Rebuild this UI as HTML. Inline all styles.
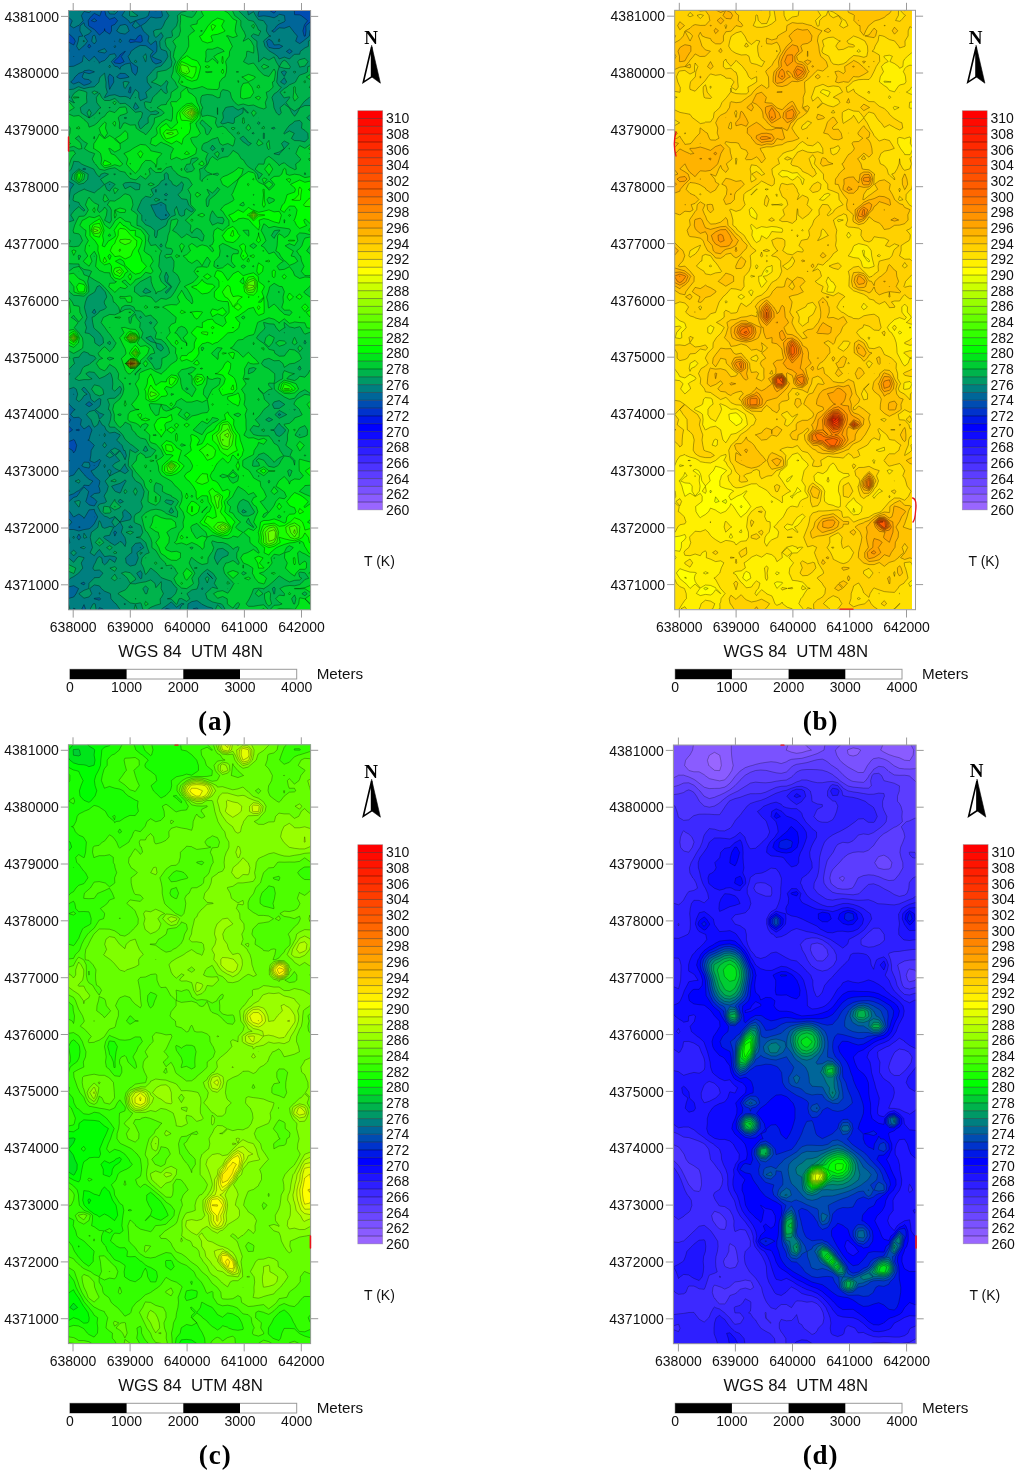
<!DOCTYPE html>
<html lang="en"><head><meta charset="utf-8"><title>Temperature maps</title>
<style>html,body{margin:0;padding:0;background:#fff}svg{display:block}text{font-family:"Liberation Sans",Arial,sans-serif;font-size:14px;fill:#111}.sf{font-family:"Liberation Serif","Times New Roman",serif;font-weight:bold;fill:#000}</style></head><body>
<svg width="1024" height="1472" viewBox="0 0 1024 1472">
<rect width="1024" height="1472" fill="#fff"/>
<!-- panel a -->
<clipPath id="clipa"><rect x="68.6" y="10.5" width="242.0" height="599.3"/></clipPath>
<g clip-path="url(#clipa)" stroke="#000" stroke-width=".45" stroke-opacity="0.8" stroke-linejoin="round" fill-rule="evenodd">
<rect x="68.6" y="10.5" width="242.0" height="599.3" fill="#0019e6" stroke="none"/>
<path fill="#0033cc" d="M325.4 625.2l-5.1 0 -5.2-.2 -5.1 .1 -5.1 0 -5.2 0 -5.1 0 -5.1 0 -5.2-.1 -5.1 0 -5.1 0 -5.2 0 -5.1-.1 -5.2 .1 -5.1 .1 -5.1-.1 -5.2 0 -5.1-.1 -5.1 0 -5.2 0 -5.1 0 -5.1-.1 -5.2-.1 -5.1 0 -5.2 .1 -5.1 0 -5.1 0 -5.2 0 -5.1-.1 -5.1 0 -5.2-.1 -5.1 .1 -5.1 .1 -5.2 0 -5.1 .1 -5.2 0 -5.1-.1 -5.1 0 -5.2-.1 -5.1-.2 -5.1 .2 -5.2-.1 -5.1 .1 -5.1-.1 -5.2-.1 -5.1 .1 -5.2 .1 -5.1 0 -5.1 0 -5.2 0 -5.1 .1 -5.1 0 -5.2 0 -.4-.4 0-5.1 0-5.2 0-5.1 0-5.1 0-5.1 .1-5.1 -.1-5.1 0-5.2 .1-5.1 -.2-5.1 0-5.1 0-5.1 .1-5.1 0-5.1 .2-5.2 .1-5.1 -.1-5.1 -.1-5.1 .2-5.1 -.1-5.1 0-5.2 -.1-5.1 .1-5.1 -.1-5.1 .1-5.1 -.2-5.1 .1-5.1 .1-5.2 0-5.1 0-5.1 0-5.1 0-5.1 .1-5.1 0-5.2 0-5.1 0-5.1 .1-5.1 -.1-5.1 0-5.1 -.1-5.2 .1-5.1 -.1-5.1 -.1-5.1 .1-5.1 0-5.1 -.1-5.1 -.1-5.2 0-5.1 -.1-5.1 0-5.1 0-5.1 0-5.1 .1-5.2 -.1-5.1 0-5.1 -.1-5.1 0-5.1 0-5.1 -.1-5.1 0-5.2 .1-5.1 -.1-5.1 0-5.1 .1-5.1 0-5.1 -.1-5.2 0-5.1 .2-5.1 0-5.1 -.1-5.1 0-5.1 .1-5.2 -.2-5.1 .2-5.1 -.1-5.1 .1-5.1 0-5.1 0-5.1 0-5.2 0-5.1 0-5.1 0-5.1 .1-5.1 .1-5.1 0-5.2 0-5.1 -.1-5.1 0-5.1 0-5.1 0-5.1 0-5.1 0-5.2 -.1-5.1 -.2-5.1 0-5.1 0-5.1 .1-5.1 0-5.2 0-5.1 .1-5.1 .1-5.1 0-5.1 -.1-5.1 0-5.2 .1-5.1 .2-5.1 0-5.1 0-5.1 0-5.1 0-5.1 0-5.2 -.1-5.1 0-5.1 0-5.1 .1-5.1 0-5.1 0-5.2 -.1-5.1 0-5.1 0-5.1 0-5.1 0-5.1 .3-.4 5.2 0 5.1 0 5.1 .1 5.2 0 5.1 0 5.1 .1 5.2 .1 5.1-.1 5.2 .1 5.1-.3 5.1 0 5.2 0 5.1 0 5.1 .1 5.2 0 5.1 0 5.1 .1 5.2-.1 5.1 0 5.2 0 5.1 0 5.1-.2 5.2 .1 5.1 .1 5.1-.1 5.2-.2 5.1 0 5.1-.1 5.2 0 5.1 0 5.2 .1 5.1 0 5.1-.1 5.2 .1 5.1 .1 5.1 .1 5.2 0 5.1 0 5.1 .2 5.2 0 5.1 0 5.2-.1 5.1 .1 5.1-.1 5.2 0 5.1 0 5.1 0 5.2 0 5.1 .1 5.1 0 5.2 0 5.1 0 .2 .2 -.2 4.1 -2.4 1 2.4 2.2 .1 2.9 -.1 5.1 .2 5.1 0 5.1 .1 5.2 0 5.1 .2 5.1 0 5.1 -.1 5.1 .1 5.1 0 5.2 .1 5.1 0 5.1 0 5.1 -.1 5.1 .1 5.1 0 5.1 -.1 5.2 0 5.1 0 5.1 0 5.1 0 5.1 .1 5.1 0 5.2 0 5.1 -.1 5.1 0 5.1 .1 5.1 -.1 5.1 .1 5.2 0 5.1 0 5.1 0 5.1 0 5.1 .1 5.1 0 5.1 .1 5.2 0 5.1 .1 5.1 0 5.1 -.1 5.1 0 5.1 0 5.2 -.2 5.1 0 5.1 0 5.1 0 5.1 0 5.1 -.1 5.1 .1 5.2 0 5.1 0 5.1 -.1 5.1 0 5.1 0 5.1 .1 5.2 .1 5.1 -.1 5.1 0 5.1 0 5.1 .1 5.1 -.1 5.2 0 5.1 0 5.1 0 5.1 .1 5.1 -.1 5.1 0 5.1 -.1 5.2 0 5.1 0 5.1 .1 5.1 -.1 5.1 .1 5.1 0 5.2 -.1 5.1 0 5.1 0 5.1 0 5.1 -.1 5.1 .1 5.1 0 5.2 .1 5.1 0 5.1 0 5.1 0 5.1 -.1 5.1 .2 5.2 -.1 5.1 .1 5.1 -.1 5.1 0 5.1 .1 5.1 0 5.2 0 5.1 0 5.1 .1 5.1 0 5.1 0 5.1 .1 5.1 -.1 5.2 .1 5.1 0 5.1 -.1 5.1 .1 5.1 -.1 5.1 -.1 5.2 0 5.1 -.1 5.1 -.1 5.1 0 5.1 .1 5.1 .1 5.1 -.1 5.2 0 5.1 0 5.1 0 5.1 .2 5.1 0 5.1 0 5.2 0 5.1z"/>
<path fill="#004cb2" d="M325.4 625.1l-5.1 0 -5.2-.1 -5.1 0 -5.1 0 -5.2 .1 -5.1-.1 -5.1 0 -5.2-.1 -5.1 0 -5.1 0 -5.2 0 -5.1-.1 -5.2 .2 -5.1 0 -5.1-.1 -5.2 0 -5.1 0 -5.1-.1 -5.2 0 -5.1 0 -5.1-.1 -5.2-.1 -5.1 0 -5.2 .1 -5.1 0 -5.1 0 -5.2 0 -5.1-.1 -5.1 0 -5.2-.1 -5.1 .1 -5.1 .1 -5.2 0 -5.1 .1 -5.2 0 -5.1 0 -5.1-.1 -5.2-.1 -5.1-.2 -5.1 .2 -5.2-.1 -5.1 .1 -5.1-.1 -4.7-.1 -.5-.5 -.4 .5 -4.7 .1 -5.2 .2 -5.1-.1 -5.1 .1 -5.2-.1 -5.1 .1 -5.1 0 -5.2 0 -.3-.3 0-5.1 0-5.2 0-5.1 0-5.1 0-5.1 .1-5.1 -.1-5.1 0-5.2 .1-5.1 -.2-5.1 0-5.1 0-5.1 .1-5.1 0-5.1 .2-5.2 .1-5.1 -.1-5.1 -.1-5.1 .2-5.1 -.1-5.1 0-5.2 -.1-5.1 .1-5.1 -.1-5.1 0-5.1 -.1-5.1 .1-5.1 .1-5.2 0-5.1 0-5.1 0-5.1 0-5.1 .1-5.1 0-5.2 0-5.1 0-1.6 5.2-1.4 1.1-2.1 -1.1-2.5 -3.1-2.6 -2.1-2.1 0-3 0-5.1 -.1-5.2 .1-5.1 -.1-5.1 -.1-5.1 .1-5.1 0-5.1 -.1-5.1 -.1-5.2 0-5.1 -.1-5.1 0-5.1 0-5.1 0-5.1 .1-5.2 -.1-5.1 0-5.1 -.1-5.1 0-5.1 0-5.1 -.1-5.1 0-5.2 .1-5.1 -.1-5.1 0-5.1 .1-5.1 0-5.1 -.1-5.2 0-5.1 .2-5.1 0-5.1 -.1-5.1 0-5.1 .1-5.2 -.2-5.1 .2-5.1 -.1-5.1 .1-5.1 0-5.1 0-5.1 0-5.2 0-5.1 0-5.1 0-5.1 .1-5.1 .1-5.1 0-5.2 0-5.1 -.1-5.1 0-5.1 0-5.1 0-5.1 -.1-5.1 .1-5.2 -.1-5.1 -.2-5.1 0-5.1 0-5.1 0-5.1 .1-5.2 0-5.1 .1-5.1 .1-5.1 0-5.1 -.1-5.1 0-5.2 .1-5.1 .2-5.1 0-5.1 0-5.1 0-5.1 0-5.1 -.1-5.2 0-5.1 0-5.1 0-5.1 .1-5.1 0-5.1 -.1-5.2 0-5.1 0-5.1 0-5.1 0-5.1 0-5.1 .2-.3 5.2 0 5.1 0 5.1 .1 5.2 0 5.1 0 5.1 .1 2.6 .1 2.6 2.5 3.6-2.5 1.5-.1 5.2 .1 5.1-.3 5.1 0 5.2 0 5.1 0 5.1 .1 5.2 0 5.1 0 5.1 .1 5.2-.1 5.1 0 5.2 0 5.1 0 5.1-.2 5.2 .1 5.1 .1 5.1-.1 5.2-.2 5.1 0 5.1-.1 5.2 0 5.1 0 5.2 .1 5.1 0 5.1-.1 5.2 .1 5.1 .1 5.1 .1 5.2 0 5.1 0 5.1 .2 5.2 0 5.1 0 5.2-.1 5.1 .1 5.1-.1 5.2 0 5.1 0 5.1 0 5.2 0 5.1 .1 5.1 0 5.2 0 5.1 0 .1 .1 -.1 1.7 -5.1 1 -5.2 .9 -2.8 1.5 .6 5.1 -.6 5.1 2.8 1.2 4.6 3.9 .6 1 1.1-1 4-2.1 .1 2.1 0 5.1 .1 5.2 0 5.1 .2 5.1 0 5.1 -.1 5.1 .1 5.1 0 5.2 .1 5.1 0 5.1 0 5.1 -.1 5.1 .1 5.1 0 5.1 -.1 5.2 0 5.1 0 5.1 0 5.1 0 5.1 .1 5.1 0 5.2 0 5.1 -.1 5.1 0 5.1 .1 5.1 0 5.1 0 5.2 0 5.1 0 5.1 0 5.1 0 5.1 .1 5.1 0 5.1 .1 5.2 .1 5.1 0 5.1 .1 5.1 -.2 5.1 0 5.1 0 5.2 -.2 5.1 0 5.1 0 5.1 0 5.1 0 5.1 0 5.1 0 5.2 0 5.1 0 5.1 -.1 5.1 0 5.1 .1 5.1 0 5.2 .1 5.1 -.1 5.1 0 5.1 0 5.1 .1 5.1 -.1 5.2 0 5.1 0 5.1 0 5.1 .1 5.1 -.1 5.1 0 5.1 -.1 5.2 0 5.1 0 5.1 .1 5.1 -.1 5.1 .1 5.1 0 5.2 -.1 5.1 0 5.1 0 5.1 0 5.1 0 5.1 0 5.1 .1 5.2 0 5.1 0 5.1 0 5.1 0 5.1 -.1 5.1 .2 5.2 0 5.1 .1 5.1 -.1 5.1 0 5.1 0 5.1 0 5.2 0 5.1 .1 5.1 0 5.1 0 5.1 0 5.1 .1 5.1 -.1 5.2 .1 5.1 0 5.1 0 5.1 0 5.1 -.1 5.1 -.1 5.2 0 5.1 -.1 5.1 -.1 5.1 0 5.1 .1 5.1 .1 5.1 -.1 5.2 0 5.1 0 5.1 0 5.1 .2 5.1 0 5.1 .1 5.2 -.1 5.1zM304.9 10.5l-.2 0 .2 0z"/>
<path fill="#006699" d="M325.4 625l-5.1 0 -5.2-.1 -5.1 0 -5.1 0 -5.2 .1 -5.1-.1 -5.1 0 -5.2-.1 -5.1 0 -5.1 0 -5.2 0 -5.1-.1 -5.2 .2 -5.1 0 -5.1-.1 -5.2 0 -5.1 0 -5.1-.1 -5.2 0 -5.1 0 -5.1 0 -5.2-.2 -5.1 0 -5.2 .1 -5.1 0 -5.1 0 -5.2 0 -5.1-.1 -5.1 0 -5.2-.1 -5.1 .1 -5.1 .1 -5.2 0 -5.1 .1 -5.2 0 -5.1 0 -5.1-.1 -5.2-.1 -4.3-.1 -.8-1.1 -1 1.1 -4.1 .1 -5.2-.1 -5.1 .1 -5.1-.1 -.3 0 -4.9-4.6 -4.1 4.6 -1 0 -5.2 .2 -5.1 0 -5.1 0 -5.2-.1 -5.1 .1 -5.1 0 -5.2 0 -.2-.2 0-5.1 0-5.2 0-5.1 0-5.1 0-5.1 0-5.1 0-5.1 0-5.2 .1-5.1 -.2-5.1 0-5.1 0-5.1 .1-5.1 0-5.1 .2-5.2 0-2.4 1.6-2.7 -1.4-5.1 -.2-.2 -.1-4.9 .1-3.6 1-1.5 -1-2.1 0-3 0-5.2 -.1-5.1 .1-5.1 -.1-5.1 0-5.1 -.1-5.1 .1-5.1 .1-5.2 0-3.9 1.1-1.2 -1.1-1.6 0-3.5 0-4.5 .2-.6 .3-5.1 2.4-5.1 2.3-3.4 2.2-1.8 2.9-2.3 3.8 2.3 1.3 2.5 1.8-2.5 1.2-5.1 -2.1-5.1 -.9-.7 -1.3 .7 -3.8 1.4 -.8-1.4 -1.3-5.1 2.1-2.5 4-2.6 -4-4.1 -4.4-1 4.4-1.1 2-4.1 -2-1.9 -5.1-2.2 -2.6-1 -2.6-2 0-3.1 -.1-5.1 .1-5.1 0-5.1 -.1-5.1 -.1-5.2 0-5.1 -.1-5.1 0-5.1 -.1-5.1 .1-5.1 0-5.2 0-5.1 0-5.1 -.1-5.1 0-5.1 -.1-5.1 0-5.1 0-5.2 0-5.1 0-5.1 0-5.1 0-5.1 .1-5.1 -.1-5.2 0-5.1 .2-5.1 0-5.1 -.1-5.1 0-5.1 .1-5.2 -.2-5.1 .2-5.1 -.1-5.1 .1-5.1 0-5.1 0-5.1 0-5.2 0-5.1 0-5.1 -.1-5.1 .2-5.1 .1-5.1 0-5.2 0-5.1 -.1-5.1 0-5.1 0-5.1 0-5.1 -.1-5.1 .1-5.2 -.1-5.1 -.2-5.1 0-5.1 0-5.1 0-5.1 .1-5.2 0-5.1 .1-5.1 0-5.1 0-5.1 0-5.1 0-5.2 .1-5.1 .2-5.1 0-5.1 0-5.1 0-5.1 0-5.1 -.1-5.2 0-5.1 0-5.1 0-5.1 .1-5.1 0-5.1 -.1-5.2 0-5.1 0-5.1 0-5.1 0-5.1 0-5.1 .1-.2 5.2 0 5.1 0 5.1 .1 5.2 0 5.1 0 1.8 .1 -1.8 5 0 .1 .1 0 5-1.5 1.6 1.5 3.6 2.6 5.1 0 2.3 2.5 -1.7 5.1 -.6 .5 -.4-.5 -4.7-2.2 -2.4 2.2 -2.8 3.4 -.9 1.7 .5 5.1 .4 .4 5.2 3.2 1.5 1.6 3.6 4.1 4.9-4.1 .3-2.4 .4 2.4 4.7 3.1 1.8-3.1 0-5.2 3.3-1.4 2.8-3.7 -2.8-3.2 -5.1 1.8 -3.8-3.7 -1.1-5.1 -.2-5.1 1.8-5.1 3.3-.2 5.1 0 5.2 0 5.1 0 5.1 0 5.2 .1 5.1 0 4.7 .1 .4 .1 .3-.1 4.9-.1 5.1 0 5.2 0 5.1 0 5.1-.2 5.2 .1 5.1 .1 5.1-.1 5.2-.2 5.1-.1 5.1 0 5.2-.1 5.1 .1 5.2 .1 5.1 0 5.1-.1 5.2 .1 5.1 .1 5.1 0 5.2 0 5.1 .1 5.1 .2 1.6 0 3.6 1.4 5.1 .7 2.6-2.1 2.6-.1 4.7 .1 -.1 5.1 -4.6 .5 -4.5 4.6 4.5 2.7 2.3-2.7 2.8-5.1 .1-5.1 5-.1 5.2-.1 5.1 .1 5.1 0 5.2 0 3.1 .1 -3.1 3.7 -5.2-.4 -3.3 1.8 -1.8 4.6 -.3 .5 .3 4.2 5.1 .2 1.6 .7 3.6 2.8 2.7 2.3 -2.7 3.5 -.7 1.6 -1.3 5.2 1.3 5.1 .7 .3 .4-.3 .7-5.1 -.2-5.2 4.2-3.6 2.3-1.5 2.8-.8 1 .8 3.4 5.1 .8 1.2 5.1 .8 .1 3.2 0 5.1 .2 5.1 0 5.1 -.1 5.1 .1 5.1 0 5.2 .1 5.1 0 5.1 0 5.1 0 5.1 0 5.1 0 5.1 -.1 5.2 0 5.1 .1 5.1 -.1 5.1 0 5.1 .1 5.1 0 5.2 0 5.1 -.1 5.1 0 5.1 .1 5.1 0 5.1 0 5.2 0 5.1 0 5.1 0 5.1 0 5.1 .1 5.1 0 5.1 .1 5.2 .1 5.1 0 5.1 .1 5.1 -.2 5.1 0 5.1 0 5.2 -.1 5.1 0 5.1 -.1 5.1 0 5.1 0 5.1 0 5.1 0 5.2 0 5.1 0 5.1 -.1 5.1 0 5.1 .1 5.1 .1 5.2 0 5.1 -.1 5.1 0 5.1 0 5.1 .1 5.1 -.1 5.2 0 5.1 0 5.1 0 5.1 .1 5.1 -.1 5.1 0 5.1 -.1 5.2 0 5.1 0 5.1 .1 5.1 -.1 5.1 .1 5.1 0 5.2 -.1 5.1 0 5.1 0 5.1 0 5.1 0 5.1 0 5.1 .1 5.2 0 5.1 0 5.1 0 5.1 0 5.1 -.1 5.1 .2 5.2 0 5.1 .1 5.1 -.1 5.1 0 5.1 0 5.1 0 5.2 0 5.1 .1 5.1 0 5.1 0 5.1 0 5.1 .1 5.1 -.1 5.2 .1 5.1 0 5.1 0 5.1 0 5.1 0 5.1 -.2 5.2 0 5.1 -.1 5.1 -.1 5.1 0 5.1 .1 5.1 .1 5.1 -.1 5.2 0 5.1 0 5.1 0 5.1 .2 5.1 .1 5.1 0 5.2 0 5.1zM94.3 21.8l-2.9-1.1 2.9-2.1 2.5 2.1zM75.3 41.2l-1.6-3.1 -2.4-2 -2.7-2.8 -5.1-2.3 .5-5.2 -.5-.8 -.6 .8 .5 5.2 .1 .3 .9 4.8 2.6 5.1 1.6 .9 5.1 2.9zM142.4 41.2l-.7-5.1 -1.2-1.2 -2.2 1.2 -2.9 4 -5.2-.9 -1.2 2 1.2 1.5 5.2-.9 5.1 .5zM114.9 41.2l-.1-.1 -.4 .1 .4 .1zM91 46.3l-1.9-2.1 -1.3 2.1 1.3 1.8zM124.2 61.7l-3-5.2 3.9-4.8 .3-.3 -.3-.3 -.4 .3 -4.7 3.4 -.8 1.7 -4.4 4 -1 1.2 1 1.3 5.2 .6zM68.8 409.5l-.2-.2 -.4 .2 .4 .3zM79.6 430l-.7-.8 -3 .8 3 .8zM69.9 460.7l-1.3-.2 -.2 .2 .2 .3zM94.5 465.8l-.2-.2 -.2 .2 .2 .2zM94.3 516.9l-.2 0 .2 .1zM80.2 527.2l-1.3-.5 -.4 .5 .4 .2z"/>
<path fill="#007f80" d="M73.7 27.9l-3.5-2.1 2.1-5.1 -3.7-3.4 -5.1 .3 -2.3 3.1 -2.9 4.1 0-4.1 0-5.1 0-5.1 0-5.1 0-5.1 0-.1 5.2 0 5.1 0 3.7 .1 -3.7 3 -1.9 2.1 1.9 2.6 1.4-2.6 3.7-4.2 4.7-.9 .5 0 .1 0 1.9 5.1 3.1 4.7 5.1-1.4 2.4 1.8 -2.4 2.1 -5.1-1.1 -2.6 4.1 1.8 5.1 -4.3 4.7 -1.3 .4zM130.2 23.2l-1.5-2.5 -3.6-2.9 -3.2-2.2 3.2-5 0-.1 -5.1-4.5 -1.5 4.5 -3.7 3.6 -5.1-.2 -2.1-3.4 1.8-5.1 -1-5.1 1.3-.1 5.1 0 5.2 0 5.1 0 5.1 0 4.6 .1 .6 .5 2.2 4.6 2.9 2.3 3-2.3 2.1-1.1 5.2-.9 4.7 2 -4.7 4.2 -1.1 .9 -1.4 5.1 -2.7 2 -5.1 1.4 -5.1 1.7zM325.4 624.9l-5.1 .1 -5.2-.2 -5.1 0 -5.1 0 -5.2 .1 -5.1-.1 -5.1 .1 -5.2-.2 -5.1 0 -5.1 0 -5.2 0 -5.1 0 -5.2 .1 -5.1 0 -5.1-.1 -5.2 0 -5.1 0 -5.1 0 -5.2-.1 -5.1 0 -5.1 0 -5.2-.2 -5.1 0 -5.2 .1 -5.1 0 -5.1 .1 -5.2-.1 -5.1-.1 -5.1 0 -2.4 0 -2-5.1 4.4-5.1 0-.1 0-.1 -5.2-3.7 -2.2-1.3 -2.9-.6 -.9 .6 .3 5.1 0 5.2 .6 .8 2.9 4.3 -2.9 0 -5.1 .1 -5.2 0 -5.1 .1 -5.2 0 -5.1 0 -5.1-.1 -5.2-.1 -1.4 0 -3.7-4.6 -1.7-.5 -3.4-2.3 -4.2-2.9 -1-.7 -.9 .7 -.3 5.2 -.3 5.1 -3.6 0 -1.7 0 -2.7-5.1 -.7-3.2 -.3-2 -1.1-5.1 -3.8-1.3 -.6 1.3 -1.8 5.1 -2.2 5.2 -.5 .5 -2.2 4.6 -3 .1 -5.1 0 -5.1 0 -5.2-.1 -5.1 .1 -5.1 0 -5.2 0 -.1-.1 0-5.1 0-5.2 0-5.1 -.1-5.1 .1-5.1 0-5.1 0-5.1 0-5.2 .1-5.1 -.2-5.1 0-5.1 0-5.1 .1-5.1 0-5.1 .1-3.6 5.2-1.1 2.8-.5 2.3-3.5 1.2-1.6 -1.1-5.1 -.1-.5 -.2 .5 -3.8 5.1 -1.1 .5 -.1-.5 -1.9-5.1 -3.2-4.4 0-.7 0-.5 3-4.6 2.2-3.9 4.2 3.9 .9 2.3 5.1 0 5.2 1.5 5.1-1.4 5.1-.8 2.2-1.6 3-3.5 .8-1.6 2.6-5.2 -2.9-5.1 -.5-2.4 -5.2 .5 -1.1 1.9 -3 5.1 -1 1.5 -.9-1.5 -4.2-2.9 -5 2.9 -.2 .2 -.2-.2 -3.6-5.1 -1.3-1.7 -4.5-3.4 4.5-4.6 .2-.5 4.9-4.2 3.1-.9 2.1-2.9 1.3-2.2 3.8-4.3 4.7 4.3 -1.3 5.1 -1.6 5.1 3.3 3.3 5.2 1.1 2.7-4.4 -2.7-3 -3.7-2.1 3.7-2.9 5.1-.7 .7-1.5 -.7-3.5 -.8-1.6 .8-2.2 .5-3 -.5-.7 -5.1-4.4 -3.3-5.1 3.3-1.5 4.1-3.6 1-2.7 1.4-2.4 -1.4-1.5 -1.3 1.5 -3.8 2 -4.4-2 .9-5.1 .4-5.2 3.1-5.1 -5.2-4.9 -1.3-.2 1.3-.7 1.1-4.4 1.8-5.1 -2.9-4.4 -5.1 3.4 -3.5-4.1 .9-5.2 -2.5-2.5 -5.2 .5 -3.2-3.1 3.2-4.2 1.5-.9 -1.5-.5 -4.4-4.6 -.7-1.5 -5.1-2.7 -1.6-.9 1.6-1.9 2.2-3.2 -2.2-2 -5.2-.4 0-2.7 -.1-5.2 0-5.1 -.1-5.1 -.1-5.1 0-5.1 .1-5.1 0-5.2 0-5.1 0-5.1 -.1-5.1 0-5.1 -.1-5.1 0-5.1 0-5.2 0-5.1 0-5.1 0-5.1 0-5.1 0-5.1 0-5.2 0-5.1 .2-5.1 0-5.1 -.1-5.1 0-5.1 .1-5.2 -.2-5.1 .2-5.1 -.1-5.1 .1-5.1 0-5.1 0-5.1 0-5.2 0-5.1 0-5.1 -.1-5.1 .2-5.1 .1-5.1 0-5.2 0-5.1 -.1-5.1 0-5.1 0-5.1 0-5.1 -.1-5.1 .1-5.2 -.1-5.1 -.2-5.1 0-5.1 0-5.1 0-5.1 0-5.2 .1-5.1 .1-5.1 0-5.1 0-5.1 0-5.1 0-5.2 .1-5.1 .1-4.4 1.6-.7 .5-5.1 3.1-4.7 .7-.4 -.7-.5 -3.1-4.6 3.1-2.2 5.1 2 5.1-.4 5.2-2.5 3.4-2 .9-5.2 .8-1.1 .6 1.1 4.5 4.6 5-4.6 .2-.4 .2 .4 4.4 5.2 .5 1.6 1.4-1.6 3.8-1.2 3.8-4 1.3-1.9 5.1-.9 1.5 2.8 -1.5 1.4 -3.5 3.8 3.5 4.6 2.9 .5 2.3 2.5 .6-2.5 4.5-2.7 5.1-1.1 .9 3.8 1 5.1 3.3 3.5 1.9-3.5 .3-5.1 -2.2-1.2 -5.1-3.9 -.1-.7 -2.1-4.5 2.1-2.9 .7-2.2 4.5-3.4 3-1.7 2.1-.9 5.1 .3 1.1 .6 4.1 3.1 2.5 2 -2.5 3 -.4 2.1 .4 1.1 1.8 4.1 3.3 2.3 5.2-1.6 .5-.7 -.5-1.2 -5.2-1.8 -4.2-2.2 4.2-3.9 .8-1.2 .3-5.1 -.8-5.1 -.3-.3 -.8 .3 -4.3 3.5 -2.9-3.5 1-5.1 -3.3-2.9 -2.1-2.2 -2.7-5.2 4.8-3 1.9-2.1 3.3-3.7 5.1 1 5.2-.5 1.4-1.9 -1-5.1 -.4-.7 -5-4.4 5-3.6 3.8-1.5 1.3 0 5.1-.2 5.2 .1 5.1 .1 5.1-.2 5.2-.1 5.1-.1 5.1 0 5.2-.1 5.1 .1 5.2 .1 5.1 0 5.1-.1 5.2 .1 5.1 .1 5.1 0 5.2 0 5.1 .1 1.4 .1 -1.4 3.8 -.3 1.3 .3 .7 5.1 3.3 1.3 1.1 -1.3 1.6 -.6 3.5 .6 .9 5.2-.7 5.1 .7 5.2 1.3 3.9-2.2 1.2-1.4 5.1 1.2 .2 .2 .6 5.1 -.8 1.1 -5.1 2.2 -2.4 1.8 -2.7 3.7 -2.4 1.5 2.4 1.3 1.2-1.3 3.9-3.2 5.1 .4 5.2-1.9 3.6 4.7 1.5 1.9 2.8 3.2 -1.7 5.1 4 2.4 3.4-2.4 1.8-1.5 4.5-3.6 .5-5.1 .1-.3 2.2-4.9 2.9-2.3 1.7 2.3 3.5 5.1 .4 .1 4.7 3.9 0 1.2 .2 5.1 0 5.1 -.1 5.1 .1 5.1 .1 5.2 .1 5.1 -.1 5.1 0 5.1 0 5.1 0 5.1 0 5.1 -.1 5.2 0 5.1 .1 5.1 -.1 5.1 .1 5.1 0 5.1 .1 5.2 -.1 5.1 0 5.1 -.1 5.1 .1 5.1 0 5.1 0 5.2 0 5.1 0 5.1 0 5.1 0 5.1 .1 5.1 0 5.1 .1 5.2 .1 5.1 0 5.1 .1 5.1 -.1 5.1 0 5.1 -.1 5.2 -.1 5.1 0 5.1 -.1 5.1 0 5.1 0 5.1 0 5.1 0 5.2 0 5.1 0 5.1 0 5.1 -.1 5.1 .1 5.1 .1 5.2 0 5.1 -.1 5.1 0 5.1 0 5.1 .1 5.1 -.1 5.2 0 5.1 0 5.1 .1 5.1 0 5.1 -.1 5.1 0 5.1 -.1 5.2 0 5.1 0 5.1 .1 5.1 0 5.1 .1 5.1 -.1 5.2 -.1 5.1 0 5.1 0 5.1 0 5.1 0 5.1 0 5.1 .1 5.2 0 5.1 0 5.1 .1 5.1 -.1 5.1 -.1 5.1 .2 5.2 0 5.1 .1 5.1 -.1 5.1 0 5.1 0 5.1 0 5.2 .1 5.1 0 5.1 0 5.1 0 5.1 0 5.1 .1 5.1 0 5.2 .1 5.1 -.1 5.1 0 5.1 0 5.1 0 5.1 -.2 5.2 0 5.1 -.1 5.1 -.1 5.1 .1 5.1 0 5.1 .1 5.1 -.1 5.2 .1 5.1 -.1 5.1 0 5.1 .2 5.1 .1 5.1 0 5.2 0 5.1zM155.9 10.8l-2.3-.3 2.3-3.3 1.3 3.3zM78.9 50.2l-2.3-3.9 1.6-5.1 .7-4.7 3.9-.4 -2.9-5.1 .2-5.2 3.9-3.1 .8 3.1 4.3 3.7 2.3 1.5 -2.3 2.8 -5 2.3 3.5 5.1 -3.6 4.6 -.9 .5zM125.1 34.1l-5.1-.9 -3.4-2.2 3.2-5.2 .2-.4 5.1-1 2.2 1.4 1.9 5.2zM135.4 28.4l-3.1-2.6 3.1-5.1 4.8 5.1zM94.3 44l-2.6-2.8 1-5.1 1.6-1.1 .9 1.1 1.2 5.1zM120 42.6l-1-1.4 1-2.4 1.7 2.4zM282.7 46.3l-3.5-1.7 -5.1 .4 -2-3.8 -3.2-2.1 -2.3 2.1 1.4 5.1 .9 1.1 5.2 1.2 5.1-.1zM114.8 47.8l-.7-1.5 .7-.7 1.1 .7zM63.5 58.7l-3.8-2.2 -1.4-1.8 0-3.3 0-4.5 5.2 2 5.1-.2 .5 2.7 -.5 .4 -3.1 4.7zM104.6 53l-5.2-.9 -1.5-.7 1.5-.8 5.2-2 2.2 2.8zM292.3 51.4l-2.8-2.2 -3.1 2.2 3.1 2.1zM73.7 56.8l-.2-.3 .2-.2 .2 .2zM91.5 82.1l-2.4-2.4 -5.1-.8 -1.9-1.9 1.9-4.7 5.1 1.4 5.2-1.7 .2-.1 -.2-.2 -5.2-1.7 -5.1 .8 -.6 1.1 -4.5 1.4 -4 3.7 -1.2 2 -3 3.1 3 1.9 4.9-1.9 .3-.1 .1 .1 5 3.3 5.1-1.6zM110.7 87.2l3.1-5.1 -.3-5.1 -3.8-3 -1.6 3 .5 5.1 .6 5.1 .5 2.2zM129.1 77l-4-3.5 -5.1-.2 -3.4 3.7 3.4 1.7 5.1-.7zM130.7 92.3l.2-5.1 -.7-.4 -.3 .4 -1.4 5.1 1.7 .8zM161.3 204.9l-.2-.2 -.3 .2 .3 .4zM166.7 215.1l-.5-.7 -1.2 .7 1.2 .6zM73.8 394.2l-.1-.2 -.3 .2 .3 .2zM92.6 404.4l-3.5-2.8 -3.5 2.8 3.5 2.3zM99.5 435.1l-.1-.2 -.3 .2 .3 .2zM89.1 468.1l-5.1-1 -2.2-1.3 2.2-3.7 5.1 .3 .9 3.4zM73.7 493.7l-5.1 1.8 -5.1 0 -5.2 .6 -.1-4.7 .1-4.8 1.7-.3 3.5-1 4-4.2 1.1-3.9 1.6-1.2 3.5-1 2.9-4.1 2.3-3 2.1 3 3 3.4 1.3 1.7 3.8 3.3 3.8 1.8 -3.8 4.5 -5.1-.5 -.5 1.2 -4.6 4.3 -2 .8zM68.6 526.1l-3.7-4 3.7-3.5 3.3 3.5zM116.6 532.3l-1.8-1.4 -1 1.4 1 3.8zM80.8 537.4l-1.9-3.4 -1.9 3.4 1.9 2.7zM140.6 547.6l-.1-.2 -.6 .2 .6 .1zM84.8 583.4l-.8-1.3 -3.2 1.3 3.2 1.5zM76.1 593.7l2.5-5.1 -4.9-2.9 -5.1 1.2 -.7 1.7 -.8 5.1 1.5 4.7 5.1-1.4zM100.7 598.8l-1.3-1 -5.1 .5 -.2 .5 .2 .1 5.1 1.3zM75.3 609l-1.6-.9 -.6 .9 .6 .6zM85.5 609l-1.5-4.4 -2.2 4.4 2.2 2.1zM198.2 609l-1.2-1.1 -4.1 1.1 4.1 .7z"/>
<path fill="#009966" d="M325.4 624.8l-5.1 .1 -5.2-.2 -5.1 .1 -5.1 0 -5.2 0 -5.1 0 -5.1 0 -5.2-.2 -5.1 0 -5.1 0 -5.2 0 -5.1 0 -5.2 .1 -5.1 0 -5.1 0 -5.2 0 -5.1-.1 -5.1 0 -5.2-.1 -5.1 0 -5.1 0 -3.5-.1 -1.7-2.9 -5.1-.3 -2.3 3.2 -2.9 0 -5.1 0 -5.1 .1 -5.2-.1 -1.7 0 -3.1-5.1 4.8-4.3 1-.9 4.2-1.7 5.1 .6 5.1-2.7 4.1 3.8 1.1 2.5 2.7-2.5 2.4-3 .4-2.1 -.4-.9 -5.1-1.3 -5.2-2.5 -.4-.4 -4.7-3.3 -5.1 1 -3.9 2.3 -.4 5.1 -.9 3.2 -5.1-1 -1.8-2.2 1.8-3.8 2.5-1.3 -2.5-.6 -.5 .6 -4.6 3.4 -3.2-3.4 -2-2 -2.5 2 -2.6 2 -4.6 3.1 .2 5.1 -.2 5.2 3 5.1 -3.5 0 -5.2 0 -5.1 .1 -5.2 0 -5.1 0 -5.1-.1 -3.1 0 -1.2-5.1 -.9-.6 -5.1-4.1 -.5-.5 -4.6-4.8 -.3-.3 -3.6-5.1 -1.3-.8 -3.8-4.3 -.6-5.1 -.7-.4 -5.1-2.1 -3.2-2.6 -2-2.7 -5.1-1 -4.6 3.7 2 5.1 -2.6 3.2 -5.1 1.3 -5.1-4.4 -.1-.1 .1-.1 5.1-3.3 4.7-1.7 .3-5.2 .1-.2 4.9-4.9 .3-.6 5.1-.2 3.6-4.3 -3.6-3.2 -5.1 .4 -1.5-2.3 1.5-3.7 .9-1.4 2.2-5.1 2-1.3 2.4 1.3 .8 5.1 2 1.8 2.3-1.8 2.8-4.1 5.1 3.5 1.9-4.5 -1.9-1.3 -5.1-.8 -5.1 .8 -2.8-3.8 -2.4-3.4 -3 3.4 -2.1 2.9 -4.2-2.9 2.4-5.2 -1.2-5.1 -1.1-5.1 1.2-5.1 2.9-2.2 3.6-2.9 .9-5.1 .6-1.4 1.1 1.4 1.7 5.1 2.4 1.1 3.4-1.1 1.7-.8 4 .8 -2.8 5.1 -1.2 3 -5.1 .8 -1 1.3 1 1.1 5.1 3.5 .3 .5 4.8 2.9 4.2-2.9 1-1.1 2.2 1.1 2.9 4 .9-4 -.9-4.4 -.3-.7 -3.5-5.1 1.5-5.1 -2.6-5.1 4.9-1.2 5.1-1.1 1.3-2.9 -1.3-2.9 -2.8-2.2 -2.3-2.3 -2.5 2.3 .5 5.1 -3.1 5.1 -4.8-5.1 -.4-.4 -.9 .4 -4.2 1.6 -2.5-1.6 -2.6-.7 -4.4-4.4 -.8-2 -1.7-3.1 1.7-2.6 5.2-1.2 1.9-1.3 -1.9-4.6 -.4-.5 .4-1.5 2.3-3.6 1.4-5.1 -3.2-5.2 4.6-5 .1-.1 5-2.7 5.2-2.4 5.1 2.8 3.4-2.8 -3.2-5.1 -.2-2.1 -1.4 2.1 -3.7 5.1 -5.2-2.6 -2.3-2.5 2.3-2.5 5-2.6 -4.4-5.1 4.6-4.8 3.2 4.8 1.9 4.2 1.3-4.2 -1.3-5 -1.3-.2 -1.8-5.1 -2-2 -3.4-3.1 3.4-4.5 .2-.6 -.2-.3 -5.2-2.6 -5.1 .8 -3.6-3 -1.5-3.7 -2.4-1.4 -2.8-4.8 -1.7 4.8 -3.4 2.3 -1.4-2.3 -1.9-5.2 -1.9-1.9 -2.7-3.2 2.7-2.9 5.2-1.5 3.8 4.4 1.3 4.7 4.5-4.7 -4.5-1.8 -4.1-3.3 4.1-3 1-2.1 .5-5.1 -1.5-.8 -1.5 .8 -3.6 2.8 -3.4-2.8 -1.1-5.1 -.7-1 -3.2-4.1 -1.9-2 -2.3 2 2.3 3 3.2 2.1 -3.2 1.5 -2.3 3.6 -2.8 2.4 -2.8-2.4 1.6-5.1 -1.5-5.1 -2.5-1.7 -4.9 1.7 -.2 .1 -.1-.1 -5-3.3 -5.2-.5 0-1.4 0-5.1 -.1-5.1 -.1-5.1 0-5.1 .1-5.1 0-5.2 0-5.1 0-5.1 -.1-5.1 0-5.1 -.1-5.1 -.1-5.1 .1-5.2 0-5.1 0-5.1 -.1-5.1 .1-5.1 0-5.1 0-5.2 0-5.1 .2-5.1 0-5.1 -.1-5.1 0-5.1 0-5.2 -.1-5.1 .1-5.1 0-5.1 0-5.1 .1-5.1 0-5.1 0-5.2 0-5.1 0-5.1 -.1-5.1 .2-5.1 0-1.3 1.2 1.3 4 1.1 5.1-.6 .5-.5 .5-5.1 .7-5.2 3.4-4.9 .2-.2 -.2-.1 -5.1-3.1 -4.9-1.9 .3-5.1 -.5-.2 -.4 .2 -.4 5.1 -4.4 1.9 0-1.9 0-5.1 -.1-5.1 .1-5.1 -.1-5.1 .1-5.2 -.1-5.1 -.2-5.1 0-5.1 0-5.1 0-5.1 0-5.2 .1-5.1 .1-5.1 0-5.1 0-5.1 0-5.1 0-5.2 .1-5.1 0-1.9 5.2-1.7 3.8 3.6 1.3 2.5 5.1-.6 3.6-1.9 1.6-.6 1 .6 4.1 1.4 5.1-1.2 1.5-.2 3.7-.4 4.6-4.7 .5-3.1 .8-2 4.4-3.9 .5 3.9 .9 5.1 -.1 5.1 1.4 5.1 -2.7 4.8 -.2 .4 .2 .2 .5-.2 4.6-2.1 5.1-.7 5.2 2 5.1-.3 3.3 1.1 1.8 1.6 .5-1.6 3-5.2 1.7-2.8 3.3 2.8 .2 5.2 1.6 3.2 5.1-2.3 1.6-.9 -1.5-5.2 5.1-4.6 .8-.5 -.8-.3 -3.5-4.8 -.3-5.1 3.8-4 .7-1.1 4.4-4.3 2.5-.8 2.7-.8 3.6-4.3 1.5-2.1 1.7-3.1 -1.4-5.1 -.3-.3 -5.1-1.8 -1.1-3 -.2-5.1 1.3-1.8 2.1-3.3 -2.1-3.6 -3.3 3.6 -1.9 1.3 -1.6-1.3 -.8-5.1 2.4-1.3 5.2-.7 2.1-3.2 2.2-5.1 .8-.8 2.8-4.3 -2.8-4.4 -.4-.7 -3.2-5.1 3.6-2.2 3.2-2.9 1.9-.1 5.2 .1 .3 0 -.3 1.3 -.6 3.8 .6 .7 .8-.7 4.3-2.3 3.9-2.8 1.2-.1 5.2-.1 5.1-.1 5.1 0 5.2-.1 5.1 .1 5.2 .1 5.1 0 5.1-.1 5.2 .1 5.1 .1 5.1 0 5.2 0 2 .1 .3 5.1 -2.3 4.7 -.8 .4 .8 4.5 5.1-3.4 2.1 4 3 4.2 4.8 .9 .4 .4 3.2 4.7 -.6 5.2 2.5 4.3 1.9 .8 -1.9 .3 -5.1 4.3 -.4 .5 .4 .6 1.2 4.5 3.9 4.4 1.1 .7 4.1 2.3 3.7 2.8 1.4 2.5 5.1-1.9 5.2 1.9 2.3-2.5 2.8-2.2 5.1-.1 .6-2.8 4.6-3.5 3.5-1.6 0-5.1 1.6-1.2 5.1 0 5.2-1.1 5.1 0 .1 2.3 0 5.1 -.1 3.6 -1.7 1.5 1.7 1.8 .1 3.3 .1 5.2 .1 5.1 -.1 5.1 0 5.1 0 5.1 0 5.1 0 5.1 0 5.2 -.1 5.1 .1 5.1 -.1 5.1 .1 5.1 0 5.1 .1 5.2 -.1 5.1 0 5.1 -.1 5.1 .1 5.1 0 5.1 0 5.2 0 5.1 0 5.1 0 5.1 0 5.1 .2 5.1 -.1 5.1 .1 5.2 .1 5.1 .1 5.1 0 5.1 -.1 5.1 0 5.1 -.1 5.2 -.1 5.1 0 5.1 -.1 5.1 0 5.1 0 5.1 0 5.1 0 5.2 0 5.1 0 5.1 0 5.1 -.1 5.1 .1 5.1 .1 5.2 0 5.1 -.1 5.1 0 5.1 0 5.1 .1 5.1 -.1 5.2 0 5.1 0 5.1 .1 5.1 0 5.1 -.1 5.1 0 5.1 -.1 5.2 0 5.1 0 5.1 .1 5.1 0 5.1 .1 5.1 -.1 5.2 -.1 5.1 0 5.1 0 5.1 0 5.1 0 5.1 0 5.1 .1 5.2 0 5.1 0 5.1 .1 5.1 -.1 5.1 -.1 5.1 .2 5.2 0 5.1 .1 5.1 -.1 5.1 0 5.1 0 5.1 0 5.2 .1 5.1 0 5.1 0 5.1 0 5.1 .1 5.1 0 5.1 0 5.2 .1 5.1 -.1 5.1 0 5.1 0 5.1 0 5.1 -.2 5.2 0 5.1 -.1 5.1 -.1 5.1 .1 5.1 0 5.1 .1 5.1 -.1 5.2 .1 5.1 -.1 5.1 0 5.1 .2 5.1 .1 5.1 0 5.2 0 5.1zM78.9 11.1l-.5-.6 .5-.9 .4 .9zM114.8 11.2l-2.5-.7 2.5-1.9 .8 1.9zM135.4 16.6l-5.2-.4 -.7-.6 .2-5.1 .5-.8 .9 .8 4.3 3.5 2.6 1.6zM279.2 20.8l-.6-.1 .6-.1 .1 .1zM84 42l-1.1-.8 1.1-.9 .6 .9zM279.2 41.6l-1.1-.4 1.1-2.4 .7 2.4zM145.6 61.9l-.2-.2 -2.2-5.2 2.4-2.8 .9 2.8 -.6 5.2zM94.3 61.8l-.1-.1 .1-.1 0 .1zM135.4 62.5l-1.1-.8 1.1-1.6 1.7 1.6zM109.7 67.8l-1-1 1-1.6 .8 1.6zM286.5 71.9l-2.2-1.2 -3.2 1.2 3.2 4.5zM125.1 88.5l-1.1-1.3 -.9-5.1 2-.7 4.1 .7 -3.2 5.1zM286.7 82.1l-2.4-4.5 -3.8 4.5 3.8 2.2zM69.6 97.5l-1-3.2 -3.9 3.2 3.9 1zM138.9 107.7l-3.5-5.1 -2 5.1 2 1.9zM85.9 169.1l-1.9-1 -1.3 1 1.3 .7zM110 184.4l-.3-.1 -.3 .1 .3 .4zM167 184.4l-.8-.8 -1.3 .8 1.3 .9zM156.2 189.5l-.3-.1 -.2 .1 .2 2.8zM167.6 194.7l-1.4-1.5 -1.9 1.5 1.9 1.1zM169.7 215.1l-3.4-5.1 -.1-.7 -.4-4.4 -4.7-2.8 -5.2 2.5 -5.1 .3 2.3 5.1 2.6 5.1 .2 .8 5.2 4 5.1-.9zM145.8 220.2l-.2-.5 -.1 .5 .1 .2zM96 312.3l-1.7-3.1 -2.1 3.1 2.1 1.5zM69.8 373.7l-1.2-.7 -.8 .7 .8 1.9zM280.7 414.6l-1.5-1 -1.1 1 1.1 1zM104.6 436.7l-.7-1.6 .7-1.7 1.1 1.7zM104.6 447.8l-1.9-2.5 1.9-3 1.9 3zM114.8 454.8l-4.3-4.4 4.3-2.4 4.7 2.4zM109.7 457.9l-3.6-2.3 3.6-4.1 4 4.1zM104.6 467.6l-.8-1.8 .8-1.4 .8 1.4zM109.7 475.8l-2.5-4.9 2.5-1.3 1.5 1.3zM78.9 483.2l-3.8-2.1 3.8-1.5 1.2 1.5zM121 491.4l2.1-5.1 2-3.6 1.1-1.6 -1.1-1.3 -1.4 1.3 -3.7 2.3 -5.2 1.6 -3.2 1.3 3.2 4.6 .6 .5 4.6 1.7zM68.6 492l-1.8-.6 1.8-2 1 2zM78.9 507.1l-.5-.4 -3.9-5.1 4.4-1.2 1.5 1.2 -1.2 5.1zM123.4 501.6l-3.4-2.4 -1.8 2.4 1.8 1.7zM114.8 527l-3-4.9 3-4.8 5.1 4.8zM132.6 527.2l-2.4-1.7 -1.6 1.7 1.6 .6zM73.7 538.5l-.9-1.1 .9-1.2 .6 1.2zM84 538.3l-.5-.9 .5-4.2 2.9 4.2zM84 548.9l-3.7-1.3 3.7-1.3 1.3 1.3zM136.4 563l1.9-5.1 -1.5-5.1 3.7-2.8 3.3-2.4 -3.3-4.9 -5.1 .7 -3.6 4.2 0 5.2 -1.6 1 -4.6 4.1 .6 5.1 4 3.1 5.2-1.2zM68.6 580l-5.1 1.8 -2.3-3.5 -2.9-.9 -.1-4.2 0-5.1 0-5.1 .1-5.1 0-5.1 0-1 5.2-1 4 2 -4 4.7 -1.1 .4 1.1 .3 5.1-.2 5.1 4.3 3.3-4.4 1.9-1.6 5.1 1.3 .3 .3 -.3 .3 -2.8 4.8 1.6 5.1 -3.9 4.7 -.3 .4 -4.9 3.4 -3.4 1.7zM73.7 555.9l-3.1-3.1 3.1-2.6 2.8 2.6zM141.7 578.3l.4-5.1 -1.6-2.5 -3.8 2.5 3.3 5.1 .5 .4zM212.6 578.3l-.2-.2 -5-4.9 -.1-.1 -.2 .1 .2 .1 5 5 .1 .4zM120.1 578.3l-.1-.1 -.1 .1 .1 .2zM203.1 588.6l-1-.9 -.5 .9 .5 1.1zM99.4 594l-.4-.3 .4-1.1 .8 1.1zM68.6 624.4l-5.1 .1 -5.2-.1 0-5.1 0-5.2 0-5.1 -.1-5.1 .1-5.1 0-4.2 5.2 .3 2.1 3.9 -2.1 3.4 -1.3 1.7 .2 5.1 1.1 2.7 1.8 2.4 -.1 5.2 3.4 2.4 2.7 2.7zM94.3 613.9l-4.1-4.9 2.8-5.1 1.3-.3 .9 .3 .8 5.1zM125.5 603.9l-.4-.3 -1.2 .3 1.2 .8zM68.6 611.9l-3.5-2.9 3.5-4.3 1.3 4.3z"/>
<path fill="#00b34c" d="M325.4 624.7l-5.1 .1 -5.2-.2 -5.1 .1 -5.1 0 -5.2 0 -5.1 0 -5.1 0 -5.2-.2 -5.1 0 -5.1 .1 -5.2-.1 -5.1 0 -5.2 .1 -5.1 .1 -5.1-.1 -5.2 0 -5.1-.1 -5.1 0 -5.2-.1 -5.1 0 -5.1 0 -.2 0 .2-2 1.5-3.1 -1.5-2.2 -.7-3 -1.3-5.1 2-4.2 4.3 4.2 .8 1.1 2.3-1.1 -2.3-3.8 -1.3-1.3 -3.8-.7 -5.2-1.3 -5.1-2.9 -.1-.2 -1.6-5.1 1.7-1.9 3.7-3.2 1.4-1.4 4.9 1.4 .3 0 .1 0 -.1-.1 -3.3-5.1 2.1-5.1 -3.5-5.1 -.5-.3 -5.1-3.6 -5 3.9 -.2 .2 -3.6 4.9 .4 5.1 -1.7 5.2 -.2 .4 -5.1 .9 -5 3.8 3 5.1 -3.2 2.6 -4.7-2.6 -.4-.3 -2.6 .3 -1.9 5.1 -.6 .5 -.5-.5 -4.7-4.8 -4-.3 4-.8 4.2-4.3 1-2.5 .7-2.6 -.7-.6 -3.9-4.6 -1.3-2.2 -5.1-1.7 -3.3-1.2 -1.8-.7 -3.9-4.4 -1.3-1.2 -5-3.9 -.1-.1 -.2 .1 -3.6 5.1 -1.4 1.3 -.6-1.3 -1.4-5.1 -2.5-5.1 1-5.1 3.5-3.8 3.6-1.3 -1.9-5.2 -1.6-5.1 -.1-.1 -5.1-4.4 -4.2-.6 4.2-.8 2.3-4.3 -1.3-5.1 -1-2.1 -5.1-2.1 -1.2-.9 0-5.2 1.2-2.6 4.4-2.5 .7-.9 2.1-4.2 -1.6-5.1 2.2-5.1 1-5.1 -2.1-5.1 -1.6-2.6 -4.6-2.6 -.5-.5 -3.1-4.6 0-5.1 -2.1-2.7 -1.9-2.4 .1-5.1 1-5.1 .5-5.2 .3-.9 .7 .9 4.5 2.3 3.3-2.3 -3.3-2.6 -3-2.5 -2.2-1.3 -4.2-3.8 -.9-.8 -2.3-4.3 -2.8-3.3 -2.4-1.8 -2.8-2.8 -5.1-.1 -1-2.2 1-2.5 .8-2.7 .7-5.1 -1.5-4.5 -1.4-.6 1.1-5.1 -1.9-5.1 2.2-.9 5.1-.2 4.6-4 .6-.6 1.6-4.5 -1.6-2.9 -3.1 2.9 -2.1 2.1 -2.5-2.1 .5-5.2 -.3-5.1 -1.5-5.1 -1.3-1.1 -1 1.1 -4.1 2.7 -5.2 2.2 -4.1-4.9 -1-1.3 -5.2-.6 -3.3 1.9 3.3 3.2 3 1.9 -3 .9 -5.1-.1 -5.1 .9 -3.9-1.7 3.9-4.1 1.4-1 2.1-5.1 1.6-2 5.1-2 1-1.1 4.2-3.3 1.6-1.8 -1.6-2.2 -5.2-1.5 -.6-1.5 -4.5-1.6 -2.4 1.6 -2.7 4 -5.2 .6 -.5 .6 .5 2.7 .9 2.4 -.9 .6 -4.1 4.5 -1 .7 -4.4 4.4 -.7 .9 -5.2 1.4 0-2.3 -.1-5.1 0-5.1 .1-5.1 0-5.2 0-5.1 0-5.1 -.1-5.1 0-5.1 -.1-5.1 -.1-5.1 .1-5.2 0-5.1 0-5.1 -.1-5.1 .1-5.1 0-5.1 0-5.2 -.1-5.1 .3-5.1 0-5.1 -.1-5.1 -.1-5.1 .1-5.2 -.1-5.1 .1-5.1 0-5.1 0-5.1 .1-5.1 0-5.1 0-5.2 0-5.1 0-5.1 -.1-5.1 .1-3 5.2 1.9 5.1 .5 1 .6 -1 4.9 0 .2 -1.9 5.1 1.3 5.1 .6 1.8 5.1-1.6 .1-.2 -.1-.3 -2.9-4.8 2.9-3.8 1.1-1.3 4.1-3.4 3.4 3.4 1.7 1.2 .8-1.2 -.8-1 -4.1-4.1 -1-2.4 -5.2-1.5 -.7-1.2 .7-4 .3-1.1 4.9-3.2 4.6-2 .5-.8 .9 .8 4.2 1.6 5.2 1.8 3.8-3.4 1.3-.7 4.9-4.4 -3.8-5.1 4.1-2.7 3.9-2.4 -3.9-1.3 -3.7 1.3 -1.5 2.9 -2.8-2.9 -2.3-3.9 -.6-1.2 -4.6-1.9 -5.1-2 -2.4-1.2 -2.7-2.2 -5.2-.5 -.6 2.7 -1.8 5.1 -2.7 2.7 -4.6-2.7 -.5-1.3 -1.5-3.8 -3.7-4.2 0-.9 0-1.9 1.9-3.3 -1.9-1.3 0-3.8 -.2-5.1 0-5.1 0-5.1 0-5.1 0-5.2 .1-5.1 .1-5.1 0-5.1 0-2.3 5.2-1.4 .9-1.4 4.2-2.4 4.8 2.4 .3 .4 .9-.4 -.9-.4 -2.2-4.7 2.2-3.8 1.8-1.4 3.4-2.4 5.1 1.2 2.9 1.2 -.4 5.2 .5 5.1 -3 2 -3.8 3.1 1 5.1 2.8 1.9 5.1 3.2 0 .1 .1-.1 5.1-3.5 1.5-1.6 3.6-4.5 1.6-.6 -1.6-1.5 -2.6-3.6 -.5-5.1 3.1-4.6 2.3 4.6 2.9 3 5.1 0 5.1-2.1 4.3 4.2 .9 1.1 5.1-.4 5.1 3.7 .4 .7 4.8 4.6 5.1-.8 2.1 1.3 -1.2 5.1 -.9 .6 -2.4 4.5 1.7 5.2 .7 .5 1.1-.5 4-3.8 2.6-1.4 -.2-5.1 2.8-3.6 5.1 .3 3.2-1.8 -3.2-2.1 -5.1 1.2 -5.2-3.8 -.2-.4 -1.2-5.1 1.4-.9 5.2 .9 2-5.1 3.1-3.2 2.4-2 2.8-3.5 2.6 3.5 2.5 1.4 1.2-1.4 -1-5.1 1.7-5.1 -1.9-1.6 -.9 1.6 -4.2 4.2 -5.2-2.6 -4.5-1.6 4.5-3.1 1.1-2 .1-5.1 4-.8 5.1-1 4.9-3.3 .2-.8 .7-4.3 -.7-1.6 -.9-3.6 0-5.1 -4.1-5.1 -.1-.1 -1.1-5 1.1-3.1 5.1-.8 1.3-1.2 -.8-5.1 4.7-5.1 0-.1 1.4-5.1 -.5-5.1 4.2-3.5 5.1-1.1 .4-.5 -.4-2.6 -1.2-2.5 1.2-.5 2.4-4.6 2.8-.1 5.1-.1 5.1 0 5.2-.1 5.1 .1 5.2 .1 5.1-.1 5.1 0 5.2 .1 4.2 .1 .9 2.5 5.1 2.6 .2 0 -.2 0 -4.9 5.1 4.9 4.7 .3 .4 4.9 4.5 2.3 .6 2.8 .6 3.1 4.5 2 4.3 2.2 .9 -2.2 4.7 -5.1-1.8 -2.5 2.2 2.5 2.5 3.5 2.6 -.1 5.1 .9 5.1 .7 5.1 0 5.2 .1 .2 .3-.2 4.9-4.3 5.1 2.7 5.2-3.2 2.1 4.8 3 5.1 -1.6 5.1 -.2 5.1 -.7 5.1 2.5 3.9 2.2 1.2 -2.2 2.8 -2.5 2.3 -2.6 1.6 -2.2 3.6 1.5 5.1 .6 5.1 .1 .2 2.3 4.9 2.8 2.4 2.1-2.4 -1.3-5.1 4.3-3.7 4.9 3.7 .3 .4 2.4 4.7 2.7 3.5 2.6-3.5 2.5-4.8 .6-.3 4.6-2.2 5.1 .1 1.3 2.1 3.8 3.4 3.8-3.4 -3.8-4 -1.8-1.1 1.8-3.2 1-1.9 -1-.5 -5.1-.2 -.7 .7 -4.4 3.4 -1.5 1.7 -3.7 4.9 -.1 .2 -5 3.4 -4.9-3.4 -.2-.3 -3.6-4.8 3.6-4.6 .2-.5 -.2-.7 -3.7 .7 -1.5 .5 -.5-.5 -3.8-5.2 4.3-3.8 2.4-1.3 2.8-2.4 5.1-2.2 .8-.5 2.7-5.1 1.6-1.9 5.2-1.8 2.6-1.4 .2-5.1 2.3-.9 5.1-2.6 1.8-1.6 -1.8-4.1 -.7-1.1 -.8-5.1 1.5-2 3.4 2 1.8 3.1 2 2 3.1 1.4 .1 3.8 .1 5.1 -.1 5.1 0 5.1 0 5.1 0 5.1 0 5.1 0 5.2 -.1 5.1 .1 5.1 0 5.1 0 5.1 0 5.1 .1 5.2 -.1 5.1 0 5.1 -.1 5.1 .1 5.1 0 5.1 0 5.2 0 5.1 .1 5.1 -.1 5.1 0 5.1 .2 5.1 -.1 5.1 .2 5.2 0 5.1 .1 5.1 0 5.1 -.1 5.1 0 5.1 -.1 5.2 -.1 5.1 0 5.1 -.1 5.1 0 5.1 0 5.1 0 5.1 0 5.2 .1 5.1 -.1 5.1 0 5.1 -.1 3.6 -1.8 1.5 1.8 1.3 .1 3.8 .1 5.2 0 5.1 -.1 5.1 0 5.1 0 5.1 .1 5.1 0 5.2 -.1 5.1 0 5.1 .1 5.1 0 5.1 -.1 5.1 0 5.1 0 5.2 0 5.1 -.1 5.1 .1 5.1 0 5.1 .1 5.1 -.1 5.2 -.1 5.1 0 5.1 0 5.1 0 5.1 0 1.9 -2.7 3.2 2.7 3.6 0 1.5 .1 5.2 .1 5.1 -.1 5.1 .1 5.1 -.1 5.1 -.1 5.1 .2 5.2 0 5.1 .1 5.1 -.1 5.1 0 5.1 0 5.1 .1 5.2 0 5.1 0 5.1 0 5.1 0 5.1 .1 5.1 0 5.1 0 5.2 .1 5.1 -.1 5.1 0 5.1 0 5.1 0 5.1 -.2 5.2 0 5.1 -.1 5.1 0 5.1 0 5.1 0 5.1 .1 5.1 -.1 5.2 .1 5.1 -.1 5.1 0 5.1 .2 5.1 .1 5.1 0 5.2 0 5.1zM289.5 68.7l-5.2-.4 -5.1-1.5 2.9-5.1 2.2-1.5 2.4 1.5 2.8 3.7 .9 1.4zM299.7 67.2l-.1-.4 -2-5.1 2.1-2 5.2-1.4 3.2 3.4 -3.2 4.4 -3.9 .7zM294.6 73.1l-1.4-1.2 1.4-.6 1.4 .6zM94.3 94.4l-2.5-2.1 2.5-1.4 3.9 1.4zM135.4 97.6l-.2-.1 .2-.4 .1 .4zM110.2 107.7l-.5-.7 -.7 .7 .7 .1zM234.1 123l.6-5.1 3.4-1.8 4.9-3.3 .2-4.4 3.8 4.4 1.4 .1 0-.1 0-.1 -5.1-5 -.1 0 -5.1 2.4 -3.6-2.4 -1.5-1.3 -5.2 .6 -2.3 .7 -2.8 5.1 .7 5.1 -.7 1.5 -2.1 3.6 2.1 .9 3.7-.9 1.4-.7 2.5 .7 2.7 .6zM89.1 117.8l-2.1-5 2.1-3.5 2.2 3.5zM126.7 117.9l-1.6-.6 -1 .6 1 .8zM315.5 123l.8-5.1 -1.2-2.1 -5.1-1.2 -3.3 3.3 3.3 2.9 4.3 2.2 .8 .4zM260.2 123l-1.6-1.2 -1.3 1.2 1.3 1.5zM308.2 138.4l-.4-5.1 -2.9-2.9 -3.4-2.2 .6-5.2 -2.4-2.6 -5.1 .8 -1.6 1.8 -3.5 2.3 -2.3 2.9 -2.9 4.3 -.4 .8 .4 .8 1.1-.8 4.1-2.4 4.8 2.4 -2.9 5.1 3.2 2.2 5.1 .1 5.2 1.2zM275.1 128.2l-1-1.1 -2.7 1.1 2.7 1zM254 133.3l-.5-.9 -1.6 .9 1.6 .7zM264.3 138.4l.1-5.1 -.6-.2 -.5 .2 0 5.1 .5 .5zM251.4 143.5l-3-1.5 -2.7-3.6 -2.5-2.3 -3.3 2.3 3.3 3.6 2.5 1.5 2.7 2.2zM279.7 153.7l4.6-5 .1-.1 4.7-5.1 -4.8-2.5 -2.8 2.5 2.7 5.1 -5 3.4 -5.1 1.6 -.2 .1 .2 .1 5.1 1.1zM215.3 148.6l-2.9-3.5 -2 3.5 2 2.1zM223.7 148.6l-1-.3 -1.1 .3 1.1 3.2zM84 183.2l-5.1 1.2 -5.2-3.7 -2.4-1.4 1.4-5.1 1-1 5-4.1 .2-.3 .1 .3 5 2.7 4.2 2.4 -.5 5.1zM187.2 169.1l-.5-.3 -.1 .3 .1 .2zM115.5 174.2l-.7-.3 -1.1 .3 1.1 .6zM157 235.6l.6-5.1 3.5-2 4.9-3.1 .2-.2 1.9-5 3.2-3.5 4.1-1.6 -1-5.1 2.1-3.5 1.1 3.5 1.7 5.1 2.3 1.2 2.8-1.2 .5-5.1 1.8-1.4 1.5 1.4 3.7 2.1 1.7-2.1 -1.7-1.9 -3.2-3.2 -1.7-5.1 -.3-.4 -5.1-.6 -3.7-4.1 3.7-3.6 .7-1.6 1.2-5.1 -1.9-2.7 -2.3 2.7 -2.8 1.9 -3.8-1.9 -1.4-3 -2.6-2.1 -.6-5.1 -1.9-1.6 -2 1.6 .5 5.1 -3.6 1.9 -2 3.2 -3.2 2.3 -4.9 2.8 2.5 5.2 -2.7 2.7 -5.2-1.1 -4 3.5 -1.1 2.7 -1.1 2.4 -2.1 5.1 3.2 3.9 1.3 1.2 0 5.1 3.8 4.5 1.8 .7 3.4 1.5 4 3.6 -.3 5.1 1.4 2.4zM110.5 189.5l4.3-5 .3-.1 -.3-.4 -5.1-2.5 -5 2.9 2.1 5.1 2.9 1.7zM139.4 189.5l.7-5.1 -4.7-1.6 -5.2-.5 -5.1 .5 -2.2 1.6 2.2 4.4 5.1-2.5 4.9 3.2 .3 .4zM155.9 201.3l-1.7-1.5 1.7-1.7 4 1.7zM166.2 200.1l-1.7-.3 1.7-.3 .4 .3zM162.3 245.8l-1.2-2.1 -1.3 2.1 1.3 1.4zM167.9 291.9l3.4-4.3 .5-.9 -.5-.4 -4.1-4.7 1.2-5.1 -2.2-4.4 -1.6 4.4 .8 5.1 .8 .8 4.8 4.3 -4.8 4.4 -1 .8 1 1.5zM103.5 343l-.5-5.1 -3.6-5.1 -.1 0 -5-4.4 -.5-.7 -1.1-5.1 -.7-5.2 2.3-1 4.8-4.1 .3-1.1 5.2-2 1.9-2 -1.9-3.2 -.4-1.9 .4-1.4 2.2-3.7 -1.6-5.1 -.6-.7 -3.9-4.5 -1.3-1.1 -2.3 1.1 -2.3 5.2 -.5 .4 -5.2 3.2 -1.8 1.5 -1.9 5.1 -1 5.1 1.2 5.1 1.4 5.1 -2.1 5.2 1.6 5.1 -1.5 5.1 4.1 .7 5 4.4 .2 .8 .6 4.3 4.5 3.1zM150.9 291.9l-.1-.3 -5.2-3.6 -2.8 3.9 2.8 1.5 5.2-1.4zM141.5 317.4l-1-1.1 -.8 1.1 .8 1zM151.8 322.6l-1-.9 -1.4 .9 1.4 1.6zM284.7 332.8l-.4-.2 -.2 .2 .2 .2zM163.6 348.1l-2.5-3.7 -4.9-1.4 -.3 0 -3.7-5.1 -1.4-1.9 -4.9 1.9 4.9 3.6 4.9 1.5 .2 .4 1.1 4.7 4.1 3.1zM110.7 343l-1-1.8 -2.4 1.8 2.4 1.6zM306.2 343l-1.3-2.8 -1.1 2.8 1.1 1.1zM152.3 358.4l-1.5-1 -.8 1 .8 1zM301 368.6l-1.3-2.7 -1.7 2.7 1.7 1.7zM99.4 395.9l-4.2-1.7 -.9-1.1 -2.8-4 2.8-4.3 5.1 1.3 3.4 3 1 5.1zM269.2 394.2l-.3-.2 -.2 .2 .2 .5zM284.8 404.4l-.5-.3 -5.1-3.5 -5.1 1.3 -1.7 2.5 1.7 4 5.1 0 5.1-3.6zM295.2 409.5l-.6-.6 -.6 .6 .6 .9zM286.7 414.6l-2.4-1.4 -5.1-2.8 -4.2 4.2 4.2 3.7 5.1-2.5zM272.7 419.7l-3.8-2.2 -3.2 2.2 3.2 2zM281.4 435.1l2.9-2.8 1.3-2.3 -1.3-1.4 -4.1-3.7 -1-1.8 -1.6 1.8 -3.5 4.8 -3.5 .3 3.5 .5 2.3 4.6 2.8 1.4zM300.1 435.1l-.4-.5 -.2 .5 .2 .1zM147.9 450.4l-2.3-4.5 -2.4 4.5 2.4 1.2zM114.8 481.8l-4-.7 4-2 1.5 2zM125.1 493.8l-1.1-2.4 1.1-1.9 2 1.9zM135.4 495.4l-2.1-4 2.1-3.6 1.9 3.6zM120 507.6l-5.2 2.5 -4.9-3.4 3.4-5.1 1.5-2.2 .5 2.2 4.7 4.7 .9 .4zM173.8 501.6l-2.5-1.1 -5.1-.7 -1.4 1.8 1.4 1.4 5.1 2.1zM109.7 513l-5.1 .3 -1.5-1.5 .6-5.1 .9-.4 3.7 .4 1.4 .8 1.5 4.3zM173.7 511.8l-2.4-4.2 -2.4 4.2 2.4 1.5zM246.4 511.8l-3.2-2.3 -1.4 2.3 1.4 1.1zM130.2 534.4l-4.1-2.1 4.1-1.3 3.3 1.3zM99.4 545.9l-4.1-3.4 4.1-4.8 4.5 4.8zM109.7 549.9l-3.1-2.3 3.1-2 2.6 2zM114.8 553.7l-1.3-.9 1.3-1.8 2.2 1.8zM140.5 554.4l-.6-1.6 .6-.5 1.9 .5zM217.9 563l4.2-5.1 .6-.3 5.1-2.2 .6-2.6 -.6-.9 -5.1-3.5 -5.1 .6 -2 3.8 -1.3 5.1 2.3 5.1 1 1.6zM73.7 573.5l-.6-.3 -4.5-1.9 -5.1 .5 -2.6 1.4 -2.6 1.1 0-1.1 0-5.1 0-5.1 0-2.2 3.8 2.2 1.4 .9 5.1 .7 5.1 2.4 2.1 1.1 -1.7 5.1zM114.8 571.4l-4.9-3.3 4.9-1.4 1.9 1.4zM171.7 568.1l-.4-.3 -.5 .3 .5 .7zM135.4 579.8l-5.2 3.4 -2.8-4.9 -2.3-2.4 -3.7-2.7 3.7-1.4 5.1 .9 .5 .5 4.7 4.9 .1 .2zM114.8 580.9l-3.6-2.6 3.6-4.1 2.4 4.1zM207.3 583l-2.1-4.7 2.1-1.6 1.6 1.6zM145.6 610.7l-2.9-1.7 -1.4-5.1 -.8-1.1 -5.1 1 -5.2-.9 -5.1-3.8 -.4-.3 -4.7-3.7 -2.1-1.4 2.1-1.5 5.1-2.2 1.5-1.4 3.6-5 5.2 .3 1.3-.5 3.8-.8 5.1-.8 5.2-1.9 4.2 3.5 .9 4.3 3.8-4.3 1.4-1.8 .4 1.8 -.4 5.2 2.3 5.1 -2.3 4.2 -1 .9 .4 5.1 -4.6 1.3 -5.1 2.1 -2.3 1.7zM146.8 593.7l1.5-5.1 -2.7-2.7 -2.8 2.7 2.6 5.1 .2 .2zM227.9 588.6l-.1-.1 -.1 .1 .1 0zM274.6 593.7l.6-5.1 -1.1-1.6 -1.8 1.6 1.5 5.1 .3 .5zM135.4 610.9l-1.3-1.9 1.3-4.4 1.7 4.4z"/>
<path fill="#00cc33" d="M325.4 624.7l-5.1 0 -5.2-.2 -5.1 .1 -5.1 0 -5.2 0 -5.1 0 -5.1 0 -5.2-.2 -5.1 0 -5.1 .1 -5.2 0 -5.1-.1 -5.2 .1 -5.1 .1 -5.1-.1 -5.2 0 -5.1-.1 -5.1 0 -1.2 0 1.2-.8 3.9-4.3 1.2-1.6 2.4-3.6 -2.4-4.2 -2.6-.9 2.6-1.2 1.6-3.9 -1.6-1.4 -2 1.4 -3.1 4.3 -5.2-3.8 -.4-.5 -.2-5.1 -4.5-2.3 -5.1 1.8 -4.1-4.6 4.1-2.3 5.1-.7 5.1 2.5 3.3-4.6 1.9-3.5 1-1.7 -1-1 -4.2-4.1 -1-.9 -3.3-4.2 -1.2-5.1 2.5-5.1 2-.2 5.2-2.3 3.6 2.5 1.5 1.7 1.2-1.7 -1.2-2.6 -1.4-2.5 .1-5.1 1.3-2 .9-3.2 -.9-1 -2.8 1 -2.3 1.7 -1.2-1.7 -4-3.2 -5-1.9 -.1 0 -5.1 0 -5.2-1.7 -.8 1.7 .8 2.1 1.3 3 -1.3 3.9 -1.1 1.3 -3.2 5.1 -.3 5.1 -.5 .5 -5.2 1 -3-1.5 -2.1-1.3 -4.8-3.8 -.3-.6 -.8 .6 -2 5.1 2.6 5.1 .2 .1 3 5 -3 5 -.1 .1 .1 .4 1.5 4.7 -1.5 1.6 -5.2 3.6 -5.1-.5 -5.1-4.3 -.3-.4 -2.3-5.1 2.6-3.5 1.3-1.6 -1.3-1.5 -1.8-3.6 -3.4-3.1 -5.1 .7 -.7-2.7 -4.4-4.1 -.9-1 -3-5.1 -1.3-2.2 -4-3 0-5.1 -1.1-3.9 -.7-1.2 -2.7-5.1 -1.8-1.4 -1.5-3.7 -1.2-5.1 -1.2-5.2 3.9-4.2 1.8-.9 3.4-1.7 5.1-.9 5.2 .9 3.2 1.7 1.9 1.7 5.1 2 4.4 1.4 .8 .7 .9-.7 .3-5.1 -1.2-2.1 -1.4-3 1.4-1.5 2-3.6 -2-2.4 -5-2.7 -.2-.9 -5.1-1.9 -3.9-2.3 .3-5.1 -1.5-1.8 -5.2-1.8 -1.6 3.6 -.2 5.1 1.8 1.2 4.8 3.9 -.9 5.1 -3.9 3.8 -5.1-2 -2.8-1.8 .1-5.1 .5-5.1 -3-3.8 -.7-1.3 -1.2-5.2 -3.2-4 -1-1.1 -4.1-4.6 -.2-.5 -3.5-5.1 3.7-4.6 .8-.5 .9-5.1 3.4-2.8 4.2 2.8 .9 2.2 5.2-1.2 1-1 4.1-5.2 -5.1-2.8 -1.9-2.3 -2.7-5.1 -.6-1 -5.1-1.2 -4-2.9 -1.1-2.3 -3.2-2.8 -1.6-5.1 -.4-.2 -5.1-2.6 -1.8 2.8 -3.3 2.7 -2.7-2.7 -2.5-3.7 -.6-1.5 .1-5.1 -1.6-5.1 1.2-5.1 .9-1.1 4.7-4 .5-.4 2.7-4.7 1.2-5.1 -1-5.2 -2.9-3.2 -1.8-1.9 .5-5.1 -2.8-5.1 -1.1-1 -5.1-3.2 -3 4.2 -2.1 2.3 -4.9-2.3 -.3-.3 -3.1-4.8 3.1-4 3.3-1.1 -3.3-2.2 -1.3-3 1.3-1.3 3.3-3.8 1.9-1.3 1.7 1.3 3.4 3.6 3.6-3.6 1.5-2.7 1.4-2.4 -1.4-1.5 -2.3-3.6 -2.8-4.1 -1.2-1 -3.5-5.1 -.4-.6 -3.5-4.5 2.2-5.2 1.3-.6 5.1-2.4 5.1 .4 5.2-2.4 .1-.1 5-2.8 5.1-.6 4.7 3.4 -4.7 4.7 -1.5 .4 .6 5.2 .9 1 .7-1 .9-5.2 3.6-3.3 .8 3.3 4.1 5.2 -.6 5.1 .8 .9 2.4 4.2 -1.6 5.1 4.3 4.1 1.2 1 4 2.7 2.2 2.4 1.8 5.1 -4 .9 -3.6 4.3 3.6 4.4 .9 .7 2.8 5.1 1.4 .8 4.3-.8 .9-2.3 .7-2.8 .1-5.1 4.3-1.9 3.4-3.3 -1.1-5.1 -2.3-3.6 -1-1.5 -4.1-3.5 -5.2-.6 -.7-1 .7-3.2 .7-1.9 -.7-1.2 -2.2-3.9 2.2-3 1.6-2.1 -1.6-2.8 -3.1-2.4 -2-2.4 -5.2 1.4 -3.4-4.1 -1.7-1.3 -5.1-.4 -1.5-3.4 -3.7-1.7 -5.1-.1 -3.3 1.8 -1.8 4.9 -1.3-4.9 -3.9-4.7 -1.3-.4 -1-5.1 -2.8-3.7 -1-1.4 -4.1-4.6 -.5-.6 -4.7-4.2 -2.1-.9 -3-1.8 -5.1-3.3 2.4-5.1 -2.5-1.2 -5.1-.7 -4.7-3.2 -.4-2.3 -5.2-.1 -5.1-.2 -1.5 2.6 1.4 5.1 .1 0 .1 0 5-3.8 5.2-1.1 3.9 4.9 1.2 3.3 4.8 1.8 -1.1 5.1 1 5.1 .1 5.2 -4.8 4.3 -5.1-.6 -5.2-.3 -4.3-3.4 -.8-2 -1.4 2 1.2 5.1 .2 .3 3.7 4.8 1.4 3.3 5.2 .8 .7 1 .3 5.1 2.7 5.1 -3.7 4.4 -3.8-4.4 -1.4-2.1 -2.4 2.1 2.4 1.5 4.4 3.7 -3.8 5.1 4.6 5.1 3.6 5.1 .6 5.1 -.4 5.1 -3.8 2.5 -4.8 2.6 -.4 .2 -.6-.2 -4.5-2.5 -5.1-2.6 -1.1-5.1 -4.1-1.7 -.1-3.4 .1-5.1 -.1-5.1 -.1-5.1 .1-5.2 0-5.1 0-5.1 -.1-5.1 .1-5.1 0-5.1 -.1-5.2 0-5.1 .2-4.7 2.3-.4 -1.7-5.1 -.6-.8 0-4.3 -.1-5.1 .1-4.9 4.7-.3 -4.7-.1 -.1-5 .1-5.1 0-5.1 0-5.1 4.7-5.1 .5-.9 .4 .9 1 5.1 3.7 4 1.8 1.1 -1.8 4.5 -.1 .6 .1 .3 5.1 .7 5.2-.7 .2-.3 3.4-5.1 -2.1-5.1 -1.5-1.7 -5.2-.9 -.6-2.5 .6-1.9 .9-3.2 2.3-5.2 2-3.8 5.1-.3 1.4-1 3-5.1 -2.9-5.1 1.8-5.1 1.8-2.7 1.9 2.7 3.3 3 4.4 2.1 -1.3 5.1 2 2.5 3.4-2.5 1.8-3 2.5 3 -.6 5.1 -1.9 5.1 -.1 0 .1 .1 5.1 2.8 1.7-2.9 -.2-5.1 .1-5.1 -1.6-3.2 -2.4-1.9 2.4-4.1 5.1 .3 1.8-1.3 3.4-2 3.5-3.1 1.6-.9 3.2 .9 1.9 1 2 4.1 .8 5.1 -1.8 5.1 4.2 2.7 2.1 2.4 -.5 5.1 0 5.2 3.5 1 4.8 4.1 .3 .5 3.5 4.6 -.8 5.1 2.5 4.8 5.1-.8 .7 1.1 4.5 5 .7 .1 -.7 .7 -1.6 4.4 -.2 5.2 -.6 5.1 2.4 4.4 .4 .7 -.4 1 -1.8 4.1 1.8 4.7 .1 .4 5 4.6 .6 .5 -.6 .5 -5.1 3.7 -3.8 1 -1.4 2.2 -.2-2.2 -2.8-5.2 -1.7-5.1 -.2-5.1 -.2-.1 -.7 .1 -4.5 2.4 -5.1 2.7 -.1 0 -5 4.6 -.7 .5 -.3 5.2 1 .4 5.1 4.1 5.1-.6 5.2 1.2 .3 0 4.3 5.1 .5 .2 .2-.2 5-3.7 5.1 .9 4.7-2.3 .4-.4 3.3-4.7 1.9-3.5 .9-1.7 2.8-5.1 -1.9-5.1 -1.8-2.5 -3.6-2.6 1-5.1 .1-5.1 -2.7-4.5 -5.1 1.4 -1.6-2.1 1.6-1.6 5.1 0 1.5-3.5 -1.5-2.4 -5.1-.6 -.7-2.1 .7-2.4 1.1-2.7 .7-5.1 1.8-5.1 .5-5.1 1-5.2 5.2-1.3 1.6 1.3 -1.6 5 -.3 .2 -3.6 5.1 3.9 2.3 3 2.8 2.1 2.4 3.4-2.4 1.7-1.6 2.8 1.6 2.4 1.8 5.1 0 4.3 3.3 .8 .4 .9-.4 1.1-5.1 -2-3 -1-2.1 -4.1-2.4 -3.4 2.4 -1.7 2.8 -1.7-2.8 .8-5.1 -4.3-4 -1.4-1.2 1.4-1.1 4.1-4 1.1-.6 3.7-4.5 -3.7-4 -1.1-1.1 -.4-5.1 .3-5.1 -2.7-5.2 3.9-4.5 .4-.6 -.4-.4 -2.8-4.7 -2.4-1.4 -5.1-1.1 -4.4-2.6 -.7-1.3 -4.1-3.8 -1.1-2.8 -5.1 1.4 -1.3 1.4 -3.8 3.4 -5.2 .1 -4.4-3.5 -.7-1.4 -2 1.4 1.4 5.1 -4.6 5 -5.1-3.5 -3.8 3.6 -1.3 .5 -2.1-.5 -3.1-.9 -4-4.2 -1.1-2 -5.1-1 -3-2.1 -2.2-1.3 -5.1 .8 -1.7 .5 -3.4 1.2 -5.2-1.1 -.1-.1 -3.8-5.1 -1.2-1 -2.1-4.1 2.1-4.4 .4-.8 -.4-.2 -5.2-1.8 -4.8-3.1 3.1-5.1 -3.4-2 -3.5-3.1 -1.6-2.7 -3.6 2.7 3.6 2.7 1.9 2.4 1.2 5.1 -3.1 .5 -1.1-.5 -4.1-2.3 -5.1 1.3 -2.6 1 -2.5 2.2 -3.6-2.2 -1.6-.4 -.1-4.7 0-5.1 0-5.1 0-5.1 0-5.2 .1-5.1 0-2.7 4.5-2.4 .7-1.4 3.8 1.4 1.3 1.1 5.1 2.3 5.2-.7 3.4 2.4 1.7 1.7 3.9 3.4 1.2 4.2 5.2-2.1 2.8-2.1 2.3-2.6 2.2-2.5 3-1.6 2.4-3.5 2.7-1.8 5.1 1.6 4.5-4.9 .7-.3 5.1-.5 1.1 .8 1.1 5.1 -2.2 1.2 -5.1 1.5 -1.8 2.4 1.4 5.1 -.3 5.2 .7 .7 .7-.7 2.9-5.2 1.5-.1 .5 .1 4.6 2.1 5.2-.3 .9 3.4 4.2 3.1 3.9 2 1.2 1.6 1.5-1.6 3.7-4.4 .4-.7 2.9-5.2 .5-5.1 1.3-.4 5.2-2 3.2-2.7 -3.2-3 -4-2.1 4-2.7 5.1-.5 .6-1.9 3.7-5.1 .8-5.2 5.2-3.6 1.7-1.5 -1.7-2.2 -1.2-2.9 -4-4.9 -.2-.2 .2-.3 1.7-4.8 .5-5.1 2.2-5.1 -2.4-5.2 .9-5.1 1.6-5.1 -3-5.1 3.7-3.5 2.4-1.6 1.6-5.1 -.5-5.2 .6-5.1 -.1-5.1 1.1-.9 3.4 .9 1.7 1 5.2 .9 2.3-1.9 2.8-4.8 .1-.3 -.1-.3 -2.6-4.8 -1.7-5.1 4.3-.1 5.1-.1 5.2 0 5.1 .1 5.2 .1 5.1-.1 5.1 0 5.2 0 .8 .1 -.8 1.8 -2.6 3.3 1.6 5.1 1 1.2 1.7 3.9 3.4 2.5 2.8 2.6 -.1 5.1 2.4 4.9 .6 .3 2 5.1 -2.6 4.9 -.1 .2 .1 .1 .2-.1 5-2.8 2.8 2.8 2.3 4.4 .3 .7 0 5.1 -.3 1.7 -4.8-1.7 -.3-.1 -1.6 .1 -.5 5.1 -2.8 5.2 4.9 2.6 5.1-1.3 3.1 3.8 2 3.1 2 2 3.2 3.2 5.1 1.4 3.1-4.6 2.1-2.9 1.4 2.9 -.6 5.1 -.8 4.1 -1.7 1 .7 5.1 -4.2 4 -2.7 1.1 1.1 5.2 -2 5.1 .9 5.1 -2.4 1.3 -4.3-1.3 -.9-.3 -5.1-2.4 -5.1 .6 -5.2-1.6 -5.1 1.2 -3.2-2.6 -1.9-2.4 -1.6-2.7 -1.2-5.2 -2.4-1.7 -5.1-1 -2 2.7 -.8 5.2 -2.3 .3 -.4-.3 -4.8-2.5 -5.1-.5 -5.2 1 -1.1 2 -.5 5.1 1.6 4.2 1 .9 -1 .6 -1 4.5 1 3.7 5.2-1.2 5.1 1 4.1 1.6 -1.1 5.1 2.2 4.4 5.1-1.2 3.4 2 1.7 2.4 2.7 2.7 2.5 2.4 2.1 2.7 -1 5.1 -1.1 2.7 -5.1-2.7 -.1 0 -5.1 1.7 -2.8-1.7 -1.8-5.1 -.5-1 -2.4 1 -2.8 .7 -5.1 3.1 -3.6 1.3 -1.6 2.4 -.4 2.7 .4 1.6 5.2 2.6 .8 .9 -.8 .9 -1.6 4.3 1.3 5.1 -4.9 4.3 -2.6 .8 .7 5.1 -.2 5.1 2.1 2.3 .6-2.3 4.6-4 4.9-1.1 -4.9-2.2 -2.9-2.9 2.9-4.2 .6-.9 2.1-5.1 2.4-2.4 3.2 2.4 2 1.2 1.3-1.2 3.8-1.6 5.1-.7 3.1-2.9 2.1-3.3 5.1 3.3 .1 0 3.1 5.2 1.9 .8 2.7 4.3 2.5 2.9 3.4 2.2 1.7 .8 4 4.3 1.1 4.9 3.8-4.9 -3.8-2.1 -3.5-3 3.5-5.1 0-.1 .2 .1 5 .2 .2-.2 1.3-5.1 3.6-2.6 3.4 2.6 1.8 1.5 4 3.6 1.1 1.7 1.9-1.7 3.2-1.3 1.3 1.3 3.9 2.9 4.3 2.2 .8 .6 1.7-.6 -.6-5.1 4-2.9 1-2.2 -1-.9 -3.8-4.3 1.9-5.1 1.9-3 5.2 2.7 5.1-3.6 3.7 3.9 -3.7 5.1 -.1 0 .1 .1 3.9 5.1 1.2 1.8 2.6-1.8 2.6-3 4.9 3 -.1 5.1 .3 .5 .1 4.6 -.1 5.1 0 5.1 .2 5.1 0 5.1 .1 5.2 0 5.1 .1 5.1 0 5.1 -.1 5.1 0 5.1 -.1 5.2 -.1 5.1 0 5.1 -.1 5.1 0 5.1 0 5.1 0 .4 -5.1 0 -.3-.4 .3-.7 1.9-4.4 -1.9-1.2 -5.2-.3 -1.2 1.5 -1.3 5.1 1.3 5.1 1.2 2 5.2 .1 5.1 .1 0 3 .1 5.1 0 5.1 -.1 2.6 -1.8-2.6 -3.3-3.7 -1.9-1.4 -3.3-2 -1.1 2 1.1 2.4 2.2 2.7 0 5.1 -2.2 4.2 -.3 .9 .3 1.3 5.2 .5 4.2 3.3 .9 1 .1 4.2 0 5.1 -.1 5.1 0 5.1 0 5.1 .1 5.1 0 5.2 -.1 4.1 -1.3 1 -3.8 2 -5.2-1 -5.1 3.5 -1.5 .6 -3.6 1.4 -1.3-1.4 -2.8-5.1 -1.1-1 -3.9 1 -1.2 .4 -1.2-.4 -3.9-.8 -5-4.3 -.2-.2 -.2 .2 .2 2.6 .8 2.5 -.8 .1 -5.1 3.5 -3-3.6 -2.1-3.6 -5.2-.3 -4.2-1.2 -.9-.2 -.3 .2 .3 .9 1.2 4.2 -1.2 1.9 -3.2 3.2 -2 1.9 -2.1 3.2 2.1 2.1 4.6 3 .6 .4 4.4 4.7 .7 1.2 5.2 1.2 .7 2.7 4.4 3 5.1-.2 2-2.8 3.2-3.9 5.1 .7 4.4 3.2 .7 1.2 1.9 4 -1.9 1.9 -5.1 2.9 -2.4 .3 -2.7 .4 -5.2 3.5 -1.4-3.9 -3.7-3 -5.1 .3 -4.9-2.4 -.3-.2 -.3 .2 -4.8 1.4 -2.3 3.7 2.3 2.8 4.7 2.3 .4 .3 5.2 4.3 .6 .5 .1 5.1 -.7 4.5 -5.2-.3 -.4 .9 .4 1.5 3.4 3.7 -3.4 .6 -5.1 4 -4.9-4.6 -.3-1.3 -.2 1.3 .2 .4 4.4 4.7 .8 2.1 .6 3 4.5 4.3 .4 .8 -.4 1.2 -5 3.9 -.1 .1 -3.4 5 -1.8 2.1 -3.3 3 3.3 3.8 1 1.4 -1 2 -5.1-1.4 -3.6 4.5 3.6 4.5 2.2 .6 2.9 .6 5.2 .3 5.1-.1 3.4 4.3 1.8 3.1 3.5 2 1.6 2.7 .8 2.4 3.6 5.2 -4.4 2.3 -3.5 2.8 -1.6 1.7 -1.2-1.7 -4-4.1 -1.2-1 -3.9-2.7 -5.2 1.7 -.4 1 -4.7 4.8 -.3 .3 -.7 5.1 1 .5 5.1-.2 .9-.3 -.9-3.2 -2.6-1.9 2.6-2.1 5.2 1.6 .4 .5 3.8 5.1 .9 .6 5.2 1 3.4-1.6 1.7-1.6 1.8-3.5 3.3-4.8 5.2 .8 3.9 4 1.2 4.5 .4-4.5 -.4-.6 -4.6-4.5 2.3-5.2 -2.8-2.1 -3.7-3 1.7-5.1 -.1-5.1 1.3-5.1 -4.4-4.9 -.3-.2 .3-.7 5.2-.9 4.2-3.6 .9-1.8 5.1-1.8 2.5-1.5 -2.5-4.3 -.1-.8 -5-4.7 -.7-.4 .7-2.1 2-3 3.1-2 5.2-3 5.1 .9 .7-1 -.7-1 -5.1-3.5 -5.2 2.7 -2 1.8 -3.1 4.1 -5 1 -.1 0 -.1 0 -5.1-2.4 -3.7-2.7 -1.4-.7 -4.9-4.4 -.2-5.2 5.1-3.4 3.4-1.7 .2-5.1 1.5-3.1 5.2 2.1 5 1 -5 2.1 -2.7 3 2.7 .5 5.1 1.3 2.9-1.8 2.2-2.6 5.2 1 3.1-3.5 2-3.5 2.4 3.5 -1 5.1 3.7 1.2 4.7-1.2 .5-.1 .3 .1 4.8 1.6 .1 3.5 -.1 5.2 0 1.7 -5.1 1.4 -2.1 2 -2.5 5.1 1.3 5.1 3.3 3.9 1.6 1.2 -1.6 1.8 -2 3.3 2 3.3 1.6 1.8 -.7 5.2 4.2 1.5 .1 3.6 0 5.1 0 5.1 -.1 5.1 0 .6 -3.4 4.5 3.4 1.7 .2 3.5 -.1 5.1 .1 5.1 -.1 5.1 0 5.1 .1 5.1 0 5.2 0 5.1 0 5.1 0 5.1 0 5.1 .1 5.1 0 5.1 0 5.2 .1 5.1 -.1 5.1 0 5.1 0 5.1 0 5.1 -.2 5.2 .1 5.1 -.2 5.1 -5.1-.3 -5.2 .2 -1.9 .1 -1.2 5.1 3.1 1.3 2.8-1.3 2.4-4.3 1.7 4.3 .6 5.1 2.8 2.6 .1 2.5 0 5.1 0 5.2 0 5.1 -.1 5.1 .1 5.1 .1 5.1 .1 5.1 0 5.2 0 5.1zM191.9 11.1l-.2-.6 .2-.6 3.5 .6zM253.5 28.4l-2.1-2.6 2.1-1.3 .9 1.3zM268.9 66.8l-5.1 2.3 -2.4-2.3 2.4-2.6 5.1 2.5 0 .1zM320.3 91.1l-5.2 .5 -5.1-3.3 -.8-1.1 .8-.5 1.5-4.6 -1.5-2.8 -3.7-2.3 3.7-2.3 2.3-2.8 2.8-3.5 5.2 .2 1.5-1.8 3.6-3.5 .1 3.5 -.1 5.1 0 5.1 0 .6 -1.2 4.5 .6 5.1zM238.6 71.9l-.5-.2 -1.9 .2 1.9 .2zM304.9 83l-1.2-.9 1.2-1.6 .7 1.6zM294.6 101.2l-1.5-3.7 .5-5.2 0-5.1 1-.5 .7 .5 0 5.1 2.8 5.2zM284.3 92.9l-.4-.6 .4-.3 1.1 .3zM78.9 97.6l-5.2 .5 -.3-.6 .3-.6 5.2 .2 .1 .4zM73.7 108.2l-5.1 3.3 -1.4-3.8 .4-5.1 1-.6 1.2 .6 3.9 4.7 .6 .4zM114.8 104.9l-2-2.3 2-1.3 1.3 1.3zM150.8 107.8l-.1-.1 .1-.1 .6 .1zM217.6 114.6l-.3-1.8 .1-5.1 .2-.1 0 .1 .1 5.1zM99.4 114.1l-.2-1.3 .2-.3 .6 .3zM253.5 116.4l-2.1-3.6 2.1-2.7 2.9 2.7zM94.3 118.1l0-.2 .1 0zM243.2 123.6l-.8-.6 .4-5.1 .4-.3 .7 .3 .6 5.1zM258.6 117.9l.1 0zM209 133.3l2.7-5.1 -4.4-3.5 -1.6-1.7 -3.6-3.1 -2.2 3.1 2.2 2.5 2.8 2.7 .9 5.1 1.5 1.8zM69.9 133.3l.4-5.1 -1.7-2.4 -2.8 2.4 2 5.1 .8 3.2zM233 130l-1.9-1.8 1.9-.9 2.2 .9zM248.4 130.5l-2.6-2.3 2.6-3.9 2.5 3.9zM263.8 128.8l-2.2-.6 2.2-2 .8 2zM238.1 134.1l-1.2-.8 1.2-1.5 1.7 1.5zM94.7 138.4l-.4-2 -.8 2 .8 .6zM258.6 145.9l-2-2.4 2-4.2 4.6 4.2zM268.9 149.6l-1.2-1 -1.2-5.1 2.4-3.1 .5 3.1 .5 5.1zM289.5 149l-.4-.4 .4-.4 .5 .4zM68.6 166.6l-1.4-2.6 -1-5.1 .2-5.2 2.2-2.5 5.1-.5 1.8 3 -1.8 1.5 -2.5 3.7 -1.7 5.1zM217.6 157.7l-3.3-4 3.3-2.2 1.7 2.2zM315.1 155.3l-4.6-1.6 4.6-1.1 1.9 1.1zM194.5 169.1l-2.4-5.1 4.9-3.9 1.4-1.2 -1.4-1.2 -5.1 .9 -.6 .3 -1.2 5.1 -3.4 .3 -2.5 4.8 2.5 3.2 5.2-.9zM78.9 182.9l-4.1-3.6 .1-5.1 4-3.9 5.1 3.5 .8 .4 -.8 4.2 -.1 .9zM218.7 174.2l-1.1-1.2 -4.9 1.2 4.9 1.2zM305.9 174.2l-1-1.6 -.7 1.6 .7 .4zM150.8 185.8l-2.9-1.4 2.9-1.6 3.5 1.6zM114.8 193.8l-1.4-4.3 1.4-1.7 3.6 1.7zM208.7 204.9l.6-5.1 3.1-2.7 2.9-2.4 2.3-2.6 2.1-2.6 -2.1-2.1 -1.4 2.1 -3.8 3.6 -4.9-3.6 -.2-.3 -.2 .3 .2 .6 2.2 4.6 -2.2 2.7 -1.2 2.4 .3 5.1 .9 2.1zM104.6 202.1l-1.5-2.3 1.1-5.1 .4-.5 .8 .5 3.2 5.1zM150.8 194.8l-.4-.1 .4-.3 .1 .3zM224.1 220.2l-1.4-2.8 -5.1 0 -2.1-2.3 -3.1-4.4 -2 4.4 -.7 5.1 2.7 5 5.2-2.4 5.1 1.1zM275.5 235.6l3.7-4.6 .9-.5 -.9-.5 -4 .5 -1.1 .4 -2.7 4.7 2.7 2.8zM80.8 256l-1.9-1 -.8 1 .8 3.8zM94.4 256l-.1-.1 -.1 .1 .1 .3zM228.1 256l-.3-.4 -1.5 .4 1.5 1zM218.3 266.3l-.7-1.3 -.4 1.3 .4 .2zM279.4 291.9l-.2-.3 -1 .3 1 .7zM268.9 346.9l-4.4-3.9 1.2-5.1 3.2-3.2 5.2 2.7 .2 .5 -.2 .5 -1.8 4.6zM294.6 344.8l-2.5-1.8 1.9-5.1 .6-.5 .4 .5 2.2 5.1zM284.3 344.7l-5.1 1.6 -3.6-3.3 3.6-2.5 5.1 .5 2.1 2zM299.7 351.7l-1.9-3.6 1.9-2.7 2.9 2.7zM68.6 359.7l-5.1 1.5 -2-2.8 2-4 5.1 1.3 1.1 2.7zM113.9 358.4l-4.2-1.2 -2.7 1.2 2.7 1.8zM135.8 373.7l4.7-5 .3-.1 -.3-.4 -.2 .4 -4.9 4.6 -.5 .5 .5 1.5zM249 373.7l4.5-1.9 2.7-3.2 -2.7-1.1 -4.5 1.1 -.6 3.2 -.1 1.9 .1 .1zM130.8 383.9l-.6-.9 -1.3 .9 1.3 .7zM188.2 389.1l-1.5-1.6 -1 1.6 1 .8zM289.5 409.5l-.1 0 .1 0zM121.3 414.6l-1.3-.9 -2.3 .9 2.3 1.2zM202.2 424.9l-.1 0zM263.8 431.7l-2.3-1.7 2.3-1.1 .8 1.1zM307.2 435.1l.3-5.1 -2.6-4.4 -5.2 2.2 -1.5 2.2 -3.2 5.1 4.7 2.7 5.2-1.4zM279.2 441.5l-.5-1.3 .5-.1 .1 .1zM305.8 455.6l-.9-.9 -.7 .9 .7 .4zM290.1 476l2-5.1 -2.6-1.3 -1.9 1.3 1.4 5.1 .5 .5zM259.2 476l-.6-.3 -.5 .3 .5 .4zM270 481.1l-1.1-.9 -.8 .9 .8 2.1zM254.5 511.8l-1-1.6 -2.2-3.5 -2.9-4.9 -.3-.2 -4.9-2.3 -3.6 2.3 -1.5 3.2 -.7 1.9 .7 3.9 .1 1.2 5 4 5.2 .3 5.1-2.4zM114.8 507l-.3-.3 .3-.4 .5 .4zM253.8 527.2l-.3-.5 -3.5-4.6 -1.6-3.9 -2.2 3.9 2.2 1.9 4.5 3.2 .6 .3zM99.4 543l-.6-.5 .6-.7 .7 .7zM193.1 547.6l-1.2-.6 -2.1 .6 2.1 1.7zM145.6 558.1l0-.2 0-.1 .2 .1zM274.6 557.9l-.5-.2 -.2 .2 .2 .6zM155.9 564.5l-1.7-1.5 1.7-1.1 1.2 1.1zM68.6 568.5l-3-.4 3-.4 .7 .4zM161.1 568.6l-.5-.5 .5-.4 1.8 .4zM197 568.3l-2.7-.2 2.7-.6 .2 .6zM246.4 573.2l-3.2-1.7 -1.6 1.7 1.6 1.9zM270.8 609l3.3-3.7 5.1-.3 2.9-1.1 -2.9-1.6 -3.6-3.5 3.6-3.7 5.1 .6 .1-2 -.1-.2 -4.5-4.9 4.5-2.3 5.2-.8 5.1 .3 5.1-1.2 1.5-1.2 3.7-3.9 3.9-1.2 -3.5-5.1 -.4-.4 -5.2-.8 -1 1.2 1 3.9 2 1.2 -2 1.7 -5.1 .3 -5.1 1.7 -5.2-2.8 -1.2-.9 -3.9-2.4 -2.5 2.4 -2.6 2.5 -3 2.6 -2.2 2 -5 3.2 -.1 .6 -.6-.6 -4.6-.5 -4.2 .5 -.9 .3 -1.7 4.8 -2.5 5.1 -.9 1.6 -2.3 3.5 2.3 2.4 5.1 0 5.1-.9 5.2-.6 4 4.2 1.1 1.5zM227.8 584.1l-1-.7 1-2 1.9 2zM181.6 593.8l-.2-.1 .2-1 .1 1zM258.6 596.6l-3.3-2.9 3.3-4.3 4.4 4.3zM268.9 606.1l-2.4-2.2 -1.8-5.1 -.3-5.1 4.5-2.6 1.7 2.6 -.4 5.1 1.4 5.1zM307.2 593.7l-2.3-2 -3 2 3 2zM135.4 598.9l-.3-.1 .3-.2 .7 .2zM294.7 603.9l1.2-5.1 -1.3-3.9 -3 3.9 2 5.1 1 .2zM145.6 605.7l-.9-1.8 .9-2.5 2.7 2.5z"/>
<path fill="#00e51a" d="M217.6 89.6l-5.2-.2 -5.1-.4 -3.6-1.8 -1.6-.7 -2 .7 -3.1 .9 -5.1 1 -5-1.9 -.2-.1 -5.1-1.7 -3.2-3.3 1.9-5.1 -3.8-4.8 -.1-.3 -.7-5.1 .8-1.6 1.4-3.5 3.7-4.8 .5-.4 4.3-5.1 .3-.8 2-4.3 0-5.1 -.5-5.1 3.7-3.4 2.7-1.7 -2.7-3.4 -1.5-1.8 1.5-.9 5.1-1 .4-3.2 4.7-3.7 1.4-1.4 -1.4-2.5 -.9-2.6 -2.1-5.1 .1-5.1 2.9-.1 5.2 0 5.1 .1 .6 0 2.4 5.1 2.2 1 5.1 3.5 1.3 .6 3.8 2.2 2.6 2.9 2.6 3.3 3.8 1.8 -1.1 5.1 -.6 5.2 2.2 5.1 -4.3 1.5 -4-1.5 -1.2-.6 -1.4 .6 1.4 .8 2.1 4.3 2.5 5.1 -2.8 5.1 -.4 5.1 -1.4 1.2 -2.2 4 1.1 5.1 -.3 5.1 -1.5 5.1 -2.2 1 -3.1 4.1 -.4 5.1zM202.4 31l-.3-.6 -1.6 .6 1.6 .4zM218 61.7l-.4-.7 -3.8-4.5 3.8-2.6 5.1-2.1 1.5-.4 -1.5-1.8 -5.1-2.3 -5.2 1.9 -5.1-.1 -1.4 2.3 .1 5.1 -.9 5.2 2.2 .3 1-.3 4.1-3.1 4 3.1 1.2 1.8zM212.2 71.9l-4.9-.2 -1.9 .2 1.9 .7zM253.5 79.3l-5.1 2.4 -5.2-4 -1.4-.7 1.4-.3 5.2-2.4 5.1 1.7 1.9 1zM238.1 82.4l-.3-.3 .3-1.7 .9 1.7zM248.4 97.9l-5.2 1.1 -2.7-1.5 .1-5.2 .6-5.1 2-3.8 5.2-.8 3.5 4.6 1.6 4.8 .1 .3 -.1 .6 -3.1 4.6zM258.6 88l-1.8-.8 1.8-2.3 1.3 2.3zM181.6 159.8l-1.4-.9 -3.7-1.6 -3.6 1.6 -1.6 .7 -.8-.7 .4-5.2 .4-.4 2.2-4.7 -2.2-1.6 -5.1-2.7 -2.5-.8 -2.6-1.4 -1.9 1.4 -3.3 2.6 -5.1-2 -.5-.6 .5-1.4 .7-3.7 4.4-2.6 1.4-2.5 -1-5.1 4.4-5.2 .4-.4 5.1-3.4 5.1 2.1 1.1-3.4 .2-5.1 0-5.1 -1.3-2.2 -.7-2.9 .7-.9 5.2 0 4.2-4.2 .1-5.2 .8-.7 5.1-4.2 1.9 4.9 3.3 1.7 3.8 3.5 1.3 4.5 .1 .6 2.5 5.1 .4 5.1 .2 5.1 -3.2 4 -1.3 1.1 1.3 4.1 .8 1.1 2.6 5.1 -3.4 3.6 -5.1 .5 -1.3 1 1.3 3.7 .8 1.4 4 5.1 -.9 5.1 -3.9 2.2 -5.2 2.5 -2.6 .5zM258.6 100l-3.3-2.5 3.3-1.3 1.9 1.3zM68.6 144.9l-5.1 .8 -5.2-.2 0-2 0-5.1 0-5.1 0-5.1 0-5.2 0-2.5 4.3 2.5 -1.8 5.2 2.7 3.4 1 1.7 1.5 5.1 2.6 3.2 2 1.9zM104.6 137.8l-3.9-4.5 -1.3-4.1 -.3-1 .3-.3 4.3-4.9 .9-.9 1.6 .9 -.7 5.2 2 5.1zM114.8 126.3l-2.2-3.3 2.2-1.7 1 1.7zM78.9 129l-2.7-.8 2.7-1.6 1.1 1.6zM125.1 140.5l-5.1 3 -4.6-5.1 4.6-2.9 2.5-2.2 2.6-2.7 2.5 2.7 .3 5.1zM222.7 133.5l0-.2 0-.1 0 .1zM120 166.3l-5.2-1.6 -5.1 1.9 -5.1 1.3 -3.7-3.9 .8-5.1 -1.1-5.2 -1.2-1.5 -5.1-3.4 -.7-.2 .2-5.1 .5-.3 3-4.8 2.1-4.2 4.8 4.2 .4 .6 .6-.6 4.5-2.9 4.6 2.9 .5 1.2 5.1 3.9 .1 .1 .4 5 -.4 .8 -5.2 2.7 -4.7-3.5 -.4-.2 -1 .2 1 1.8 1.4 3.3 3.7 1.3 3.5 3.9 1.7 2.1 2.8 3zM135.4 173.5l-4.6-4.4 -.6-.5 -3.9-4.6 1.5-5.1 -2.7-4.5 -1.3-.7 1.3-.8 5.1-2.3 2.6-2 2.6-1.5 5.1-2.7 5.1 .6 4 3.6 1.2 2.2 5.1 1.1 5.2 1.1 .6 .7 -.6 .8 -4.1 4.4 -.2 5.1 -.9 3.4 -.8-3.4 -4.3-3.4 -5.2-.2 -3.5 3.6 -1.6 3 -1.1 2.1zM310 149.9l-1.4-1.3 1.4-1 1 1zM310 161l-1.5-2.1 1.5-.5 .4 .5zM166.2 164.1l-.3-.1 .3-.2 .1 .2zM202.1 165.8l-3.5-1.8 3.5-3.2 2.1 3.2zM268.9 175.6l-.4-1.4 -3.9-5.1 4.1-5.1 .2-.5 .6 .5 3.3 5.1 -3.1 5.1zM161.1 169.5l-3.6-.4 3.6-1 .4 1zM181.6 170.6l-.8-1.5 .8-.9 .3 .9zM227.8 187.4l-5.1-2.8 -.2-.2 -2.1-5.1 2.3-2.5 5.1-1.9 1.1-.7 4.1-2.2 4-2.9 1.1-1.5 5.1 1.3 .1 .2 -.1 .1 -1.3 5 -3.8 4.9 -.1 .2 -5 3.8 -1.4 1.3zM263.8 583.9l-2-.5 -3.2-.8 -3.6-4.3 -1.5-3.1 -1.2-2 .6-5.1 -4.5-3 -5-2.1 -.2-.1 -2.6-5 2.6-3.9 4-1.2 1.2-.6 5.1-2.9 4.4 3.5 .7 .3 .6-.3 -.6-1.7 -2-3.5 -3.1-1.9 -3.5-3.2 -.3-5.1 -1.3-.8 -4.8-4.3 4.8-3.8 5.1 2 3.4-3.3 -3.3-5.1 1.9-5.2 2.4-5.1 -1.6-5.1 -2.8-1.9 -1.9-3.2 1.9-3.9 3.1-1.2 -3.1-4 -5.1 2.1 -2.7-3.2 -2.5-1.9 -5.1-3.1 -2.9 5 -2.2 4.3 -.2 .8 -5 4.4 -.6 .7 .6 2.3 2.8 2.8 -1.2 5.1 3.6 1.5 2.1 3.6 3 3.3 2.5 1.9 -2.5 2 -2.4 3.1 2.4 2.6 4.7 2.5 -4.7 4.9 -5.1-1.2 -1.5 1.4 -3.7 1.3 -5.1-.4 -1.6-.9 -3.5-.9 -5.2-1.4 -5.1 2 -1.3-4.8 -3.9-3.3 -1.8-1.8 -3.3-3.8 -5.1 2.1 -1.2 1.7 1.2 4.5 .6 .6 3.1 5.1 1.4 1.4 1.7-1.4 3.4-1.6 5 1.6 -2.8 5.1 -.2 5.1 -2 1.8 -1.1-1.8 -4-2.8 -5.1-2.3 -5.2 2.4 -5.1-2 -5.1 1.1 -2.1-1.5 2.1-1.9 .9-3.2 1.8-5.1 2.4-2.2 1.9-2.9 -.5-5.1 1.5-5.2 -1.6-5.1 -1.3-1.6 -2.5-3.5 2.4-5.1 .1-.5 .7-4.6 -.7-3.8 -.6-1.3 -4.5-4.7 -.9-.4 -4.2-5.2 -.1 0 -5.1-2.9 -4.1-2.2 -1-1 -2.3-4.1 -.5-5.1 -1.8-5.1 4.6-2.8 2.4-2.3 -2.2-5.2 -.2-.5 -4.1-4.6 -1.1-1.2 -5.1-1.5 -1.3-2.4 .4-5.1 -4.3-4.2 -1.6-.9 1.6-.7 2.8-4.4 -2.8-1.5 -3.9 1.5 -1.2 2.6 -1.8-2.6 -3.3-1.8 -5.2-1.4 -2.3-2 .3-5.1 2-2.9 5.2-1.8 3.7-.4 -3.7-.4 -3.8-4.7 3.8-4.5 .5-.6 2.9-5.1 -.8-5.1 -2.6-5.1 -.1-.1 .1 0 3.5-5.1 .5-5.1 1.1-1.2 5.1-2.3 4.7-1.6 .5-.2 .1 .2 5 3.1 4.8 2 .4 .6 .3-.6 4.8-4.2 .9-.9 4.2-4.6 1-.5 4.2-2.8 .8-2.3 -.8-3.5 -1.1-1.7 .5-5.1 -4.6-3.5 -.9-1.6 -4.2-5.1 4-5.1 -1.3-5.1 2.4-3.4 4.1-1.7 .8-5.2 -4.9-4 -1.1-1.1 -4-3.2 -3.6-1.9 3.6-1.8 5.1-.8 5.2 .3 3.2-2.8 -2.3-5.1 3.4-5.1 .8-1.6 1 1.6 2.8 5.1 1.3 1.9 3.8 3.2 1.4 1.9 1-1.9 -1-4.8 -.2-.3 -2.8-5.1 -2.2-3.5 -2.4-1.7 2.4-1.4 5.2-2.4 2-1.3 3.1-3.4 1.4-1.7 -1.4-.9 -2.9-4.2 2.9-4.2 5.1-.5 5.2 .6 1-1 2.1-5.1 -3.1-4.2 -2.8 4.2 -2.4 4.6 -3.4-4.6 -1.7-1.2 -1.9 1.2 -3.2 2.2 -3.9-2.2 -1.3-2.2 -3.5-3 3.5-1.4 3.8-3.7 -2-5.1 3.4-2.4 3.4 2.4 1.7 1.5 2.2-1.5 2.9-1 3.8 1 1.4 .5 4.1 4.6 1 1.1 1.3-1.1 -1.3-3.2 -2.9-1.9 2.9-1.3 1.4-3.8 -.6-5.1 .9-5.1 3.5-2.6 4.8 2.6 .3 .2 .1-.2 5-4.5 1.3-.6 -.3-5.2 -1-1.1 -2.8-4 -2.3-3.8 -2.2-1.3 2.2-3.1 2.3-2 2.8-1.2 5.2-2.9 1-1 -1-2.9 -1.3-2.2 1.3-2.2 1.2-3 2.2-5.1 1.7-4.4 .1-.7 5-4.2 1.4-.9 3.8-2.7 5.1 1.2 1.4 1.5 1.3 5.1 2.4 3 4.7 2.1 .5 .3 4.7 4.8 .4 .7 1.2-.7 4-3.9 .5-1.2 -.5-.7 -3.8-4.4 3.8-2.9 5.1-.2 2.5-2 1.8-5.1 .8-.8 1.5 .8 .6 5.1 3.1 1.1 4.9-1.1 .2-.1 .4 .1 4.7 .8 5.2 2.6 5.1-.9 3.2-2.5 1.9-1.7 1.9 1.7 .9 5.1 2.4 1.9 5.1 .7 .1 2.5 0 5.1 .1 5.2 0 5.1 .1 5.1 0 5.1 -.1 5.1 0 5.1 -.1 5.2 -.1 4.7 -.5 .4 -4.6 4.9 -.4 .2 -4.8 3.6 -3.2-3.6 -1.9-.9 -5.1-1.4 -5.2-.4 -3 2.7 1.1 5.1 -3.2 5 -5.1-2 -4.3 2.1 4.3 2.9 3.9 2.2 -2.3 5.1 3.5 .7 3.2 4.5 -3.2 2.1 -5.1 2.1 -4-4.2 -1.2-.4 -3.8-4.8 -1.3-2.9 -3.4-2.2 1.3-5.1 .3-5.1 .3-5.1 1.5-1.8 3 1.8 2.1 2.1 3.6-2.1 1.6-2.5 1-2.6 -1-1.6 -5.2-.8 -5.1-.6 -5.1-1.1 -5.2 1.4 -2.6-2.4 -2.5-1.6 -.7 1.6 -1.9 5.1 2.6 5 .2 .1 1.9 5.1 -2.1 2.6 -2.7 2.5 2.7 1.2 2.9 3.9 2.2 3 5.2-2 3.1 4.1 2 2.4 4.2 2.8 -4.2 2.9 -2.1 2.2 2.1 3.6 5.1-.6 5.2-2.6 3.6 4.7 1.5 4 1.7 1.1 3.4 2 5.2-1.5 5.1 .3 1.8 4.3 -1.8 4.7 -.3 .4 -4.8 4.3 -1.1 .9 1.1 1.5 5.1 3.6 0 .1 0-.1 5.1-3.2 5.2-1.2 5.1 1 0 3.4 0 .8 -5.1 .2 -3.8 4.1 .8 5.1 3 3.3 1 1.8 -1 2.2 -.7 2.9 -4.5 4 -3.2 1.2 -1.1 5.1 -.8 .6 -3.2-.6 -1.9-4.9 -5.2-.2 -.1 0 -5-.7 -1.9 .7 -3.2 .7 -.9-.7 -4.3-3.8 -5 3.8 -.1 .7 -.2-.7 -4.9-3.4 -5.2-1.4 -5.1 2 -5.2 2.2 -1 .6 -1.5 5.1 -1.5 5.1 -1.1 1.8 -5.1 1.2 -4.1 2.1 -1.1 1.5 -5.1 .6 -2.8 3 -2.3 3.6 -2.7 1.5 2.7 1.1 5.1 2.8 1.1 1.2 4 4.1 4-4.1 1.2-1 .9 1 4.2 4.5 1.3 .7 3.8 4.5 .1 .6 -.1 .2 -5.1 .3 -3.4-.5 -1.7-1.5 -.9 1.5 -2.9 5.1 0 5.1 -1.4 4.7 -.4 .4 .4 .2 2.9 4.9 -2.9 3.7 -1.7 1.5 1.7 3 1.5 2.1 .3 5.1 -.9 5.1 2.9 5.1 -1.8 5.1 .8 5.1 0 5.2 .3 5.1 -2.4 5.1 4.5 2.9 5.1-.2 5.1 1.9 5.2-1.4 3.1 1.9 -3.1 4.1 -5.2-1.8 -.9 2.8 -3.5 5.1 -.7 4.1 -1.9 1.1 -3.2 1.5 -5.2 3 -.4 .6 -.1 5.1 .5 1 5.2 3.3 1 .8 3.2 5.1 .9 1.8 5.1 3 1.5 .3 .7 5.2 3 4.4 .4 .7 2.2 5.1 -2.6 3.6 -3.6 1.5 3.6 4.7 .2 .4 4 5.1 -4.2 2.2 -1.2 2.9 1.2 .7 1.1-.7 4-4.9 .5-.2 3.9-5.1 .8-1.3 1.7-3.8 3.4-3.8 5.1 1 2.1-2.3 -2.1-4.7 -.7-.4 -4.4-3.2 -3.3-1.9 2.8-5.2 .5-.5 5.1-4.1 4.1 4.6 1.1 3 .9-3 4.2-2.2 5.1 .5 3.7-3.4 -3.7-4.6 -.4-.5 -.2-5.1 0-5.1 .6-1.6 5.2 1.5 .3 .1 4.8 1.2 2.1-1.2 1.6-5.1 1.4-3.2 2.7 3.2 2.5 .9 1.2-.9 3.9-1.4 .1 1.4 -.1 5.1 .1 5.1 -.1 5 -.2 .1 -4.9 3 -5.2 1.5 -.7 .6 .7 1.5 5.2 .6 4.3-2.1 .8-3.9 0 3.9 .1 5.1 0 5.2 0 5.1 0 5.1 0 5.1 0 5.1 .1 5.1 .1 5.1 -.1 5.2 .1 5.1 0 5.1 -.1 5.1 .1 5.1 -.1 5.1 -.2 5.2 .1 5.1 -.1 1.7 -4.7-1.7 -.4-.4 -.9 .4 -4.3 .9 -2.5-.9 -2.6-.8 -5.1-3.2 -2.8-1.1 -2.4-1.7 -2.1 1.7 .5 5.1 .6 5.1 1 2.1 2-2.1 3.2-2 1.7 2 -.2 5.1 -1.5 1.2 -5.2 0 -3.6 3.9 -1.5 2.9 -4.3-2.9 -.8-.9 -4.1-4.2 1.9-5.1 -2.8-5.1 .3-5.1 4.7-1.5 3.8-3.7 -3.8-1.9 -2.9 1.9 -2.3 4.9 -.2 .3 -4.9 2.3 -5.1-.9 -3.1 3.7 1.1 5.1 -3.2 4.4 -.7 .7 -4.4 3.7 -4.4 1.4 4.4 2.4 2.7 2.7 -2 5.1zM78.9 181.3l-2.4-2 -.3-5.1 2.7-2.6 3.7 2.6 -.8 5.1zM130.2 174.4l-.1-.2 .1-1.4 1.2 1.4zM145.6 174.7l-.6-.5 .6-.7 .5 .7zM207.3 179.6l-.2-.3 .2-.1 .4 .1zM263.8 183.6l-1.4-4.3 1.4-1.5 3.3 1.5zM268.9 188.4l-4.4-4 4.4-3.4 4.1 3.4zM197 197.2l-1.7-2.5 1.7-2.5 3.8 2.5zM254 194.7l-.5-.3 -.2 .3 .2 .7zM274.4 199.8l-.3-.6 -5.2-2 -1.9 2.6 1.9 3.9 5.2-2.6zM244.4 204.9l-1.2-2.9 -3.6 2.9 3.6 1.2zM254.6 204.9l-1.1-.6 -.2 .6 .2 .2zM94.3 212.6l-1.8-2.6 1.8-2.4 .9 2.4zM125.1 212.4l-5.1 .2 -5.1-2.6 5.1-2 5.1 1.4 .7 .6zM290.1 210l-.6-.2 -.2 .2 .2 .2zM114.8 218.2l-.6-3.1 .6-4.8 1.5 4.8zM202.1 217l-4.4-1.9 4.4-1.9 2.8 1.9zM114.8 292.4l-.3-.5 -4.8-4.1 -.9-1.1 .9-3.4 5.1-.3 1.7-1.4 -1.7-.3 -4.1-4.8 -1-3.7 -5.1-.2 -2.6-1.2 -2.6-.9 -3.8-4.2 .7-5.1 .6-5.2 -2.6-4.7 -4.1 4.7 1.8 5.2 -2.9 5 -5.1-4 -.6-1 .6-.8 3.8-4.4 -2.9-5.1 .6-5.1 2.8-5.1 -2.8-5.1 .5-5.1 -2-1.2 -4.2-3.9 2.6-5.2 1.6-.5 5.1-3 5.2 1 5.1-2.3 3 4.8 2.2 4.7 .6 .5 4.5 3.4 2.6-3.4 2.5-4.2 .8-1 4.4-3.1 4.3 3.1 .8 .9 5.1 1.1 .9 3.2 4.3 2.3 5.1 2 .9 .8 3.6 5.1 .6 5.1 -.6 5.1 -1 5.1 1.6 1.7 5.2 3.4 0 .1 2.4 5.1 -2.4 3.6 -.7 1.5 .7 .9 2.3 4.2 -2.3 2.2 -5.2-1.3 -3.7 4.2 -1.4 1.1 -5.1 2.1 -1.2 1.9 -4 3.6 -3.7-3.6 -1.4-1.7 -3.2 1.7 3.2 2.5 2.5 2.6 -2.5 2 -5.1-1.3 -4.5 4.5zM191.9 221.4l-1.3-1.2 1.3-1.2 1.3 1.2zM284.9 220.2l-.6-.7 -.3 .7 .3 2.9zM249 235.6l-.4-5.1 -.2-.4 -5.2 .2 -.1 .2 .1 .2 4.7 4.9 .5 .4zM110.7 235.6l-1-1.7 -1.8 1.7 1.8 .7zM310 275.7l-5.1-.1 -3.6-4.2 2.7-5.1 -2.4-5.1 -1-5.2 -.9-.3 -3.1-4.8 3.1-2.4 2.1-2.7 1.7-5.1 1.4-2.6 5.1-1.1 4 3.7 -3.9 5.1 -.1 .3 -3.4 4.8 3.4 2.8 1 2.3 2.2 5.2 -1.6 5.1 1.2 5.1zM181.6 252.3l-.3-1.4 -1.8-5.1 2.1-2.5 2.9 2.5 -2.6 5.1zM235.4 266.3l-2.4-2.4 -1.7-2.7 .4-5.2 1.3-2.2 5.1-.1 .4-2.8 -.4-.6 -5.1-1.7 -5-2.8 -.2-.1 -5.1-2.3 -3.6 2.4 1 5.1 -.7 5.1 -1.8 2.2 -3.1 3 -.7 5.1 3.8 2.3 5.1-.8 1.6-1.5 3.5-2.6 3.7 2.6 1.5 1.6zM256.7 245.8l-3.2-2.6 -3.8 2.6 3.8 2.7zM73.7 255.4l-1.9-4.5 1.9-1 2.4 1zM155.9 251.5l-.3-.6 .3-.2 .2 .2zM176.5 257.5l-1-1.5 1-1.3 3.4 1.3zM245.6 266.3l-2.4-1.4 -2.3 1.4 2.3 2zM253.8 266.3l-.3-.7 -1.1 .7 1.1 .6zM78.9 271.5l-.1-.1 .1 0zM84 294l-5.1-.2 -4.9-1.9 -.1-5.2 -.2-.3 -3.7-4.8 -1.4-1.4 -2.8-3.7 2.8-2.4 5.1-.9 3.1 3.3 2.1 2.2 5.1 2.3 .4 .6 2.6 5.1 -.6 5.2zM63.5 330.2l-5.2 .1 0-2.6 -.1-5.1 0-5.2 .1-5.1 0-5.1 -.1-5.1 .1-5.1 0-5.1 -.1-5.2 0-5.1 .1-2.5 5 2.5 -2.3 5.1 -1 5.2 3.5 2.6 1.6 2.5 3.5 4.1 .8 1 .5 5.1 .8 5.1 -2.1 1.9 -2.9 3.2 2.5 5.2 -1.4 5.1zM292.1 312.3l-2.6-2.2 -5.2 .1 -2.5-3 1.6-5.1 -.4-5.1 1.3-5.1 0-.4 -2.1-4.8 -3-.4 -5.1-3 -4.5 3.4 -.7 3.1 -.6 2.1 -1.7 5.1 1.3 5.1 .4 5.1 .6 1 .9-1 4.3-3.2 3.4 3.2 1.7 2.4 3.2 2.7 1.9 2 5.2 1.1zM130.2 302.4l-2.9-.3 -2.2-3.9 -5.1-.1 -.5-1.1 .5-.6 5.1 .3 5.1-.8 1.6 1.1 -.1 5.1zM145.6 308.4l-1.3-1.2 1.3-1.8 2.4 1.8zM155.9 308.1l-1.9-.9 1.9-.7 3.4 .7zM130.2 312.9l-1.4-.6 1.4-.4 .6 .4zM120 318.2l-5.2-.7 0-.1 5.2-.5 .7 .5zM245.1 317.4l-1.9-1.4 -1.7 1.4 1.7 1.7zM109.7 327.9l-.2-.2 .2-.3 .2 .3zM130.2 374l-2.2-.3 -2.9-3.9 -.1-1.2 -2-5.1 -1.6-5.1 3.7-3.5 .9-1.7 -.9-4.5 -.4-.6 -2.6-5.1 -2.1-4.5 -.5-.6 .5-.3 4-4.8 -2.5-5.1 3.6-.4 .4 .4 4.7 1.4 5.2 .3 2.9 3.4 1.7 5.1 -2.8 5.1 3.3 3.5 5.1-.9 3.7 2.5 -1.5 5.1 -2.2 2.8 -2.7 2.4 -2.4 2.1 -.2 3 -4.9 5.1 0 .1 -5 5zM186.9 343l-.2-.1 -3.6-5 3.6-3.9 .9-1.2 -.9-2.8 -1.8-2.3 -3.3-1.4 -3.2 1.4 -1.9 3.5 -1.8 1.6 1.8 .5 3.6 4.6 1.5 2.4 4.8 2.7 .3 2.9zM73.7 347.4l-5.1-2.1 -2-2.3 -2.3-5.1 2.6-5.1 1.7-2.4 5.1-1 3.4 3.4 1.8 4.3 .5 .8 -.5 2.2 -.6 2.9zM161.1 333.1l-.2-.3 .2-.2 .3 .2zM253.5 344.8l-.5-1.8 .5-.7 .8 .7zM204 348.1l-1.9-1.1 -.9 1.1 .9 2.9zM218.1 358.4l.3-5.2 3.8-5.1 -4.6-.5 -.7 .5 -4.5 4.2 -.9 .9 .9 1.3 4.6 3.9 .6 1.1zM263.8 350.2l-2.4-2.1 2.4-.3 .2 .3zM145.6 367l-2.5-3.5 2.5-2.9 2.2 2.9zM193.3 394.2l2.8-5.1 -4-5.2 0-5.1 -.2-2.9 -3.8-2.2 3.8-1 3.9-4.1 -3.9-1.7 -5.2 1.7 0 .1 -5.1 .9 -3.7 4.1 2.6 5.1 .4 5.1 .7 2.2 .7 3 4.4 3.6 2.9 1.5 2.3 2.6zM202.5 368.6l-.4-.7 -1.9 .7 1.9 .5zM125.1 378.9l-.1-.1 .1-1.2 .1 1.2zM209.6 394.2l2.8-5 .2-.1 5-3.1 1.9-2.1 1-5.1 -2.9-.8 -3.7 .8 -1.5 .7 -3.8-.7 -1.3-2.7 -.1 2.7 -.6 5.1 -2.8 5.2 -.5 5.1 4 5zM248.4 379.6l-4-.8 4-.5 .9 .5zM294.6 392.8l-5.1 .9 -5.2-.3 -5.1-3.3 -1.1-1 1.1-3.6 .3-1.6 4.8-3.7 5.2 1.3 5.1 1.7 1.6 .7 2.4 5.2zM173.7 394.2l-2.4-.6 -.2 .6 .2 1.2zM187.6 419.7l4.3-3.7 5.1-1.1 1-.3 4.1-1.5 5.2-.6 1.7-3 -.9-5.1 -.8-4.7 -5.2 2.6 -5.1-1.9 -5.1 1.6 -5.2 .1 -4.4-2.8 -.7-.8 -1.7 .8 -3.4 2 -1.2 3.1 -4 5 -5.1-4 -4.7-1 -.4-.1 -5.2-.4 -5.1-.3 -1.7 .8 1.7 4.9 .2 .2 3.7 5.1 1.2 1 2.9-1 .7-5.1 1.6-4.9 1.9 4.9 3.2 1.6 5.1-1.4 .3-.2 4.9-2.7 5.1 2.7 -3.5 5.1 3.5 2.6 3.9 2.5 1.2 .5zM258.6 400.5l-.9-1.2 .9-.7 .5 .7zM125.1 406.3l-.9-1.9 .9-3.8 1.1 3.8zM228.1 404.4l-.3-.2 -.2 .2 .2 .3zM310 408.9l-2.9-4.5 2.9-3.1 3.5 3.1zM145.7 414.6l-.1 0zM186.7 418.5l-2.5-3.9 2.5-2.6 3.3 2.6zM240.9 414.6l-2.8-1.6 -4.3 1.6 4.3 2.3zM253.5 414.8l-.4-.2 .4-1.9 .2 1.9zM315.1 415.4l-4.3-.8 4.3-.6 .4 .6zM205.1 430l2.2-2.7 3.3-2.4 1.8-1.7 5.2-2.7 1-.8 -1-1.1 -5.2-1.1 -1.3 2.2 -3.8 4 -5.2-2.6 -4 3.8 -1.1 1.4 -3.8 3.7 3.8 2.2 5.1 2.5zM294.6 431l-1.1-1 1.1-1.1 .6 1.1zM156.4 435.1l-.5-.5 -3 .5 3 .6zM185.5 445.3l-3.9-1.6 -1.2 1.6 1.2 .9zM299.7 451.1l-.3-.7 -2.7-5.1 3-4 4.6 4 -4 5.1zM155.9 458.8l-.5-3.2 .5-.7 1 .7zM150.8 461.7l-.9-1 .9-.6 3.2 .6zM145.6 468.1l-1-2.3 1-1 1.2 1zM150.8 471.5l-1-.6 1-.4 .3 .4zM237.6 481.1l.5-1.9 .5-3.2 -.5-.5 -4.5-4.6 -.6-1.3 -.8 1.3 -4.4 4.8 -5.1-1.5 -3 1.8 3 1.8 5.1-1.3 2.5 4.6 2.7 2.2zM274.1 471.5l-5.2-.3 -5.1 4.5 -5.2-3.1 -2.4-1.7 2.4-1.7 5.2-2.5 5.1 4.1 5.2-.2 1 .3zM233 477.9l-4.5-1.9 4.5-3.8 3.9 3.8zM150.8 482.8l-1.5-1.7 1.5-2 1.2 2zM315.9 491.4l4.4-4.6 .8-.5 -.8-1.3 -1.6 1.3 -3.6 3.1 -3.5-3.1 -1.6-1.1 -5.1 .4 -.3 .7 -4.9 4.7 -.2 .4 .2 .1 5.2 2.6 5.1 2.2 5.1-2.5zM274.1 494.6l-3-3.2 3-4.7 3.9 4.7zM155.9 502l-.9-.4 .6-5.1 .3-.1 .1 .1 .3 5.1zM192.7 496.5l-.8-1.4 -.8 1.4 .8 .9zM202.5 511.8l4.8-4.9 .1-.2 -.1-.2 -.2 .2 -5 4.8 -.2 .3 .2 1.1zM145.6 517.5l-.2-.6 .2-.2 .8 .2zM176.5 560.4l-5.2-.2 -4.5-2.3 -.6-1.1 -5.1-3.3 -.5-.7 -1.8-5.2 -2.9-4.9 -.1-.2 .1-.2 3.6-4.9 -1.3-5.1 -2.3-.7 -5.1-3.6 -1.1-.8 1.1-1.1 1.7-4 .6-5.2 2.8-1.9 3.9 1.9 1.3 .7 5.1 1.3 5.1 .2 4 3 .9 5.1 -4.9 1.6 -4.5 3.5 2.6 5.1 -.5 5.1 -2.7 4.1 -.9 1 .9 2.1 5.1 2.1 5.2-.5 4 1.5 -.1 5.1zM281.2 516.9l-2-2.1 -1.8 2.1 1.8 1.1zM187.8 537.4l-1.1-.6 -.3 .6 .3 .7zM300.1 542.5l-.4-.2 -.4 .2 .4 1.1zM202.1 558.7l-1.3-.8 1.3-1.5 .7 1.5zM243.2 568.2l-.3-.1 .3-3.3 .2 3.3zM186.7 580.3l-1.8-2 -1.8-5.1 3.6-4.9 5.2 4.2 .4 .7 -.4 .7 -3.6 4.4zM233 578.4l-.1-.1 -5.1-4.8 -.2-.3 .2-.7 5.2-2 5.1 1.9 .2 .8 -.2 .7 -4.9 4.4zM274.1 574.4l-2.8-1.2 2.8-.9 1.2 .9zM315.1 573.6l-5.1 .8 -1.1-1.2 1.1-1.4 5.1 1.2 .4 .2zM248.4 579.9l-3.9-1.6 3.9-1.3 2.1 1.3zM181.6 584.3l-1-.9 1-1 1.2 1zM238.1 583.6l0-.2 0-.1 .1 .1zM310 592.2l-5.1-3.5 -5.2 .1 -5.1 0 -.3-.2 .3-.2 5.1 .1 5.2-.8 5.1-2.1 2.8 3zM289.5 595l-1-1.3 1-1.3 1.1 1.3zM325.4 624.6l-5.1 0 -5.2-.2 -5.1 .1 -5.1 0 -5.2 0 -5.1 0 -5.1 0 -4-.1 -1.2-4 -5.1 .9 -4.6 3.1 -.5 0 -1.8 0 -3.4-.9 -4.8-4.2 4.8-3.8 .8-1.4 4.4-3.5 4-1.6 1.1-.4 5.1 .3 5.2 0 1 .1 4.1 .4 .8-.4 3.3-5.1 .6-5.1 .4-1 4.9 1 .3 0 4.7 5.1 .4 .4 .3-.4 -.3-.6 -5-4.5 5-3.6 1.1-1.5 4-3.2 4 3.2 -3.4 5.1 4.6 .7 3.2 4.4 1.9 1.4 .1 3.7 .1 5.1 0 5.2 0 5.1zM258.6 624.4l-5.1 .1 -5.1-.1 -5.2 0 -1.2 0 1.2-2.4 1.3-2.7 2.6-5.2 1.3-1.3 5.1-1.2 5.1-.6 4.2-2 1-.5 .5 .5 3.5 5.1 -4 4.9 -.3 .3 -2.7 5.1z"/>
<path fill="#00ff00" d="M212.4 41.6l-5.1 1.4 -5-1.8 -.2-.2 -2.6-4.9 2.6-1.2 2.8-3.9 2.4-4 .8-1.2 4.3-4.7 .8-.4 4.4-2.6 5.1 1.6 1.6 1 -1.6 2.9 -1 2.2 1 2.1 2.4 3.1 -2.4 1.3 -5.1 2 -5.2 .8 -1.5 1 1.5 3.9 .4 1.2zM197 79.8l-5.1 1.4 -5.2-1.8 -2.1-2.4 -3-1.4 -3.5-3.7 -.6-5.1 2.2-5.1 1.9-2.5 4.4-2.7 .7-.8 1.4 .8 3.8 2.7 5.1 1.6 .8 .9 2.8 5.1 -1 5.1 -1.4 5.1zM222.7 63.7l-.9-2 .5-5.2 .4 0 .1 0 .4 5.2zM207.3 67.9l-2.2-1.1 2.2-1.2 2.4 1.2zM222.7 73.6l-1.5-1.7 1.5-2.9 1.1 2.9zM181.6 82.8l-.7-.7 .7-1.2 1.5 1.2zM181.6 144.4l-.4-.9 -4.7-2.6 -4.3 2.6 -.9 .3 -.5-.3 -4.6-2.2 -3.3-2.9 -1.8-3.5 -.9-1.6 -.2-5.1 1.1-1.2 5.1-3.6 4.2 4.8 .9 .2 .7-.2 4.5-4.1 1.2-1.1 -1.2-4.4 -.2-.7 .2-.5 .8-4.6 4.3-5 .1-.1 5-3.8 5.2-.8 4.9 4.6 .2 .3 1.8 4.8 -1.6 5.1 -.2 .3 -5.1 4.7 -1.8 .1 .5 5.2 -1.4 5.1 -2.5 1.8 -3.5 3.3 -1.1 5.1zM140.5 158.1l-2.8-4.4 2.8-3 2.5 3zM186.7 154.5l-2.3-.8 2.3-2.5 2.8 2.5zM109.7 164.6l-5.1 1.2 -1.8-1.8 1.8-3.8 5.1 2.5 1.5 1.3zM130.2 164.2l-.1-.2 .1-.6 .4 .6zM78.9 179.8l-.6-.5 -.8-5.1 1.4-1.3 1.8 1.3 -1.1 5.1zM253.5 180l-1-.7 1-.9 .3 .9zM289.5 182.5l-3.3-3.2 3.3-.6 1.1 .6zM248.4 185.7l-1.4-1.3 1.4-.9 .6 .9zM320.3 230.7l-5.2 2.4 -5.1-1.8 -1.3-.8 1.3-2.4 4.1-2.7 -4.1-1.9 -3.4-3.3 -1.7-1.3 -1.1 1.3 1.1 3.1 1.9 2.1 -1.9 .9 -5.2 2.1 -3.1-3 -2-4.2 -.9-1 .9-.7 1.5-4.4 1-5.1 -2.5-3.8 -5.1-.2 -3.7 4 -1.5 2.4 -4-2.4 2-5.1 2-1.6 1.3-3.5 1.5-5.1 2.4-.9 5.1-1.7 .8-2.6 -.8-1.8 -4.1-3.3 4.1-2 5.1-2.4 5.2 2.3 5.1-1.2 2.7 3.3 -2.7 4.3 -1.5 .8 1.5 1.3 5.1 .8 5.2 2.2 5.1-2.6 .1 3.5 .1 5.1 0 5.1 .1 5.1 -.2 5.1 0 5.1 0 5.2 -.1 1.5 -4.9 3.6zM263.8 207.4l-1.4-2.5 .6-5.1 .5-5.1 -.6-5.2 .9-.4 .4 .4 .1 5.2 0 5.1 1 5.1zM258.6 230l-4.8-4.6 -.3-.1 -4.1-5.1 -1-.9 -5.2-1.2 -5.1 .8 -.8 1.3 -4.3 1.9 -.6-1.9 -3.7-5.1 4.3-1.6 4.9-3.5 .2-.1 .2 .1 4.9 2.3 2.6-2.3 2.6-2.6 4.1 2.6 1 .1 5.1 2.2 5.2-1.1 4.6-1.2 .5-.2 .4 .2 4.8 1.9 5.1-.6 2.2 3.8 -1.4 5.1 -.8 3 -5.1-1.3 -4.4-1.7 -.8-.6 -5.1-1 -4.7 1.6 .7 5.2zM289.5 216.5l-1-1.4 1-.5 1.2 .5zM120 279.4l-5.2-1.4 -1.2-1.5 -2.2-5.1 .1-5.1 -1.8-3 -5.1 1.6 -4.3-3.7 -.9-4.8 0-.4 -1.5-5.1 .2-5.1 -3-5.1 -.8-.5 -4.2-4.6 -.2-5.1 -.3-5.1 4.7-3.6 3.1-1.6 2-1.4 .9 1.4 2.2 5.2 1.5 5.1 -1.4 5.1 1 5.1 -1.5 5.1 2.5 1.1 .6-1.1 3.5-5.1 1-.2 5.1-3.5 .8-1.4 -.8-3.7 -.7-1.4 .7-1.3 2.5-3.8 2.7-3.5 3.1 3.5 2 .7 5.1 4.3 5.2 0 .1 .1 -.1 1.1 -.2 4 .2 .2 5.1 2.3 1.7 2.6 -1.6 5.1 -.1 .4 -2.3 4.7 2.3 5.1 0 .1 1.3 5.1 3.8 4.1 .8 1 -.8 1 -3.7 4.1 -1.4 1.5 -5.1 1.3 -4.2-2.8 -1-1.4 -4.3-3.7 -.8-.9 -1.5-4.2 -3.6-2.3 -4.6 2.3 4.6 2.7 4.6 2.4 .5 1.3 3 3.8 -3 1.9 -1.3 3.2zM233 242.6l-5.2-.8 -2.4-1.1 -2.7-4.4 -.6-.7 .6-.3 3.4-4.8 1.7-1.6 5.2-2.5 3.6 4.1 1.5 3.2 1.8 1.9 -1.8 2.6 -2.2 2.5zM258.6 242.6l-2.2-1.9 1.9-5.1 .3-2.9 .3 2.9 1.7 5.1zM294.6 240.9l-5.1 .1 -1.3-.3 1.3-.6 5.1 .2 .1 .4zM89.1 246.1l-.1-.3 .1-.2 .5 .2zM243.2 260.2l-2.8-4.2 2-5.1 -3-5.1 3.8-2.2 2.4 2.2 -.6 5.1 3 5.1zM263.8 251l-1.1-.1 1.1 0zM111.2 256l-1.5-1.7 -1.9 1.7 1.9 3.6zM253.5 257.7l-3.7-1.7 3.7-1.3 1 1.3zM248.4 261.9l-1.5-.7 1.5-3 1 3zM268.9 261.9l-3.4-.7 3.4-1.1 1.1 1.1zM258.6 274.9l-1.8-3.5 .6-5.1 1.2-3.5 4.7 3.5 -.7 5.1zM197 271.9l-.4-.5 .4-.5 1.6 .5zM191.9 361.8l-5.2-2.4 -5.1 1.8 -1.5-2.8 1.5-2.8 5.1 0 1.8-2.4 3.4-1.7 2.4-3.4 0-5.1 2.2-5.1 -4.6-4.2 -.5-.9 .5-.8 3.8-4.3 1.3-1.2 5 1.2 .1 0 .3 0 -.1-5.1 5-2.8 5.1-.7 2.5 3.5 2.7 1.5 5.1 2.5 3.5-4 -1.5-5.2 3.1-3.4 1.3-1.7 -.1-5.1 -.8-5.1 -.4-.5 -5.1-.2 -5.1-1.1 -3.3-3.3 .1-5.1 3.2-3.8 1.4-1.4 0-5.1 -1.4-2.7 -3.2-2.4 1.7-5.1 1.5-.8 3.4 .8 1.7 1.2 2.6 3.9 2.5 4 3.3-4 1.9-2.6 4.6-2.5 .5-.3 .3 .3 4.8 4.3 5.2-1.7 5.1-1.2 4.7 3.7 .4 4.6 .2 .5 5 3.8 .5 1.3 -.5 1.5 -2 3.7 2 5.1 -5.2 4.8 -.3 .3 .3 .2 2.6-.2 2.6-4.6 .2 4.6 .2 5.1 -.1 5.1 -.3 1.1 -5.2 2 -2.7-3.1 -2.4-4.9 -5.1 1.3 -4.6 3.6 -.6 .2 -5.1 3.8 -2.7 1.1 2.7 3.7 1.9 1.5 -1.3 5.1 -.6 .8 -5.1 3.9 -4.3 .4 -.9 .1 -5.1 5 -5.1 4.4 -2.6 .7 -2.6 1.4 -2.5-1.4 -2.6-.7 -1.8 .7 -3.4 .8 -3.6 4.3 .5 5.1 -2 3.7 -1.6 1.5zM274.1 277.7l-1.7-1.2 -.3-5.1 2-1.6 1.3 1.6 -.5 5.1zM130.2 280.1l-2-3.6 2-3 1.5 3zM207.3 279.3l-3.8-2.8 3.8-2.8 4 2.8zM284.3 279.2l-2.3-2.7 2.3-2.1 2 2.1zM207.3 293.2l-5.2 .7 -2.8-2 -2.3-2.5 -5.1-2.1 -.2-.6 .2-.1 5.1-1.4 3.6-3.6 1.5-2.2 1.3 2.2 3.9 2.3 5.1 .4 2.8 2.4 -2.8 2.1 -2.5 3.1zM244.1 281.6l-.9-4.2 -3.3 4.2 3.3 2.6zM268.9 282l-1-.4 1-.8 .6 .8zM84 291.9l-5.1 .2 -.6-.2 -1.8-5.2 2.4-3.5 5.1 1.3 1.2 2.2 -1.1 5.2zM249.3 297l-.9-.2 -.4 .2 .4 .4zM289.5 300.6l-2.5-3.6 2.5-4 4 4zM299.7 299.3l-3.8-2.3 3.8-3.1 2.5 3.1zM304.9 311.6l-3.3-4.4 3.3-3.4 3.5 3.4zM181.6 313.5l-1.4-1.2 1.4-2.1 3.9 2.1zM197 319.2l-2.5-1.8 -2.6-4.7 -2-.4 2-.3 5.1-.6 5.1 .5 .5 .4 -.5 .5 -3.4 4.6zM222.7 315.8l-5.1-2 -5.2 2.9 -2-4.4 2-3.4 5.2 1.4 5.1-2.7 3.8 4.7zM310 317l-3.8-4.7 3.8-2.4 3.4 2.4zM299.7 317.5l-.3-.1 .3-.7 .3 .7zM315.1 318.5l-4.6-1.1 4.6-3.1 1.2 3.1zM73.7 344.9l-3.1-1.9 -2-1.2 -2.5-3.9 2.5-3.4 2.4-1.7 2.7-1.6 1.6 1.6 3 5.1 -2.7 5.1zM135.4 342.4l-5.2 .5 -5.1-3.2 -1-1.8 1-1.2 2.5-3.9 2.6-1.6 3.1 1.6 2.1 .4 3.9 4.7zM213 332.8l-.6-.4 -.4 .4 .4 .8zM176.5 344.4l-1.5-1.4 1.5-3 1.8 3zM135.4 368.3l-5.2 .2 -4.9-5 4.9-5 4-.1 -4-3.6 -.8-1.6 .8-1.4 2.3-3.7 2.9-2.7 2.6 2.7 2.1 5.1 -3.6 5.2 3.5 5.1zM181.6 348.8l-.4-.7 .4-.5 .3 .5zM222.7 354.2l-.5-1 .5-.5 3.7 .5zM233 359l-.4-.6 -4.2-5.2 4.6-1 1.5 1 -1.2 5.2zM197 365.2l-3.5-1.7 3.5-3.6 2.3 3.6zM222.7 395.4l-1.4-1.2 -2.4-5.1 3.8-4.2 1-1 1.6-5.1 -2.6-3.7 -5.1-1.1 -2.5-.3 2.5-.6 4.7-4.5 .4-.6 2.2-4.5 2.9-2.4 3 2.4 -.4 5.1 -2.2 5.1 4.8 3.1 1.7 2 1.7 5.1 .5 5.2 -3.9 4.2 -5.2 .6 -.5 .3zM155.9 401l-5.1 .9 -4.9-2.6 0-5.1 -.3-3 -1.1-2.1 1.1-1.1 1.6-4.1 .5-5.1 3.1-5 2.4 5 1.8 5.1 .9 1.5 1.8-1.5 3.4-2.2 5.1 .2 .7-3.1 4.4-3.9 5.2 .8 2 3.1 -2 4.6 -.4 .5 -4.8 3.9 -5.1-1.4 -1.9 2.7 1.9 1.7 1.4 3.4 -1.4 1.8 -5.1 .5 -2.5 2.8zM202.1 384l-5.1 1.6 -1.5-1.7 -1.9-5.1 3.4-4.6 5.1 .4 2.9 4.2 -2.8 5.1zM294.6 389.8l-5.1 2.4 -5.2-.2 -3.8-2.9 1.4-5.2 2.4-1.8 5.2 1.5 .9 .3 4.2 3.8 .8 1.4zM212.4 394.4l-.1-.2 .1-.3 .3 .3zM238.1 406.1l-2.8-1.7 -2.3-.8 -5.2-4.1 -.2-.2 .2-2.7 5.2-1.4 3.2-1 1.9-1.4 .8 1.4 1.3 5.1 -1.1 5.1zM171.3 405.8l-1.5-1.4 1.5-1.7 1.1 1.7zM212.4 405.4l-.5-1 .5-.7 1.1 .7zM140.5 418.7l-2.9-4.1 2.9-1.1 1.1 1.1zM161.1 437.2l-.6-2.1 -4.6-5 -.2-.1 -1.6-5.1 1.8-2.8 1.2-2.4 4-2.3 5.1 .2 5.1-3 .1 0 .8 5.1 -.9 1.4 -5.1 1.6 -1.5 2.2 1.1 5.1 -3.5 5.1zM227.8 535l-5.1 1.1 -5.1-1.4 -4.6-2.4 -.6-.5 -4.9-4.6 -.2-.2 -5.2-2.3 -2.3-2.6 2.3-2.2 2-3 3.2-4.4 2-.7 2.1-5.1 -3.1-5.1 -.7-5.1 -.3-.6 -5.2-.2 -1.4 .8 -3.7 3 -.8-3 -.1-5.1 -2.8-5.1 -1.4-1.7 -2.8-3.5 -2.4-1.6 -2.4-3.5 2.4-3.1 3.6-2 1.6-2.5 .7-2.6 -.7-1.8 -1.7-3.3 -3.5-4 -2.2-1.1 2.2-1.5 4.6-3.7 -1.1-5.1 1.2-5.1 -.7-5.1 1.2-.6 1.8 .6 3.3 1.7 2.7 3.4 -2.7 5 -.1 .1 .1 .1 .3-.1 4.8-1.7 1.9-3.4 2.1-5.1 1.2-1.7 5.1-2.6 1.4-.8 3.4-5.1 .4-.3 5.1-4.3 3-.6 -1.2-5.1 3.3-2.7 1.1 2.7 4.1 4.5 .9 .6 -.3 5.2 2.1 5.1 2.4 3.3 1.4 1.8 .8 5.1 1.9 5.1 1 3.4 .5 1.7 -.5 .9 -1.2 4.3 -3.9 4.8 -4.3-4.8 -.8-.6 -.9 .6 -1.8 5.1 -2.5 2.5 -2.3-2.5 -2.8-2.6 -2.9 2.6 -2.2 2.1 -1.9 3 -2.4 5.1 -.9 .3 -2.4 4.8 2.4 4.2 3 .9 2.2 1.5 2.4 3.7 2.7 4.8 5.1-1.9 2.1 2.2 -1 5.1 -1.1 .9 -3.7 4.2 1.3 5.1 -.6 5.1 3 3 2.9 2.1 2.3 2.8 2.1 2.4 -2.1 2.9 -.5 2.2 -1.9 5.1zM145.6 420.9l-4.4-1.2 4.4-1.6 4.1 1.6zM207.3 420.4l-1.3-.7 1.3-1 .6 1zM176.5 428.3l-2.2-3.4 2.2-1.5 2.2 1.5zM186.7 427.1l-2.8-2.2 2.8-1.7 2.7 1.7zM171.3 433.1l-4.5-3.1 4.5-3 4.1 3zM176.5 441.4l-.8-1.2 -.2-5.1 1-1.9 .8 1.9 -.1 5.1zM176.5 473.7l-5.2 1.8 -5.1-.5 -4.2-4.1 .3-5.1 3.9-4 1.7-1.1 3.4-3.9 1.9-1.2 -1.9-.9 -5.1-.1 -2.5-4.2 -2.1-5.1 4.6-4.7 5.1 1.4 4 3.3 1.2 2.2 4.9 2.9 -1.6 5.2 -1.5 5.1 3.3 2.8 2.6 2.3 -2.6 3.5 -1.2 1.6zM238.1 470.4l-2.1-4.6 2.1-4.5 1.4 4.5zM263.8 473.2l-3.5-2.3 3.5-2 2.4 2zM315.1 472.2l-5.1 3.6 -4.7-4.9 4.7-3.3 5.1 0 2.1 3.3zM243.2 476.2l-.1-.2 .1-.5 .5 .5zM248.4 486.3l-.1 0 .1-.2 0 .2zM310 553.7l-1.4-.9 -3-5.2 -.7-.7 -1.6-4.4 -3.6-1.9 -5.1 1.9 -.1 0 -5 .4 -5.2 1.5 -5.1 2 -2.6 1.2 -2.5 1.9 -3.8 3.3 -1.4 2.3 -4.8-2.3 .6-5.2 -.9-.4 -5.1-4.7 .5-5.1 -.6-4.3 -.4-.8 .4-.4 1.2-4.7 .7-5.1 3.3-1.6 5.1-.1 5.2-1.5 5.1 1.8 2.8 1.4 2.3 1 1.7-1 .9-5.2 2.6-2.6 5.1-.4 1.4-2.1 -1.4-4.1 -2.9-1 -2.2-1.1 -2.8-4 2.8-3.4 1.2-1.7 3.9-4 5.1 2.3 2.7 1.7 2.5 1.9 3.4 3.2 -3.4 4.2 -1.1 .9 1.1 .9 1.2-.9 3.9-2.8 3.2-2.3 1.9-1.3 2 1.3 3.2 2.3 2.3-2.3 1.6-5.1 -3.9-4.2 -.8-.9 .8-.9 5.1 0 0 .9 0 5.1 .1 5.1 0 5.1 0 5.1 .1 5.1 -.1 5.2 .1 5.1 0 5.1 0 5.1 0 5.1 -.1 5.1 -.1 3.4 -5.1 .8 -5.2-1.4 -3.6 2.4zM186.7 498.9l-1.3-2.4 1.3-3.4 1.3 3.4zM197 513.2l-5.1 2.7 -5-4.1 .8-5.1 3.4-5.1 .8-.3 1.7 .3 3.4 2 2.8 3.1 -1.5 5.1zM202.1 502.9l-1.6-1.3 1.6-2.3 1 2.3zM279.2 509.7l-2.2-3 2.2-3.5 2.4 3.5zM284.3 512.3l-.4-.5 .4-.2 .5 .2zM311.5 522.1l-1.5-2.2 -2.5 2.2 2.5 1.4zM155.9 527.2l0-.2 .1 .2zM181.6 539.2l-1.4-1.8 1.4-2.2 1.6 2.2zM263.8 568.1l-5.2 .1 0-.1 -.9-5.1 -3-5.1 3.9-1.7 4.5 1.7 -3.7 5.1 4.4 4.6 0 .5zM294.6 565l-1.1-2 -.2-5.1 1.3-.3 .2 .3 .6 5.1zM268.9 563.2l-1.4-.2 1.4-.8 .2 .8zM325.4 624.5l-5.1 0 -4.3-.1 -.9-1.5 -4.3-3.6 4.2-5.2 -1.5-5.1 1.1-5.1 .5-.6 4 .6 -.5 5.1 1.7 1.1 .7-1.1 4.4-1.2 .1 1.2 0 5.1 .1 5.2 -.1 5.1z"/>
<path fill="#19ff00" d="M212.4 30.5l-1.3-4.7 1.3-1.4 3.3 1.4zM191.9 78.3l-2.6-1.3 -2.6-.9 -5.1-2.3 -1.8-1.9 -.8-5.1 2.5-5.1 .1-.2 .4 .2 4.7 2.1 5.2 2.9 4.3 .1 -.4 5.1 -2.1 5.1zM191.9 121.4l-5.2-.9 -5.1-.2 -1-2.4 -.9-5.1 1.9-2.2 2.7-2.9 2.4-1.8 5.2-1.2 3.1 3 2 3.4 .6 1.7 -.6 1.9 -1.5 3.2zM181.6 128.2l-.2 0 .2-.2 .4 .2zM166.2 138.9l-.6-.5 -2.4-5.1 3-3.5 5.1 .6 5.2-.9 1.7 3.8 -1.7 1.9 -5.2 2.4 -2.9 .8zM78.9 174.3l-.1-.1 .1 0zM299.7 200.3l-5.1 .1 -2.8-.6 2.8-.7 4-4.4 0-5.2 1.1-2.6 2 2.6 -.8 5.2 -.4 5.1zM325.4 221.9l-.9-1.7 -4.2-3 -4.6-2.1 -.6-5 0-.1 -5.1-3.3 -5.1-.3 -1.4-1.5 1.4-1.8 2.8-3.3 2.3-1.8 5.1-1.9 5.2 3.1 5.1-4.5 .1 5.1 0 5.1 .1 5.1 -.2 5.1 0 5.1zM253.5 220.8l-.5-.6 -4.6-4.6 -1.2-.5 1.2-1 5.1-3.2 5.1 3.7 5.2 .1 1 .4 -1 .4 -5.2 .6 -4.4 4.1zM99.4 237.2l-5.1-1.2 -.4-.4 -2.8-5.1 1.7-5.1 1.5-1.1 5.1-1 .9 2.1 2.1 5.1 -2.5 5.1zM130.2 256.6l-5.1 2.4 -5-3 -.1-.1 -1.1 .1 -4.1 .6 -.3-.6 -4.3-5.1 2.1-5.1 2.5-2.4 .8-2.7 2.5-5.1 .2-5.1 1.7-2.2 5.1 .8 1.6 1.4 3.5 4.1 1 1 4.2 4.2 1.5 .9 -.4 5.1 -1.1 1.6 -2.5 3.5 -1.9 5.1zM233 236.3l-2.7-.7 2.3-5.1 .4-.2 .1 .2 .6 5.1zM243.2 256.5l-.3-.5 .3-.6 .5 .6zM104.6 262.5l-1.6-1.3 1.6-4 2.1 4zM120 276.5l-.1 0 -5.1-2.2 -1.4-2.9 1.4-3.2 5.2-1.1 3.5 4.3 -3.5 5.1zM253.5 295.1l-5.1-.4 -3.7-2.8 -.9-5.2 2-5.1 2.6-4.5 5.1-.6 3.8 5.1 .2 5.1 -.7 5.2zM222.7 281.7l0-.1 0-.1 0 .1zM233 306.7l-2.4-4.6 -2.8-3.8 -2.7-1.3 -2.4-4.3 -.5-.8 .5-.5 3.4-4.7 1.7-1.4 2.1 1.4 .9 5.2 2.2 4.7 5.1-.8 4.2 1.2 -4.2 3 -.8 2.1zM258.6 297.3l-.4-.3 .4-.5 .3 .5zM238.1 310.3l-4.3-3.1 4.3-3.8 3.5 3.8zM258.6 309.6l-1.4-2.4 1.4-1.3 1.6 1.3zM304.9 307.5l-.2-.3 .2-.2 .2 .2zM212.4 328.7l-1.2-1 1.2-1.3 1.8 1.3zM233 328.2l-.6-.5 .6-.7 .6 .7zM207.3 335.1l-5.2-1.5 -1-.8 1-.8 5.2 0 .6 .8zM73.7 342.8l-5.1-3.8 -.7-1.1 .7-.9 5.1-4.1 3.9 5zM135.4 341.7l-5.2 .5 -4.6-4.3 4.6-5 5.2 1.1 3.2 3.9zM135.4 357.4l-4.3-4.2 4.3-4.9 3.6 4.9zM135.4 367.9l-5.2 .3 -4.6-4.7 4.6-4.7 5.2-.1 4.3 4.8zM171.3 385.1l-1.8-1.2 -.3-5.1 2.1-1.8 5.1 1.8 -3.6 5.1zM202.1 379.9l-5.1 2.5 -2-3.6 2-2.6 5.1 1.7 .7 .9zM289.5 390.6l-5.2 0 -1.9-1.5 1.8-5.2 .1 0 .3 0 4.9 2.3 3 2.9zM150.8 400.2l-1.7-.9 -1.2-5.1 .9-5.1 2-4.1 2.7 4.1 2.4 1.4 3.5 3.7 -3.5 3.8 -2.3 1.3zM222.7 389.2l-.1-.1 .1-.1 .2 .1zM233 390l-2.1-.9 2.1-4.3 .8 4.3zM227.8 456.4l-1-.8 -4.1-2.3 -2.8-2.9 -2.3-5.1 0-.1 -4.9-5 -.2-5.1 5.1-3.7 1.2-1.4 1.1-5.1 2.8-2.4 5.1-.9 3 3.3 1.6 5.1 .6 1 3.2 4.1 -.5 5.1 -.1 5.1 1.7 5.1 -4.3 2.1 -4.7 3.1zM161.1 430.3l-.3-.3 .3-.5 .2 .5zM171.3 451.8l-5.1-1.3 -.1-.1 -.5-5.1 .6-.6 5.1 .5 .2 .1 2 5.1zM212.4 458.3l-5.1 2 -3.1-4.7 -2.1-3 -2.8-2.2 2.8-2.1 4.1-3 1.1-1.8 2.6 1.8 2.5 1.2 3.2 3.9 -.9 5.2zM238.1 456l-.4-.4 .4-2.1 .3 2.1zM171.3 473.7l-5.1-1.1 -1.8-1.7 .5-5.1 1.3-1.4 5.1-3.6 5.2 1.8 3.5 3.2 -3.5 4.2 -.6 .9zM197 465.9l0-.1 0-.1 .1 .1zM212.4 465.9l-.1-.1 .1-.2 .1 .2zM207.3 482.5l-5.2 1.9 -5.1-1.7 -1.4-1.6 1.4-1.2 2.8-3.9 2.3-2.3 5.2 .3 .1 2 1.1 5.1zM222.7 534.5l-5.1-1.6 -1.2-.6 -4-3.3 -1.9-1.8 -3.2-3.3 -3.1-1.8 2.5-5.2 .6-.8 2 .8 3.1 1.6 4-1.6 -.7-5.1 -1.4-5.1 -1.9-3.6 -1-1.5 -.6-5.1 -2-5.1 3.6-3.2 2.9 3.2 2.3 .9 5.1 4.1 .2 .1 -.2 .2 -1.4 4.9 .8 5.1 -1.8 5.1 2.4 3.5 1.8 1.6 2.5 5.2 .8 .4 3.3 4.7 -3.3 4.9 -.4 .2zM191.9 512.1l-.3-.3 -.2-5.1 .5-.6 .7 .6 -.3 5.1zM299.7 513.8l-1.3-2 1.3-3.3 3.9 3.3zM315.1 515.4l-4-3.6 4-2.7 4.3 2.7zM325.4 548.8l-5.1 .4 -3.9-1.6 -1.3-1.7 -5.1-2.8 -.6-.6 -1-5.1 -3.5-4.5 -2.5 4.5 -2.7 1.5 -5.1 1.9 -5.1-.8 -5.2-1.2 -4.6-1.4 -.5-.2 0 .2 0 .7 1 4.4 -1 .6 -5.1 3.2 -4.9 1.3 -.3 .2 -.1-.2 -5-2.5 -2.8-2.6 .4-5.1 -.8-5.1 1.7-5.1 1.5-2.8 5.1-.5 5.2-.8 5.1 3.2 5.1-.6 5.2-3.4 .7-.2 4.4-4.3 5.1 1.9 2.8 2.4 1.8 5.1 .6 2.9 5.1-1.4 4.6 3.6 .5 .2 .2-.2 -.2-.7 -3.4-4.4 3.4-3.3 1.8-1.8 .8-5.2 2.6-3.5 2.5-1.6 2.6-1.4 0 1.4 .1 5.1 -.1 5.2 .1 5.1 0 5.1 0 5.1 0 5.1 0 5.1z"/>
<path fill="#33ff00" d="M186.7 74.1l-5.1-2.1 -.1-.1 -1-5.1 1.1-2.2 5.1 1.5 1.2 .7 1.7 5.1zM191.9 119.9l-4.6-2 -.6-.3 -4.6-4.8 4.6-4.9 .4-.2 4.8-1.3 1.4 1.3 3.3 5.1 -2.6 5.1zM171.3 134.7l-4.8-1.4 4.8-1 2.2 1zM253.5 219.4l-4.3-4.3 4.3-3.4 4.3 3.4zM99.4 233l-5.1 .8 -2-3.3 2-3.9 5.1 1 1.3 2.9zM130.2 242.7l-5.1 2 -5.1-2.5 -.3-1.5 .3-1 5.1-.5 5.1 .5 1 1zM120 251.4l-1.1-.5 1.1-2 .5 2zM120 273.6l-3.7-2.2 3.7-1.8 1.5 1.8zM253.5 292.1l-5.1 .5 -1-.7 -2.4-5.2 2.5-5.1 .9-1.5 5.1-1.7 2.4 3.2 .3 5.1 -2.5 5.2zM73.7 341.9l-4.5-4 4.5-4.1 3.3 4.1zM135.4 340.9l-5.2 .7 -3.9-3.7 3.9-4.2 5.2 1.1 2.5 3.1zM135.4 356.2l-3.1-3 3.1-3.5 2.6 3.5zM135.4 367.6l-5.2 .4 -4.4-4.5 4.4-4.5 5.2 0 3.9 4.5zM197 379.7l-.5-.9 .5-.6 1.6 .6zM289.5 389.1l-5.2 0 -.1 0 .1-.4 5.2 .2 .1 .2zM155.9 394.9l-5.1 1.6 -.9-2.3 .9-2.5 5.1 1.8 .7 .7zM227.8 449.5l-5.1-.7 -2.5-3.5 -2-5.1 -.6-2.6 -1.2-2.5 1.2-.8 3.8-4.3 1.1-5.1 .2-.2 5.1-.7 .8 .9 1.7 5.1 2.7 4.5 .4 .6 -.4 3.8 -.2 1.3 -1.1 5.1zM207.3 456.1l-.4-.5 .4-1.6 1 1.6zM171.3 471.9l-3.4-1 -1.1-5.1 4.5-3.8 5.2 3.8 -3.5 5.1zM217.6 508.6l-.9-1.9 -1.2-5.1 -1.4-5.1 3.5-2.2 2.7 2.2 -1.6 5.1 0 5.1zM222.7 532.8l-1.7-.5 -3.4-1.9 -4-3.2 4-4.7 5.1-.4 5.1 2.4 1.9 2.7 -1.9 2.8 -3.9 2.3zM274.1 544.4l-5.2 1.5 -5.1-2.9 -.5-.5 .3-5.1 -.9-5.1 1.1-2.8 1.9-2.3 3.2-1.4 5.2-.8 2.8 2.2 1.8 5.1 -.9 5.1 -1 5.1zM294.6 539l-4.5-1.6 -.6-.9 -3.1-4.2 -.7-5.1 3.8-2.5 5.1-1.8 5.1 3.4 .2 .9 -.2 1 -.3 4.1 -.4 5.1z"/>
<path fill="#4dff00" d="M186.7 72l-.2-.1 .2-.3 .2 .3zM191.9 118.4l-1.2-.5 -4-2.7 -2.3-2.4 2.3-2.5 5.2-2.3 3.8 4.8 -3.3 5.1zM253.5 218.3l-3.2-3.2 3.2-2.6 3.3 2.6zM94.3 231.9l-.8-1.4 .8-1.6 3.9 1.6zM253.5 289.5l-5.1 1 -2.2-3.8 2.2-4 2.1-1.1 3-1.3 1 1.3 .4 5.1zM73.7 341.1l-3.6-3.2 3.6-3.2 2.6 3.2zM135.4 340.1l-5.2 .8 -3.2-3 3.2-3.5 5.2 1.2 1.9 2.3zM135.4 355.1l-1.9-1.9 1.9-2.1 1.6 2.1zM135.4 367.2l-5.2 .5 -4.1-4.2 4.1-4.2 5.2 .1 3.6 4.1zM227.8 446.8l-4.7-1.5 -.4-.2 -2.3-4.9 -.4-5.1 2.7-3.1 3.7-2 1.4-1.2 .4 1.2 2.8 5.1 -1.6 5.1 -.3 5.1zM171.3 470.1l-3.1-4.3 3.1-2.7 3.6 2.7zM217.6 497.2l-.4-.7 .4-.2 .2 .2zM227.8 527.9l-5.1 3.1 -5.1-3.4 -.5-.4 .5-.6 5.1-2.9 5.1 2.7 .5 .8zM268.9 544.2l-2.8-1.7 -.1-5.1 -.8-5.1 3.7-4.2 3.6-.9 1.6-.3 .3 .3 2.7 5.1 -.6 5.1 -2.4 4.9 -.5 .2zM294.6 537.1l-4-4.8 -1.1-4.3 -.3-.8 .3-.2 5.1-1.5 2.1 1.7 .7 5.1z"/>
<path fill="#66ff00" d="M191.9 117.1l-5.2-4.2 0-.1 5.2-3.7 2.9 3.7zM253.5 217.3l-2.2-2.2 2.2-1.7 2.3 1.7zM253.5 287l-5.1 1.4 -1-1.7 1-1.7 5.1 .5 .1 1.2zM73.7 340.2l-2.6-2.3 2.6-2.4 1.9 2.4zM135.4 339.3l-5.2 1 -2.5-2.4 2.5-2.7 5.2 1.2 1.2 1.5zM135.4 353.9l-.7-.7 .7-.8 .6 .8zM135.4 366.9l-5.2 .6 -3.9-4 3.9-4 5.2 .3 3.3 3.7zM227.8 437.4l-3.4-2.3 3.4-1.8 1 1.8zM222.7 440.5l-.1-.3 .1-1.1 .5 1.1zM171.3 468.2l-1.7-2.4 1.7-1.5 2.1 1.5zM222.7 529.2l-2.9-2 2.9-1.8 3.2 1.8zM274.1 539.6l-5.2 1.8 -.4-4 -.3-5.1 .7-.8 5.2-1.8 1.4 2.6 -.3 5.1zM294.6 533.6l-1.1-1.3 1.1-2.7 .7 2.7z"/>
<path fill="#80ff00" d="M191.9 115.7l-3.6-2.9 3.6-2.5 1.9 2.5zM253.5 216.3l-1.2-1.2 1.2-.9 1.2 .9zM73.7 339.4l-1.6-1.5 1.6-1.5 1.2 1.5zM135.4 338.6l-5.2 1 -1.8-1.7 1.8-2 5.2 1.3 .5 .7zM135.4 366.6l-5.2 .6 -3.6-3.7 3.6-3.7 5.2 .3 3 3.4zM171.3 466.4l-.4-.6 .4-.4 .5 .4zM222.7 527.3l-.2-.1 .2-.2 .2 .2z"/>
<path fill="#99ff00" d="M191.9 114.4l-1.9-1.6 1.9-1.3 1 1.3zM253.5 215.3l-.2-.2 .2-.1 .2 .1zM73.7 338.5l-.7-.6 .7-.6 .5 .6zM130.2 339l-1.1-1.1 1.1-1.2 4.7 1.2zM135.4 366.2l-5.2 .7 -3.3-3.4 3.3-3.4 5.2 .4 2.6 3z"/>
<path fill="#b3ff00" d="M191.9 113l-.3-.2 .3-.2 .1 .2zM130.2 338.3l-.4-.4 .4-.5 1.9 .5zM135.4 365.9l-5.2 .8 -3.1-3.2 3.1-3.2 5.2 .6 2.3 2.6z"/>
<path fill="#ccff00" d="M135.4 365.6l-5.2 .8 -2.8-2.9 2.8-2.9 5.2 .6 2 2.3z"/>
<path fill="#e5ff00" d="M135.4 365.2l-5.2 .9 -2.6-2.6 2.6-2.7 5.2 .8 1.7 1.9z"/>
<path fill="#ffff00" d="M135.4 364.9l-5.2 1 -2.3-2.4 2.3-2.4 5.2 .9 1.3 1.5z"/>
<path fill="#fff000" d="M135.4 364.5l-5.2 1.1 -2.1-2.1 2.1-2.1 5.2 .9 1 1.2z"/>
<path fill="#ffe000" d="M135.4 364.2l-5.2 1.2 -1.8-1.9 1.8-1.9 5.2 1.1 .7 .8z"/>
<path fill="#ffd100" d="M135.4 363.9l-5.2 1.2 -1.6-1.6 1.6-1.6 5.2 1.2 .3 .4z"/>
<path fill="#ffc200" d="M135.4 363.5l-5.2 1.3 -1.3-1.3 1.3-1.4 5.2 1.3 0 .1z"/>
<path fill="#ffb300" d="M130.2 364.6l-1-1.1 1-1.1 4.3 1.1z"/>
<path fill="#ffa300" d="M130.2 364.3l-.8-.8 .8-.9 3.3 .9z"/>
<path fill="#ff9400" d="M130.2 364.1l-.5-.6 .5-.6 2.3 .6z"/>
<path fill="#ff8500" d="M130.2 363.8l-.3-.3 .3-.3 1.3 .3z"/>
<path fill="#ff7500" d="M130.2 363.5l0-.1 .2 .1z"/>
</g>
<rect x="68.6" y="10.5" width="242.0" height="599.3" fill="none" stroke="#9a9a9a" stroke-width="1"/>
<path d="M73.2 10.5v-7.5M73.2 609.8v7.8M130.3 10.5v-7.5M130.3 609.8v7.8M187.3 10.5v-7.5M187.3 609.8v7.8M244.4 10.5v-7.5M244.4 609.8v7.8M301.5 10.5v-7.5M301.5 609.8v7.8M68.6 16.4h-7.6M310.6 16.4h7.6M68.6 73.2h-7.6M310.6 73.2h7.6M68.6 130.1h-7.6M310.6 130.1h7.6M68.6 186.9h-7.6M310.6 186.9h7.6M68.6 243.8h-7.6M310.6 243.8h7.6M68.6 300.6h-7.6M310.6 300.6h7.6M68.6 357.4h-7.6M310.6 357.4h7.6M68.6 414.3h-7.6M310.6 414.3h7.6M68.6 471.1h-7.6M310.6 471.1h7.6M68.6 528.0h-7.6M310.6 528.0h7.6M68.6 584.8h-7.6M310.6 584.8h7.6" stroke="#9a9a9a" stroke-width="1" fill="none"/>
<text x="59.0" y="21.5" text-anchor="end">4381000</text>
<text x="59.0" y="78.3" text-anchor="end">4380000</text>
<text x="59.0" y="135.2" text-anchor="end">4379000</text>
<text x="59.0" y="192.0" text-anchor="end">4378000</text>
<text x="59.0" y="248.9" text-anchor="end">4377000</text>
<text x="59.0" y="305.7" text-anchor="end">4376000</text>
<text x="59.0" y="362.5" text-anchor="end">4375000</text>
<text x="59.0" y="419.4" text-anchor="end">4374000</text>
<text x="59.0" y="476.2" text-anchor="end">4373000</text>
<text x="59.0" y="533.1" text-anchor="end">4372000</text>
<text x="59.0" y="589.9" text-anchor="end">4371000</text>
<text x="73.2" y="632.0" text-anchor="middle">638000</text>
<text x="130.3" y="632.0" text-anchor="middle">639000</text>
<text x="187.3" y="632.0" text-anchor="middle">640000</text>
<text x="244.4" y="632.0" text-anchor="middle">641000</text>
<text x="301.5" y="632.0" text-anchor="middle">642000</text>
<g transform="translate(0,0)">
<text x="371.2" y="43.6" text-anchor="middle" class="sf" style="font-size:19px">N</text>
<path d="M371.6 47L363.3 82.3L371.6 76.8z" fill="#fff" stroke="#000" stroke-width="1.6" stroke-linejoin="miter"/>
<path d="M371.6 45.3L380.4 83.2L371.6 76.8z" fill="#000" stroke="#000" stroke-width=".6"/>
<rect x="357.8" y="110.70" width="24.9" height="7.88" fill="#ff0000"/>
<rect x="357.8" y="118.53" width="24.9" height="7.88" fill="#ff0a00"/>
<rect x="357.8" y="126.35" width="24.9" height="7.88" fill="#ff1400"/>
<rect x="357.8" y="134.18" width="24.9" height="7.88" fill="#ff1f00"/>
<rect x="357.8" y="142.01" width="24.9" height="7.88" fill="#ff2900"/>
<rect x="357.8" y="149.84" width="24.9" height="7.88" fill="#ff3300"/>
<rect x="357.8" y="157.66" width="24.9" height="7.88" fill="#ff3d00"/>
<rect x="357.8" y="165.49" width="24.9" height="7.88" fill="#ff4700"/>
<rect x="357.8" y="173.32" width="24.9" height="7.88" fill="#ff5200"/>
<rect x="357.8" y="181.14" width="24.9" height="7.88" fill="#ff5c00"/>
<rect x="357.8" y="188.97" width="24.9" height="7.88" fill="#ff6600"/>
<rect x="357.8" y="196.80" width="24.9" height="7.88" fill="#ff7500"/>
<rect x="357.8" y="204.62" width="24.9" height="7.88" fill="#ff8500"/>
<rect x="357.8" y="212.45" width="24.9" height="7.88" fill="#ff9400"/>
<rect x="357.8" y="220.28" width="24.9" height="7.88" fill="#ffa300"/>
<rect x="357.8" y="228.11" width="24.9" height="7.88" fill="#ffb300"/>
<rect x="357.8" y="235.93" width="24.9" height="7.88" fill="#ffc200"/>
<rect x="357.8" y="243.76" width="24.9" height="7.88" fill="#ffd100"/>
<rect x="357.8" y="251.59" width="24.9" height="7.88" fill="#ffe000"/>
<rect x="357.8" y="259.41" width="24.9" height="7.88" fill="#fff000"/>
<rect x="357.8" y="267.24" width="24.9" height="7.88" fill="#ffff00"/>
<rect x="357.8" y="275.07" width="24.9" height="7.88" fill="#e5ff00"/>
<rect x="357.8" y="282.89" width="24.9" height="7.88" fill="#ccff00"/>
<rect x="357.8" y="290.72" width="24.9" height="7.88" fill="#b3ff00"/>
<rect x="357.8" y="298.55" width="24.9" height="7.88" fill="#99ff00"/>
<rect x="357.8" y="306.38" width="24.9" height="7.88" fill="#80ff00"/>
<rect x="357.8" y="314.20" width="24.9" height="7.88" fill="#66ff00"/>
<rect x="357.8" y="322.03" width="24.9" height="7.88" fill="#4dff00"/>
<rect x="357.8" y="329.86" width="24.9" height="7.88" fill="#33ff00"/>
<rect x="357.8" y="337.68" width="24.9" height="7.88" fill="#19ff00"/>
<rect x="357.8" y="345.51" width="24.9" height="7.88" fill="#00ff00"/>
<rect x="357.8" y="353.34" width="24.9" height="7.88" fill="#00e51a"/>
<rect x="357.8" y="361.16" width="24.9" height="7.88" fill="#00cc33"/>
<rect x="357.8" y="368.99" width="24.9" height="7.88" fill="#00b34c"/>
<rect x="357.8" y="376.82" width="24.9" height="7.88" fill="#009966"/>
<rect x="357.8" y="384.64" width="24.9" height="7.88" fill="#007f80"/>
<rect x="357.8" y="392.47" width="24.9" height="7.88" fill="#006699"/>
<rect x="357.8" y="400.30" width="24.9" height="7.88" fill="#004cb2"/>
<rect x="357.8" y="408.13" width="24.9" height="7.88" fill="#0033cc"/>
<rect x="357.8" y="415.95" width="24.9" height="7.88" fill="#0019e6"/>
<rect x="357.8" y="423.78" width="24.9" height="7.88" fill="#0000ff"/>
<rect x="357.8" y="431.61" width="24.9" height="7.88" fill="#0f0aff"/>
<rect x="357.8" y="439.43" width="24.9" height="7.88" fill="#1f14ff"/>
<rect x="357.8" y="447.26" width="24.9" height="7.88" fill="#2e1fff"/>
<rect x="357.8" y="455.09" width="24.9" height="7.88" fill="#3d29ff"/>
<rect x="357.8" y="462.91" width="24.9" height="7.88" fill="#4c33ff"/>
<rect x="357.8" y="470.74" width="24.9" height="7.88" fill="#5c3dff"/>
<rect x="357.8" y="478.57" width="24.9" height="7.88" fill="#6b47ff"/>
<rect x="357.8" y="486.40" width="24.9" height="7.88" fill="#7a52ff"/>
<rect x="357.8" y="494.22" width="24.9" height="7.88" fill="#8a5cff"/>
<rect x="357.8" y="502.05" width="24.9" height="7.88" fill="#9966ff"/>
<path d="M357.8 118.53h24.9M357.8 126.35h24.9M357.8 134.18h24.9M357.8 142.01h24.9M357.8 149.84h24.9M357.8 157.66h24.9M357.8 165.49h24.9M357.8 173.32h24.9M357.8 181.14h24.9M357.8 188.97h24.9M357.8 196.80h24.9M357.8 204.62h24.9M357.8 212.45h24.9M357.8 220.28h24.9M357.8 228.11h24.9M357.8 235.93h24.9M357.8 243.76h24.9M357.8 251.59h24.9M357.8 259.41h24.9M357.8 267.24h24.9M357.8 275.07h24.9M357.8 282.89h24.9M357.8 290.72h24.9M357.8 298.55h24.9M357.8 306.38h24.9M357.8 314.20h24.9M357.8 322.03h24.9M357.8 329.86h24.9M357.8 337.68h24.9M357.8 345.51h24.9M357.8 353.34h24.9M357.8 361.16h24.9M357.8 368.99h24.9M357.8 376.82h24.9M357.8 384.64h24.9M357.8 392.47h24.9M357.8 400.30h24.9M357.8 408.13h24.9M357.8 415.95h24.9M357.8 423.78h24.9M357.8 431.61h24.9M357.8 439.43h24.9M357.8 447.26h24.9M357.8 455.09h24.9M357.8 462.91h24.9M357.8 470.74h24.9M357.8 478.57h24.9M357.8 486.40h24.9M357.8 494.22h24.9M357.8 502.05h24.9" stroke="#000" stroke-opacity=".55" stroke-width=".7" fill="none"/>
<rect x="357.8" y="110.7" width="24.9" height="399.18" fill="none" stroke="#888" stroke-opacity=".6" stroke-width=".7"/>
<text x="386" y="123.3">310</text>
<text x="386" y="139.0">308</text>
<text x="386" y="154.7">306</text>
<text x="386" y="170.3">304</text>
<text x="386" y="186.0">302</text>
<text x="386" y="201.7">300</text>
<text x="386" y="217.3">298</text>
<text x="386" y="233.0">296</text>
<text x="386" y="248.7">294</text>
<text x="386" y="264.3">292</text>
<text x="386" y="280.0">290</text>
<text x="386" y="295.7">288</text>
<text x="386" y="311.3">286</text>
<text x="386" y="327.0">284</text>
<text x="386" y="342.7">282</text>
<text x="386" y="358.3">280</text>
<text x="386" y="374.0">278</text>
<text x="386" y="389.7">276</text>
<text x="386" y="405.3">274</text>
<text x="386" y="421.0">272</text>
<text x="386" y="436.7">270</text>
<text x="386" y="452.3">268</text>
<text x="386" y="468.0">266</text>
<text x="386" y="483.7">264</text>
<text x="386" y="499.3">262</text>
<text x="386" y="515.0">260</text>
<text x="364" y="566" style="font-size:14px">T (K)</text>
</g>
<g transform="translate(0,0)">
<text x="190.5" y="657.4" text-anchor="middle" style="font-size:16.8px;white-space:pre" xml:space="preserve">WGS 84  UTM 48N</text>
<rect x="69.9" y="669.3" width="226.8" height="9.7" fill="#fff" stroke="#9a9a9a" stroke-width="1"/>
<rect x="69.9" y="669.3" width="56.7" height="9.7" fill="#000"/>
<rect x="183.3" y="669.3" width="56.7" height="9.7" fill="#000"/>
<text x="69.9" y="692" text-anchor="middle">0</text>
<text x="126.6" y="692" text-anchor="middle">1000</text>
<text x="183.3" y="692" text-anchor="middle">2000</text>
<text x="240.0" y="692" text-anchor="middle">3000</text>
<text x="296.7" y="692" text-anchor="middle">4000</text>
<text x="316.7" y="679.4" style="font-size:15.2px">Meters</text>
<text x="215.2" y="730.3" text-anchor="middle" class="sf" style="font-size:27px;letter-spacing:.9px">(a)</text>
</g>
<!-- panel b -->
<clipPath id="clipb"><rect x="674.7" y="10.3" width="237.1" height="598.7"/></clipPath>
<g clip-path="url(#clipb)" stroke="#000" stroke-width=".45" stroke-opacity="0.75" stroke-linejoin="round" fill-rule="evenodd">
<rect x="674.7" y="10.3" width="237.1" height="598.7" fill="#e5ff00" stroke="none"/>
<path fill="#ffff00" d="M925.2 624.4l-5.1 .1 -5.1-.1 -5.1 0 -5.2 0 -5.1 0 -5.1 0 -5.1-.1 -5.1 0 -5.1 .1 -5.1 0 -5.1 .1 -5.2 0 -5.1 .1 -5.1 0 -5.1 0 -5.1 0 -5.1-.1 -5.1 0 -5.1-.1 -5.2 0 -5.1 0 -5.1 .1 -5.1 0 -5.1 .1 -5.1-.2 -5.1 0 -5.1 .1 -5.1 0 -5.2 0 -5.1 0 -5.1-.1 -5.1 .1 -5.1 0 -5.1 0 -5.1-.1 -5.1 0 -5.2-.1 -5.1-.1 -5.1 0 -5.1 0 -5.1 0 -5.1 0 -5.1 0 -5.1 .1 -5.2 0 -5.1-.1 -5.1 0 -4.5 0 -.6-.1 -.6 .1 -4.5 0 -1.3 0 -3.8-1.7 -1.8 1.7 -3.3 0 -.1 0 0-5.1 -.1-5.2 0-5.1 0-5.1 0-5.1 0-5.1 0-5.1 0-5.2 -.1-5.1 0-5.1 .1-5.1 .1-5.1 .1-5.1 .1 0 -.1-.1 -.2-5 0-5.2 .1-5.1 -.1-5.1 -.1-5.1 0-5.1 0-5.1 0-5.2 .1-5.1 0-5.1 0-5.1 0-5.1 0-5.1 0-5.1 0-5.2 0-5.1 0-5.1 0-5.1 -.1-5.1 .1-5.1 0-5.2 -.1-5.1 -.1-5.1 0-5.1 0-5.1 0-5.1 0-5.2 .1-5.1 0-5.1 .1-5.1 -.1-5.1 .1-5.1 0-5.1 0-5.2 0-5.1 .1-5.1 -.1-5.1 0-5.1 0-5.1 -.1-5.2 0-5.1 0-5.1 0-5.1 .1-5.1 -.1-5.1 .1-5.1 .1-5.2 -.2-5.1 -.1-5.1 0-5.1 0-5.1 0-5.1 -.1-5.2 0-5.1 -.1-5.1 0-5.1 0-5.1 .1-5.1 0-5.2 .1-5.1 -.1-5.1 .1-5.1 0-5.1 .1-5.1 0-5.1 0-5.2 0-5.1 -.1-5.1 .1-5.1 -.1-5.1 0-5.1 -.1-5.2 0-5.1 0-5.1 0-5.1 0-5.1 0-5.1 0-5.1 .1-5.2 0-5.1 0-5.1 0-5.1 0-5.1 0-5.1 0-5.2 0-5.1 0-5.1 .1-5.1 .1-5.1 -.1-5.1 -.1-5.2 0-5.1 0-5.1 0-5.1 0-5.1 -.1-5.1 .2-5.1 -.1-5.2 0-5.1 0-5.1 -.1-5.1 .1-5.1 .1-5.1 -.1-5.2 0-5.1 0-5.1 0-5.1 0-5.1 .2-5.1 .2-.2 5.1-.1 5.1 0 5.1 0 5.1-.1 5.1 0 5.1-.1 5.2 0 5.1 .1 5.1 0 5.1-.1 5.1 0 5.1 0 5.1 0 5.1 0 5.2 0 5.1 0 5.1 0 5.1 0 5.1 .1 5.1 0 5.1 0 5.1 0 5.2 0 5.1 .1 5.1 0 5.1 0 5.1 .1 5.1-.1 5.1-.1 5.1-.1 5.1 .1 5.2 0 5.1 0 5.1 0 5.1-.1 5.1 0 5.1 0 5.1 0 5.1 .1 5.2 .1 5.1 0 5.1-.1 5.1-.1 5.1 0 5.1 .1 5.1 0 5.1 0 5.2 .1 5.1 0 5.1 0 5.1-.1 .3 .4 0 5.1 0 5.1 .1 5.1 0 5.1 0 5.1 0 5.2 -.1 5.1 .1 5.1 0 5.1 0 5.1 -.1 5.1 0 5.2 -.1 5.1 0 5.1 0 5.1 -.1 5.1 0 5.1 .1 5.1 0 5.2 0 5.1 0 5.1 -.1 5.1 .1 5.1 0 5.1 0 5.2 0 5.1 .1 5.1 0 5.1 0 5.1 .1 5.1 0 5.2 .1 5.1 -.1 5.1 0 5.1 0 5.1 0 5.1 -.1 5.1 -.1 5.2 0 5.1 0 5.1 0 5.1 .1 5.1 0 5.1 0 5.2 0 5.1 -.1 5.1 0 5.1 0 5.1 0 5.1 0 5.1 0 5.2 .1 5.1 0 5.1 0 5.1 0 5.1 -.1 5.1 .1 5.2 0 5.1 0 5.1 0 5.1 0 5.1 0 5.1 0 5.2 0 5.1 -.1 5.1 0 5.1 0 5.1 0 5.1 .1 5.1 0 5.2 0 5.1 0 5.1 0 5.1 0 5.1 0 5.1 -.1 5.2 .1 5.1 0 5.1 0 5.1 0 5.1 0 5.1 -.1 5.1 -.1 5.2 .1 5.1 .1 5.1 0 5.1 0 5.1 0 5.1 0 5.2 0 5.1 0 5.1 0 5.1 0 5.1 -.1 5.1 .1 5.2 0 5.1 0 5.1 0 5.1 0 5.1 0 5.1 0 5.1 0 5.2 .1 5.1 0 5.1 0 5.1 0 5.1 0 5.1 -.1 5.2 0 5.1 0 5.1 -.1 5.1 0 5.1 -.1 5.1 .1 5.1 0 5.2 0 5.1 0 5.1 0 5.1 0 5.1 0 5.1 0 5.2 0 5.1zM711.6 491.2l-1.1-1.1 -.6 1.1 .6 1.8zM719.2 501.4l-3.6-4.6 -1 4.6 1 1.2zM726.7 501.4l-.9-2 -3.7 2 3.7 2.1zM742 506.5l-.8-1.1 -.9 1.1 .9 1.4zM686.6 578.1l-1.7-1.1 -.1 1.1 .1 .1zM708.2 588.4l-2.8-1 -1.6 1 1.6 1.6z"/>
<path fill="#fff000" d="M925.2 624.3l-5.1 .1 -5.1-.1 -5.1 0 -5.2 0 -5.1 0 -5.1 0 -5.1-.1 -5.1 0 -5.1 .1 -5.1 0 -5.1 .1 -5.2 0 -5.1 .1 -5.1 0 -5.1 0 -5.1 0 -5.1-.1 -5.1 0 -5.1-.1 -5.2 0 -5.1 0 -5.1 .1 -5.1 0 -5.1 .1 -5.1-.2 -5.1 0 -5.1 .1 -5.1 0 -5.2 0 -5.1 0 -5.1-.1 -5.1 .1 -5.1 0 -5.1 0 -5.1-.1 -5.1 0 -5.2-.1 -2.3 0 -2.8-1 -4.9-4.1 -.2-.2 -.6 .2 -4.5 1.8 -5.1-1.5 -5.1 .9 -4.8-1.2 -.3-.1 -.6 .1 -4.5 2.5 -3.8-2.5 -1.4-.4 -.9 .4 -4.2 1.5 -4.2-1.5 -.9-.4 -5.1-1.2 -3.6 1.6 -1.5 .4 -1-.4 -4.1-1.7 -2.8 1.7 -2.3 2 0-2 -.1-5.2 0-5.1 0-5.1 0-5.1 0-5.1 0-5.1 0-5.2 -.1-5.1 0-5.1 .1-5.1 .1-5.1 0-.3 1.4 .3 3.7 .9 1.4-.9 3.7-3.3 1.4-1.8 -1.4-2.3 -5.1 .9 -5.1-1.4 -.1-2.3 0-5.2 .1-4.6 4-.5 -4-.3 -.1-4.8 -.1-5.1 0-5.1 0-5.1 0-5.2 .1-5.1 0-5.1 0-5.1 0-5.1 0-5.1 0-5.1 0-5.2 0-5.1 0-5.1 0-5.1 -.1-5.1 .1-5.1 0-5.2 -.1-5.1 -.1-5.1 0-5.1 0-5.1 0-5.1 0-5.2 .1-5.1 0-5.1 .1-5.1 -.1-5.1 .1-5.1 0-5.1 0-5.2 0-5.1 .1-5.1 -.1-5.1 0-5.1 0-5.1 -.1-5.2 0-5.1 -.1-5.1 .1-5.1 .1-5.1 -.1-5.1 .1-5.1 .1-2.6 2-2.6 -2-.8 -.2-4.3 -.1-5.1 0-5.1 0-5.1 0-5.1 -.1-5.2 0-5.1 -.1-5.1 0-5.1 0-5.1 .1-5.1 0-5.2 .1-5.1 -.1-5.1 .1-5.1 0-5.1 0-5.1 .1-5.1 0-5.2 -.1-5.1 0-5.1 .1-5.1 -.1-5.1 0-5.1 -.1-5.2 0-5.1 0-5.1 0-5.1 0-5.1 0-5.1 0-5.1 .1-5.2 -.1-5.1 .1-5.1 0-5.1 0-5.1 0-5.1 0-5.2 0-5.1 0-5.1 .1-5.1 .1-5.1 -.1-5.1 -.1-5.2 0-5.1 0-5.1 0-5.1 0-5.1 -.1-5.1 .1-5.1 0-5.2 0-5.1 0-5.1 -.1-5.1 .1-5.1 .1-5.1 -.1-5.2 0-5.1 0-5.1 0-5.1 0-5.1 .2-5.1 .1-.1 5.1-.1 5.1 0 5.1 0 5.1-.1 5.1 0 5.1-.1 5.2 0 5.1 .1 5.1 0 5.1-.1 5.1 0 5.1 0 5.1 0 5.1 0 5.2 0 5.1 0 5.1 0 5.1 0 5.1 .1 5.1 0 5.1 0 5.1 0 5.2 0 5.1 .1 5.1 0 5.1 0 5.1 .1 5.1-.1 5.1-.1 5.1-.1 5.1 .1 5.2 0 5.1 0 5.1 0 5.1-.1 5.1 0 5.1 0 5.1 0 5.1 .1 5.2 .1 5.1-.1 5.1 0 5.1-.1 5.1 0 5.1 .1 5.1 0 5.1 0 5.2 .1 5.1 0 5.1-.1 5.1 0 .3 .3 -.1 5.1 0 5.1 .1 5.1 0 5.1 0 5.1 0 5.2 -.1 5.1 .1 5.1 0 5.1 0 5.1 -.1 5.1 0 5.2 -.1 5.1 0 5.1 .1 5.1 -.2 5.1 0 5.1 .1 5.1 0 5.2 0 5.1 0 5.1 -.1 5.1 .1 5.1 0 5.1 0 5.2 0 5.1 .1 5.1 0 5.1 .1 5.1 0 5.1 .1 5.2 0 5.1 0 5.1 -.1 5.1 0 5.1 0 5.1 -.1 5.1 -.1 5.2 0 5.1 0 5.1 0 5.1 .1 5.1 .1 5.1 -.1 5.2 0 5.1 -.1 5.1 0 5.1 0 5.1 0 5.1 0 5.1 0 5.2 .1 5.1 0 5.1 0 5.1 0 5.1 -.1 5.1 .1 5.2 0 5.1 0 5.1 0 5.1 .1 5.1 -.1 5.1 0 5.2 0 5.1 -.1 5.1 0 5.1 0 5.1 0 5.1 .1 5.1 0 5.2 0 5.1 0 5.1 0 5.1 0 5.1 0 5.1 -.1 5.2 .1 5.1 0 5.1 0 5.1 0 5.1 0 5.1 -.1 5.1 -.1 5.2 .1 5.1 .1 5.1 0 5.1 0 5.1 0 5.1 0 5.2 0 5.1 0 5.1 0 5.1 0 5.1 -.1 5.1 .1 5.2 0 5.1 0 5.1 0 5.1 0 5.1 0 5.1 0 5.1 0 5.2 .1 5.1 0 5.1 0 5.1 .1 5.1 -.1 5.1 0 5.2 -.1 5.1 0 5.1 -.1 5.1 0 5.1 -.1 5.1 .1 5.1 0 5.2 0 5.1 0 5.1 0 5.1 0 5.1 0 5.1 0 5.2 0 5.1zM891.1 81.9l-1.7-.3 -5.1-.5 -.4 .8 .4 .3 5.1 0zM869.6 261l-.6-1.3 -5-3.9 .4-5.1 -.6-.5 -1.5 .5 1.4 5.1 .1 .2 3.6 5 1.6 1zM768.2 271.2l-1.5-1.1 -.8 1.1 .8 1.2zM911 327.5l-1.1-.4 -.8 .4 .8 .6zM901.7 332.6l-2.1-1.6 -1.1 1.6 1.1 1.5zM738.3 424.7l2.9-1.8 1-3.4 -1-1.6 -2.9-3.5 -2.3-1.6 -5.1 .7 -2.1 .9 .7 5.1 1.4 1.6 4.4 3.6 .7 1zM690.4 460.5l-.4-.2 -2.1 .2 2.1 .2zM683.6 465.6l-3.8-.8 -.3 .8 .3 1zM741.4 516.7l4.9-3.9 .9-1.2 3.6-5.1 -3.5-5.1 -1-1 -2.9-4.1 2.9-4.3 .8-.8 -.8-.3 -.7 .3 -4.4 3.3 -4.4 1.8 -.8 .6 -5.1 3.2 -2.1-3.8 2.1-3.2 2.8-1.9 -2.8-1.6 -5.1-1 -5.1-1.9 -.8-.6 -.1-5.2 .9-2.3 .6-2.8 4.5-4.5 .7-.6 -.7-.8 -5.1-2.3 -5.1-1.4 -2.2 4.5 -2.9 2.8 -1.6 2.3 1.3 5.1 -4.8 5 -3.6-5 -.8-5.1 -.7-2.2 -1.7-2.9 -3.5-1.6 -2.2 1.6 2.2 1.3 4.6 3.8 -.5 5.1 .9 5.2 -.7 5.1 -4.3 4.9 -3.1-4.9 .2-5.1 -2.2-2.8 -5.1-.4 -4.4-2 4.4-3.9 2.2-1.2 -2.2-3.4 -1.2 3.4 -3.9 4.4 -.9 .7 .9 .6 2.1 4.6 1.3 5.1 1.7 5.1 0 .1 .1-.1 5-3.2 5 3.2 .1 .1 .5-.1 4.7-2.9 1.9 2.9 -.1 5.1 -1.8 1.4 -4.7 3.7 .4 5.1 3.1 5.1 1.2 1 1.3-1 3.8-2.2 3.3-2.9 1.8-3.5 5.1 2 2.1 1.5 3 1.7 4.1-1.7 1-.4 3.9-4.7 1.2-2.9 2.6 2.9 2.5 3.9 .7 1.2 3.6 5.1 .9 .6zM788.9 480.9l3.4-4.8 .1-.3 -.1-.2 -.3 .2 -4.8 3.4 -.7 1.7 .7 1.1zM705.4 493.4l-3.2-2.2 3.2-4.9 .9 4.9zM792.8 496.3l4.6-3.7 3.7-1.4 -3.7-3.7 -1.6 3.7 -3.5 4.5 -2 .6 2 1.9zM772.6 501.4l-.8-.6 -.7 .6 .7 1.3zM855 511.6l-1.4-3.3 -.6 3.3 .6 .6zM710.6 521.9l-.1-.3 -.5 .3 .5 1zM741.9 532.1l-.7-2.4 -1.9 2.4 1.9 .7zM681.3 547.4l.2-5.1 3.4-2.9 1.1-2.2 -1.1-2.7 -5.1 1.6 -5.1 .7 -.8 .4 -4.2 5.1 .7 5.1 4.3 3.1 5.1 .8zM732.7 537.2l-1.8-3.6 -1.7 3.6 1.7 1.1zM720.8 593.5l-.1-.1 -4.8-5 -.3-.7 -5.1-2.3 -5.1-.4 -5.1 3 -4.1-4.8 -1.1-1.9 -.8-3.2 .8-3.3 1.4-1.8 -1.4-.6 -5.1-.3 -5.1-1.6 -5.1-1.8 -3.4 4.3 3.2 5.1 .2 .5 5.1 4.2 .7 .4 4.4 5.2 .1 0 5-4.3 4.9 4.3 -3.6 5.1 3.9 2.1 5.1-1.2 5.1 .6 2.4-1.5 2.7-3.8 4.8 3.8 .3 0zM708.3 573l-2.9-1.3 -2 1.3 2 1zM750.9 578.1l-1.3-5.1 -3.3-1.6 -2 1.6 -1.6 5.1 3.6 2.9zM779.4 573l-2.5-1.2 -1.4 1.2 1.4 2zM776.9 588.4l5.2-4.9 .6-.3 -.6-.9 -5.2-.5 -2.6 1.4 2.6 5.2z"/>
<path fill="#ffe000" d="M925.2 624.2l-5.1 .1 -5.1-.1 -5.1 0 -3.7 0 3.7-3.5 1.9-1.6 3.2-2.1 2-3.1 3.1-3.8 2-1.3 -2-4.6 -5.1 1.1 -3 3.5 -2.1 3.9 -.9 1.2 -4.3 3.6 -2.1 1.6 .6 5.1 -3.6 0 -5.1 0 -1.4 0 -3.7-2 -2.1-3.1 -3-4 -4 4 1.6 5.1 -2.7 0 -5.1 0 -5.1 .1 -5.2 .1 -5.1 0 -5.1 0 -5.1 0 -5.1 0 -5.1-.1 -5.1 0 -5.1-.1 -5.2 0 -5.1 0 -5.1 .1 -5.1 0 -5.1 .1 -5.1-.1 -5.1-.1 -5.1 .1 -5.1 0 -5.2 0 -5.1 0 -5.1-.1 -5.1 .1 -5.1 0 -5.1 0 -5.1-.1 -2 0 -3.1-1 -5.2-2.1 -5.1-.5 -1.8-1.5 -3.3-3.1 -5.1-.1 -5.1-1.1 -2-.9 2-3.5 4.4-1.6 -.2-5.1 .9-1.7 .4-3.4 4-5.1 -4.4-4.9 -.2-.2 -2.9-5.2 -2-3.8 -1.7-1.3 1.7-.9 4.2-4.2 .9-3 .6-2.1 2.6-5.1 -3.2-2 -5.1 .8 -5.1-2.4 -4.2-1.5 .2-5.1 -1.1-1.8 -3.2 1.8 -1.9 3.1 -5.2-1.7 -5.1 1.7 -5.1-.4 -.9-2.7 .9-1.9 4-3.3 1.1-2.7 .8-2.4 -.8-2.1 -.4-3 .4-.7 4.3-4.4 .8-.9 5.2 .5 5.1-2 2.8 2.4 2.3 3.3 1.7 1.8 3.4 2.5 4.3 2.6 .8 .4 1.2-.4 3.9-1.9 5.1 .7 3.5 1.2 1.6 2.7 3.3-2.7 1.9-1 5.1-.5 2.2-3.6 -.1-5.1 -1.8-5.1 .6-5.1 .7-5.2 3.5-5.1 5.1-4 4.7-1.1 .4-.2 .2 .2 3.8 5.1 -.9 5.1 2 4.4 3.4 .8 .2 5.1 -1.1 5.1 -2.5 2.6 -1.6 2.5 -.7 5.1 2.3 4 2.3-4 2.8-2.5 5.1-2.2 .8-.4 1-5.1 -1.8-3 -3.1-2.1 3.1-3.2 1.3-1.9 3.9-3.6 1.2-1.6 2.7-5.1 1.2-2.5 3.2-2.6 1.9-.4 2.2 .4 2.9 .6 .5-.6 2.2-5.1 2.4-1.9 5.1-2.1 .4-1.1 -.4-.9 -2.7-4.2 .4-5.1 -2.8-4.3 -.7-.9 .7-3.4 .4-1.7 1.2-5.1 3.5-4.3 .6-.8 -.6-2 -3.2-3.1 -1.9-1.4 -2.2-3.7 -2.9-2.4 -5.1 1.5 -.6 .9 -4.4 5.1 -.1 .5 -.2 4.6 -4.9 4.5 -1.5 .6 -2.1 5.1 3.6 4.9 .1 .2 3.3 5.2 1.7 2.4 3.5 2.7 -3.5 1.8 -4.9 3.3 .3 5.1 -.5 1.6 -1.5-1.6 -3.7-2.4 -4.8-2.7 -.3-.1 -4.3-5 -.8-.9 -5.1-2.8 -2.7-1.4 -2.4-2.3 -5.1 .1 -5.1 1.8 -1.3 .4 -3.8 1.4 -5.2 .4 -3.2-1.8 -1.9-2.7 -2-2.5 -1.1-5.1 3.1-1.8 .7-3.3 -.7-1.1 -3.4-4 -1.7-3.7 -2-1.4 2-3.6 .2-1.5 -.2-1 -3.2 1 -1.9 .7 -5.1 4.4 -5.1 2.5 -5.1-.4 -5.1-.9 -1.3-1.2 -3.9-2.1 -5.1-1.3 -4.3-1.7 -.8-.9 -2.4 .9 -2.7 .8 -3 4.3 -2.1 5.1 -5.1 1 -3-1 -2.1-.9 -.1-4.2 .1-5.1 0-2.6 5.1-.7 1.6-1.9 -1.6-1.4 -5.1 .9 -.2-4.6 0-5.1 0-5.1 0-5.1 0-5.1 0-5.2 .1-5.1 0-5.1 .1-5.1 -.1-5.1 .1-5.1 0-1.8 2.6-3.3 1.5-5.2 1-1.3 5.1-2.4 5.1 .7 3.3 3 -2.5 5.2 4.3 5.1 5.1-4.7 .6-.4 -.6-2.2 -1.7-3 1.7-1.3 5.1-2.7 .8-1.1 -.8-1.6 -5.1-2.8 -5.1 3.7 -5.1-1.3 -1.7-3.1 -3.4-4.5 -.7-.6 -1.9-5.1 -2.5-2.5 -5.1-2.6 -.1-5.2 0-5.1 -.1-5.1 .1-5.1 .1-4.7 4-.4 -4-.6 -.1-4.5 .1-2.3 4.9-2.8 .2-.3 .4 .3 4.7 4.4 5.1-.8 1.3 1.5 -1.3 1.4 -3.2 3.7 -1.3 5.1 4.5 .9 2-.9 -.3-5.1 3.4-3.4 1.3-1.7 -1.3-4.3 -1-.8 -4.1-1.6 -4.2-3.6 -.9-1 -5.1-2.1 -5.1-.5 -.1-1.5 -.1-5.1 0-5.1 0-5.1 0-5.1 -.1-5.2 0-5.1 -.1-5.1 -.1-5.1 .1-5.1 .1-5.1 0-5.2 .1-5.1 -.1-5.1 .1-5.1 0-5.1 0-5.1 .1-5.1 0-5.2 -.1-5.1 0-5.1 .1-5.1 -.1-5.1 -.1-5.1 -.1-5.2 .1-5.1 -.1-5.1 .1-5.1 0-5.1 0-5.1 0-5.1 0-5.2 0-5.1 .1-5.1 0-5.1 0-5.1 0-5.1 0-5.2 0-5.1 0-5.1 .1-5.1 .1-2.3 2.7-2.8 -2.7-2.5 -.1-2.6 -.1-5.2 0-5.1 0-5.1 0-5.1 0-5.1 -.1-5.1 .1-5.1 0-5.2 0-5.1 -.1-5.1 0-5.1 .1-5.1 .1-5.1 -.1-5.2 0-5.1 0-5.1 0-5.1 0-5.1 .2-5.1 5.1-.1 5.1 0 5.1 0 5.1-.1 5.1 0 5.1-.1 5.2 0 5.1 .1 5.1 0 5.1-.1 5.1 0 5.1 0 5.1 0 5.1 0 5.2 0 5.1 0 5.1 0 5.1 0 5.1 .1 5.1 0 5.1 0 5.1 0 5.2 0 5.1 .1 5.1 0 5.1 0 5.1 .1 5.1-.1 5.1-.1 5.1-.1 5.1 .1 5.2 0 5.1 0 5.1 0 5.1-.1 5.1 0 5.1 0 5.1 0 5.1 .1 5.2 .1 5.1-.1 5.1 0 5.1-.1 5.1 0 5.1 0 5.1 .1 5.1 0 5.2 0 5.1 .1 5.1-.1 5.1 0 .2 .2 -.1 5.1 0 5.1 .1 5.1 0 5.1 0 5.1 0 5.2 -.1 5.1 .1 5.1 0 5.1 0 5.1 -.1 5.1 0 5.2 -.1 4.5 -2.7 .6 2.7 3.4 0 1.7 .1 5.1 -.1 2.2 -5.1 1.2 -1.8 1.7 -3.3 2.3 -3.4 2.8 -1.7 2.9 -3.5 2.2 3.5 1.7 5.1 1.6 5.1 .2 3.4-3.5 1.7-.8 0 .8 0 5.2 0 5.1 0 2.6 -4.3 2.5 -.8 .3 -1.6-.3 -3.1-5.1 -.4-.7 -5.1 .5 -.3 .2 -.4 5.1 .7 .6 5.1 .5 1.9 4 .3 5.1 1.3 5.1 1.6 1.7 1.6-1.7 3.5-2.6 0 2.6 0 5.2 0 5.1 .1 5.1 0 5.1 .1 5.1 0 5.1 .1 5.2 0 5.1 0 5.1 0 5.1 -.1 5.1 0 5.1 -.1 5.1 -.1 5.2 0 5.1 0 5.1 0 5.1 .1 5.1 .1 5.1 -.1 5.2 0 5.1 -.1 4.1 -2 1 2 3.1 0 2 0 3.3 -2.7 1.8 -2.4 2 -1.1 3.1 1.1 1.8 5.1-.3 .1 3.6 -.1 5.2 .1 5.1 0 5.1 0 5.1 0 5.1 -.1 5.1 .1 5.2 0 5.1 0 5.1 0 5.1 .1 5.1 -.1 5.1 0 5.2 0 5.1 -.1 5.1 0 3.4 -2.6 1.7 -2.5 2.7 -3.4 2.4 -1.7 1.4 -5.1 1.2 -5.2-1.9 -.2-.7 .2-.3 5.2-2.5 2.1-2.3 3-2.5 3.4-2.6 1.1-5.1 -4.5-2.7 -5.1-1 -3.6-1.4 3.6-3 1.4-2.2 -1.4-2.1 -2.6-3 .2-5.1 -2.8-2.9 -2.9 2.9 .1 5.1 2.8 3.8 1.7 1.3 -1.7 2.4 -5.1-2 -5.1 2 -2.9 2.8 -2.2 1.9 -2.1 3.2 2.1 3.8 2.1 1.3 3 5.1 1.7 5.1 .6 5.1 .3 5.1 2.5 4.8 .2 .4 2.6 5.1 2.3 2.8 3.4-2.8 1.8-4.9 5.1 .3 1.3-.5 -1.3-2.6 -5.1 2.4 -5.2-4.4 -1-.6 1-.9 5.2-1.4 5.1 .5 1-3.3 4.1-4.3 1.9-.8 3.2-2.9 0 2.9 0 5.1 .1 5.1 0 5.2 0 5.1 0 5.1 0 5.1 0 5.1 0 5.1 -.1 5.2 .1 5.1 0 5.1 0 5.1 0 5.1 0 5.1 -.1 5.1 0 2.4 -2.3 2.8 .4 5.1 1.9 1.4 .1 3.7 0 5.1 0 5.1 0 5.1 0 5.2 0 5.1 0 5.1 0 5.1 0 5.1 -.1 5.1 .1 5.2 0 5.1 0 5.1 .1 5.1 -.1 5.1 0 5.1 0 5.1 0 5.2 .1 5.1 0 5.1 .1 5.1 0 5.1 -.1 5.1 0 5.2 -.1 5.1 0 5.1 -.1 4.4 -1.9 .7 .7 5.1 -3.9 2.8 -5.1 2.3 -.1 0 -5 3.9 -1.2 1.2 1.2 3.3 5.1-3 0-.3 5.1-1.8 5.1 .2 0 1.6 0 2.1 -4.5 3.1 -.2 5.1 4.7 2.6 0 2.5 0 5.1 0 5.1 0 5.1 0 4.8 -.4 .4 .4 .2 .1 4.9zM860.5 51.2l-1.8-1.8 -1.8 1.8 1.8 1zM897.8 87l1.8-2 5.1-1.2 1.3-1.9 -.5-5.1 -.8-2.7 -1.4-2.4 1.4-3 2-2.1 3.2-1.4 5.1 .4 3.6-4.1 -.7-5.2 -2.3-5.1 -.6-4.8 -1.1 4.8 -4 3 -2.4 2.1 -2.8 2.6 -1.4 2.6 -.4 5.1 -3.3 1.7 -1-1.7 -4.1-3 -4.6-2.1 2.5-5.2 -3-1.1 -5.1 .7 -.3 .4 .3 1.3 4 3.9 -4 1.9 -2.9 3.2 2.1 5.1 -3.2 5.1 -.9 5.1 4.9 3.8 2.4 1.3 2.7 3.4 5.1 1.5zM711.3 87l-.8-1.1 -.6 1.1 .6 1.4zM830.2 92.1l-2.1-1.2 -5.2-1.4 -2.8 2.6 2.8 1.6 5.2 3zM677.2 97.3l-2.5-.8 -1.7 .8 1.7 .9zM890.9 97.3l-1.5-1.6 -.9 1.6 .9 1.3zM899.1 107.5l-4.6-1.1 -1.3 1.1 1.3 2.3zM910.8 153.5l2-5.1 -2.5-5.1 .4-5.1 -.8-1.3 -4.2 1.3 -1 .6 -1.5-.6 -3.6-.8 -1.9 .8 0 5.1 1.9 3.6 .8 1.5 3.9 5.1 .4 1.1 5.2 .1zM802.9 184.2l1.3-5.1 -1.7-.9 -4-4.2 -1.1-1.4 -5.1 .5 -5.1-2.1 -5.1-.6 -3.8 3.6 3.8 3 5.1-.4 3.3 2.5 1.8 1 2.2-1 2.9-2.9 3.3 2.9 1.5 5.1 .3 .5zM751.8 194.5l4.7-4.8 .8-.4 -.8-.1 -.2 .1 -4.9 4.9 -.3 .3 .3 .6zM768.3 189.3l-1.6-.5 -1.7 .5 1.7 .6zM777.2 194.5l-.3-.4 -1.1 .4 1.1 2zM824.5 199.6l3.6-3.2 2.1-1.9 -2.1-1.3 -3.8 1.3 -1.4 1.8 -3.4 3.3 3.4 .8zM782.7 204.7l-.6-.8 -5.2 .8 -5.1-.4 -.2 .4 .2 .4 5.1-.4 5.2 .7zM757.1 214.9l-.6-1.2 -2.5-3.9 -2.6-2.4 -2.2 2.4 .8 5.1 1.4 1.8 5.1 2.7zM843.3 220l-5-.6 -.8 .6 .8 1.7zM760.1 240.5l1.5-4.8 5.1 3.1 2.9-3.4 2.2-3.9 5.1 .5 5.2 .3 .6-2 -.6-1.8 -5.2-1.5 -5.1-.5 -5.1 .9 -5.1-.8 -5.1 2.1 -3.9-3.5 -1.2-.9 -.8 .9 .8 3.7 1 1.4 -.5 5.1 2.4 5.1 2.2 2.1zM803 230.3l-.5-.8 -.8 .8 .8 .9zM850.8 235.4l-2.3-3.3 -1.8 3.3 1.8 2.8zM874.2 266.1l-.1-.4 -1.2-4.7 -1.2-5.2 -.5-5.1 -2.2-3.3 -2-1.8 -3.2-.9 -5.1-1.1 -4.7 2 -.4 .5 -1.7 4.6 -3.4 5 -.3 .1 .3 .2 5.1 1.6 5.1 .6 2.3 2.8 1.4 5.1 1.4 1.5 5.2 .4 5.1-1.7zM767.3 255.8l-.6-.4 -.4 .4 .4 .5zM880.4 255.8l-1.2-1.4 -2.1 1.4 2.1 1zM711.7 266.1l-1.2-1 -1.3 1 1.3 .6zM758.1 266.1l-1.6-1.3 -1 1.3 1 2.9zM762.6 286.5l4.1-4.9 .1-.2 -.1-.2 -3.5-4.9 3.5-.6 5.1-3.5 .4-1 0-5.1 -.4-.9 -.9 .9 -4.2 1 -3.1 4.1 -2 4.6 -3 .5 .3 5.1 2 5.1 .7 .8zM754.7 276.3l-3.3-1 -.8 1 .8 .7zM834 291.7l1.7-5.2 -2.5-4.3 -1.9-.8 -3.2-4.5 -1.9 4.5 1.9 4.9 0 .2 0 .2 -1.3 5 1.3 .5 5.1 .1zM753.1 291.7l-1.7-1.9 -2.8 1.9 2.8 4.2zM744.6 296.8l-3.4-2.5 -3.3 2.5 3.3 2.4zM727.4 301.9l-1.6-1.2 -.7 1.2 .7 1.2zM843.9 307l-.5-.6 -.2 .6 .2 .2zM867.4 307l-3.6-3.8 -2.5 3.8 2.5 2.8zM712 332.6l2.1-5.1 -3.6-2.1 -2.8 2.1 .1 5.1 2.7 1.2zM894.5 330.6l-2.1-3.1 2.1-2.4 1.9 2.4zM869.9 337.7l-.9-.7 -1.1 .7 1.1 1.7zM691.3 368.4l3.8-1.7 2.8-3.4 -2.8-2.9 -4.9 2.9 -.2 .8 -.8 4.3 .8 3zM908 388.9l1.9-.7 2.2-4.5 -2.2-2.2 -5.2 .9 -.8 1.3 -.3 5.2 1.1 .5zM727.7 440l3-5.1 .2-.5 5.1-1 5.2-3.3 .4-.3 4.7-3.9 1.1-1.2 -.7-5.2 -.4-1.5 -1.1-3.6 -4-2.8 -4.2-2.3 -1-.4 -4.7 .4 -.4 0 -5.1-3.4 -4.2-1.7 -.9-.4 -1.1 .4 1.1 1.7 .9 3.4 -.9 2.5 -1.3 2.6 -2.7 5.1 -1.1 2 -3.3-2 -1.8-.8 -2.6-4.3 .1-5.1 2.5-3.4 2.6-1.7 -1-5.1 -1.6-1 -5.1-.5 -1.8 1.5 -1 5.1 -2.3 1.5 -5.2 2.2 -.8 1.4 .8 .7 5.2 2.5 2.2 1.9 .6 5.1 -.5 5.2 2.6 5.1 .2 .3 .3-.3 4.8-2.6 5.1-1 5.1 3.6 1 5.1 1.3 5.1 2.8 2.8zM717.2 445.1l.4-5.1 -2-.8 -1.5 .8 -2 5.1 3.5 1.1zM884.7 450.2l-.4-3 -5.1 1.9 -3 1.1 3 1.4 5.1-1.1zM797.4 460.8l-.6-.3 .6-.6 1.6 .6zM874.9 460.5l-.8-.8 -1.5 .8 1.5 3zM690 466.3l-.4-.7 .4-.4 1.6 .4zM840.3 506.5l.2-5.1 -.3-5.1 -1.8-5.1 .2-5.1 1.7-5.2 3.1-2.8 5.1-1.8 .8-.5 -.8-2.2 -5.1-.2 -5.1-2.7 -2.8-5.1 -2.3-2.7 -3.5 2.7 -1.6 3 -1.1 2.1 -4.1 3 -5.1-1.5 -3.9 3.6 .7 5.1 3.2 2.6 4.1 2.6 1 1.5 1.9 3.6 -.6 5.1 .4 5.1 3.5 2.8 5.1 1.1 2.4 1.2 2.7 .8zM892.7 470.7l-3.3-1.1 -2.4 1.1 2.4 3.5zM695.1 476.6l-.4-.8 .4-.2 .3 .2zM828.1 482.3l-1.2-1.4 1.2-3.7 1 3.7zM674.7 498.4l-3.5-2.1 -1.6-3 -1.2-2.1 1.2-.5 5.1 .1 .5 .4 .6 5.1zM875.3 496.3l3.9-3.6 3.3-1.5 -3.3-2.4 -2 2.4 -3.1 3.5 -1.4 1.6 1.4 2.1zM679.8 505.9l-3.8-4.5 3.8-2.8 1.8 2.8zM861.3 511.6l.9-5.1 -3.5-2.9 -2.9-2.2 -2.2-3.7 -3.4 3.7 -1.7 1 -2.8 4.1 2.8 2.7 1.5 2.4 3.6 3.3 5.1-.6zM674.7 532.3l-5.1 1.2 -5.1 2.4 -.1-3.8 -.1-5.1 .1-5.1 0-5.2 .1-5 .2-.1 4.9-2 2.3-3.1 2.8-3.9 4.6 3.9 -1.1 5.1 1.6 .9 4.5 4.2 .6 2.2 1.1 3 -1.1 1.9 -5.1 1 -2 2.2 -2.6 5.1zM798.1 532.1l-.7-.9 -3-4.2 3-1.4 3.5-3.7 1.6-2.6 2.6-2.6 -2.6-2.8 -4.2 2.8 -.9 .5 -3.4 4.7 -1.7 3.3 -5.1-1.2 -3.2 3 3.2 3.2 5.1-1.7 4.5 3.6 .6 .4zM725.8 532.2l-.1-.1 -1.6-5.1 1-5.1 .7-.8 .8 .8 4.3 4.7 .8 .4 -.8 .3 -5.1 4.8zM803.4 613.9l-.6-5.1 -.3-.6 -3.7-4.5 2.1-5.1 1.6-1.7 1.9-3.4 3.2-4.7 2.6-.4 -2.6-.9 -3.7-4.3 -1.4-1.1 -5.1-1.2 -5.1-.6 -.9-2.2 -2.3-5.1 .7-5.1 2.5-3.3 1.2-1.8 -1.2-1.2 -3.4-3.9 3.4-4.7 5.1-.1 .2-.3 4.9-4.9 .2-.3 -.2-.3 -3.8 .3 -1.3 1.6 -.2-1.6 -4.9-1.8 -5.1 1.5 -1 .3 -4.1 4.8 -.4 .4 .4 3 .2 2.1 -.2 .1 -5.2 3.9 -1.6-4 -3.5-3 -5.1-1.3 -5.1 3.8 -5.1-2.2 -5.1 2.1 -.3 .6 -4.8 3.8 -2.2 1.3 1.3 5.1 -4.2 3 -5.2 .4 -2.9 1.7 2.9 1.7 1.9 3.4 3.3 4.4 1.1 .7 4 4.6 5.1-.7 2.7-3.9 2.4-2.3 3.5 2.3 -1.5 5.2 -2 1.7 -1.5 3.4 1.5 2.1 1.5-2.1 3.6-3.8 5 3.8 .1 .4 5.1 2 1.3 2.7 1.8 5.1 2 1.6 4.1-1.6 1.1-1.7 .6 1.7 4.5 3.5 4.9 1.6 .2 .4 5.1 3.5 3 1.2 2.1 1.5zM787.2 556.5l-5-3.9 5-4.8 4.8 4.8zM690 567.2l-5.1-3.4 -.3-1 .3-.5 5.1-3.3 2.7 3.8zM674.7 615.6l-2.7-1.7 -1.3-5.1 .1-5.1 -1.2-1.7 -4.2-3.4 4.2-3 1.3-2.1 2-5.1 -3.3-.7 -4.5-4.5 -.6-.6 -.1-4.5 0-5.1 .1-5.1 0-.7 2.3 .7 2.8 2.4 1.5 2.7 3 5.1 .6 .9 1.8 4.2 3.3 3.4 4.5 1.8 .6 1.4 1.3 3.7 .3 5.1 -1.6 1.6 -2.4 3.5 -2.7 4.3 -.7 .8 -2.2 5.1zM766.7 580.5l-1.4-2.4 -.2-5.1 -.7-5.1 2.3-2 1.5 2 -1.1 5.1 .7 5.1zM782.1 590.1l-.9-1.7 .9-.9 4.9 .9zM792.3 588.8l-4.6-.4 4.6-1 .4 1zM802.5 589.9l-1.1-1.5 1.1-2.9 3.7 2.9zM879.3 593.5l-.1-.1 -.4 .1 .4 .3zM900 593.5l-.4-.3 -.2 .3 .2 .4zM860.4 598.6l-1.7-1.1 -1.6 1.1 1.6 1zM710.5 609.8l-5.1 2.6 -5.1-3 -1.1-.6 1.1-2.2 .8-2.9 4.3-3.5 5.1 .9 4.3 2.6 -2 5.1zM897.1 613.9l-2.1-5.1 4.6-4.6 .2-.5 -.2-.4 -.3 .4 -4.8 4.8 -.7 .3 -1.6 5.1 2.3 2.6zM684.9 610.5l-3.9-1.7 3.9-2.1 1.4 2.1z"/>
<path fill="#ffd100" d="M869 624.2l-5.2 .1 -5.1 0 -5.1 0 -5.1 0 -5.1 0 -5.1-.1 -5.1 0 -3.2 0 3.2-3.8 2.1-1.3 3-1.8 1.2-3.4 -1.2-3.8 -.6-1.3 .6-.5 3.6-4.6 -2.9-5.1 -.7-.8 -5.1-2.1 -4.9 2.9 -.2 .1 -4.7 5 4.7 3.7 1.4 1.4 -1.4 4.7 -1.1 .4 -4.1 .6 -.8-.6 -4.3-3.3 -4.1-1.8 -.1-5.1 4.2-4.2 2.1-.9 3-2 2-3.1 .6-5.1 -2.6-3.6 -.7-1.6 -4.4-4.4 -.7-.7 .7-.8 5.1-3.3 .8-1 -.8-2.5 -1.7-2.6 -3.1-5.1 -.3-1.9 -1.5-3.2 -1.9-5.1 2.3-5.2 -4-1.9 -5.1 1.4 -2-4.6 -1.9-5.1 2-5.1 1.9-4.8 .2-.3 1.4-5.1 .8-5.2 2.7-3.8 4.8-1.3 .3-.6 5.1 0 5.2-.3 5.1-.5 5.1-.4 3.3 1.8 1 5.1 .8 .7 5.1-.5 4.9 5 .2 .3 .6-.3 4.5-1.9 5.1-1.6 5.2-1.2 .6-.5 4.5-2.8 5.1-1.5 1.9-.8 3.2-3.9 1.1-1.2 4-4.8 .6-.3 4.5-3.4 5.1 .1 5.1 2.2 3.8-4 1.4-3 1.3-2.1 -1.3-1.5 -2.8-3.6 -1.4-5.2 -1-2.7 -1.9-2.4 1.9-4.9 .1-.2 -.1 0 -3-5.1 -2.1-2.1 -5.1 1.3 -2.8 .8 -2.3 .5 -1.3-.5 -3.8-4.7 -.4-.4 .4-.4 3.2-4.7 1.9-1.6 5.1 0 4.5-3.6 .6-2.8 1.4-2.3 -1.4-.8 -5.1-4.1 -2.3-.2 -2.8-.5 -2.6-4.6 -2.5-2.1 -3.8-3 -1.3-1.5 -1.3 1.5 1.3 3.2 1.2 1.9 -1 5.1 -.2 .3 -.4-.3 -4.7-2.2 -3.2 2.2 -1.9 2.9 -1.7 2.2 -3.5 1.9 -5.1 2.5 -1 .7 1 1.8 1.1 3.4 -1.1 1.1 -5.1 1.7 -1.9-2.8 -3.2-2 -2.6 2 -2.5 2.7 -5.1-.7 -5.1-.2 -5.1-1 -5.2 3 -2.2 1.3 .9 5.1 -3.8 1.1 -5.1-.6 -.2-.5 .2-1.6 1.5-3.5 -1.5-1.1 -2.6-4 -2.5-2.8 -5.1-1.3 -1.4-1.1 -3.7-4.7 -5.1 2.2 -5.1-.5 -5.1 1.5 -2.3 1.5 2.3 1.1 3.7 4.1 -.4 5.1 -.2 5.1 -3.1 2.9 -5.2 2 -.6 .2 -4.5 5 -2.9 .1 -2.2 .5 -5.1 2.5 -1.8-3 -.5-5.1 -2.8-1.3 -3.6 1.3 -1.5 1.9 -5.1 1.4 -2.7 1.8 2.7 2.7 1.5 2.4 -1.5 .8 -5.1 .5 -2.2-1.3 .8-5.1 -3.8-3.9 -.6-1.2 -2.1-5.1 -2.4-3.3 -.9-1.8 -.6-5.1 -.7-5.2 2.2-4.6 .3-.5 4.8-4.5 1.2-.6 3.1-5.1 .9-.7 5.1-3.4 1.4-1 3.7-4.1 2.4-1 2.2-5.2 -3-5.1 -1.6-.5 -5.1-3.1 -1.9-1.5 -3.2-4.1 -5.2-.4 -1.6-.6 -3.5-1.6 -3-3.5 -2.1-1.7 -4.1 1.7 -1 .5 -.8-.5 -4.3-3 -3-2.1 -2.1-1.5 -5.1-.7 -.9-2.9 -4.2-5.2 .4-5.1 -.4-.9 -1.8-4.2 1.8-3.5 1-1.6 4.1-2.2 2.7-2.9 -2.7-5 -.2-.1 .2-.3 2.5-4.9 2.6-2.7 2.4-2.4 .3-5.1 2.4-3.9 .7-1.2 4.4-4.3 .6-.8 3-5.1 -3.6-2.6 -4.3-2.5 4.3-2.4 3.5-2.8 -.1-5.1 1.7-1.9 3.8 1.9 1.3 1.2 5.1-.5 1.2-.7 1.8-5.1 2.2-4 5.1 3.6 5.1-3.8 .3-.9 4.8-4.9 .5-.2 4.6-1.8 3.7-3.3 1.4-1.3 2.4-3.9 2.7-4 1.8-1.1 3.3-1.8 2.8-3.3 2.1-5.1 -1.1-5.1 0-5.1 -3.8-4 -5.1-1 -.1-.2 .1-.5 5.1-4 .9-.6 -.9-.1 -3.5-5 -1.6-4.8 -.1-.3 .1-.3 5.1-2.2 5.2 .5 2.8 2 0 5.1 -2.2 5.1 4.5 3.2 5.1 .9 5.1-3.4 5.1 .7 .8-1.4 -.8-2 -3.6-3.1 2.4-5.1 1.2-.4 5.1-.9 2-3.8 -.9-5.1 3.4-5.1 .6-1.5 1.3-3.7 3.8-4.2 1.5-.9 -.4-5.1 3.2-5.1 .8-.3 4.1 .3 1.1 .3 3 4.8 -3 3.9 -1.1 1.2 1.1 1 1.6-1 3.5-2.5 1.3-2.6 3.8-2.8 4.8-2.3 -3.9-5.1 -.5-5.1 -.4-1.1 -5.1-2.2 -5.1-1.8 -.2-.1 -.2-5.1 -4.1-5.1 -.2-5.1 -.5-.5 -4.2-4.6 -.9-.9 -3.5-4.2 1.1-5.1 -2.7-4 -3.6 4 1.7 5.1 1.9 4.2 1.5 .9 2.2 5.1 -3.7 3 -4.5-3 -.6-.3 -5.1-2.3 -1.5-2.5 -3.6-2.4 -5.1-1.1 -1.5-1.6 1.5-4.4 .6-.7 3.8-5.2 .7-1.3 5.1-2.1 5.1 2 5.1 .6 5.1-1 5 1.8 .1 .1 .2-.1 -.2-1.2 -.2-3.9 -3-5.1 -1.9-1.4 -1.6 1.4 -3.5 2.5 -5.1-.6 -2.6-1.9 -2.5-1.8 -2.8 1.8 -2.3 2.3 -2.1 2.8 -3 2 -5.1 1.2 -4.5 1.9 -.6 1 -4.1 4.2 1.5 5.1 -2.6 1.3 -5 3.8 .5 5.1 2.1 5.1 -.3 5.1 -2.4 1.8 -4.3-1.8 -.8-.6 -5.1-2.6 -3.6 3.2 -1.5 .8 -5.1 3.9 -.2 .4 -4.9 2.6 -2.4 2.6 -.4 5.1 1.6 5.1 -3.9 4.8 -.4 .3 -4.8 1.6 -3.6-1.6 -1.5-.7 -1.3 .7 1.3 2.9 .7 2.2 1.3 5.1 -.1 5.2 3.2 2.4 1.6 2.7 3.6 2.7 3 2.4 2.1 3.8 1 1.3 3.3 5.1 .8 1.3 4.7 3.8 -4.7 3.7 -1.2 1.4 .6 5.2 0 5.1 -1.8 5.1 -2.7 3.2 -1.9 1.9 -.6 5.1 .3 5.1 -2.9 4 -5.2-1.5 -5.1-.4 -2.7 3.1 -2.4 2.7 -2.8 2.4 -2.3 3.2 -1.5 1.9 -1.8 5.1 -1.7 5.1 -.1 .3 -5.1 1.4 -3 3.4 -2.1 1.7 -5.1 .3 -5.2-1.3 -.7-.7 -4.4-1.3 -4.4-3.8 3-5.1 -3.7-4 -5-1.1 -.1 0 -5.1 2 -3.5 3.1 -1.6 1.2 -5.1 2.3 -.1-3.5 0-5.1 0-5.1 0-5.1 -.1-5.2 0-5.1 -.1-5.1 -.1-5.1 .1-5.1 .1-5.1 0-5.2 .1-5.1 -.1-5.1 .1-5.1 0-5.1 0-5.1 0-5.1 .1-5.2 -.1-5.1 0-5.1 0-5.1 0-5.1 -.1-5.1 -.1-5.2 .1-5.1 -.1-5.1 .1-5.1 0-5.1 0-5.1 0-5.1 0-5.2 0-5.1 .1-5.1 -.1-5.1 .1-5.1 0-5.1 0-5.2 0-5.1 0-5.1 .1-3 3.8-2.1 1.3-1.4 2.2 1.4 2.9 2.4 5.1 2.4 1.2 .3 3.9 .7 5.1 1 2.4 3.4 2.7 1.9 4.2 3.2 1 .8 4.3-.8 .8-.7 5.1-.1 2.9-4.3 .7-5.1 1.5-1.2 4.2-3.9 .9-2 1.3-3.1 3.8-4.1 .9-1 3.9-5.2 .3-4.1 .6 4.1 4.5 1.5 5.2 .3 5.1 0 2.2-1.8 -.6-5.1 3.5-1.7 5.1-3.3 .2-.1 0-5.1 -.2-.1 -.3 .1 -4.8 2.3 -2.7-2.3 -2.2-5.1 -.2-.2 -3.7-4.9 -1.4-1.5 -4.1-3.6 -1.1-1.1 -.7 1.1 -4.4 4.8 -4.2-4.8 -.9-2.5 -2.3 2.5 -.2 5.1 2.5 2.3 5.1-.7 3.8 3.5 1.3 .4 1.6 4.7 .1 5.1 .6 5.1 -2.3 3.2 -5-3.2 3.1-5.1 -3.2-3.5 -5.1-.3 -.8-1.3 -4.3-2.2 -5.1 .7 -5.1-1.4 -2.6 2.9 -2.5 3.6 -1.3 1.5 -3.8 3.7 -1.4 1.4 -3.8 4.2 -5.1-1.8 -.3-2.4 .3-2.5 .5-2.6 4.6-4.9 .2-.2 .5-5.1 2.1-5.1 -2.8-3.6 -.6 3.6 .1 5.1 -4.6 2.4 -3.4-2.4 -1.7-1.3 -5.1 .6 -1.1 .7 -2.2 5.1 1.3 5.1 2 4.6 .5 .5 -.2 5.1 -.3 .2 -.9-.2 -4.2-.7 -1.1 .7 -4 1.6 -5.1 1.4 -.1-3 0-5.1 0-5.1 0-5.1 0-5.1 -.1-5.1 .1-5.1 0-5.2 0-5.1 -.1-5.1 0-5.1 .1-5.1 .1-5.1 -.1-5.2 0-5.1 0-5.1 0-5.1 0-5.1 .1-2.2 5.1-.3 3.2 2.5 1.9 2.9 5.1-.8 .4-2.1 0-5.1 4.7-.1 5.1 0 5.1-.1 5.2 0 5.1 .1 5.1 0 5.1-.1 5.1 0 5.1 0 5.1 0 5.1 0 5.2 0 5.1 0 5.1 0 5.1 0 5.1 .1 5.1 0 5.1 0 5.1 0 5.2 0 3.4 .1 1.7 3.7 1.8 1.4 -1.8 .7 -3.3 4.4 .2 5.1 2.2 5.1 .9 .4 .5-.4 4.6-3.5 5.1-.8 .8-.8 .8-5.1 3.2-5.1 .3-.2 5.1-2.2 2.4-2.7 2.7-.1 5.1-.1 5.1 .1 5.2 0 5.1 0 5.1 0 5.1-.1 5.1 0 5.1 0 5.1 0 5.1 .1 5.2 0 5.1 0 5.1 0 5.1-.1 5.1 0 5.1 0 5.1 .1 5.1 0 5.2 0 3 .1 -1.1 5.1 3.2 1.7 3.4-1.7 -1.6-5.1 3.3-.1 5.1 0 .1 .1 -.1 5.1 0 5.1 .1 5.1 .1 5.1 -.1 5.1 0 5.2 -.1 5.1 .1 5.1 0 5.1 0 5.1 -.1 5.1 0 5.2 0 .7 -1.1-.7 -1.4-5.2 -2.2-5.1 .5-5.1 -.9-2.3 -1.5-2.8 1.5-4.2 .7-.9 -.7-.4 -4.4-4.7 -.7-.9 -5.1-3.3 -1.7 4.2 -.1 5.1 -3.1 5.1 .1 5.1 -.4 .3 -5.1 1.6 -.9-1.9 -4.1-5.1 -.1-.1 -5.1-1.3 -5.1-3.1 -1.8-.6 -3.3-.6 -.3 .6 -.8 5.1 -3 5.1 -1 3.3 -2 1.8 2 .7 5.1 3 .3 1.4 .2 5.2 -.5 .5 -3 4.6 -2.1 4.7 -.2 .4 -2.6 5.1 -2.3 2.7 -5.2-.1 -5.1 .3 -5.1 1.4 -.8 .8 -4.3 3.9 -2.3 1.2 .9 5.1 1.4 .1 .5-.1 4.6-3 1.1 3 4 3 3.7 2.2 1.4 .7 5.2 3.6 5.1 .1 .9 .7 4.2 3.8 2.8 1.3 2.3 1 4.1 4.1 1 1.7 3.7 3.4 1.4 1 5.1 3.2 2.3 .9 .9 5.2 -3.2 2 -4.4-2 -.7-.5 -5.1-2.8 -5.1 2.7 -3.1-4.6 -2-1.6 -2.6-3.5 -2.5-4.2 -2.9-.9 -2.2-.6 -1 .6 -4.2 5 -3.8-5 -1.3-1.2 -5.1-.4 -5.1-1.9 -5.1 2.4 -1.1 1.1 -.1 5.1 .8 5.1 .4 .6 .9-.6 4.2-2.7 3.6-2.4 1.5-2.4 1.6 2.4 3.1 5.1 .4 .5 .5-.5 4.6-4.9 3.3 4.9 1.9 3.7 .6 1.5 3.3 5.1 1.2 2.6 2.4 2.5 2.7 2.9 5.1-1.9 5.1 1.3 1.8 2.8 3.1 5.1 -4.9 1.8 -5.1 .9 -3.4 2.4 -1.7 4.7 -.5 .5 .5 1.1 1.2 4 3.9 1.8 2.7 3.3 1.4 5.1 1 1.1 4.6 4 .5 .8 .3-.8 -.3-1.3 -2.8-3.8 2.8-.9 2.6-4.2 2-5.1 .5-5.1 .6 5.1 2.7 5.1 1.8 1.4 5-1.4 .2-.2 1.6-4.9 -1.6-5.1 4.2-5.2 .9-2.5 1.2-2.6 -.5-5.1 4.4-4.9 .3-.2 4.8-1.6 0 1.6 0 5.1 .1 5.1 0 5.1 .1 5.2 0 5.1 0 5.1 0 5.1 -.1 5.1 0 5.1 -.1 5.1 0 2.5 -3.8-2.5 -1.3-4.9 -.1-.2 -5-2.4 -2.4 2.4 -1 5.1 -1.7 .9 -3.7 4.3 -.3 5.1 3.2 5.1 .8 .6 5.1 2.8 1.8 1.7 3.3 2.4 3 2.7 2.1 1.1 .1 4 0 5.2 -.1 4.1 -5.1 .9 -3.2-5 -1.9-1.8 -1.6 1.8 -3.5 3.7 -3.3 1.4 3.3 3.8 .4 1.3 -.4 3.7 -.8 1.4 -4.4 2.7 -3.6 2.4 0 5.1 -1.5 5 0 .1 0 .2 5.1 3.2 5.2-.1 2.1 1.9 3 2.1 5.1 .7 3.7 2.3 -.2 5.1 1.6 .6 0 4.5 0 5.1 0 .5 -.3-.5 -4.8-4.9 -.2-.2 -4.9-3.4 -4.9 3.4 -.2 .5 -4.3 4.6 -.9 2.8 -.8 2.3 .8 .8 3.1-.8 2.1-.5 3 .5 1.5 5.2 .6 2.5 3.6 2.6 -3.6 .8 -5.1 1.3 -2.9-2.1 -2.3-2.2 -2.2 2.2 -2.9 4.2 -5.1 0 -3.1 .9 3.1 3.9 .4 1.2 -.4 .4 -5.1 .3 -.2-.7 -3.9-5.1 -1-.2 -.3 .2 -4.8 2.3 -4.1-2.3 -1-1.7 -5.1-1.3 -1.3-2.1 -3.9-2.5 -5.1-1.7 -2.2-.9 -2.9-.9 -4.7-4.3 .2-5.1 .3-5.1 -.9-4.7 -.2-.4 .2-.2 5.1-3.8 5.1-.9 4.7 4.9 .4 .1 4.6 5 .6 1 3.1-1 2-2 4.3-3.1 -.3-5.1 1.1-4.9 .6-.2 4.5-1.2 5.1-1.2 2.5-2.8 1.8-5.1 .8-1.3 4.6-3.8 -4.6-1.8 -3 1.8 -2.1 1.3 -3.9-1.3 3.4-5.1 -4.6-2.4 -5.1-.5 -5.1-.9 -2.3 3.8 -2.8 1.5 -5-1.5 -.2-.4 -2.9-4.7 .6-5.1 -2.8-2.1 -5.1-.8 -5.1-.4 -2.7-1.8 1.9-5.2 -1.3-5.1 -3-1.1 -1.5 1.1 -3.6 1.4 -4.9 3.7 1.5 5.2 1.9 5.1 -.8 5.1 .3 5.1 -.8 5.1 2 5.1 -4.3 3.1 -1.1 2 -4 4.7 -1.1 .5 -4.1 4.1 -5.1-1.2 -.9 2.2 -4.2 5.1 0 .1 .1-.1 5-2.4 2.3 2.4 1.4 5.1 -3.7 3.3 -2.6 1.8 2.6 2.3 5.1 2.6 .2 .2 -.2 .9 -1.4 4.3 1.4 1 5.2 1.7 5.1 1.5 5.1-3.2 5.1 2.6 1.5 1.5 -1.5 .8 -3.9 4.3 -1.2 2.5 -1.5 2.6 1.5 2.2 3.4 2.9 1.7 .6 5.1 3.6 2.9 .9 2.2 1.3 5.1 .3 3-1.6 2.1-1.4 5.2-1 5.1-.6 4.5 3 .6 1.7 .7 3.5 1.2 5.1 -1.9 2.9 -5.1-.3 -3.2-2.6 -1.9-1.3 -5.2-1.5 -.9 2.8 -4.2 2.2 -2.1 2.9 2.1 2.6 2 2.5 3.1 2 2.8 3.1 2.2 5.1 .2 .2 5.1 .6 2.1-.8 3-1.1 1.9 1.1 2.6 5.1 .6 1.5 5.1 2.3 2.2 1.4 2.9 2.6 1.9 2.5 -.3 5.1 1.5 5.1 .1 5.1 1.9 3.4 1 1.7 -1 1.8 -1.3 3.4 1.3 2.6 4.8 2.5 .3 .2 4.8 4.9 .4 .8 .3-.8 .2-5.1 4.6-4.7 1.2-.4 3.9-1.8 1.9 1.8 1.2 5.1 -3.1 3.1 -.8 2 .8 1.4 1.3-1.4 3.8-3.8 0 3.8 0 5.1 0 .1 -5.1 3.2 -3.7 1.8 -1.4 .8 -5.1 2.2 -5.2-2.6 -5.1 3.8 -1.4 .9 1 5.1 .4 .3 5.1 .3 4.2 4.6 1 3.9 5.1 1.1 .1 .1 -.1 .6 -1.6 4.5 -3.5 2 -1.2 3.1 -.4 5.1 -2.2 5.1 -1.4 4.3 -.1 .9 .1 .1 .3-.1 4.9-3.2 1.9-2 -.9-5.1 4.1-3.5 .6-1.6 1-5.1 3.5-1.7 2.6 1.7 2.5 4.7 0 .4 0 5.1 0 2.5 -5.1 2 -1.3 .6 1.3 1 3.8 4.2 1.3 1.3 0 3.8 0 5.1 0 5.1 0 5.1 0 1.3 -2.5 3.8 -2.6 5.1 -.1 .1 .1 0 .3 0 4.8-.4 0 .4 0 5.1 0 5.1 .1 5.1 -.1 3.8 -1.2 1.3 1.2 2.1 0 3 0 4.5 -1 .6 1 .5 0 4.7 .1 5.1 0 5.1 .1 5.1 0 5.1 -.1 5.1 0 5.2 -.1 4.8 -.8 .3 -4.3 2 -2.2 3.1 -2.5 5.1 -.4 1.7 -1.8-1.7 -1.8-5.1 -1.5-.8 -5.2 .6 -.5 .2 .5 3.6 .8 1.5 1.4 5.1 1.1 5.1 -3.3 3.9 -.7 1.2 -4.4 2.5 -1.7 2.7 -3.4 4 -5.1-.3 -5.1-.5 -5.1-1.7 -4.2-1.5 -.9-.6 -.7 .6 -3.3 5.1 -1.1 3.9 -4.6-3.9 -.6-.5 -1.7-4.6 -3.2-5.2 -.2-.1 -.7 .1 -4.4 2.7 -.6 2.5 -1.8 5.1 -.2 5.1 -1.7 5.1 4.3 3.1 5.1-1.8 5.1-1 1-.3 4.2-4.1 2.1 4.1 3 3.3 3.1 1.8 -1.3 5.1 -.8 5.2 -1 1.5 -2.4 3.6zM848 25.6l-2.6-5.1 -2-1 -5-4.1 -.1-.1 -5.1-3.3 -5-1.7 -.1 0 -4.2-5.1 -1-.8 -1.3 .8 -3.8 4.7 -.2 .4 .2 .5 3 4.6 -3 2.8 -2.3 2.3 1.5 5.1 .8 .6 1.3-.6 .6-5.1 3.2-3.4 3.4-1.7 1.8-5 1.7 5 3.4 2.4 5.1-2.2 3.6 4.9 -2.3 5.1 3.8 2.4zM768.4 25.6l3.4-1.8 4-3.3 -.9-5.1 -.8-5.1 -2.3-1.2 -2 1.2 .2 5.1 -1.9 5.1 -1.4 3 -5.1 .2 -3.3-3.2 -.8-5.1 -1-.4 -.7 .4 -.3 5.1 -2.3 5.1 3.3 1.6 5.1 .2 5.1-1zM901 20.5l3.7-4.4 .8-.7 -.8-.3 -4.6-4.8 -.5-1 -1.1 1 -.1 5.1 -2.8 5.1 4 .8zM693.3 15.4l-3.3-3 -2.2 3 2.2 1.4zM703.5 15.4l-3.2-1 -3.3 1 3.3 3.1zM885.3 25.6l-1-.2 -.3 .2 .3 .3zM761.7 66.6l2.9-5.1 -3-1.3 -2.8-3.9 -1-5.1 -.2-5.1 2.2-5.1 -3.3-.8 -.7 .8 -4.4 3.5 -4.3-3.5 -.8-1.9 -1.6-3.2 -3.5-4.5 -5.2 1.5 -4.5 3 -.6 1.1 -1.2 4 -1 5.1 2.2 3.6 1.5 1.5 3.6 2.1 5.2 1.7 5.1-.3 2.7 1.6 1.2 5.2 1.2 1.8 5.1 1.1 5 2.2 .1 .1zM847.1 61.5l1.4-1.9 4.2-3.3 .9-.8 5.1 .5 1.3 .3 3.8 1 3-1 1-5.1 -.3-5.1 -2.6-5.1 -1.1-.6 -5.1-2.6 -5.1-1.8 -5.1 3.9 -1.6 1.1 1.6 2.6 5.1 1.2 1 1.3 -1 1 -5.1-.3 -5.1 2.5 -5.1 .6 -2.5-3.8 2.5-3.9 2.1-1.2 -2.1-.7 -5.1-3.2 -5.1 .5 -5.2 2.3 -.3 1.1 .3 1.5 1.1 3.6 -1.1 1.5 -1 3.6 1 2 5.2 2.6 .7 .5 2.2 5.2 2.2 2.6 5.1 .7 5.1-1zM746.3 47.1l-1.8-1 1.8-3.2 2.2 3.2zM777.4 51.2l-.5-.8 -.9 .8 .9 .7zM710.5 98.5l-5.1-.5 -1.3-.7 -.9-5.2 0-5.1 2.2-2.3 .8 2.3 1 5.1 3.3 4 1.1 1.2zM818.2 107.5l4.7-4.4 5.2 2.5 5.1 1.3 5.1-2.6 1.6-1.9 -1.6-3 -5-2.1 5-3 4.3-2.2 -3.1-5.1 -1.2-.5 -5.1-.6 -5.1 .9 -5.2-2.5 -5.1 1.9 -2.7 .8 -1.8 5.1 -.6 1.9 -1.4 3.3 1.4 3.9 4.6-3.9 .5-.2 .5 .2 3.9 5.1 -4.4 4.7 -.8 .4 .8 .3zM869 93.5l-1.4-1.4 1.4-.9 .8 .9zM899.6 92.2l0-.1zM834.8 112.6l-1.6-2.5 -1.9 2.5 1.9 .4zM679.6 122.8l-4.9-3 -2.2 3 2.2 2.8zM806.8 128l.8-1.5 4-3.7 -4-1.9 -1.7 1.9 -3.4 2.5 -1.2 2.7 1.2 1.7zM685.6 133.1l-.7-.4 -.3 .4 .3 1zM836.6 153.5l1.7-2 1.6-3.1 -1.6-2.8 -5.1 2.5 -2.9 .3 .9 5.1 2 1.4zM736.2 163.8l.8-5.1 -1-.7 -.5 .7 .3 5.1 .2 .6zM787.2 160.1l-2.7-1.4 2.7-2 4.3 2zM756.4 179.1l-4.6-5.1 4.7-2.6 3.6 2.6 1.5 1.4 3.1-1.4 -3.1-3.2 -1-1.9 -4.1-3.3 -5.1-.8 -1.3 4.1 .9 5.1 -.5 5.1 .9 3zM792.3 223.4l-5.1-1.9 -5.1 .1 -2.8-1.6 2.8-2.5 2.4-2.6 -1.6-5.1 4.3-4.4 .5-.7 -.5-2.6 -.9-2.5 -4.2-3.1 -.7-2 -2-5.2 1.5-5.1 1.2-.9 3 .9 2.1 .5 2.2-.5 2.9-.4 1.3 .4 3.5 5.1 .3 2 1.8 3.2 -1.8 4.7 -.1 .4 .1 .1 0-.1 5.1-4.4 5.1 2.2 .9 2.2 -.9 3.5 -.7 1.6 .7 .6 4.5 4.5 -4 5.1 -.5 .2 -5.1 3.7 -4.5-3.9 -.2-5.1 -.4-1.1 -.2 1.1 -.5 5.1 -.3 5.1zM817.8 191.4l-5.1 1.2 -3-3.3 3-4.5 .8-.6 4.3-2.3 3.3 2.3 -.8 5.1zM900.3 189.3l-.7-1.1 -.8 1.1 .8 2.5zM700.8 194.5l-.5-.9 -.6 .9 .6 .5zM766.7 206.5l-2.4-1.8 .5-5.1 1.9-4.4 2.3 4.4 -1.5 5.1zM903.1 199.6l-3.5-3.3 -1.1 3.3 1.1 .9zM771.8 221.3l-3.2-1.3 3.2-2.3 2.7 2.3zM674.7 230.3l0-.3 -.3 .3 .3 0zM792.3 230.3l-1 0 1-.4 .1 .4zM818.2 240.5l4.7-2.3 5.2-2.7 .3-.1 -.3-.1 -3.6-5 -1.6-1.4 -1.5 1.4 -.6 5.1 -3 4.9 -.2 .2 .2 .1zM797.4 236.9l-.4-1.5 .4-.7 .6 .7zM692.3 255.8l2.8-1.6 2.9-3.5 2.3-4.6 .2-.5 -.2-.7 -.7 .7 -4.5 2 -5 3.1 -.1 .2 -1.1 4.9 1.1 1.6zM766.7 251.5l-3.6-.8 3.6-1.4 2.9 1.4zM721.7 271.2l-1-1.2 -2.4-3.9 -2.7-3.7 -1.6-1.4 -3.4-5.2 -.1-.1 -5.1-1.3 -3.1 1.4 -.5 5.2 -1.5 .6 -3.9 4.5 3.9 2.9 3.7 2.2 1.4 2.7 5.1 .9 5.1-1.9 5.1-.6zM761.6 257l-1.3-1.2 1.3-3.8 .9 3.8zM766.7 261.8l-.7-.8 .7-.6 .9 .6zM792 266.1l.3-.5 2.5-4.6 -2.5-4.3 -2.6 4.3 -2.5 1.9 -4.7 3.2 4.7 3.6zM838.3 269.5l-5.1-1.3 -4.2-2.1 4.2-1.8 5.1-1.4 3.1 3.2zM907.4 266.1l-2.7-3.6 -2.4 3.6 2.4 1.8zM701.7 307l-1.4-1 -1.7 1 1.7 3.1zM808.2 322.4l.5-5.2 4-2.6 1.5-2.5 2.1-5.1 -3.6-4.7 -5.1 1.4 -2.1 3.3 -3 1.4 -5.1 2.7 -1.3 1 1.3 .6 1.9 4.5 -.6 5.2 3.8 3.8 5.1-3.7zM756.5 312.1l0-.1 -.5 .1 .5 .2zM884.3 335.9l-2.4-3.3 2.4-1.5 .8 1.5zM690 342.6l-1-4.9 1-1.3 3.3 1.3zM847.3 347.9l1.2-2.1 1.6-3 -1.6-1.6 -5.1-.1 -1 1.7 -4.1 4.7 -.4 .4 .4 .3 5.1 3zM684.9 359.5l-5.1 1.1 -2.7-2.4 .1-5.2 -2.5-3.9 -5.1-1 -.2-.2 .2-.6 5.1-2.2 5.1-.2 5.1 .7 5.1-2.6 5.1 4 5.2-.6 5.1-1.5 2.3 3 -2.3 2.2 -5.1-1.1 -4.4 4 -.8 .5 -5.1 .4 -2.6 4.3zM758.2 358.2l-1.7-3.3 -5.1 2.6 -.6 .7 .6 1.7 5.1 1.5zM849.3 363.3l-.8-.9 -.5 .9 .5 .8zM872.4 363.3l-3.4-2.6 -2.9 2.6 2.9 4.8zM915 376.6l-5.1-.2 -5.2-1.1 -1.3-1.8 1.3-1 5.2-2.2 3.1-1.9 .7-5.1 1.3-1 5.1-.8 3.2 1.8 -3.2 3.7 -1.9 1.4 .2 5.1zM867.5 399.1l.1-5.1 -3.4-5.1 4.8-4.9 0-.3 0-.1 -.2 .1 -5 5 -.1 .2 -2.3 5.1 2 5.1 .4 .8zM799.3 394l-1.9-1.5 -2.1 1.5 2.1 1.3zM679.8 447l-1.1-1.9 -4-3.7 -5.1 .7 -3 3 -2.1 1.2 -.1-1.2 0-5.1 0-5.1 0-5.1 -.1-5.1 .1-5.2 .1-5.1 0-.6 .6 .6 4.5 2.3 4.9-2.3 -.5-5.1 -2.3-5.1 3-3.9 5.1 .9 4.6 3 -4.6 5.1 -.1 0 -4.8 5.1 3.7 5.1 -1.4 5.2 2.6 2.2 3.8 2.9 -1 5.1 -.4 5.1 -.1 5.1zM710.5 457.6l-5.1 0 -5.1-1 -2.6-1.2 -2.6-2 -1.9-3.2 .3-5.1 .7-5.1 -1.4-5.1 -2.8-3.2 -2.7-1.9 -.1-5.1 -.2-5.2 -2.1-2.9 -1.8-2.2 -3.3-5.1 5.1-4.7 5.1 4.3 .3 .4 4.8 3.5 2.4 1.6 2.8 5 0 .1 0 .4 -.9 4.8 .9 2.9 .6 2.2 1.9 5.1 -.8 5.1 .8 5.1 1.1 5.1 1.5 .8 5.1 1.5 3.9 2.9zM789.6 424.7l2.7-2.8 1.5-2.4 3.6-4.7 .4-.4 -.4-.3 -.7 .3 -4.4 2.7 -2.6-2.7 -2.5-3.1 -5.1 2.4 -.5 .7 .5 1.2 3.8 3.9 -1.4 5.2 2.7 1.5zM886.2 419.5l-1.9-1 -3.6 1 3.6 2.1zM909.9 422.8l-3.9-3.3 3.9-3.8 1.8 3.8zM853.6 468.7l-1.3-3.1 1.3-1.8 2.3 1.8zM863.8 498.6l-3.2-2.3 -1.8-5.1 -.1-.5 -.8-4.6 .8-.5 1.1-4.7 -1.1-2.8 -2.9-2.3 -1-5.1 3.9-3.2 5.1-.1 5.2-1.1 5.1 2.7 5.1 1.6 0 .1 0 .1 -2.7 5 2 5.1 -1.9 5.2 -2.5 2.8 -1.1 2.3 -4 4.2 -2.4 .9zM894.5 481l-.1-.1 .1 0 .2 0zM776.9 491.8l-1.3-.6 -1.2-5.1 2.5-1.6 3.1 1.6 -2 5.1zM812.7 507.1l-.4-.6 -1.8-5.1 -.2-5.1 -2.5-5.1 1.7-5.1 3.2-3.2 4 3.2 1.1 .6 4 4.5 -.7 5.1 -.8 5.1 -2.5 4.2 -4.1 .9zM848.5 497.5l-4.9-1.2 -.2-.9 -.2-4.2 0-5.1 .2-.4 5.1-3.1 2.1 3.5 2.3 5.1 -3.2 5.1zM894.5 493.8l-3.2-2.6 3.2-1.4 1.4 1.4zM889.4 497.8l-.5-1.5 .5-.8 .5 .8zM802.5 506.6l-.1-.1 .1-.1 .2 .1zM761.6 512.7l-3.3-1.1 3.3-.6 .5 .6zM751.4 526.6l-1-4.7 1-2 2.6 2zM916.4 521.9l-1.4-1.3 -2.3 1.3 2.3 1.2zM761.6 535.2l-3.2-3.1 3.2-1.9 1.5 1.9zM756.5 539.3l-5.1-1.2 -.3-.9 .3-1.6 5.1-1.9 3.4 3.5zM792.3 537.2l-5.1 .1 -.1-.1 .1 0 5.1 0zM846.1 562.8l2.4-1.4 2.8-3.7 2.3-5.1 0-.1 -3.6-5.1 -1.5-1.6 -3.7 1.6 -1.4 1.2 -1.1-1.2 -1-5.1 .9-5.1 -3.9-4.5 -5.1 2.5 -3.5 2 .2 5.1 -1.8 4.2 -1.2 .9 1.2 1.6 2.5 3.6 2.3 5.1 .3 1.5 5.1 2.6 2 1 3.1 .8zM746.3 554.4l-5.1 3 -2.4-4.8 2.4-2.1 5.1-3.1 .5 5.2zM833.2 548.4l-1.7-1 1.7-.3 .7 .3zM715.6 554.5l-3-1.9 3-2 2.5 2zM730.9 558.2l-.9-.5 .9-.7 3.4 .7zM736 563.6l-.6-.8 .6-3.7 .9 3.7zM807.6 575.4l-5.1 .4 -2.5-2.8 2.3-5.1 -1.9-5.1 2.1-1.9 3.6 1.9 1.5 1 3.9-1 1.2-.6 1.8 .6 1.4 5.1 -3.2 3.8 -1.2 1.3zM869.3 578.1l3.8-5.1 -4.1-4.7 -5.2 2.5 -.4 2.2 .4 .9 5 4.2 .2 .1zM895 573l-.5-1.4 -1 1.4 1 3.4zM736 589.8l-.4-1.4 -1.9-5.2 2.3-2.2 1.8 2.2 -1.3 5.2zM761.6 624.2l-5.1 0 -5.1 0 -1 0 -4.1-5.1 -.1 0 -5-2.7 -2.5-2.5 -2.7-3.1 -2.2-2 -2.9-4.6 -.8-.5 -.9-5.1 1.7-3.4 4.2 3.4 .9 .8 .6-.8 4.6-3.9 3.5 3.9 1.6 1.2 5.1 2.2 5.1-1 5.1-1.8 5.1 2.7 2.9 1.8 -2.9 4.1 -1.2 1 -3.9 2.5 -1.8 2.6 -1.5 5.2 3.3 3 2.9 2.1zM884.3 605.9l-3.2-2.2 3.2-3.1 2.3 3.1zM807.6 611.3l-.8-2.5 .8-1.2 4 1.2z"/>
<path fill="#ffc200" d="M679.8 67.2l-5.1 2.3 -5.1-1 -5.1 1.9 -.1-3.8 .1-2.7 5.1 1.8 2.6-4.2 2.5-2.6 1.3-2.6 -1.3-2.3 -5.1-2.6 -4.5 4.9 -.6 .9 0-.9 0-5.1 -.1-5.1 0-5.1 .1-3.4 5.1-.8 4 4.2 -4 3.8 -2.1 1.3 2.1 4.7 1.9-4.7 3.2-3.4 3.1-1.7 2-1.1 3.6-4 1.5-4.7 2.5 4.7 2.6 5.1 .1 0 2.5-5.1 -2.6-2.9 -4.6-2.2 4.6-2.5 2.7-2.7 2.4-1 5.2 .8 5.1-.1 4.4-4.8 -.9-5.1 -3.5-4.8 -5.1 .5 -2-.8 -1.6-5.1 -1.6-1.1 -5.1-3.9 -1.1-.1 1.1 0 5.1-.1 5.2 0 5.1 .1 5.1-.1 5.1 0 5.1 0 5.1 0 5.1 0 5.1 0 5.2 0 5.1 0 5.1 0 5.1 0 5.1 0 5.1 .1 .6 0 1 5.1 -1.6 .7 -4.9 4.4 -.2 .2 -.9-.2 -4.2-.7 -5.1-.1 -5.1-.5 -5.1-1.4 -5.2 .8 -1.4 1.9 1.4 3 2.7 2.1 -.5 5.1 3 2.5 1.6 2.6 -1.6 1.3 -5.2-1.3 -4.5 5.2 -.6 .4 -5.1 .6 -2.4 4.1 .1 5.1 -2.8 2.9 -5.1-.1 -4-2.8 -1.1-2.4 -5.1-1.2 -3.3-1.5 -1.8-3.6 -1.8 3.6 1.8 4.7 .1 .4 1.6 5.1 3.4 3.8 5 1.3 -5 5 -.6 .1 -4.5 .2 -.7-.2 -4.5-2.4 -1.7 2.4 -3.4 3.9 -.7 1.3 -4.4 5 -.4 .1zM863.8 35.4l-3.6-4.6 -.2-5.2 -1.3-.2 -4.8-4.9 .4-5.1 -.7-.7 -5.1-2.3 -.9-2.1 -4.2-4.4 -.6-.7 -2.5-5.1 3.1-.1 5.1 0 5.1 0 5.1 0 5.1 .1 .4 0 2.4 5.1 2.4 3.6 5.1-2.5 1.5-1.1 3.6-1.8 2.4-3.3 2.7-.1 5.1 0 5.1 0 2.1 .1 -1.5 5.1 -.6 .5 -2.8 4.6 -2.3 3.2 -3 1.9 -2.1 2 -5.1 2.3 -3.3 .8 -1.8 .8 -5.1 4.2 -.3 .1 -3 5.2zM904.7 10.9l-.5-.6 .5-.6 .7 .6zM679.8 29.8l-2.2-4.2 2.2-3.9 4.7 3.9zM726.9 25.6l-1.1-1 -.9 1 .9 3zM679.8 215l-.1-.1 -5-1.8 -4.1-3.3 -1-3 -.8-2.1 -.7-5.1 -3.6-1.8 -.1-3.3 -.1-5.2 0-5.1 0-5.1 .1-5.1 0-5.1 0-5.1 0-5.1 0-5.2 0-5.1 .1-5.1 -.1-5.1 .1-5.1 0-5.1 0-1.8 1.6 1.8 3.5 4.6 5.1-1.5 2.7 2 -2.7 3.2 -1.2 1.9 1.2 .7 2.5-.7 2.6-2.1 1.1 2.1 3.5 5.1 .5 1.1 5.1-.6 1-.5 4.1-5.1 0-.1 4.7-5 .3-5.1 .2-.1 .1 .1 5 4 1.9 1.1 2 5.1 1.2 1.8 5.1 .1 3.4-1.9 -1.8-5.1 .6-5.1 -2.1-5.2 2.4-5.1 2.6-2.5 5.1-2.5 .3-.1 3.4-5.1 .8-5.1 .6-.7 4.1 .7 1 .3 2.9-.3 2.3-.4 5.1-3.8 1.2-.9 3.9-2.8 1.6-2.4 3.5-3.8 1.8-1.3 3.3-2.2 3.4 2.2 1.7 1.4 2.1-1.4 -.1-5.1 -.3-5.1 -1.7-3.1 -1-2 1-1.7 4-3.4 1.1-1.1 2.1-4 3-3.9 .4-1.3 3.2-5.1 -1.1-5.1 -2.5-4 -5.1 2.1 -5.1-.5 -.5-2.7 .5-2.9 5.1 1.9 5.1-1.4 .8-2.7 4.4-2.7 4.3-2.4 .5-5.2 .3-.2 5.1-2.8 5.1 .7 5.1-.1 5.1 1.5 4 .9 1.1 1 5.1 2.6 4.2 1.6 -3.7 5.1 -.5 2.7 -.4 2.4 .4 1.4 1 3.7 .5 5.1 1.4 5.1 2.2 1.8 3.4 3.4 1.6 5.1 -5 4.5 -5.1-1.1 -2.1 1.7 -3 3.2 -1.8 1.9 -3.3 2.9 -3 2.2 .1 5.1 .4 5.1 -1.9 5.2 .1 5.1 -.8 3.9 -.4 1.2 .4 .3 4.5 4.8 -4.5 3.7 -2 1.4 -3.1 1.8 -2.4 3.3 -2.7 4.4 -.4 .8 .4 .9 2.6 4.2 2.5 3.4 1.8 1.7 -1.8 1.1 -5.1 1.8 -5.1 .8 -3 1.4 -2.1 1.4 -5.2 .6 -5.1 1.6 -5.1-.1 -5.1 1.2 -1.5 .4 1.5 3.2 1.5 1.9 2.3 5.2 -3.8 4.3 -3-4.3 -2.1-1.8 -3.1 1.8 -2 .9 -5.1 .1 -1.1-1 1.1-1.6 1.6-3.6 -1.6-3.2 -5.1-1.9 -2.7-5.1 -2.5-.7 -5.1 0 -5.1-1 -.8 1.7 .8 .9 4.1 4.2 .6 5.1 .4 .9 1 4.3 -1 1.4 -4.6 3.7 2.2 5.1 -2.7 3.5 -3.9-3.5 -1.2-3.5 -1.9 3.5 -2 5.1 -1.2 2.2 -5-2.2 -.1 0 4.3 5.1 .8 3 3.5 2.1 -3.3 5.1 -.2 .6 -5.1 2.8 -4.7-3.4 -.4-1.2 -5.1-3.2 -1.5-.7 -3.7-1.1 -5.1-.6 -1.6 1.7 -2.3 5.1 3.9 4.1 2.4 1.1 2.7 1.1 3.8 4 -3.8 3.8 -4 1.3 2 5.1 -3.1 1.9 -5.1-.5 -5 3.7zM828.1 32.6l-4.1-1.8 4.1-2.8 2.7 2.8zM874.1 37.7l-5.1-.9 -4.1-.9 4.1-.9 3-4.2 2.1-2.7 2.8 2.7 -1.3 5.1zM894.5 34.2l-2.3-3.4 2.3-3.6 3.3 3.6zM674.7 37.7l-2.1-1.8 2.1-1.1 1 1.1zM761.6 46.4l0-.3 .5 0zM720.7 52.6l-2.1-1.4 2.1-2.8 1.5 2.8zM807.9 56.3l-.1-5.1 -.2-.2 -.1 .2 -.2 5.1 .3 .2zM848.5 82.3l-3.7-.4 -1.4-.4 -.7 .4 -4.4 .9 -2.8-.9 1.6-5.1 -2.2-5.1 3.4-.7 1.8 .7 3.3 2 1.8-2 -.6-5.1 3.9-2.6 3.9-2.5 1.2-1.1 2.4 1.1 2.7 1.6 4.1 3.5 1 1.1 4.5 4 -4.5 2.8 -4.6 2.3 -.5 .1 -3.3-.1 -1.8-.3 -.4 .3 -4.3 5.1zM863.8 63.3l-1.2-1.8 1.2-.4 1.7 .4zM874.1 61.7l-.5-.2 .5-.3 .1 .3zM690 68l-4.7-1.4 4.7-2.6 .6 2.6zM710.5 69.1l-3-2.5 3-5 2.7 5zM869 67.2l-.4-.6 .4-.3 .1 .3zM756.5 71.8l-.2-.1 .2-.2 .2 .2zM700.3 78.2l-.4-1.4 .4-.7 .8 .7zM817.8 78.8l-2.7-2 2.7-2.5 2.6 2.5zM828.1 77.1l-.4-.3 .4-.4 .3 .4zM848.5 103l-1.9-.6 1.9-3.9 1.2 3.9zM807.6 111.8l-4.6-4.3 4.6-1.8 1.8 1.8zM869 107.8l-5.2 2.8 -3.2-3.1 3.2-3.4 5.2 3 .6 .4zM736.9 112.6l-.9-2.2 -1.5 2.2 1.5 4.8zM822.9 118.7l-5.1 1 -1.2-2 1.2-3.5 5.1 1.8 1.7 1.7zM838.3 139.9l-5.1-.7 -1.7-1 -3.4-4.1 -4.5-1 2-5.1 1.6-5.2 .9-1.4 3.7-3.7 1.4-.5 1.1 .5 3.2 5.1 -4.3 3.9 -1 1.3 1 1.4 5.1-.2 2.9 3.9 1.1 5.1zM731.6 128l-.2-5.2 -.5-.8 -1 .8 -1.6 5.2 2.6 1.2zM894.5 225.3l-5.1 3.4 -5.1 .8 -2.7-4.3 -2.4-2.2 -5.1-2 -1-1 -4.1-3.3 -1.8 3.3 -3.4 3.3 -5.1 1.4 -5.1-2.7 -.8-2 .6-5.1 -4.9-4.6 -1.2-.5 -.8-5.1 1-5.1 -4.1-5.1 -3.3-5.2 -1.8-4.8 -3.2-.3 .4-5.1 2.8-3.7 .6-1.4 4.5-4.6 1.2-.5 -1.2-2.6 -1.5-2.5 1.5-1 2.3-4.1 2.8-4.2 1.9-1 3.2-3.4 .7-1.7 -.7-1.7 -1.7-3.4 1.7-1.5 5.1-.3 4.1-3.3 -4.1-3.1 -.9-2 .9-1.3 2.9-3.8 2.2-2.3 1.5 2.3 3.7 3.9 .8 1.2 -.8 4.1 -2.7 1 2.7 2 1.6 3.1 1.3 5.1 .4 5.1 -3.3 3.7 -4.6-3.7 -.6-.4 -.3 .4 -4.8 4.5 -1.1 .7 1.1 1.4 2.3 3.7 1.2 5.1 1.6 .4 5.2 .5 5.1 3.8 .5 .4 -.5 2.7 -.1 2.4 -.1 5.1 -4.9 4.9 -1.8 .2 -3.4 5 0 .2 -1 5.1 1 0 .2 0 5-4.1 1.7-1 3.4-2.6 3.6-2.6 -3-5.1 4.5-3.4 5.1-1 5.1 3.3 .9 1.1 -.9 4.5 -.2 .6 .2 .3 3 4.9 2.1 4.6 .1 .5 5 4.1 3.3 1 1.8 2.8 5.2 2.1 .2 .2 -.2 .4 -2.1 4.7 .3 5.1 -3.4 3.7 -5.1 1.4 -1.9 .1zM848.5 133.2l-.1-.1 .1-.2 .1 .2zM807.6 138.6l-.7-.4 .7-.4 .4 .4zM700.4 143.3l-.1-.2 -.2 .2 .2 .1zM828.1 164.9l-5.2 1.3 -2.4-2.4 1.2-5.1 1.2-1.1 3 1.1 2.2 3.2 4.9 1.9zM863.8 159.8l-2.4-1.1 2.4-3.3 1.8 3.3zM904.7 189.7l-.2-.4 -2.1-5.1 -.1-5.1 2.2-5.1 .2-.1 .3 .1 1.9 5.1 .8 5.1 -2.6 5.1zM730.9 203.2l-5.1 1.3 -2.2-4.9 2.2-4.2 .6-.9 .6-5.2 -1.2-3.3 -4-1.8 3.5-5.1 .5-.8 4.2 .8 .9 .3 5.1 2 5.2-.8 3.1 3.6 -3.1 3.3 -2.2 1.8 -3 2.5 -1.3 2.7 -.4 5.1zM787.2 189.4l0-.1zM685.5 204.7l-.6-.1 -.1 .1 .1 .2zM736 258l-3.2-2.2 -1.9-2.6 -5.1 1.1 -1.4 1.5 -3.7 2.5 -5.1-.3 -1.7-2.2 -3.4-3.2 -2.9-1.9 -2.2-4.2 -.5-.9 -1.8-5.1 -2.8-2.3 -5.2-1.1 -5.1-.5 -1.3-1.2 -1.6-5.1 2.9-4.8 .2-.3 -.2-1.7 -.5-3.5 .5-.9 2.9-4.2 2.2-3.4 1.6-1.7 .5-5.1 3.1-2.9 4.7 2.9 -2.3 5.1 2 5.1 .7 .9 1.5 4.2 3.6 4.1 5.1-.3 5.1-1.7 2.5-2.1 2.6-2.5 1.7 2.5 .5 5.2 2.9 2.9 2.4 2.2 2.7 3.5 2.3 1.6 2.9 3 1.2 2.1 3.9 3.8 .9 1.3 -.9 3 -2.4 2.1 -2.7 3.3 -1.6 1.8zM710.5 212.9l-2.8-3.1 -.8-5.1 3.6-.4 1.9 .4 1.2 5.1zM664.5 306.7l0-4.8 -.1-5.1 .1-5.1 -.1-5.2 0-5.1 -.2-5.1 0-5.1 0-5.1 .2-5.1 0-5.2 .1-3.4 1.8-1.7 -1.8-2.1 -.1-3 .1-4 3.5-1.1 1.6-.5 .7 .5 4.4 2.2 2.8 2.9 2.3 2.3 3.2 2.8 1.8 5.1 -2 5.2 -3 3.1 -1.4 2 1.4 .7 5.1-.7 5.1 5.1 .1 0 4.1 5.1 -.2 5.1 -4 4.9 -.2 .2 -3.9 5.2 -1 3.1 -5.1-1.1 -2.9-2 -2.2-1.5 -5 1.5 1.3 5.1 -1.4 1.3 -1.3 3.8zM828.1 245.9l-.4-.3 .4-1.2 .2 1.2zM822.9 258l-2.7-2.2 2.7-3.4 3.2 3.4zM741.2 268.4l-5.2 .2 -.3-2.5 .3-.6 2.1-4.5 3.1-4.3 4.7 4.3 -2.1 5.1zM802.5 261.7l-1-.7 1-1.2 2.4 1.2zM812.7 267.6l-1.8-1.5 1.8-2.3 1.3 2.3zM899.6 292.8l-5.1-.6 -4.4-.5 -.7-.1 -.2 .1 -4.9 1.2 -5.1 2 -3.5-3.2 -1.6-4.7 -3 4.7 -2.1 1.3 -2.3-1.3 -2.9-1.1 -5.1-.7 -5.1-2.4 -1-1 -1.1-5.1 .8-5.1 1.3-3.7 5.1-.4 5.1 1.3 2.6 2.8 2.6 4.6 2.5 .5 2.6 4.2 .8-4.2 4.3-4.1 1.8-1 3.3-2.9 2.3-2.2 1.6-5.1 1.2-1.6 1.6 1.6 3.5 4 1.8 1.1 .5 5.1 1.8 5.1 -2.4 5.1 3.4 4.1 1.3 1.1zM807.6 271.8l-.4-.6 .4-.2 .2 .2zM730.9 283.1l-5.1 3.1 -5.1-3.3 -2.5-1.5 2.5-2.5 2.7-2.6 2.4-3.2 5.1 1.6 2.7 1.6 .1 5.1zM843.4 451.5l-5.1 1.7 -5.1 .9 -5.1-.5 -5.2 .1 -5.1-1.6 -2.1-1.9 -3-1.4 -4.1-3.7 -1-1.2 -2.6-3.9 -.6-5.1 3.2-3.4 1.2-1.7 -1.2-1.7 -2.1 1.7 -3 2.8 -4.3 2.3 -.7 5.1 -.1 .1 -.8-.1 -4.3-.8 -2.4-4.3 2.4-3.3 4-1.8 -.1-5.1 1.2-2.1 5.1-2.3 5.1 0 1.3-.8 3.8-2.4 1-2.7 -1-2.1 -3-3 -2.1-2.2 -3.9-2.9 1.8-5.1 2.1-3.3 1.5-1.8 3.6-1 2.2-4.1 2.9-5.2 .1 0 5 .8 1.4-.8 -1.4-2.4 -1.4-2.7 -3.7-2.5 -5.1 1.8 -.4 .7 -.8 5.1 -2.7 5.2 -1.2 3.9 -5.1-2.7 -4.8-1.2 -.3-.1 -5.1-.5 -.1 .6 -4.1 5.1 .9 5.1 -1.8 1.4 -5.1 .9 -3.1 2.8 .3 5.1 -2.4 3.6 -5.1-2.8 -.1-.8 -5-4 -3.8 4 -1.3 2.2 -5.1-.2 -5.1-.2 -2.5-1.8 -2.6-1 -3.9-4.1 -1.2-3.5 -2.3-1.6 2.3-3.6 2.1-1.5 -2.1-2.9 -5.2 1.3 -3.5 1.6 -1.6 1.5 -3.5-1.5 -1.6-2 -5.1-.6 -2.9-2.5 2.9-3.7 2.1-1.5 -2.1-2.9 -3.9 2.9 -1.2 .8 -5.1 2 -3.3-2.8 .4-5.1 .6-5.1 1.9-5.1 .4-.6 .8 .6 4.3 .7 5.1-.4 5.1 1.5 2.6 3.3 2.5 3.3 5.1-.9 1.8-2.4 -1.8-1.1 -4.8-4 -.3-.8 -4.5-4.3 -.6-3.9 -5.1-1.2 -2.9 5.1 -2.2 3.5 -3.1-3.5 .7-5.1 2.4-3.6 1.3-1.6 3.8-4.9 5.1 .7 5.1-.2 2.7 4.4 2.4 1.3 5.2-1.2 4.2 5.1 .9 .8 3.3 4.3 .4 5.1 1.4 4.1 5.1-.7 2.2 1.7 -2.2 4.7 -.3 .4 .3 .1 5.1 2.2 2.5-2.3 -.3-5.1 .1-5.1 -2.3-2.1 -1.3-3 1.3-2.5 4.2-2.6 -4.1-5.2 5-4.1 .8-1 -.8-.9 -5.1-4.2 -.2 0 .2 .5 1.1 4.6 -1.1 4.1 -5.1-2.7 -5.1 .8 -2.3-2.2 -2.8-2.4 -5.1-1.6 -5.2 1.8 -5.1 .7 -1.5-3.6 -3.6-3.7 -1.4-1.4 1.4-2.7 .7-2.4 1.5-5.1 -1.1-5.1 4-2.5 5.1-.6 5.2-2.1 .1 0 5-.5 5.1-1.5 5.1 1.5 1.3-4.6 -1.3-4 -1.4-1.1 1.4-2.3 2.3-2.8 2.8-2 5.1-2.5 2.4-.6 2.7-3.7 .5-1.4 4.6-4.6 5.2 .1 2.3-.7 1.1-5.1 1.7-3.5 5.1 3.5 5.1-4.3 5.1 1.1 2.5 3.2 -2.5 2.8 -2.6 2.3 2.6 4.4 .9 .8 -.9 .5 -5.1 2.4 -5.1 1 -3.3 1.2 3.1 5.1 -.8 5.1 -1.5 5.1 2.5 4.3 1.1 .8 -1.1 3.7 -.3 1.5 .3 1.3 1.9 3.8 2.7 5.1 .5 .2 4.3 4.9 .8 1.1 4.6-1.1 -4.1-5.1 4.6-2.9 5.1-.8 1.4-1.4 3.7-4.5 .5-.6 2.3-5.2 .2-5.1 -.8-5.1 -1.5-5.1 4.4-4.4 4.1 4.4 1.1 3.7 1 1.4 .2 5.1 -1.2 3.5 -.9 1.6 .9 .7 5.1-.5 5.1 2 3.9-2.2 1.2-.4 .6 .4 3 5.2 -3.6 3.8 -.9 1.3 -2 5.1 -2.2 2.4 -2.2 2.7 -1.6 5.1 -1.3 1.6 -1.8-1.6 -3.3-2.2 -4.2 2.2 4.2 3.3 1.5 1.8 .4 5.1 -1.9 1.6 -2.3 3.6 -2.9 3.3 -3.1 1.8 -2 3.2 -.4 1.9 .4 1.2 3-1.2 2.1-1.2 .7 1.2 .9 5.1 3.6 2.7 2.4 2.4 2.7 3 5.1 1 5.1 .1 5.1-3.4 5.1 2.4 .5 2 1.1 5.2 1 5.1 2.5 3.7 1.1 1.4 -1.1 3.3 -2 1.8 -3.1 2.9 -.4 2.2 .4 .6 1.9-.6 3.2-3.4 5.1 3.4 5.2 4.3 1.2 .8 -1.2 2.5 -.3 2.6 .3 .9 1.3 4.3 -1.3 3 -1.1 2.1 -2.8 5.1 -1.3 1.4 -2.6 3.7 -2.5 1.6 -5.1 2.3 -1.6 1.2 -3.5 4.4 -2.5 .7zM700.3 302.4l-2.2-.5 1.9-5.1 -4.9-3 -2.8-2.1 2.8-4.3 5.2 1.2 3.4-2.1 1.7-1.4 2.1 1.4 3 1.2 5.1 3.1 .3 .9 -.3 .6 -5.1 3.8 -2.5 .7 -2.6 .8 -3.8 4.3zM794.6 286.5l-2.3-5 -3.6 5 3.6 3.4zM690 299.6l-4.5-2.8 4.5-2.8 2.1 2.8zM828.1 298l-1.8-1.2 1.8-.2 .5 .2zM889.4 297.1l-.6-.3 .6-4.6 .7 4.6zM695.1 312.2l-.5-.1 .5-.2 .2 .2zM863.8 361.3l-2.4-3.1 -2.7-2.1 -4.4-3.1 -.2-5.1 .5-5.1 4.1-2.7 4.8 2.7 .3 .2 2.5 4.9 2.7 4.2 3 .9 -3 2.1 -1.7 3.1zM833.2 361.3l-1.3-3.1 1.3-1.6 1.8 1.6zM843.4 367l-5.1 1 -2.5-4.7 2.5-1.3 2.3-3.8 2.8-2 3.1 2 -1.4 5.1zM879.2 364.5l-1.2-1.2 -1.5-5.1 2.7-1.6 .8 1.6 .2 5.1zM889.4 363.4l0-.1 0-.1 .1 .1zM858.7 379l-1.6-.4 -1.9-5.1 2.7-5.1 .8-.8 2.4 .8 2.7 3.6 .4 1.5 -.4 .5 -4.7 4.6zM772.7 373.5l-.9-3.1 -2.1 3.1 2.1 .6zM838.3 376.6l-2.9-3.1 2.9-5 4.2 5zM848.5 373.6l0-.1 .2 0zM874.1 373.6l-.1-.1 .1 0 .1 0zM889.4 416.3l-3.4-1.9 -1.7-1.1 -4.1-4 .2-5.1 .9-5.1 -2.1-3.8 -1.9-1.3 -3.2-2.6 -1.6-2.5 .9-5.2 .7-2.1 2.6-3 2.5-2.5 .7-2.6 4.4-3.6 5.1 .5 3 3.1 2 5.1 .1 .3 2.8 4.8 -1.4 5.2 .8 5.1 2.9 3.9 3.6 1.2 -2.2 5.1 .3 5.1 -1.7 1.3 -5.1 3.2 -1.5 .6zM797.4 408l-2.8-3.8 1.1-5.1 1.7-.6 2.8 .6 1.2 5.1zM776.9 420.1l-.3-.6 .3-.9 .3 .9zM899.6 425.6l-.4-.9 .4-.3 1.2 .3zM674.7 430l-5.1 4.2 -4.5-4.4 4.5-3.3 5.1 2.9 1.3 .4zM761.6 440.2l-.2-.2 -4.9-4.6 -1.2-.5 1.2-.4 5.1-1.7 2.2-3 2.9-1.8 4.9 1.8 .2 4 .2-4 4.9-3.6 5.1 3.6 -3.7 5.1 -1.4 1.4 -5.1-1.3 -5.1 4.5 -4.2 .5zM894.5 430.1l-3.8-.3 3.8-.3 .6 .3zM904.7 441.6l-1.9-1.6 -2.5-5.1 2.6-5.1 1.8-2.3 .8 2.3 .4 5.1 -.1 5.1zM756.5 467.1l-5.1 1.1 -5.1-1.4 -1.9-1.2 -3.2-1.2 -5.2-3.1 -.6-.8 .2-5.1 .4-2.8 4.5 2.8 .7 0 0-.1 -4.8-5.1 -.4-.4 -1.5-4.7 1.5-1.4 5.2-.1 3.4-3.6 1.7-3.1 1 3.1 4.1 2.5 2.6 2.6 2.5 4.1 .9 1 4.2 5.1 .5 .1 3.9 5.1 -4.4 3.5 -1.5 1.6zM782.1 466.8l-5.2 1.3 -5.1 1.2 -2.8-3.7 -1.8-5.1 2-5.1 2.6-2.8 5.1 2 1.1 .8 4.1 1.9 1.5 3.2 -.2 5.1zM915 464.9l-5.1-1.4 -3.7-3 3.7-2 5.1-2.3 2.6 4.3zM869 493.2l-5.2 .2 -1.5-2.2 -2.2-5.1 1.1-5.2 2.6-3.8 1-1.3 4.2-4.3 4.4 4.3 .7 1.8 1.9 3.3 -1.9 3.6 -.3 1.6 -2.9 5.1zM817.8 498.5l-5.1-1.7 -.1-.5 -2.3-5.1 2.4-5 5.1 2.8 2 2.2 -1.5 5.1zM884.3 566.3l-4.5-3.5 -.6-.2 -.6 .2 -4.5 1.8 -5.1 0 -5.2-1.5 -.5-.3 -4.6-4.8 -.3-.3 .1-5.1 .2-.9 1-4.3 1.4-5.1 .8-5.1 -1.8-5.1 -1.4-1.7 -3.6-3.4 3.6-2.5 5.1-1.8 1-.8 4.2-1.5 4.8-3.7 .3-.2 5.1-2.5 5.1-2 5.1 .5 .3-.9 .2-5.1 4.6-3.5 3.3-1.6 1.8-.8 1.4 .8 3.7 3.9 5.2 .4 1.5 .8 -1.5 1.4 -1.5 3.7 -1.3 5.1 -1.8 5.2 -.6 2 -1.6 3.1 1.6 .6 5.2 1.7 5.1-.5 3.3-1.8 1.8-1.5 5.1-1.4 0 2.9 .1 5.1 0 5.1 0 5.1 0 5.1 -.1 4.1 -2.3 1.1 -2.8 1.1 -3.8-1.1 -1.3-1.3 -.6 1.3 .6 1.1 1.3 4 -1.3 1.8 -5.1-1.7 -5.2 1.7 -4.1-1.8 4.1-4.7 .4-.4 2.6-5.2 -3-3.9 -2.6 3.9 1.8 5.2 -4.3 3.5 -1.2 1.6 -3.9 3.1 -5.1 1.6 -.7 .4zM812.7 538.2l-1.3-1 -1-5.1 2.3-3.2 1.1-1.9 1.2-5.1 2.8-3.1 2.8-2.1 2.3-1.2 5.2-.6 5.1-1.2 4.5 3 .6 .6 5.1 4.1 5.1 .2 .3 .3 -.3 2.3 -5.1 0 -.7 2.8 -4.4 2.5 -4.4 2.6 -.7 .4 -5.1 1.9 -5.2 1.2 -5.1 .5 -2.9 1.1zM853.6 535.2l-3.8-3.1 3.8-2.6 2.3 2.6zM828.1 559l-2.2-1.3 2.2-1 .6 1zM822.9 564.5l-1.4-1.7 1.4-3.3 2.4 3.3zM848.5 568.9l-5.1 1.4 -1.7-2.4 1.7-.7 5.1 .4 .8 .3zM899.6 576.1l-2-3.1 -.2-5.1 2.2-2.2 1.5 2.2 1.5 5.1zM879.2 573.1l-.1-.1 .1-.4 .1 .4zM848.5 581l-1.2-2.9 1.2-2.4 1.5 2.4zM889.4 584l-.4-.8 -1.5-5.1 1.9-1.7 .7 1.7 -.2 5.1zM843.4 587.7l-4.5-4.5 4.5-2.4 4 2.4zM838.3 590.7l-3.7-2.3 3.7-4.3 4.2 4.3zM756.5 611l-1.6-2.2 1.6-2.1 1.3 2.1z"/>
<path fill="#ffb300" d="M720.7 12.5l-4.3-2.2 4.3-3 5.1 3zM730.9 18.9l-5.1-.5 -2.8-3 2.8-5.1 5.1 2.1 1.7 3zM720.7 24l-3.6-3.5 3.6-3 3.2 3zM858.7 20.6l-.1-.1 .1-.1 .3 .1zM710.5 26.1l-.4-.5 .4-.3 .9 .3zM715.6 33.6l-1.5-2.8 1.5-2.5 2.9 2.5zM787.2 85l-5.1 1.6 -5.2-.7 -3.8-4 .1-5.1 .8-5.1 2.9-2.8 2.1-2.3 -.5-5.1 1.6-5.2 2-3 1.2-2.1 3.4-5.1 .5-.5 5-4.6 -3.3-5.1 3.4-3.3 1.7-1.8 3.4-1.9 5.1 1.2 5.1-.5 1.2 1.2 3.2 5.1 -.8 5.1 -3.6 2.4 -5.1 .9 -1.7 1.8 1.6 5.1 -5 4.2 -.7 .9 .7 3.6 1.9 1.6 3.2 .6 4.5 4.5 .6 2.6 1.6 2.5 -1.6 1.6 -1.3 3.5 -3.8 3.4 -5.1 1.5 -5.1-.4 -1.1 .6zM679.8 61.7l-.4-.2 .1-5.2 -1.5-5.1 1.8-3.5 2.4-1.6 2.7-1.4 5.1 .9 .9 .5 0 5.1 -.9 1.1 -2.6 4 -2.5 4.6 -3 .6zM807.6 64.8l-3.3-3.3 3.3-1.6 3.6 1.6zM812.7 67.1l-.9-.5 .9-1.1 .9 1.1zM853.6 67.1l-1.1-.5 1.1-.5 .8 .5zM782.1 92.3l-5.2-.1 -.1-.1 .1-.1 5.2-.4 .1 .5zM787.2 130.6l-4.9-2.6 -.2-.3 -5.2 .2 -5.1-1.4 -4.4-3.7 -.7-1.3 -3.4-3.8 -.6-5.1 -1.1-2.8 -1.8-2.3 -3.3-3.2 -4.2-1.9 2.5-5.1 1.7-3.4 5.1-1.7 4.8 5.1 -1.5 5.1 1.8 .4 5.1 .4 4.9 4.3 .2 .4 5.2 1.9 2.2-2.3 2.9-2.9 2.7-2.2 2.4-1.1 1.2 1.1 2.7 5.1 1.2 2.4 2.6 2.7 -2.6 2.2 -1.2 2.9 -3.9 4.4 -1.5 .7 -2.2 5.2zM751.4 111l-4.6-3.5 4.6-4.3 2 4.3zM746.3 126.3l-5.1-1.9 -5.2 1.4 -.4-3 .4-.4 3.7-4.7 .8-5.1 .7-1.4 1.8 1.4 2.9 5.1 .4 .5 2 4.6zM725.8 117.8l-.1-.1 .1 0 .1 0zM771.8 144.3l-5.1-.4 -5.1 1.4 -5.1-1.3 -.7-.7 -4.2-5.1 -.2-1.1 -4.2-4 .3-5.1 3.9-2.6 4.2-2.6 .9-.5 .8 .5 4.3 3 1.9 2.2 3.2 1.8 5.1 0 5.1-1.8 5.2 .7 1.1 4.4 1.5 5.1 -2.6 1.8 -5.2-1.4 -2.9 4.7zM674.7 147.6l-4.9-4.3 4.9-1 3.8 1zM679.8 191.2l-5.1 1.8 -5.1 1.2 -5.1-2.1 -.1-2.8 0-5.1 0-5.1 .1-5.1 0-1.9 1.5 1.9 3.6 2.4 5.1-1.2 3.2-1.2 -3.2-4.1 -5.1 .3 -1.7-1.3 1.7-1.2 2-3.9 -2-3.4 -2.7-1.7 .2-5.2 2.5-2.3 4.1 2.3 1 .8 .9-.8 4.2-4.6 5.1 2.6 4.5 2 .6 .6 3.8-.6 -3.8-4.2 -.1-.9 .1 0 5.1-.2 5.2-1.2 4.6 1.4 .5 .2 5.1 1.8 2.6-2 2.5-1.9 5.1-1.7 3.3 3.6 -3.1 5.1 -.2 .7 -1.3 4.5 -1.7 5.1 -2.1 2.4 -3.3 2.7 -1.8 1.5 -5.1 .8 -5.1-.4 -3.1 3.2 -2.1 2.7 -3.1-2.7 -2-1.5 -2.6-3.6 -2.5-5.1 -5 5.1 5 2.9 3.2 2.2 1.8 5.1 -5 5 -.3 .1 -4.3 5.1zM853.6 193.2l-5.1 0 -5.1-3.1 -.5-.8 .5-3.1 .7-2 -.2-5.1 4.6-1.8 5.1-.4 1.4 2.2 3.7 3.9 .7-3.9 .7-5.1 3.7-2 5.2 .1 2.4 1.9 1.3 5.1 -1 5.1 -2.7 2.7 -5.2 .5 -5.1-1.2 -.9 3.1zM700.3 179.2l-.4-.1 .4-.2 .3 .2zM730.9 195l-.3-.5 .3-1 .3 1zM863.8 220.3l-5.1 2.3 -2.9-2.6 -.6-5.1 -.1-5.1 3.6-3 2.7-2.1 2.4-2.4 5.2-2.5 1.7-.2 3.4-1 5.1-2.4 5.1 .5 5.1 2.5 .3 .4 .9 5.1 -1.2 .7 -1.1-.7 -4-1.5 -5.1-1.6 -2.5 3.1 -2.6 1.9 -1.5 3.2 -3.6 3.6 -.9 1.5 -4 5.1zM853.6 204.9l-.2-.2 .2-1 .1 1zM884.3 210.3l-.3-.5 .3-.2 .1 .2zM720.7 253.8l-5.1-1 -2.3-2.1 -1.1-5.1 -1.7-2.1 -2.8-3 -.2-5.1 -2.1-3.7 -5.1 1.7 -3.8-3.1 -1.4-2 -.8-3.1 .4-5.2 .4-.5 5.2-1.4 1.8 1.9 2.1 5.2 1.2 2.6 5.1 1.6 5.1-1.4 5.1-1.3 5.1-.3 4 3.9 1.1 1.5 2.9 3.6 2.2 2.7 2.4 2.4 -2.4 4.6 -.3 .5 -4.8 2.6 -5.1 1.1 -2.3 1.4zM894.5 221.1l-3.7-1.1 3.7-2 4.2 2zM674.7 255.1l-4.2-4.4 4.2-3.5 3.7 3.5zM736 251.7l-.8-1 .8-3.5 .9 3.5zM679.8 288.8l-3.8-2.3 -1.3-.5 -5.1-1.7 -4.2-2.9 -.9-.5 -.2-4.6 0-5.1 0-5.1 .2-5.1 0-5 1.1-.2 4-.1 .2 .1 2.4 5.2 .1 5.1 2.4 1.9 5.1 1.5 5.1 1.4 .3 .3 4.8 4 .9 1.1 -.9 1.5 -1.6 3.6 -3.5 3.6 -2.9 1.5zM863.8 287.5l-5.1 .3 -2.2-1.3 -2.5-5.1 1.2-5.1 3.5-2.3 5.1 1.7 .6 .6 2.7 5.1 -1.5 5.1zM884.3 281.9l-.7-.5 .7-.2 1.1 .2zM889.4 286.6l-.2-.1 .2-.4 .1 .4zM761.6 407.4l-5.1 1.1 -5.1 .3 -5.1-2.1 -2.4-2.5 -1.4-5.1 3.8-3.5 4.1-1.6 1-1 4.5-4.1 .6-1.6 1.2 1.6 3.9 1.9 3.8-1.9 1.3-1.3 5.1-3.7 0-.2 0-.1 -3.3-5 3.3-2.1 4.1-3 0-5.1 -2.7-5.1 3.7-3 5.2-.4 1.5-1.7 -1.2-5.2 -.3-3 -.9-2.1 -4.3-4.1 -5-1 .2-5.1 -.3-.2 -.6 .2 -4.5 1.2 -1.1-1.2 -1.8-5.1 -.6-5.1 -1.6-.4 -2.3-4.7 -1.2-5.2 1-5.1 .2-5.1 2.3-2.6 2.4-2.5 2.7-1.8 2.1 1.8 3 3.3 1.9 1.8 3.1 5.1 .1 1.7 2.1-1.7 2-5.1 1.1-1.7 2 1.7 .7 5.1 .4 5.1 2 2.8 1.3 2.4 -1.3 1.9 -3.3 3.2 2.2 5.1 1.1 1.6 5.1 .5 5 3 .1 0 4.2 5.1 .9 2.7 4.1 2.4 1 1.8 1 3.3 -.3 5.2 2.9 5.1 -3.6 3.3 -2 1.8 1.1 5.1 .9 3.1 .9 2 -.9 2.6 -.3 2.5 -4.8 4 -5.1-.6 -3.5-3.4 -.7-5.1 -.9-3.1 -3.8-2 -1.3-.7 -.7 .7 .3 5.1 .4 2.1 2.4 3 -2.4 4.1 -1 1.1 -4.1 4.2 -1.1 .9 -4.1 3.8 -4.6 1.3 -.5 .2 -5.1 1.4 -2 3.5zM822.9 302.9l-.2-1 .2-.2 .2 .2zM756.5 339l-5.1 2.2 -5.1 .9 -5.1-.7 -5.2-1.4 -4-2.3 -1.1-4.8 0-.3 0-2.4 .1-2.7 5-4 2.3-1.1 2.9-1.6 5.1-.1 2.4 1.7 2.7 .6 5.1 2.6 4.6 1.9 -.5 5.1 -2.2 5.1zM828.1 334.1l-5.2-.5 -5.1-.2 -1.1-.8 1.1-1.3 1.7-3.8 3.4-5 5.2 3.3 3.4 1.7 -.7 5.1zM863.8 356.9l-5.1-3.3 -.8-.6 -1.6-5.1 2.4-4 4.9 4 .2 .4 2.4 4.7zM746.3 380.2l-2.5-1.6 -2.6-3.9 -.4-1.2 -4.8-3 -2.5-2.1 -1.9-5.1 2.5-5.1 1.9-.9 5.2-.5 1.1 1.4 4 3.6 1.1 1.5 .4 5.1 -1.2 5.1 1.3 5.1zM817.8 358.4l-.5-.2 .5-.5 .6 .5zM812.7 370.5l-1.9-2.1 1.9-2.2 1 2.2zM715.6 378.7l-.2-.1 -.5-5.1 .7-.4 1.2 .4 -1.1 5.1zM884.3 396.2l-.9-2.2 -3.5-5.1 -.7-3.3 -.9-1.9 .9-.9 1.7-4.2 2.6-5.1 .8-.7 1.6 .7 3.5 1.1 3.2 4 1.6 5.1 -.8 5.2 -4 4.7 -2.1 .4zM730.9 385.1l-1-1.4 1-1 4.8 1zM833.2 452.2l-5.1-.8 -4.5-1.2 -.7-.3 -5.1-4.2 -5.1-.5 0-.1 -4.8-5.1 .4-5.1 4.4-4.9 .5-.2 -.5-2.6 -1.2-2.5 1.2-.9 2.3-4.3 1.8-5.1 1-1.5 5.1-2.7 .8-.9 -.8-2.3 -5.1-1.6 -1.4-1.2 .7-5.1 .7-1.2 1.6-3.9 3.5-3.8 3.7-1.3 1.5-.7 5.1-1 5.1-1.4 5.1 1 5.1-1.8 2.2 3.9 1.4 5.1 -2.4 5.1 1.6 5.1 -.2 5.1 2.5 3.6 4.8 1.5 .3 .2 5.1 3.9 .3 1 -.3 .8 -.5 4.4 -4.6 4.9 -.7 .2 -2.7 5.1 -.3 5.1 -1.4 .8 -5.1 3.3 -.7 1 -4.4 3.2 -5.1 1.8 -.4 .1zM894.5 409.9l-5.1 .1 -1.1-.7 .2-5.1 .9-1.8 5.1-1.4 2.4 3.2 -1.3 5.1zM746.3 452.8l-1.8-2.6 1.8-1.3 1.2 1.3zM741.2 460.5l-.1 0 .1-.1 .1 .1zM776.9 465.8l-.7-.2 -4.4-5.1 0-.1 5.1-2.3 4.4 2.4 -3.2 5.1zM869 491.1l-5.2-1.3 -2.1-3.7 .9-5.2 1.2-1.8 2.4-3.3 2.8-2.8 2.9 2.8 2 5.1 -1 5.2zM879.2 559.8l-5.1 1.2 -5.1 .5 -4.2-3.8 -.1-5.1 3.7-5.2 -1.2-5.1 -.9-5.1 1-5.1 -1.1-5.1 2.8-2.6 1.6-2.5 3.5-2.9 2.9-2.3 2.2-1 5.1-1.3 3.1 2.3 2 1.3 2.6-1.3 1.3-5.1 .6-5.1 .6-.4 2.1 .4 3 1 5.1 2.9 .8 1.2 -.8 1.2 -3 3.9 -2.1 4.8 -.3 .4 -3.3 5.1 2.5 5.1 -.3 5.1 -2.8 5.1 -.4 5.1 -.5 .6 -3.2 4.6 -1.9 3.9 -5.1-1.8 -2.9 3zM822.9 532.5l-1.2-.4 -3.9-3.4 -.6-1.7 .6-1.4 1.7-3.7 3.4-3.1 5.2-.9 4.7-1.2 .4-.1 .1 .1 5 4.5 .8 .7 -.8 2.8 -.7 2.3 -4.4 2.6 -5.1 1.2 -4.2 1.3z"/>
<path fill="#ffa300" d="M782.1 82.4l-5.2 1 -1.4-1.5 0-5.1 1.1-5.1 .3-.3 4.4-4.8 -.3-5.1 1.1-3.1 .9-2.1 2.8-5.1 1.4-1.9 3.6-3.2 1.5-1.4 4.9 1.4 .2 .1 1.6 5 -1.6 1.4 -2.6 3.7 .3 5.2 2.3 2.1 5.1 1.1 1.8 1.9 1.9 5.1 -2.6 5.1 -1.1 1 -5.1 2.2 -4.8-3.2 -.3-1.8 -3-3.3 -2.1-.8 -.5 .8 .5 2.1 3.2 3 -3.2 1.6 -4.1 3.5zM771.8 123.2l-.4-.4 -3.7-5.1 -1-2.6 -1.2-2.5 -.1-5.1 1.3-.9 5.1-1.2 2.4 2.1 2.7 3.6 2 1.5 1.8 5.1 -3.8 2.4 -4.5 2.7zM792.3 120.2l-5.1 2.6 -4.4-5.1 .9-5.1 3.5-3.5 2.8-1.6 2.3-2.1 1.4 2.1 2.6 5.1 -1.8 5.1zM771.8 141.2l-5.1 .3 -5.1 1 -5.1-3.9 -.4-.4 .4-2.5 5.1-2.3 5.1-.2 5.1 1.1 2.5 3.9zM715.6 154.9l-1.9-1.4 1.9-1.4 1 1.4zM700.3 159.1l-.6-.4 .6-.3 1.5 .3zM710.5 160.1l-1.9-1.4 1.9-.7 .4 .7zM684.9 181.2l-5.1 .5 -2.8-2.6 2.8-1.9 5.1-.7 2.1 2.6zM869 184.8l-5.2 .1 -1.1-.7 -1.5-5.1 2.6-4.3 5.2-.4 2.3 4.7 -1.8 5.1zM674.7 185.9l-2.4-1.7 2.4-1.9 1.7 1.9zM848.5 190.4l-1.6-1.1 1.6-2.7 3.7 2.7zM858.7 220.4l-.4-.4 -1.6-5.1 .9-5.1 1.1-.9 5.1-4 .5-.2 4.7-2.2 2.9 2.2 -1.5 5.1 -1.4 1.4 -2.1 3.7 -3.1 3.8 -4.3 1.3zM725.8 246.5l-5.1 .3 -1.9-1.2 -3.2-1.5 -2.6-3.6 -1.7-5.1 4.3-3.5 3.3-1.6 1.8-.6 5.1-.1 .7 .7 3.5 5.1 .9 2.4 1.5 2.7 -1.5 2.6 -1.7 2.5zM684.9 282.5l-5.1 2.7 -5.1-2.6 -2.9-1.2 -2.1-5.1 5-3.8 5.1-.5 5.1 1.4 3.2 2.9 -2.2 5.1zM863.8 283.5l-5.1 1 -1.9-3.1 1.3-5.1 .6-.4 1.2 .4 3.9 3.1 1.1 2zM766.7 325.5l-3.5-3.1 -1.6-2.4 -1.6-2.8 .3-5.1 1.3-3.6 .7-1.5 4.4-4.5 4.3 4.5 .8 2 2.1 3.1 .3 5.1 -2.4 2.4 -1.9 2.8zM776.9 323.2l-.6-.8 .6-.6 .9 .6zM751.4 339.1l-5.1 1.6 -5.1-1 -4.4-2 -.8-1.5 -1.8-3.6 1-5.1 .8-.7 5.2-3.5 5.1-.1 5.1 1.1 3.8 3.2 .8 5.1 -2.1 5.1zM782.1 340.7l-2-3 -.7-5.1 2.7-2.4 1.4 2.4 2.3 5.1zM802.5 386.5l-5.1-1.2 -1.7-1.6 -1.2-5.1 2-5.1 -4.2-3.3 -5.1-1.8 -.1 0 -3.9-5.1 3.4-5.1 -1.9-5.2 -.6-5.1 -.7-5.1 3.8-4.3 5.1-.4 5.1 3.2 1.2 1.5 2.7 5.1 1.2 4.6 .5 .5 -.5 2.6 -.5 2.6 -.7 5.1 -1.1 5.1 2.3 1.6 1.8 3.5 2.3 5.1 -.8 5.1zM858.7 348.7l-.3-.8 .3-.5 .6 .5zM741.2 371.9l-5.2-3.3 -.2-.2 -2.3-5.1 2.5-3.4 5.2-.7 4.2 4.1 .2 5.1zM776.9 391.8l-2.2-2.9 -2-5.2 -.8-5.1 5-4.5 4.7-.6 .5-.4 .2 .4 3.9 5.1 .8 5.1 -4.9 5.1 -1.1 .1zM889.4 390.4l-5.1 1.2 -2.2-2.7 -1.1-5.2 2.1-5.1 1.2-2.1 5.1 .3 1.4 1.8 1.6 5.1 -1.7 5.2zM833.2 450.3l-.2-.1 -4.9-.6 -5.2-3.8 -.7-.7 -4.4-1.2 -5.1-.4 -3.2-3.5 .3-5.1 2.9-3.3 3.3-1.8 1.5-5.1 .3-2.1 .4-3.1 4.7-4.6 .3-.5 4.8-5.1 .1-.1 5.1-4.4 2.4-.6 -2.4-1 -3.3-4.1 -1.8-4.4 -.8-.7 .8-.4 5.1-1.4 3.4-3.3 1.7-.7 2.2 .7 2.9 2 2.7 3.1 -1.1 5.1 -1.6 3.2 -2.7 1.9 2.7 1.2 5.1 .5 .4 3.4 2.2 5.1 2.5 1.9 5.1 2.9 .5 .3 2.6 5.2 -3.1 3.3 -5.1 1.4 -5.1-2.7 -1.5 3.1 -.2 5.1 1.3 5.1 -3.5 5.1 -1.2 .9 -5.1 2.9 -5 1.3zM761.6 404.8l-5.1 2.4 -5.1 .3 -5.1-2.4 -.9-.9 -.5-5.1 1.4-1.3 5.1-2.6 3.1-1.2 2-1.9 2.8 1.9 2.3 4 .8 1.1 -.3 5.1zM869 490l-5.2-2.8 -.6-1.1 .6-4.5 .1-.7 3.8-5.1 1.3-1.3 1.3 1.3 2.5 5.1 -.7 5.2zM828.1 528.2l-5.2-1 -.2-.2 .1-5.1 .1-.2 5.2-1.6 5.1-.1 2 1.9 -2 4.2 -1.1 .9zM889.4 542.3l-.1 0 -5-3.8 -.8-1.3 .8-2.8 .8-2.3 -.8-.1 -5.1-.7 -3.9-4.3 -1.2-4.1 -.5-1 .5-.4 5.1-4.5 5.1-.2 5.1 3.4 3.4 1.7 .4 5.1 -.2 5.1 -1.8 5.1 -1.8 5.1zM869 558.7l-1.1-1 -.7-5.1 1.8-2.2 3.8-3 .2-5.1 1.1-3.8 5.1 1.6 3 2.2 -3 4.2 -.9 .9 .9 1.9 1.6 3.3 -1.6 1.6 -5.1 3.3 -.7 .2z"/>
<path fill="#ff9400" d="M792.3 61.8l-5.1 4.2 -2.5-4.5 2-5.2 .5-1.2 5.1-.4 .5 1.6 -.3 5.2zM797.4 78.3l-2.2-1.5 -1.5-5.1 2.8-5.1 .9-.5 1.9 .5 3.2 1.1 2 4 -2 3.3 -2 1.8zM782.1 79.6l-3.9-2.8 1.4-5.1 2.5-2.8 2 2.8 .9 5.1zM771.8 120.5l-2.1-2.8 -.8-5.1 2.9-5 3 5 .9 5.1zM792.3 118.3l-5.1 .6 -1.1-1.2 -.1-5.1 1.2-1.2 5.1-2.2 1.9 3.4 -1.4 5.1zM766.7 139.2l-5.1 .4 -1.7-1.4 1.7-1.5 5.1-.1 4.1 1.6zM869 181.7l-5.2-.7 -.7-1.9 .7-1.3 5.2-.7 1 2zM863.8 217.2l-5.1-1.1 -.4-1.2 .4-1.5 1.6-3.6 3.5-2.7 4 2.7 -2.1 5.1zM720.7 242.1l-2.2-1.6 -.5-5.1 2.7-1.1 2.1 1.1 1.4 5.1zM679.8 282.7l-2.3-1.3 -2.8-4.5 -.4-.6 .4-.3 5.1-1.9 5.1 1.6 .7 .6 -.7 1.5 -2.7 3.6zM766.7 323.4l-1.2-1 -3.7-5.2 -.2-5.1 2.5-5.1 2.6-2.7 2.6 2.7 2.1 5.1 .1 5.1 -3.7 5.2zM746.3 339.3l-5.1-1.3 -.8-.3 -3.6-5.1 1.2-5.1 3.2-2.4 5.1-.6 5.1 1.2 2.1 1.8 .5 5.1 -2.6 4.2 -1.1 .9zM792.3 363.1l-3.5-4.9 -1.6-4.8 -.2-.4 -.7-5.1 .9-2.6 .6-2.5 4.5-3.4 4.2 3.4 .9 1.4 2.4 3.7 .9 5.1 -3.3 4.8 -.4 .4zM741.2 370.2l-2.7-1.8 -2.5-3.7 -.6-1.4 .6-.9 5.2-1.5 2.4 2.4 -.2 5.1zM782.1 387.9l-5.2 .3 -3.3-4.5 -.7-5.1 4-3.7 5.2-.7 3.5 4.4 .5 5.1zM802.5 385.2l-4.7-1.5 -.4-.4 -1.6-4.7 1.6-2.9 5.1-1.7 2.7 4.6 -.9 5.1zM889.4 386.7l-5.1 1.7 -1.1-4.7 1.1-2.6 5.1-1.3 1.2 3.9zM756.5 405.8l-5.1 .4 -4-2 -.1-5.1 4.1-2.4 5.1-1.3 3 3.7 .1 5.1zM838.3 447.7l-5.1 1.4 -5.1-.7 -3.9-3.3 -1.3-1.2 -5.1-1.2 -5.1-.9 -1.6-1.8 .1-5.1 1.5-1.7 5.1-2.9 5.1-.4 5.1 5 .1 0 0-.1 -4.9-5 -.3-3.9 0-1.2 -.5-5.2 .5-.5 2.4-4.6 2.8-2.9 3.8-2.2 1.3-1.1 5.1-1.6 4 2.7 1.1 .9 3.6 4.2 .5 5.1 -1 5.2 -3 5.1 -.1 .4 -1.6 4.7 1.6 1.2 2 3.9 -2 2.8 -1.2 2.3zM858.7 426.4l-5.1 2.2 -4.5-3.9 4.5-5 5.1 2.2 1.6 2.8zM869 489l-4.3-2.9 .6-5.2 3.7-4.9 2.8 4.9 -.5 5.2zM889.4 530.1l-5.1 1.1 -5.1-2.2 -1.8-2 -2.7-5.1 4.5-4.2 5.1 0 4.8 4.2 .3 1 2 4.1zM874.1 554.1l-3.1-1.5 3.1-2.1 1.7 2.1z"/>
<path fill="#ff8500" d="M802.5 72l-5.1 4.3 -1.9-4.6 1.9-2.9 5.1 2.5 .2 .4zM782.1 77l-.3-.2 .3-1.1 .1 1.1zM771.8 117.9l-.1-.2 .1-1.1 .3 1.1zM863.8 215.7l-2-.8 1.3-5.1 .7-.5 .8 .5 -.1 5.1zM679.8 276.6l-.2-.3 .2-.1 .2 .1zM766.7 321.5l-3.4-4.3 0-5.1 2.5-5.1 .9-.9 .9 .9 2.3 5.1 .2 5.1zM746.3 337.9l-.9-.2 -4.2-1.7 -2.8-3.4 1.9-5.1 .9-.6 5.1-1 5.1 1.2 .5 .4 .1 5.1 -.6 1 -4.6 4.1zM792.3 360.4l-1.6-2.2 -2.3-5.2 -.4-5.1 1.6-5.1 2.7-2 2.5 2 2.6 3.9 .8 1.2 .6 5.1 -1.4 2 -3 3.2zM741.2 368.4l-.1 0 -1.9-5.1 2-.7 .6 .7 -.6 5.1zM782.1 387l-5.2 0 -2.4-3.3 -.7-5.1 3.1-2.8 5.2-.8 2.9 3.6 .3 5.1zM802.5 384l-.8-.3 -4.3-4.3 -.3-.8 .3-.5 5.1-1.8 1.4 2.3 -1.1 5.1zM756.5 404.5l-5.1 .4 -1.4-.7 0-5.1 1.4-.8 5.1 0 .6 .8 -.1 5.1zM838.3 446.5l-5.1 1.5 -5.1-.9 -2.4-2 -2.8-2.6 -5.1-1.1 -5.1-1.3 0-.1 -.1-5.1 .1-.1 5.1-2.9 5.1 .9 2.2 2.1 3 1.5 4.2-1.5 -3.5-5.1 -.7-.8 -3.5-4.3 -.3-5.2 3.1-5.1 .7-.6 5.1-3.7 5.1-.7 5.1 4.6 .4 .4 1.6 5.1 -1.8 5.2 -.2 .3 -1.9 4.8 -3.2 4 -3.6 1.1 3.6 1 4.5 4.1 -2.4 5.1zM858.7 424.8l-5.1 3.1 -3.6-3.2 3.6-4 5.1 3.8 .2 .2zM869 488l-2.8-1.9 .4-5.2 2.4-3.1 1.8 3.1 -.3 5.2zM889.4 527.2l-5.1 3.1 -4.9-3.3 -.2-.2 -3.7-4.9 3.7-3.5 5.1 .2 3.8 3.3 1.3 4.8 .1 .3z"/>
<path fill="#ff7500" d="M797.4 71.8l-.1-.1 .1-.1 .1 .1zM766.7 319.7l-2-2.5 .3-5.1 1.7-3.4 1.6 3.4 .4 5.1zM746.3 335.7l-5.1-1.7 -1.1-1.4 1.1-2.6 4-2.5 1.1-.3 1 .3 2.4 5.1zM792.3 357.7l-2.6-4.7 -.2-5.1 1.8-5.1 1-.7 .9 .7 3.2 5.1 .4 5.1zM782.1 386.1l-5.2-.2 -1.6-2.2 -.6-5.1 2.2-2 5.2-.9 2.3 2.9 0 5.1zM838.3 431.4l-5.1 1.4 -2.4-3 -2.7-2.9 -1.9-2.2 -.3-5.2 2.2-3.3 1-1.8 4.1-3.1 5.1-.5 3.8 3.6 1.3 5.1 -.9 5.2 -2.9 5.1zM853.6 427.1l-2.7-2.4 2.7-3.1 4 3.1zM838.3 445.3l-5.1 1.6 -5.1-1 -.9-.8 -4.3-4 -5.1-1 -.2-.1 -2.4-5.1 2.6-1.5 4.1 1.5 1 1.3 5.2 1.7 5.1-1.5 5.1 1.7 2.1 1.9 -1.8 5.1zM869 486.9l-1.3-.8 .2-5.2 1.1-1.4 .8 1.4 -.2 5.2zM884.3 529.4l-3.6-2.4 -1.5-1.2 -3-3.9 3-2.8 5.1 .3 2.8 2.5 1.1 5.1z"/>
<path fill="#ff6600" d="M766.7 318l-.6-.8 .6-5.1 0-.1 .1 .1 .5 5.1zM746.3 333.4l-2.5-.8 2.5-1.5 .8 1.5zM792.3 355.3l-1.3-2.3 -.1-5.1 1.4-3.5 2 3.5 .1 5.1zM782.1 385.3l-5.2-.6 -.7-1 -.6-5.1 1.3-1.2 5.2-.9 1.7 2.1 -.3 5.1zM833.2 430.1l-.3-.3 -4.8-4.9 -.2-.2 -.4-5.2 .6-.9 2.5-4.2 2.6-2 5.1-.3 2.4 2.3 1.9 5.1 -1.2 5.2 -3.1 4.6 -3.6 .5zM853.6 426.3l-1.8-1.6 1.8-2.1 2.7 2.1zM833.2 445.8l-3-.7 -2.1-2.5 -3.2-2.6 3.2-.6 5.1-1.2 4.5 1.8 -2.5 5.1zM884.3 528.6l-2.4-1.6 -2.7-2.2 -2.2-2.9 2.2-2.1 5.1 .5 1.8 1.6 .7 5.1z"/>
<path fill="#ff5c00" d="M782.1 384.4l-4.3-.7 -.9-1.2 -.4-3.9 .4-.3 5.2-1.1 1.1 1.4 -.5 5.1zM838.3 427.8l-5.1 .9 -4-4 -.7-5.2 3.6-5.1 1.1-.8 5.1-.1 1 .9 2.4 5.1 -1.3 5.2zM853.6 425.5l-.9-.8 .9-1.1 1.4 1.1zM884.3 527.7l-1.1-.7 -4-3.3 -1.4-1.8 1.4-1.3 5.1 .6 .7 .7 .5 5.1z"/>
<path fill="#ff5200" d="M782.1 382.5l-3.1-3.9 3.1-.6 .5 .6zM838.3 426.3l-5.1 1.2 -2.8-2.8 -1.1-5.2 3.9-4.8 5.1 .2 2.6 4.6 -1.5 5.2zM853.6 424.7l-.1 0 .1-.1 .2 .1zM879.2 522.7l-.7-.8 .7-.6 3.8 .6z"/>
<path fill="#ff4700" d="M838.3 424.7l-5.1 1.5 -1.6-1.5 -1.5-5.2 3.1-3.8 5.1 .6 1.8 3.2 -1.8 5.2z"/>
<path fill="#ff3d00" d="M833.2 425l-.3-.3 -2.1-5.2 2.4-2.9 5.1 1.1 1 1.8 -1 3 -4.1 2.2z"/>
<path fill="#ff3300" d="M838.3 420.2l-5.1 3.1 -1.6-3.8 1.6-1.9 5.1 1.6 .2 .3z"/>
<path fill="#ff2900" d="M833.2 421.4l-.8-1.9 .8-.9 3 .9z"/>
<path fill="#ff1f00" d="M833.2 419.6l0-.1z"/>
</g>
<rect x="674.7" y="10.3" width="240.8" height="599.4" fill="none" stroke="#9a9a9a" stroke-width="1"/>
<path d="M679.3 10.3v-7.5M679.3 609.7v7.8M736.1 10.3v-7.5M736.1 609.7v7.8M792.9 10.3v-7.5M792.9 609.7v7.8M849.7 10.3v-7.5M849.7 609.7v7.8M906.5 10.3v-7.5M906.5 609.7v7.8M674.7 16.2h-7.6M915.5 16.2h7.6M674.7 73.0h-7.6M915.5 73.0h7.6M674.7 129.9h-7.6M915.5 129.9h7.6M674.7 186.7h-7.6M915.5 186.7h7.6M674.7 243.6h-7.6M915.5 243.6h7.6M674.7 300.4h-7.6M915.5 300.4h7.6M674.7 357.2h-7.6M915.5 357.2h7.6M674.7 414.1h-7.6M915.5 414.1h7.6M674.7 470.9h-7.6M915.5 470.9h7.6M674.7 527.8h-7.6M915.5 527.8h7.6M674.7 584.6h-7.6M915.5 584.6h7.6" stroke="#9a9a9a" stroke-width="1" fill="none"/>
<text x="665.1" y="21.3" text-anchor="end">4381000</text>
<text x="665.1" y="78.1" text-anchor="end">4380000</text>
<text x="665.1" y="135.0" text-anchor="end">4379000</text>
<text x="665.1" y="191.8" text-anchor="end">4378000</text>
<text x="665.1" y="248.7" text-anchor="end">4377000</text>
<text x="665.1" y="305.5" text-anchor="end">4376000</text>
<text x="665.1" y="362.3" text-anchor="end">4375000</text>
<text x="665.1" y="419.2" text-anchor="end">4374000</text>
<text x="665.1" y="476.0" text-anchor="end">4373000</text>
<text x="665.1" y="532.9" text-anchor="end">4372000</text>
<text x="665.1" y="589.7" text-anchor="end">4371000</text>
<text x="679.3" y="631.9" text-anchor="middle">638000</text>
<text x="736.1" y="631.9" text-anchor="middle">639000</text>
<text x="792.9" y="631.9" text-anchor="middle">640000</text>
<text x="849.7" y="631.9" text-anchor="middle">641000</text>
<text x="906.5" y="631.9" text-anchor="middle">642000</text>
<g transform="translate(604.5,0)">
<text x="371.2" y="43.6" text-anchor="middle" class="sf" style="font-size:19px">N</text>
<path d="M371.6 47L363.3 82.3L371.6 76.8z" fill="#fff" stroke="#000" stroke-width="1.6" stroke-linejoin="miter"/>
<path d="M371.6 45.3L380.4 83.2L371.6 76.8z" fill="#000" stroke="#000" stroke-width=".6"/>
<rect x="357.8" y="110.70" width="24.9" height="7.88" fill="#ff0000"/>
<rect x="357.8" y="118.53" width="24.9" height="7.88" fill="#ff0a00"/>
<rect x="357.8" y="126.35" width="24.9" height="7.88" fill="#ff1400"/>
<rect x="357.8" y="134.18" width="24.9" height="7.88" fill="#ff1f00"/>
<rect x="357.8" y="142.01" width="24.9" height="7.88" fill="#ff2900"/>
<rect x="357.8" y="149.84" width="24.9" height="7.88" fill="#ff3300"/>
<rect x="357.8" y="157.66" width="24.9" height="7.88" fill="#ff3d00"/>
<rect x="357.8" y="165.49" width="24.9" height="7.88" fill="#ff4700"/>
<rect x="357.8" y="173.32" width="24.9" height="7.88" fill="#ff5200"/>
<rect x="357.8" y="181.14" width="24.9" height="7.88" fill="#ff5c00"/>
<rect x="357.8" y="188.97" width="24.9" height="7.88" fill="#ff6600"/>
<rect x="357.8" y="196.80" width="24.9" height="7.88" fill="#ff7500"/>
<rect x="357.8" y="204.62" width="24.9" height="7.88" fill="#ff8500"/>
<rect x="357.8" y="212.45" width="24.9" height="7.88" fill="#ff9400"/>
<rect x="357.8" y="220.28" width="24.9" height="7.88" fill="#ffa300"/>
<rect x="357.8" y="228.11" width="24.9" height="7.88" fill="#ffb300"/>
<rect x="357.8" y="235.93" width="24.9" height="7.88" fill="#ffc200"/>
<rect x="357.8" y="243.76" width="24.9" height="7.88" fill="#ffd100"/>
<rect x="357.8" y="251.59" width="24.9" height="7.88" fill="#ffe000"/>
<rect x="357.8" y="259.41" width="24.9" height="7.88" fill="#fff000"/>
<rect x="357.8" y="267.24" width="24.9" height="7.88" fill="#ffff00"/>
<rect x="357.8" y="275.07" width="24.9" height="7.88" fill="#e5ff00"/>
<rect x="357.8" y="282.89" width="24.9" height="7.88" fill="#ccff00"/>
<rect x="357.8" y="290.72" width="24.9" height="7.88" fill="#b3ff00"/>
<rect x="357.8" y="298.55" width="24.9" height="7.88" fill="#99ff00"/>
<rect x="357.8" y="306.38" width="24.9" height="7.88" fill="#80ff00"/>
<rect x="357.8" y="314.20" width="24.9" height="7.88" fill="#66ff00"/>
<rect x="357.8" y="322.03" width="24.9" height="7.88" fill="#4dff00"/>
<rect x="357.8" y="329.86" width="24.9" height="7.88" fill="#33ff00"/>
<rect x="357.8" y="337.68" width="24.9" height="7.88" fill="#19ff00"/>
<rect x="357.8" y="345.51" width="24.9" height="7.88" fill="#00ff00"/>
<rect x="357.8" y="353.34" width="24.9" height="7.88" fill="#00e51a"/>
<rect x="357.8" y="361.16" width="24.9" height="7.88" fill="#00cc33"/>
<rect x="357.8" y="368.99" width="24.9" height="7.88" fill="#00b34c"/>
<rect x="357.8" y="376.82" width="24.9" height="7.88" fill="#009966"/>
<rect x="357.8" y="384.64" width="24.9" height="7.88" fill="#007f80"/>
<rect x="357.8" y="392.47" width="24.9" height="7.88" fill="#006699"/>
<rect x="357.8" y="400.30" width="24.9" height="7.88" fill="#004cb2"/>
<rect x="357.8" y="408.13" width="24.9" height="7.88" fill="#0033cc"/>
<rect x="357.8" y="415.95" width="24.9" height="7.88" fill="#0019e6"/>
<rect x="357.8" y="423.78" width="24.9" height="7.88" fill="#0000ff"/>
<rect x="357.8" y="431.61" width="24.9" height="7.88" fill="#0f0aff"/>
<rect x="357.8" y="439.43" width="24.9" height="7.88" fill="#1f14ff"/>
<rect x="357.8" y="447.26" width="24.9" height="7.88" fill="#2e1fff"/>
<rect x="357.8" y="455.09" width="24.9" height="7.88" fill="#3d29ff"/>
<rect x="357.8" y="462.91" width="24.9" height="7.88" fill="#4c33ff"/>
<rect x="357.8" y="470.74" width="24.9" height="7.88" fill="#5c3dff"/>
<rect x="357.8" y="478.57" width="24.9" height="7.88" fill="#6b47ff"/>
<rect x="357.8" y="486.40" width="24.9" height="7.88" fill="#7a52ff"/>
<rect x="357.8" y="494.22" width="24.9" height="7.88" fill="#8a5cff"/>
<rect x="357.8" y="502.05" width="24.9" height="7.88" fill="#9966ff"/>
<path d="M357.8 118.53h24.9M357.8 126.35h24.9M357.8 134.18h24.9M357.8 142.01h24.9M357.8 149.84h24.9M357.8 157.66h24.9M357.8 165.49h24.9M357.8 173.32h24.9M357.8 181.14h24.9M357.8 188.97h24.9M357.8 196.80h24.9M357.8 204.62h24.9M357.8 212.45h24.9M357.8 220.28h24.9M357.8 228.11h24.9M357.8 235.93h24.9M357.8 243.76h24.9M357.8 251.59h24.9M357.8 259.41h24.9M357.8 267.24h24.9M357.8 275.07h24.9M357.8 282.89h24.9M357.8 290.72h24.9M357.8 298.55h24.9M357.8 306.38h24.9M357.8 314.20h24.9M357.8 322.03h24.9M357.8 329.86h24.9M357.8 337.68h24.9M357.8 345.51h24.9M357.8 353.34h24.9M357.8 361.16h24.9M357.8 368.99h24.9M357.8 376.82h24.9M357.8 384.64h24.9M357.8 392.47h24.9M357.8 400.30h24.9M357.8 408.13h24.9M357.8 415.95h24.9M357.8 423.78h24.9M357.8 431.61h24.9M357.8 439.43h24.9M357.8 447.26h24.9M357.8 455.09h24.9M357.8 462.91h24.9M357.8 470.74h24.9M357.8 478.57h24.9M357.8 486.40h24.9M357.8 494.22h24.9M357.8 502.05h24.9" stroke="#000" stroke-opacity=".55" stroke-width=".7" fill="none"/>
<rect x="357.8" y="110.7" width="24.9" height="399.18" fill="none" stroke="#888" stroke-opacity=".6" stroke-width=".7"/>
<text x="386" y="123.3">310</text>
<text x="386" y="139.0">308</text>
<text x="386" y="154.7">306</text>
<text x="386" y="170.3">304</text>
<text x="386" y="186.0">302</text>
<text x="386" y="201.7">300</text>
<text x="386" y="217.3">298</text>
<text x="386" y="233.0">296</text>
<text x="386" y="248.7">294</text>
<text x="386" y="264.3">292</text>
<text x="386" y="280.0">290</text>
<text x="386" y="295.7">288</text>
<text x="386" y="311.3">286</text>
<text x="386" y="327.0">284</text>
<text x="386" y="342.7">282</text>
<text x="386" y="358.3">280</text>
<text x="386" y="374.0">278</text>
<text x="386" y="389.7">276</text>
<text x="386" y="405.3">274</text>
<text x="386" y="421.0">272</text>
<text x="386" y="436.7">270</text>
<text x="386" y="452.3">268</text>
<text x="386" y="468.0">266</text>
<text x="386" y="483.7">264</text>
<text x="386" y="499.3">262</text>
<text x="386" y="515.0">260</text>
<text x="364" y="566" style="font-size:14px">T (K)</text>
</g>
<g transform="translate(605.3,0)">
<text x="190.5" y="657.4" text-anchor="middle" style="font-size:16.8px;white-space:pre" xml:space="preserve">WGS 84  UTM 48N</text>
<rect x="69.9" y="669.3" width="226.8" height="9.7" fill="#fff" stroke="#9a9a9a" stroke-width="1"/>
<rect x="69.9" y="669.3" width="56.7" height="9.7" fill="#000"/>
<rect x="183.3" y="669.3" width="56.7" height="9.7" fill="#000"/>
<text x="69.9" y="692" text-anchor="middle">0</text>
<text x="126.6" y="692" text-anchor="middle">1000</text>
<text x="183.3" y="692" text-anchor="middle">2000</text>
<text x="240.0" y="692" text-anchor="middle">3000</text>
<text x="296.7" y="692" text-anchor="middle">4000</text>
<text x="316.7" y="679.4" style="font-size:15.2px">Meters</text>
<text x="215.2" y="730.3" text-anchor="middle" class="sf" style="font-size:27px;letter-spacing:.9px">(b)</text>
</g>
<!-- panel c -->
<clipPath id="clipc"><rect x="68.4" y="744.8" width="242.2" height="598.8"/></clipPath>
<g clip-path="url(#clipc)" stroke="#000" stroke-width=".45" stroke-opacity="0.65" stroke-linejoin="round" fill-rule="evenodd">
<rect x="68.4" y="744.8" width="242.2" height="598.8" fill="#00cc33" stroke="none"/>
<path fill="#00e51a" d="M325.2 1359.1l-5.1 .1 -5.2 0 -5.1-.1 -5.1-.1 -5.2-.1 -5.1 0 -5.1 0 -5.2 .1 -5.1 .1 -5.1 0 -5.2 0 -5.1 0 -5.2-.1 -5.1 0 -5.1 0 -5.2 0 -5.1 .1 -5.1 0 -5.2 .1 -5.1 0 -5.1-.1 -5.2-.1 -5.1 0 -5.2-.1 -5.1-.1 -5.1-.1 -5.2 .1 -5.1 .1 -5.1 .1 -5.2 .1 -5.1-.1 -5.1 0 -5.2 0 -5.1 .1 -5.2 0 -5.1 .1 -5.1 0 -5.2 0 -5.1-.1 -5.1-.1 -5.2 0 -5.1 0 -5.1 0 -5.2 .1 -5.1 .1 -5.2 0 -5.1-.1 -5.1 .1 -5.2 0 -5.1 0 -5.1 0 -5.2 0 -.5-.5 .1-5.1 0-5.2 0-5.1 .1-5.1 -.1-5.1 .1-5.1 .1-5.1 0-5.2 .1-5.1 0-5.1 0-5.1 0-5.1 0-5.1 -.1-5.1 -.1-5.2 0-5.1 0-5.1 -.1-5.1 .1-5.1 0-5.1 0-5.2 .1-5.1 0-5.1 0-5.1 -.1-5.1 0-5.1 0-5.1 0-5.2 -.1-5.1 0-5.1 -.1-5.1 0-5.1 .1-5.1 .1-5.2 0-5.1 .2-5.1 0-5.1 .1-5.1 0-4.6 1.9-.5 -1.9-1.1 0-4.1 0-5.1 -.1-5.1 0-5.1 0-5.1 -.1-5.1 -.1-5.1 -.1-5.2 .1-5.1 0-5.1 .1-5.1 0-5.1 0-5.1 0-5.2 0-5.1 .1-5.1 0-5.1 -.1-5.1 -.1-5.1 0-5.1 0-5.2 0-5.1 0-5.1 0-5.1 0-5.1 0-5.1 -.1-5.2 0-5.1 .1-5.1 0-5.1 -.1-5.1 -.1-5.1 0-5.2 0-5.1 0-5.1 0-5.1 0-5.1 .1-5.1 .1-5.1 0-5.2 0-5.1 .1-5.1 0-5.1 -.1-5.1 0-5.1 0-5.2 0-5.1 0-5.1 0-5.1 0-5.1 0-5.1 .1-5.1 0-5.2 0-5.1 0-5.1 0-5.1 0-5.1 0-5.1 0-5.2 0-5.1 0-5.1 0-5.1 0-5.1 0-5.1 0-5.2 0-5.1 0-5.1 0-5.1 -.1-5.1 .1-5.1 0-5.1 -.1-5.2 -.1-5.1 0-5.1 0-5.1 .1-5.1 0-5.1 .1-5.2 .1-5.1 0-5.1 -.1-5.1 0-5.1 0-5.1 .2-.2 5.2 0 5.1-.1 5.1 0 5.2 .1 5.1 0 5.1 0 5.2 0 5.1 0 5.2 0 5.1 0 5.1-.1 5.2 0 5.1 0 5.1 0 5.2 0 5.1-.1 5.1 0 5.2 0 5.1 .1 5.2 0 5.1 0 5.1 .1 5.2-.1 5.1 0 5.1 0 5.2 0 5.1 0 5.1 0 5.2-.1 5.1-.1 5.2 0 5.1-.1 5.1 0 5.2 0 5.1 0 5.1-.1 5.2 0 5.1 0 5.1 0 5.2 0 5.1 0 5.2 .1 5.1 .1 5.1 0 5.2 .1 5.1 0 5.1 0 5.2 0 5.1 0 5.1 0 5.2 .1 5.1 0 .3 .3 0 5.1 0 5.1 .1 5.1 .1 5.1 0 5.1 0 5.2 0 5.1 0 5.1 .1 5.1 0 5.1 0 5.1 -.1 5.2 .1 5.1 0 5.1 0 5.1 0 5.1 0 5.1 0 5.1 .1 5.2 0 5.1 0 5.1 -.1 5.1 0 5.1 -.1 5.1 0 5.2 -.1 5.1 0 5.1 0 5.1 0 5.1 .1 5.1 0 5.2 0 5.1 .1 5.1 0 5.1 -.1 5.1 0 5.1 0 5.1 0 5.2 0 5.1 .1 5.1 -.1 5.1 .1 5.1 0 5.1 0 5.2 0 5.1 -.1 5.1 0 5.1 0 5.1 0 5.1 0 5.1 .1 5.2 0 5.1 -.1 5.1 0 5.1 0 5.1 0 5.1 0 5.2 0 5.1 0 5.1 0 5.1 .1 5.1 .1 5.1 -.1 5.2 0 5.1 0 5.1 0 5.1 0 5.1 0 5.1 0 5.1 0 5.2 0 5.1 0 5.1 0 5.1 0 5.1 0 5.1 0 5.2 0 5.1 0 5.1 0 5.1 0 5.1 0 5.1 0 5.1 .1 5.2 0 5.1 .1 5.1 .1 5.1 0 5.1 0 5.1 0 5.2 0 5.1 -.1 5.1 0 5.1 0 5.1 -.1 5.1 -.1 5.2 0 5.1 0 5.1 -.1 5.1 0 5.1 .1 5.1 0 5.1 0 5.2 0 5.1 0 5.1 -.1 5.1 0 5.1 0 5.1 0 5.2 0 5.1 -.1 5.1 0 5.1 -.1 5.1 0 5.1 0 5.1 0 5.2 0 5.1 0 5.1 0 5.1 .1 5.1 0 5.1 0 5.2 .1 5.1zM80.5 755l-1-5.1 -.8-.7 -5.2 .3 -.3 .4 .2 5.1 .1 .2 5.2 .7z"/>
<path fill="#00ff00" d="M325.2 1359l-5.1 .1 -5.2 0 -5.1-.1 -5.1-.1 -5.2-.1 -5.1 0 -5.1 0 -5.2 .1 -5.1 .1 -5.1 .1 -5.2 0 -5.1-.1 -5.2-.1 -5.1 0 -5.1 0 -5.2 0 -5.1 .1 -5.1 0 -5.2 .1 -5.1 0 -5.1-.1 -5.2-.1 -5.1 0 -5.2-.1 -5.1-.1 -3.6 0 -1-5.1 -.5-2.5 -1.2-2.7 -4-2.7 -5.1 2.5 -.1 .2 .1 .2 3.2 5 1.8 5.1 -5 .1 -5.1 .1 -5.2 .1 -5.1-.1 -5.1 0 -5.2 0 -5.1 .1 -5.2 .1 -5.1 0 -5.1 0 -5.2 0 -5.1-.1 -5.1-.1 -5.2 0 -5.1 0 -5.1 .1 -5.2 0 -5.1 .1 -5.2 0 -5.1-.1 -5.1 .1 -5.2 0 -5.1 .1 -5.1-.1 -5.2 0 -.4-.4 0-5.1 .1-5.2 0-5.1 0-5.1 0-5.1 .1-5.1 0-5.1 .1-5.2 .1-5.1 0-5.1 0-5.1 0-5.1 0-5.1 -.1-5.1 -.1-5.2 0-5.1 0-5.1 -.1-5.1 .1-5.1 0-5.1 0-5.2 .1-5.1 0-5.1 0-5.1 -.1-5.1 0-5.1 0-5.1 0-5.2 -.1-5.1 0-5.1 -.1-5.1 0-5.1 0-5.1 .2-5.2 0-5.1 .2-5.1 0-5.1 0-2.4 5.2 .1 1.6 2.3 3.5 2.5 4.1 2.6 1 .6 .9-.6 2.6-5.1 .2-5.1 -2.4-5.1 -1.3-3.9 -.9-1.3 -4-5.1 4.2-5.1 .7-.8 1.7-4.3 -1.7-.8 -5.1 .5 -5.1 .1 -.5 .2 -4.7 3.6 0-3.6 -.1-5.1 0-5.1 -.1-5.1 -.1-5.2 0-5.1 .1-5.1 .1-5.1 0-5.1 0-5.1 0-5.2 0-5.1 .1-5.1 0-5.1 -.1-5.1 -.1-5.1 0-5.1 0-5.2 0-5.1 0-5.1 -.1-5.1 .1-5.1 0-5.1 -.1-5.2 0-5.1 .1-5.1 0-5.1 -.1-5.1 -.1-5.1 0-5.2 0-5.1 0-5.1 0-5.1 0-5.1 .1-5.1 .1-5.1 0-5.2 0-5.1 .1-5.1 -.1-5.1 0-5.1 0-5.1 0-5.2 0-5.1 0-5.1 0-5.1 0-5.1 0-5.1 .1-5.1 -.1-5.2 .1-5.1 0-5.1 -.1-5.1 .1-5.1 0-5.1 0-5.2 0-5.1 0-5.1 0-5.1 0-5.1 0-5.1 0-5.2 0-5.1 0-5.1 0-5.1 -.1-5.1 0-5.1 .1-5.1 -.1-5.2 -.1-5.1 0-5.1 0-5.1 .1-5.1 0-5.1 .1-5.2 .1-5.1 0-5.1 -.1-5.1 0-5.1 0-5.1 .1-.1 5.2 0 5.1-.1 5.1 0 5.2 .1 5.1 0 5.1 0 5.2 0 5.1 0 5.2 0 5.1 0 5.1-.1 5.2 0 5.1 0 5.1 0 5.2 0 5.1-.1 5.1 0 5.2 0 5.1 .1 5.2 0 5.1 0 5.1 .1 5.2-.1 5.1 0 5.1 0 5.2 0 5.1 0 5.1-.1 5.2 0 5.1-.1 5.2 0 5.1-.1 5.1 0 5.2 0 5.1 0 5.1-.1 5.2 0 5.1 0 5.1-.1 5.2 .1 5.1 0 5.2 .1 5.1 .1 5.1 0 5.2 .1 5.1 0 5.1 0 5.2 0 5.1 0 5.1 0 5.2 .1 5.1 0 .2 .2 0 5.1 0 5.1 .1 5.1 .1 5.1 0 5.1 0 5.2 0 5.1 0 5.1 .1 5.1 0 5.1 0 5.1 0 5.2 0 5.1 0 5.1 0 5.1 0 5.1 0 5.1 .1 5.1 0 5.2 0 5.1 0 5.1 -.1 5.1 0 5.1 -.1 5.1 0 5.2 -.1 5.1 0 5.1 0 5.1 0 5.1 .1 5.1 0 5.2 .1 5.1 0 5.1 0 5.1 0 5.1 -.1 5.1 0 5.1 0 5.2 .1 5.1 0 5.1 0 5.1 0 5.1 0 5.1 0 5.2 0 5.1 0 5.1 -.1 5.1 0 5.1 0 5.1 0 5.1 .1 5.2 0 5.1 -.1 5.1 0 5.1 0 5.1 0 5.1 0 5.2 0 5.1 0 5.1 .1 5.1 0 5.1 .1 5.1 -.1 5.2 0 5.1 0 5.1 0 5.1 0 5.1 0 5.1 0 5.1 0 5.2 0 5.1 0 5.1 0 5.1 0 5.1 0 5.1 0 5.2 0 5.1 0 5.1 0 5.1 0 5.1 0 5.1 0 5.1 .1 5.2 .1 5.1 0 5.1 .1 5.1 0 5.1 0 5.1 0 5.2 0 5.1 -.1 5.1 0 5.1 0 5.1 -.1 5.1 -.1 5.2 0 5.1 0 5.1 0 5.1 0 5.1 0 5.1 0 5.1 0 5.2 0 5.1 0 5.1 -.1 5.1 0 5.1 0 5.1 0 5.2 0 5.1 -.1 5.1 0 5.1 -.1 5.1 0 5.1 0 5.1 0 5.2 0 5.1 0 5.1 0 5.1 .1 5.1 0 5.1 0 5.2 .1 5.1zM93.7 765.3l.4-.1 .9-5.1 -.9-5 0-.1 0-.1 .6-5 -.6-.8 -5.2-3.1 -1-1.2 -4.1-3.7 -5.1 .7 -5.2 2.4 -.4 .6 -4.4 5.1 -.3 1.2 -1.6 3.9 1.6 2.8 1.5 2.3 3.6 2.8 5.2 1.6 5.1 .3 2.5 .5 2.6 1.4zM90.9 1200.1l-2-1.4 -1 1.4 1 3.6zM77.6 1307.5l-4.1-4.4 -3.6 4.4 3.6 2.5z"/>
<path fill="#19ff00" d="M63.3 747.4l-5.2 .1 0-2.7 0-5.1 0-5.1 5.2 0 5.1-.1 5.1 0 2.1 .1 -2.1 2 -2.6 3.1 -2.5 3.2 -2.7 1.9zM325.2 1358.9l-5.1 .1 -5.2 0 -5.1-.1 -5.1-.1 -5.2-.1 -5.1 0 -5.1 0 -5.2 .1 -5.1 .1 -5.1 .1 -5.2 0 -5.1-.1 -5.2-.1 -5.1 0 -5.1 0 -5.2 0 -5.1 .1 -5.1 0 -5.2 .1 -5.1 0 -5.1-.1 -5.2-.1 -5.1 0 -5.2-.1 -3.3 0 -.7-5.1 1.6-5.2 -2.7-4.8 -.3-.3 -4.8-3.3 -5.2-.6 -5.1 .4 -2.1 3.5 -.9 5.1 1.7 5.2 1.3 2.7 1.4 2.4 -1.4 0 -5.1 .1 -5.2 .1 -5.1-.1 -5.1 0 -5.2 0 -5.1 .1 -5.2 .1 -5.1 0 -5.1 0 -5.2 0 -5.1-.1 -5.1-.1 -5.2 0 -5.1 0 -5.1 .1 -5.2 0 -5.1 .1 -5.2 0 -5.1 0 -5.1 0 -5.2 0 -5.1 .1 -5.1-.1 -5.2 0 -.3-.3 0-5.1 .1-5.2 0-5.1 0-5.1 0-5.1 .1-5.1 0-5.1 .1-4.3 5.2 .9 5.1 1.2 5.1-3 .1 0 5.1 1.7 4.6 3.5 .5 .3 3.8-.3 1.3-1.8 .3-3.4 -.3-1 -.9-4.1 -3.5-5.1 -.7-.8 -2.6-4.3 -2.5-4.6 -.6-.5 -3.4-5.1 -1.2-2.5 -3.7 2.5 -1.4 1.2 -5.1 3.3 -.6-4.5 -4.6-2.8 0-2.3 -.1-5.2 0-5.1 0-5.1 -.1-5.1 .1-5.1 0-5.1 0-5.2 .1-5.1 0-5.1 0-5.1 -.1-5.1 0-5.1 0-5.1 0-5.2 -.1-5.1 0-5.1 -.1-5.1 0-5.1 0-5.1 .1-5.2 .1-5.1 .1-3.8 4.6-1.3 .6-.3 .4 .3 4.7 2.7 4.5 2.4 .6 .4 5.2 2 1.5-2.4 .8-5.1 .9-5.1 1.1-5.1 .8-2.5 4.1-2.6 1-1.3 5.2-.6 5.1 .1 1.4-3.4 -.9-5.1 2.1-5.1 2-5.1 .6-1 1.9-4.1 2.1-5.1 -4-2.6 -2.9-2.5 -2.3-2.2 -5.1-.8 -5.2-.2 -5.1-.4 -4.8 3.6 -.3 4 -.2 1.1 -5 3.3 -5.1-.4 -5.1-.2 -5.2 1.1 0-3.8 -.1-5.1 -.1-5.2 0-5.1 .1-5.1 .1-5.1 0-5.1 0-5.1 0-5.2 0-4.8 .2-.3 2.6-5.1 .2-5.1 -3-2.4 0-2.7 -.1-5.1 0-5.1 0-5.2 0-5.1 0-5.1 -.1-5.1 .1-5.1 0-5.1 -.1-5.2 0-5.1 .1-5.1 0-5.1 -.1-5.1 -.1-5.1 0-5.2 0-5.1 0-5.1 -.1-5.1 .1-5.1 .1-5.1 .1-5.1 0-5.2 0-5.1 .1-5.1 -.1-5.1 0-5.1 0-5.1 0-5.2 0-5.1 0-5.1 0-5.1 0-5.1 0-5.1 .1-5.1 -.1-5.2 .1-5.1 0-5.1 -.1-5.1 .1-5.1 0-5.1 0-5.2 0-5.1 0-5.1 0-5.1 0-5.1 0-5.1 0-5.2 0-5.1 0-1.7 5.2-2.4 1.7-1 -1.7-1 -5.2 .3 0-4.4 -.1-5.1 0-5.1 .1-5.1 -.1-5.2 -.1-5.1 0-5.1 0-5.1 .1-5.1 0-5.1 .1-5.2 0-.1 .9 .1 4.3 .8 3.3 4.4 1.8 2 5.1 2.7 2 .4 3.2 .9 1.8 4.2 2.6 5.1 -2.1 5.1 -1.6 5.1 .6 5.2 3.8 4.2 2.1 .9 3 1.2 1.9-1.2 3.3-4 1-1.1 1.7-5.2 -1.7-5.1 -.7-5.1 1.4-5.1 2.7-5.1 .7-1.6 1.3-3.5 .3-5.2 .6-5.1 .4-5.1 2.6-2.7 5.1-1.5 .9-.9 .4-5.1 -1.3-5.1 5.1-.1 5.2 0 5.1 0 5.1 0 5.2 0 5.1-.1 5.1 0 5.2 0 5.1 .1 5.2 0 5.1 0 5.1 .1 5.2-.1 5.1 0 5.1 0 5.2 0 5.1 0 5.1-.1 5.2 0 5.1-.1 5.2 0 5.1-.1 5.1 0 5.2 0 5.1 0 5.1-.1 5.2 0 5.1 0 5.1-.1 5.2 .1 5.1 0 5.2 .1 5.1 .1 5.1 0 5.2 .1 5.1 0 5.1 0 5.2 0 5.1-.1 5.1 .1 5.2 .1 5.1 0 .1 .1 0 5.1 0 5.1 .1 5.1 .1 5.1 0 5.1 0 5.2 0 5.1 .1 5.1 0 5.1 0 5.1 0 5.1 0 5.2 0 5.1 0 5.1 0 5.1 0 5.1 0 5.1 .1 5.1 0 5.2 0 5.1 0 5.1 -.1 5.1 0 5.1 -.1 5.1 0 5.2 0 5.1 -.1 5.1 0 5.1 0 5.1 .1 5.1 0 5.2 .1 5.1 0 5.1 0 5.1 0 5.1 -.1 5.1 0 5.1 0 5.2 .1 5.1 0 5.1 0 5.1 0 5.1 0 5.1 0 5.2 0 5.1 0 5.1 -.1 5.1 .1 5.1 -.1 5.1 0 5.1 .1 5.2 0 5.1 -.1 5.1 0 5.1 0 5.1 0 5.1 0 5.2 .1 5.1 -.1 5.1 .1 5.1 0 5.1 .1 5.1 -.1 5.2 0 5.1 0 5.1 0 5.1 0 5.1 0 5.1 0 5.1 0 5.2 0 5.1 0 5.1 0 5.1 0 5.1 0 5.1 0 5.2 .1 5.1 0 5.1 -.1 5.1 0 5.1 0 5.1 .1 5.1 0 5.2 .1 5.1 0 5.1 .1 5.1 0 5.1 0 5.1 0 5.2 0 5.1 -.1 5.1 0 5.1 0 5.1 -.1 5.1 -.1 5.2 0 5.1 0 5.1 0 5.1 0 5.1 0 5.1 0 5.1 0 5.2 0 5.1 0 5.1 -.1 5.1 0 5.1 0 5.1 0 5.2 0 5.1 0 5.1 -.1 5.1 -.1 5.1 0 5.1 0 5.1 0 5.2 0 5.1 0 5.1 0 5.1 .1 5.1 0 5.1 0 5.2 .1 5.1zM63.7 862.5l.4-5.2 .7-5.1 3.6-.9 3.3-4.2 -1.6-5.1 -1.7-1 -5.1 .5 -.2 .5 -.7 5.1 .7 5.1 -.7 5.1 -.4 5.2 1.3 .4zM73.6 867.6l-.1 0 0 .3zM83.8 1151.2l-2.8-2.3 2.8-2.5 1.7 2.5zM111.7 1174.5l.7-5.1 2.2-3.7 2.3-1.4 2.9-2.1 1.6-3 -1.6-1.8 -4.3 1.8 -.9 1.3 -5.1 2.6 -5.1-2.4 -3.4 3.6 2.3 5.1 -.1 5.1 1.2 .5 5.1 1.7zM114.6 1220.6l3.1-5.2 -.7-5.1 -1-5.1 -1.4-2 -2.1-3.1 -1.9-5.1 -1.1-3.1 -1.9-2 -3.2-3 -2.6 3 -2.1 5.1 -.5 1 -1.7-1 -3.4-.9 -5.2-2.9 -5.1-.6 -.4 4.4 -.7 5.1 1.1 4 .4 1.1 4.7 4.8 .4 .3 4.8 3.6 3.5 1.5 1.6 1.7 2.7-1.7 2.5-1.4 3 1.4 2.1 1.4 5.1 3.8zM79.2 1246.1l-.5-.4 -.3 .4 .3 1.1zM68.8 1281.9l-.4-.4 -.9 .4 .9 1.6z"/>
<path fill="#33ff00" d="M325.2 1358.8l-5.1 .1 -5.2 0 -5.1-.1 -5.1-.1 -3.1 0 -2.1-1.9 -5.1-2 -5.1-.8 -5.2 3.8 -.2 .9 -4.9 .1 -5.1 .1 -5.2 0 -5.1-.1 -5.2-.1 -5.1 0 -5.1 .1 -5.2-.1 -5.1 .1 -5.1 0 -5.2 .1 -5.1 0 -5.1-.1 -5.2-.1 -4.6 0 -.5-.9 -3.3-4.2 .8-5.2 .5-5.1 -.5-5.1 -2.2-5.1 -.5-.9 -2.6-4.2 -2.5-5.1 0-.1 -4.7-5.1 4.7-4.8 5.1 3.8 .5 1 4.7 3.4 1.2 1.8 3.9 3.6 2.7 1.5 2.5 2 3.3-2 1.8-2.3 5.1 1.5 .9 .8 4.3 1.6 5.1 .7 5.1-.8 .4-1.5 -.4-1 -1.2-4.1 -2.8-5.2 -1.1-.9 -5.1-2.9 -5.2-.9 -5.1 4.2 -5.1-2.7 -1.2-1.9 -3.9-5.1 -.1-.1 -5.1-2.3 -4.7-2.7 -.5-.3 -.3 .3 -1.2 5.1 -3.6 4.9 -4.8-4.9 -.3-.4 -1.2 .4 1.2 2.4 3.1 2.7 -3.1 2.7 -.4 2.4 .4 .4 5.1 4.8 -5.1 2.7 -5.2-1.1 -5.1 3.2 -.2 .3 -1 5.1 -3.9 4.8 -.1 .3 -.8 5.1 .1 5.1 .8 2.7 .8 2.5 1.9 5.1 -2.7 0 -5.2 .1 -5.1-.1 -5.1 0 -5.2 0 -5.1 .1 -5.2 .1 -5.1 0 -5.1 0 -5.2 0 -5.1-.1 -5.1-.1 -5.2 0 -5.1 0 -5.1 .1 -5.2 .1 -5.1 0 -5.2 0 -5.1 0 -5.1 0 -5.2 0 -5.1 .1 -5.1-.1 -5.2 0 -.2-.2 0-5.1 .1-5.2 0-5.1 0-5.1 0-5.1 .1-5.1 0-3.9 5.2 1.4 5.1 1.5 5.1-1.6 5.2 .6 3.9 2 1.2 .7 3.5 4.4 1.6 1.4 5.2 2.6 3.4-4 .3-5.1 -.7-5.1 .6-5.2 -3.6-2.5 -1.4-2.6 -3.8-4.9 -.1-.2 -4.3-5.1 -.7-.9 -2.2-4.2 -2.9-5 -.1-.1 -2.6-5.1 -1.6-5.2 -.9-1.8 -2.6-3.3 -2.5-3.4 -3-1.7 -2.1-.8 -.9 .8 -2.1 5.1 -.9 5.1 -1.3 1.4 0-1.4 0-5.1 0-5.1 -.1-5.1 .1-5.1 0-5.1 0-5.2 0-.9 2.3-4.2 .8-5.1 2.1-4.7 5.1 4.7 3.9 5.1 1.2 3 .9 2.1 3.6 5.2 .7 .8 3.8 4.3 1.3 1.3 5.1 3.5 4.3-4.8 .1-5.1 .8-4.6 0-.6 0-.1 -5.1-5 -.1 0 -5-5.1 -.1-.1 -5.1-3 -1.8-2 -1.2-5.1 -2.2-4.5 -.3-.6 .3-2.2 .3-2.9 -.3-.7 -5.1-2.5 -5.1 .1 -2.1 3.1 -.8 5.1 -2.3 3.2 0-3.2 0-5.1 0-5.2 -.1-5.1 0-5.1 -.1-5.1 0-5.1 0-5.1 .1-5.2 .1-5.1 0-.3 2.5 .3 2.7 1 5.1 1.8 3.5 2.3 1.6 1.2 3.7 4 1.3 5.1 .2 4.6 0 .5 .7 5.1 4.4 5 .1 .1 5 1.9 3.7 3.2 -.2 5.2 -.8 5.1 2.5 1 5.1 3.7 4.5 .4 -2.1 5.1 -.1 5.1 2.9 4 1.3 1.1 1.8 5.1 2 1.9 2.3 3.3 2.8 3.4 4.5 1.7 .7 .3 5.1 3.5 .2 1.3 -.2 .8 -.8 4.3 .5 5.1 .3 .3 5.1 3.3 5.2 1.4 5.1-3.6 1.1-1.4 1.9-5.1 2.1-3.5 1.6 3.5 .7 5.1 2.9 5.1 .8 0 4.3 .1 .1-.1 1.7-5.1 -.9-5.1 -.9-1.1 -5.1-3.2 -2.5-.8 -2.7-1.7 -3.7-3.4 -1.4-.6 -5.1-4.4 -5.2 .3 -3.1-.4 .6-5.2 -2.6-3.5 -5.1 .1 -3.3-1.7 -1.9-1.7 -4.1-3.4 2-5.1 2.1-2.8 5.2 .4 3.3-2.7 -1.2-5.1 .4-5.1 .7-5.2 .8-5.1 -1.1-5.1 -2.9-1.8 -2-3.3 -3.2-5.1 -.5-5.1 -2.7-5.2 3.2-2.9 1.6-2.2 1.8-5.1 1.8-2.2 5.1-2.5 1.3-.4 3.8-2.4 2.3-2.7 -2.3-2.9 -1.1-2.2 -4-5 -.1-.2 -5-3.2 -5.2-1.5 -5.1 3.3 -2.9-3.7 1.7-5.1 1.2-2.6 1.1-2.5 1.6-5.1 2-5.1 -3.5-5.1 -1.2-1.5 -3-3.7 -2.1-1.6 -5-3.5 -.2-.1 -5.1-.8 -1.7 .9 -3.5 1.3 -5.1-.6 -.9-.7 -4.2-3.9 -2.1-1.2 -2.7-5.1 -.4-2.5 -.7-2.6 -4.3-5.1 .8-5.2 -.9-1.1 -1.5-4 .9-5.1 .6-3.2 .2-1.9 1.5-5.1 3.4-2.8 3.3-2.3 1.9-3.3 .6-1.8 .7-5.2 -.5-5.1 -.8-2 -2.8-3.1 -2.4-1.7 -2.5 1.7 -2.4 5.1 .9 5.1 .8 5.2 -.1 5.1 -1.8 2.5 -5.1-1.8 -2.9-.7 -2.3-1.4 0-3.7 0-5.2 0-5.1 0-5.1 -.1-5.1 .1-5.1 0-5.1 -.1-5.2 0-5.1 0-5.1 .1-5.1 -.1-5.1 -.1-5.1 0-5.2 -.1-5.1 .1-5.1 -.1-5.1 .1-5.1 .1-5.1 .1-5.1 0-5.2 0-3 5.2-1 3.2-1.1 -2.6-5.1 4.5-.4 .6 .4 4.5 1.3 1.4-1.3 3.2-5.1 .6-.7 1.6-4.4 2.3-5.1 1.2-1.2 5.1-2.7 1.9-1.3 .4-5.1 -1.4-5.1 -.9-1.8 -5.1-.3 -5.1 .2 -2.9-3.2 -1-5.1 -1.3-2.2 -4.2 2.2 -.9 1.5 -1.1 3.6 .9 5.1 -1.5 5.1 -1.3 5.1 -1.3 5.2 -.8 1.6 -4.7 3.5 -.5 .6 0-.6 0-5.1 0-5.2 0-5.1 0-5.1 0-5.1 0-5.1 0-5.1 0-2.1 2.5 2.1 2.7 3.8 3.6-3.8 1.5-2.5 2.3-2.6 2.8-1.5 2.5-3.7 2.7-2.7 5.1-1.6 .7-.8 3.5-5.1 -2.5-5.1 -1.7-1.5 -2.6-3.6 -2.5-3.6 -2-1.5 -1-5.2 3-2.7 4.4 2.7 .7 .5 .5-.5 1.3-5.1 .4-5.1 .4-5.1 -2.6-4.3 -.6-.8 -4.5-1.8 -3.3-3.3 -1.9-4.4 -2-.8 2-.5 2.5-4.6 1.2-5.1 1.5-2.3 5.1-2.5 .4-.3 4.7-1.9 4.1-3.2 1.1-.8 3.3 .8 1.8 .8 5.2 3.5 1 .8 2.8 5.1 1.3 1.1 4.8 4 .3 1.2 1.7-1.2 3.5-.4 5.1-3.4 2.8-1.3 2.3-1 5.2 .2 3.2-4.3 -1-5.1 .7-5.1 -2.9-1.1 -5.2-3.2 -1.7-.8 -3.4-3 -1.5-2.2 -3.6-1.7 -5.2-1 -5.1-1.7 -5.1 1.8 -.9-2.5 -2.1-5.1 .9-5.1 1.4-5.1 .7-1.7 2.8-3.4 0-5.2 2.3-2.9 2.4-2.2 2.7-1 4.9-4.1 .3-1 2.2-4.1 2.9-4.6 .2-.5 3.6-5.1 1.3 0 5.2-.1 5.1 0 5.1 0 5.2 0 5 .1 .1 2 .6 3.1 -.6 .3 -3.9 4.8 1.2 5.1 -1.4 5.1 -1 .7 -.6-.7 -4.6-3.9 -.7-1.2 -1.9-5.1 -2.5-1.2 -5.1-.4 -1.1 1.6 1.1 3 .6 2.1 4.5 3.8 2.1 1.3 3 2.5 2.8 2.6 -2.8 3.5 -.5 1.7 .5 2 3.9 3.1 1.3 .8 5.1 4.1 .1 .2 .9 5.1 -1 1.2 -4.7 3.9 2.4 5.1 2.3 2.1 3.1 3.1 2.1 2.1 4.1-2.1 1-.6 4.2-4.6 .9-2.5 .6-2.6 -.4-5.1 5-3.8 5.1-1.1 1.2-.2 3.9-1.4 5.2 1.1 5.1-3.4 1.7-1.4 -.1-5.1 -1.6-4.9 -.1-.3 -4.7-5.1 -.3-.3 -5.2-3.8 -5.1-1 -.1 0 -.6-5.1 .7-3.9 .4-1.2 4.7-4 5.2 1.3 5.1 2.4 2-4.8 3.1-.1 5.2 0 5.1-.1 5.2-.1 5.1 0 5.1 0 5.2 0 5.1 0 5.1-.1 5.2 0 5.1-.1 5.1 0 5.2 .1 5.1 0 5.2 .1 5.1 0 5.1 .1 5.2 .1 5.1 0 5.1 0 5.2 0 5.1-.1 5.1 .1 5.2 .1 2.2 0 .3 5.1 2.6 3.2 0 1.9 .1 5.1 .1 5.1 0 5.1 0 5.2 .1 5.1 0 5.1 0 5.1 0 5.1 0 5.1 0 5.2 0 5.1 0 5.1 0 5.1 0 5.1 0 5.1 .1 5.1 0 5.2 .1 5.1 -.1 5.1 -.1 5.1 0 5.1 0 5.1 -.1 5.2 0 5.1 -.1 5.1 0 5.1 0 5.1 .1 5.1 0 5.2 .1 5.1 0 5.1 0 5.1 0 5.1 -.1 5.1 0 5.1 0 5.2 .1 5.1 0 5.1 0 5.1 0 5.1 0 5.1 0 5.2 0 5.1 0 5.1 -.1 5.1 .1 5.1 -.1 5.1 .1 5.1 0 5.2 0 5.1 -.1 5.1 0 5.1 0 5.1 0 5.1 0 5.2 .1 5.1 -.1 5.1 .1 5.1 .1 5.1 0 5.1 -.1 5.2 0 5.1 0 5.1 0 5.1 0 5.1 0 5.1 0 5.1 0 5.2 0 5.1 0 5.1 0 5.1 0 5.1 0 5.1 .1 5.2 0 5.1 0 5.1 -.1 5.1 0 5.1 .1 5.1 0 5.1 0 5.2 .1 5.1 .1 5.1 0 5.1 0 5.1 0 5.1 0 5.2 0 5.1 0 5.1 -.1 5.1 0 5.1 -.1 5.1 0 5.2 -.1 5.1 0 5.1 0 5.1 0 5.1 0 5.1 0 5.1 0 5.2 0 5.1 0 5.1 -.1 5.1 0 5.1 0 5.1 0 5.2 0 5.1 0 5.1 -.1 5.1 -.1 4.8 -2.1 .3 -1.8 5.1 .2 5.1 -1.3 5.2 -.1 .1 -.2-.1 -4.7-5.2 -.3-.2 -5.1-2.1 -1.6 2.3 1.6 4 .9 1.2 1.4 5.1 -2.3 1.6 -5.1 2.2 -5.2-.3 -3-3.5 -2.1-4.3 -.7-.8 -2.3-5.2 -2.1-3 -1.8-2.1 -3.4-2.7 -5.1 2.7 0 .1 -4.6 5 -.5 .6 -2.3 4.6 -2.9 4.6 -.2 .5 -.3 5.1 .5 1.4 4.2 3.7 1 .5 5.1 1.8 1.6-2.3 1.3-5.1 2.2-4.7 5.2 0 5.1 .4 4.6 4.3 .5 .5 5.2 2.5 5.1 1.5 5.1-1.1 5.2 .9 .9 .8 4.2 .9 .1 4.2 0 5.1 .1 5.2 0 5.1zM300.4 749.9l-.9-1.2 -5.1 .1 -.3 1.1 .3 .2 5.1 .1zM58.1 792l0-1.2 -.1-5.1 0-5.1 0-5.1 .1-5.1 0-4.7 5.2 1.9 2.4 2.8 2.7 3.5 1.5 1.6 -.1 5.1 -1.4 2 -1.5 3.1 -3.6 3.1 -3.5 2zM181.6 801.1l-.2-.3 -4.9-4.8 -.2-.5 -3.1 .5 3.1 2.3 2.9 2.8 2.2 1.8zM73.5 804l-4.6-2.9 4.6-3.4 1.2 3.4zM114.6 819.8l-1.9-3.4 1.9-1 .5 1zM121.6 831.8l-1.8-2.9 -1.8 2.9 1.8 1.4zM73.5 915l-4.6-1.4 4.6-1.8 2.2 1.8zM115.2 1067.1l-.2-5.1 .4-5.1 .7-5.2 1.3-5.1 -2.8-5 -.5-.1 -4.6-.6 -.4 .6 -1.4 5.1 1.4 5.1 .4 2.6 1.9 2.6 1.9 5.1 .6 5.1 .7 .9zM73.5 1124.9l-5.1 1.1 -5.1-.2 -5.2 1 0-3.4 -.1-5.2 0-5.1 .1-5.1 0-2.6 3.4-2.5 1.8-2.8 1.9 2.8 3.2 2.3 2.9 2.8 2.1 5.1 .1 .3 1.9 4.8 -1.1 5.2zM88.9 1181.2l-1-1.6 1-1.6 3.3 1.6zM145.6 1220.6l5-4.8 5.1 2.9 5.2 1.6 5.1-3.4 2.2-1.5 -2.2-5.1 -2.8-5.1 -2.3-3.5 -1.4-1.6 -3.8-3.2 -1.7-1.9 -3.4-2.7 -3.8 2.7 -.2 5.1 2.2 5.1 1.8 2.9 1.3 2.2 -1.3 4.4 -.9 .7 -4.3 4.8 -.1 .4 .1 .2zM131.6 1210.3l-1.6-1 -2 1 2 .7zM109.5 1233l-4.9-2.2 4.9-2.2 3 2.2zM174.2 1266.6l-2.2-5.1 -.9-1.1 -5.1 .1 -.5 1 .4 5.1 .1 .1 5.1 3.5zM192.4 1281.9l-.7-.8 -1.3 .8 1.3 2.7zM196.4 1297.3l.4-1.2 .5-3.9 -.5-1.3 -5.1-1 -5.2 .9 -.5 1.4 -1.1 5.1 1.6 3.3 5.2-1.4z"/>
<path fill="#4dff00" d="M263.6 1334l-5.2 2.1 -5.1-1.4 -.9-1.6 .9-3.8 1.1-1.3 -1.1-2.1 -1.4-3 -.7-5.2 -3-3 -5.2-.9 -1.3-1.2 -3.8-4.2 -1.6-.9 -3.5-1.3 -5.2-1 -5.1 .6 -5.1-1.9 -.9-1.5 -3.3-5.1 -.3-5.1 -.7-.8 -2.2 .8 -2.9 1.2 -.9-1.2 -2.1-5.1 -2.2-4.1 -.8-1.1 -4.3-4.6 -.5-.5 -2.3-5.1 -2.3-1.9 -3.8-3.2 -1.4-1.2 -5.1-2 -3.2-1.9 -1.9-1.5 -2.8-3.6 -2.4-3.2 -5.1-.7 -5.1 2.1 -4.1 1.8 -1.1 .7 -5.1 .9 -5.2-.8 -1.2-.8 -3.9-2.5 -2.8-2.7 -2.3-3.7 -1.5-1.4 -3.7-3.6 -1.1-1.5 -.2-5.1 -.3-5.1 -.5-5.1 1.8-5.1 .3-.5 1.2 .5 4 4 .4 1.1 4.7 3.4 5.1 1.3 1.7 .4 3.5 .9 1.3-.9 3.6-5.1 .2-.1 5.2-.4 5.1-1 3.2-3.6 1.9-1.5 2.9-3.7 .5-5.1 -3.4-4.8 -.2-.3 -4.9-3.1 -1.5-2 -3.6-3.5 -1.8-1.6 -3.4-2.8 -2.9-2.3 -2.2-1.9 -4.7-3.3 -.5-.6 -1.9 .6 -3.2 2.7 -3-2.7 -1.7-5.1 4.7-3.2 .6-1.9 .7-5.1 -.4-5.1 -.8-5.1 -.1-.6 -3.2-4.6 -1.9-1.6 -3.5-3.5 -1.7-.9 -5.1-2.5 -3.8-1.7 -1.3-.9 -2.8-4.2 .1-5.1 1.6-5.1 .6-5.1 -.1-5.2 .3-5.1 .3-.2 5.1-2 .5-2.9 -.5-1.4 -2.9-3.7 -2.2-3.1 -2.5 3.1 -2.7 5.1 -.1 0 -5 2.1 -5.1-1.2 -5.2-.7 -.6-.2 -4.5-.9 -5.2-.9 -2.9-3.3 -2-5.1 -.2-.5 -3.8-4.6 -1.3-2.8 -1.2-2.4 -1.7-5.1 -1.8-5.1 -.4-5.1 5.1-2.8 5.1-2.3 0-.3 -.5-4.8 .5-1.2 1.7-3.9 .5-5.2 -2-5.1 -.2-.5 -1.5-4.6 -3.1-5.1 -.5-.6 -5.2-3.2 -5.1 .8 -2.8-2.1 -1.5-5.1 -.8-1.2 -5.2-1.2 0-2.8 0-5.1 0-3.3 4 3.3 1.2 .8 5.1 2.5 3.9 1.8 1.2 2.5 .6-2.5 .4-5.1 -1-4.1 -.2-1 -.4-5.1 -4.5-3.9 -5.1 .3 -5.2 1.8 0-3.3 -.1-5.1 0-5.2 -.1-5.1 0-5.1 0-5.1 .1-5.1 .1-5.1 0-2 5.2-.5 4.5-2.6 .6-.7 5.1-.6 2-3.9 3.2-3 1.3-2.1 1.7-5.1 2.1-4.2 .5-.9 3.4-5.1 1.2-1.3 4.2-3.8 1-.7 2.8-4.5 2.3-3.7 4.3-1.4 .9-2.8 .2-2.3 -.2-.6 -4-4.5 4-2.7 2.9-2.4 2.2-3.4 4.9-1.7 -2-5.1 -2.9-5 -5.1 2.4 -5.2 2.2 -1.4 .4 -3.5 5.1 -.2 .1 -5.2 .3 -5.1-.3 -.1-.1 .1-1.2 .6-3.9 4.5-4 1.5-1.2 3.2-5.1 .5-.8 5.1-.5 5.2 1.2 .8 .1 4.3 4 5.1-3.7 .2-.3 -.2-5.1 2.1-5.1 -1.7-5.1 -.4-3 -1.3-2.1 0-5.2 -3.8-2.6 -5.1 1 -5.2 0 -4.7 1.6 -.4 .5 -.3-.5 -1.3-5.1 .6-5.1 1-.9 5.1-.9 3.2-3.3 2-.8 3.4-4.3 1.7-2.1 3.3 2.1 1.8 2.3 2 2.8 2 5.1 1.2 1.2 1.2-1.2 3.9-2.3 4.1-2.8 1-2.3 1.8-2.8 1.9-5.1 1.5-1.4 5.1 1.3 4.6-5.1 .5-.9 1.5-4.2 3.7-2.8 4.8 2.8 .3 .3 1.1-.3 4.1-1.1 3.6-4 -.4-5.1 -1.7-5.1 3.6-2 3 2 2.1 1.8 4.1 3.3 1.1 .6 1.6-.6 3.5-.9 5.1-.4 1.9-3.8 -1.9-2.9 -.9-2.2 -4.2-4.3 -.9-.8 -3.5-5.2 .2-5.1 4.2-4.6 .7-.5 4.4-2.5 5.2-1.2 5.1-.5 5.1 .2 5.2-.2 4.8-.9 .3-2.6 .1-2.5 -.1-.1 -5.1-4.2 -.7-.8 -1.6-5.2 -2.9-4.5 -.4-.6 -.5-5.1 .9-.5 5.2-2.2 3.8 2.7 1.3 .4 .1-.4 -.1-.2 -4.6-4.9 -.5-5.1 2.2-5.1 2.9-.1 5.2-.1 5.1 0 5.1 0 5.2 0 5.1-.1 5.1 0 5.2 0 5.1-.1 5.1 0 5.2 .1 5.1 0 5.2 .1 5.1 0 5.1 .1 5.2 .1 5.1 0 5.1-.1 5.2 .1 5.1-.1 5.1 .1 -5.1 3.1 -5.1-1.8 -5.2 .4 -5.1-.6 -2.9 4 -2.2 2.2 -3.1 2.9 -2.1 2.7 -.9 2.4 -2 5.1 -1.6 5.1 4.5 4.2 5.2-2 2-2.2 3.1-3.3 4.2-1.8 .9-.1 5.2-1.6 5.1-1.7 5.1 .3 5.2-.5 5-1.5 .1 0 .1 5.1 0 5.1 .1 5.2 0 5.1 0 5.1 0 5.1 0 5.1 0 5.1 0 5.2 0 5.1 0 5.1 0 5.1 0 5.1 0 5.1 .1 5.1 0 5.2 .1 5.1 -.1 5.1 -.1 5.1 0 5.1 0 5.1 -.1 5.2 0 5.1 -.1 5.1 0 5.1 0 5.1 .1 5.1 .1 5.2 0 5.1 0 5.1 0 5.1 0 5.1 0 5.1 0 5.1 -.1 5.2 .1 5.1 0 5.1 0 5.1 0 5.1 0 5.1 0 5.2 0 5.1 0 5.1 0 5.1 0 5.1 0 5.1 0 5.1 0 5.2 0 5.1 -.1 5.1 0 5.1 0 5.1 0 5.1 0 5.2 .1 5.1 -.1 5.1 .1 5.1 .1 5.1 0 5.1 0 5.2 -.1 5.1 0 5.1 0 5.1 .1 5.1 0 5.1 -.1 5.1 0 5.2 0 5.1 .1 5.1 -.1 5.1 0 5.1 0 5.1 .1 5.2 0 5.1 0 5.1 -.1 5.1 0 5.1 .1 5.1 0 5.1 0 5.2 .1 5.1 .1 5.1 0 5.1 0 5.1 0 5.1 0 5.2 0 5.1 0 5.1 0 5.1 -.1 5.1 -.1 5.1 0 5.2 -.1 5.1 0 5.1 0 5.1 0 5.1 0 5.1 0 5.1 0 5.2 0 5.1 0 5.1 0 5.1 -.1 5.1 0 5.1 0 5.2 0 5.1 0 5.1 -.1 4.8 -5.1-2.5 -3.5-2.3 -1.7-1.4 -5.1 .7 -5.1-.2 -1.7 .9 -3.5 3.9 -.5 1.2 -4.6 4.2 -5.1-.9 -5.2-2.2 -5.1 2.2 -1.8 1.8 -3.3 3.3 -2.4 1.8 -2.8 1.8 -4.6-1.8 -.5-.3 -5.2-1.2 -2.6 1.5 -.2 5.1 2.8 2.2 3 3 -.7 5.1 2.9 4.5 .1 .6zM135.2 791.6l-1.7-.8 -3.5-1 -4.4-4.1 -.7-.8 -5.1-3.5 -.9-.8 .9-1.4 2.8-3.7 2.3-3.6 1.6-1.5 -1.4-5.1 -.2-.8 -.8-4.4 .8-1.9 5.1-.2 5.2-.5 3.9 2.6 .2 5.2 -4.1 3.7 -1.3 1.4 1.3 4.7 .1 .4 1.7 5.1 2.3 5.1 -3.5 5.1zM203.8 862.5l-1.9-1.3 -5.1 .8 -.1 .5 .1 .3 5.1 2.1zM320.1 877.8l2-5.1 -2-1.3 -4.1-3.8 -1.1-.6 -5.1-.1 -5.1 .1 -1.3 .6 -3.9 2.7 -1.8 2.4 1.8 2.6 2.4 2.5 2.8 1.7 5.1 .1 5.1-.8 5.2-1zM187.9 877.8l-1.4-2.3 -2.5-2.8 -2.6-1.1 -5.1-.9 -3.5 2 -1.7 2.2 -2.6 2.9 2.6 4 5.2-.5 5.1-1.6 5.1-1.1zM279.9 877.8l-.9-1.6 -5.1 1.3 -.8 .3 .8 1.2 5.1 1.5zM176.8 898.3l1.8-5.1 -2.1-5.2 -.2-.6 -1.5 .6 -3.7 1.2 -1.2 4 1.2 2.9 3.7 2.2 1.5 .5zM274 908.5l-.1-1.1 -.9-4 .9-2.8 .6-2.3 .8-5.1 -1.1-5.2 -.3-.9 -5.2-1.3 -1.6 2.2 -3.5 3 -1.8 2.2 -1.7 5.1 0 5.1 3.5 2.6 5.1 1.3 4.3 1.2 .9 .1zM89.1 975l-.2-4 0 4 0 .2zM153.1 1005.7l1.6-5.1 1-2 1.1-3.1 -1.1-1.3 -5.1-2 -2.8 3.3 -.4 5.1 1.4 5.1 1.8 2.4zM138.4 1021l-3.2-.4 -4.5-4.7 -.7-.1 -.2 .1 -3.4 5.1 3.6 3.4 5.2-3.2zM121.9 1072.2l-.3-5.1 -1.8-3.2 -.3-1.9 .3-2.6 1.7-2.5 3.4-1.3 1.3 1.3 1.9 5.1 1.9 1.9 3.3 3.2 1.9 1.5 1.5-1.5 -1.1-5.1 -.4-.7 -2.2-4.4 2.2-4 1-1.2 2.1-5.1 2-2.4 2.1-2.7 -2.1-4.5 -5.1-.1 -5.2 2.7 -5.1 .6 -5.1-.4 -5.2-2.3 -3-1.1 -2.1-1.1 -.9 1.1 -3 5.1 -1.1 5.1 1 5.1 .7 5.2 -.7 5.1 .9 5.1 3.1 2.3 1.9 2.8 3.2 3.6 5.2 .6zM195.1 1067.1l-.3-5.1 .3-5.1 1-5.2 -1.7-5.1 -2.7-1.3 -5.2-.2 -3.1 1.5 -2 1.6 -2.3-1.6 -2.8-1.2 -.6 1.2 .6 3.6 1 1.5 3.6 5.2 .5 .9 1.1 4.2 -1.1 3.7 -.3 1.4 .3 .6 1.9-.6 3.2-.8 1.5 .8 3.7 1.9zM124.9 1185.2l-1-.5 1-4 1.1 4zM58.1 1212l0-1.7 0-5.1 -.1-5.1 0-5.1 0-5.1 .1-4.8 5.2 2.1 5.1 .9 2.5 1.8 2.6 3.2 .8 1.9 -.7 5.1 -.1 .1 -2.3 5 -2.8 1.1 -5.1 1.8 -3.1 2.2zM88.9 1220.6l-5.1 3.6 -5.1-2.5 -1.1-1.1 -2.4-5.2 3.5-3 5.1-.2 5.1 2.1 1.4 1.1 -1.3 5.2zM88.9 1236.1l-.1-.2 .1-.3 1.4 .3zM94.1 1241.2l-.3-.2 .3-2.2 .1 2.2zM68.4 1252.4l-.3-1.2 .3-.1 .1 .1zM171.1 1358.7l-1.6 0 -3.5-2.2 -2.8-2.9 -2.3-2.6 -3.4-2.6 -1.8-1 -5.1-2.3 -2.3-1.8 -2.9-3.2 -1.3-1.9 -2.5-5.1 -.3-5.1 -1-1.8 -3.4 1.8 .7 5.1 -.9 5.1 2.9 5.1 .7 .9 2.5 4.2 2.6 3.2 2.5 2 2.7 3.5 1 1.6 -1 0 -5.2 .1 -5.1 0 -5.1 0 -5.2 0 -5.1-.1 -2.8 0 .5-5.1 -2.6-5.2 -.2-.1 -3.7-5 -1.5-2.5 -2.3-2.6 .1-5.1 -2.9-2.1 -3.5-3 .6-5.1 1.2-5.2 -3.1-5.1 -.3-1 -5.2-1.9 -4-2.2 -1.1-.4 -5-4.7 -.2-.1 -4-5 -1.1-1.8 -2-3.3 -2.2-5.1 -.9-2.8 -.7-2.4 -1.8-5.1 -1.7-5.1 -1-1.2 -5.1-3.1 -1.7-.8 -3.4-4.5 -.7-.6 .7-.9 5.1-3.9 5.1 2 2.1 2.8 3.1 2.6 2.4 2.5 2.7 2 5.1 2.3 1.8 .8 3.4 2.7 5.1 2.3 2.3-5 -.6-5.1 -.5-5.1 -1.2-5 0-.1 0-.3 5.2-.3 .6 .6 4.5 4.6 .4 .5 4.7 4.5 .9 .6 2.4 5.1 -1.6 5.1 -1.7 2.1 -5.1-.9 -5.1 2 -5.2-2.7 -.1 4.6 .1 .4 3 4.8 .8 5.1 1.4 2.2 4.1 2.9 1 1.4 1.7 3.7 3.4 3.1 2.8 2 2.4 2.6 2.2 2.5 2.9 3.6 5.1-2.6 .8-1 1.5-5.1 2.9-3.7 1.2-1.4 3.9-2.8 2.4-2.3 2.7-2.5 5.2-2.2 .4-.4 4.7-3.3 2.8-1.8 2.4-2.4 2-2.8 3.1-4.5 5.1 3 4.4 1.5 .8 .2 5.1 3.7 .7 1.3 -.7 1.5 -1.2 3.6 -2.1 5.1 .4 5.1 -.6 5.1 -1.3 5.1 -.3 1.7 -.3 3.4 -2.5 5.2 -.7 5.1 -1.3 5.1 .5 5.1 .2 5.1 .5 5.1 1 5.2 -.8 5.1zM119.8 1294.2l-1.6-2 1.4-5.1 .2-.1 .2 .1 1.7 5.1zM99.2 1358.8l-5.1 0 -5.2 0 -5.1 0 -5.1 0 -5.2 .1 -5.1 0 -5.1-.1 -5.2 .1 -.2-.2 .1-5.1 .1-5.2 0-5.1 0-3.7 .6-1.4 4.6-4.6 5.1 3.2 5.1 .8 1.5 .6 3.7 2.3 5.1 .1 5.1 1.1 2.5 1.6 2.7 1.4 2.8 3.7 2.3 4.9 .1 .3 4.8 5.1zM237.9 1358.7l-5.1 0 -5.2 .1 -5.1 0 -5.1-.1 -3.6 0 -1.6-3.4 -1.1-1.7 -1.3-5.2 .8-5.1 1.6-2.6 3.1-2.5 2.1-.9 2.5 .9 2.6 2.9 4.2-2.9 .9-.6 5.2-1.5 2.1 2.1 .5 5.1 2.5 4.3 .5 .8 .9 5.2 .6 5.1zM279 1358.7l-5.1 .1 -5.2 0 -5.1-.1 -1.4 0 -1.3-5.1 -2.5-4.7 -.3-.5 .3-4.2 .2-.9 5-3.1 5.1 1.4 2.8 1.7 2.4 2.1 3.3 3 1.8 2.3 1.9 2.9 -.1 5.1zM325.2 1358.7l-5.1 .1 -5.2 0 -5.1 0 -3.2-.1 -.9-5.1 -1-3 -5.2-.6 -5.1-1.2 -1-.4 -4.1-4.5 -.3-.6 .3-.5 5.1-1.6 4.3 2.1 .8 1.4 5.2 1.6 5.1-1.8 1.8-1.2 3.3-.9 2.4 .9 2.8 1.3 5.1 1.5 0 2.3 .1 5.2 0 5.1z"/>
<path fill="#66ff00" d="M268.7 1308.9l-1.7-1.4 -3.4-2.9 -5.2 .7 -5.1 .8 -5.1 .4 -5.2-3.2 -1.4-.9 -.7-5.1 -3-1.8 -2.6 1.8 -2.5 1.4 -5.2 .5 -5.1-.3 -1.2-1.6 -.5-5.1 -3.4-4.7 -.4-.4 -4.8-3.8 -.9-1.4 -3.6-5.1 -.6-.8 -5.2-4.1 -.1-.2 -4.1-5.1 -.9-.8 -5.1-3.5 -1.1-.8 -4.1-4.1 -1.3-1 -3.8-2.6 -5.1-1.9 -.6-.7 -3.4-5.1 -1.2-2.9 -1.9-2.2 -3.2-2.5 -5.1-.1 -1.4-2.5 1.4-.7 4.2-4.4 .9-.3 5.1-3.5 2.2-1.3 3-2.4 1.2-2.7 1.3-5.2 1.6-5.1 1-2.8 1.1-2.3 -1.1-4.7 -.7-.4 .7-.4 1.8-4.7 3.3-3.7 1.7-1.4 -1.7-2.9 -1.4-2.3 -3.7-4.6 -1.1-.5 -4-.4 -.3 .4 -3 5.1 .2 5.2 -.6 5.1 -1.5 2.3 -5.1-.2 -2.3-2.1 -2.8-2.3 -3.4-2.8 -1.8-1.8 -4.1-3.4 -1-.9 -3.3-4.2 -.8-5.1 .5-5.1 1.1-5.1 -.4-5.1 -2.3-4 -.2-1.2 .2-.9 .9-4.2 1.2-5.1 1.6-5.1 1.5-1.8 3.3-3.3 1.8-4 1.9-1.1 3.3-4.6 1.1-.5 -1.1-.6 -5.2-2.2 -5.1-2.1 -.9-.3 -4.3-.9 -4.1 .9 -1 1.3 -5.1 .1 -1.8 3.8 1.8 2 1.5 3.1 2.3 5.1 -.3 5.1 -3.5 3.4 -5.2-2.3 -2.1-1.1 -1.5-5.1 3.1-5.1 -4.6-3.9 -.6-1.2 .6-1 4.3-4.2 .8-.7 2.7-4.4 -2.7-1.5 -2.6-3.6 -1.8-5.1 -.7-5.1 1.2-5.1 3.9-4.8 1.1-.4 4.1-3.3 5.1-.9 5.1-.6 .3-.3 1.3-5.1 -1.6-3.6 -.9-1.5 -1.7-5.1 .6-5.1 2-3.3 2.5-1.8 -2.5-4.6 -.2-.6 .2-.3 3.1-4.8 2.1-2.6 2.6-2.5 -.8-5.1 3.3-3.8 5.2 .8 5.1 1.5 5.1-.5 .8 2 -.8 2.2 -1.5 2.9 -2.3 5.1 -1.3 2.6 -2 2.5 2 2 2.3 3.2 -2.3 2.7 -2.8 2.4 2.8 4.7 5.1-4.4 2.7 4.8 1.7 5.1 .8 1.2 5.1 3.8 .3 .1 4.8 3.7 5.2-.2 4.6-3.5 .5-1 5.1-4.1 5.2-4.9 .1-.2 0-5.1 5-3.8 1.1-1.3 1.8-5.2 -2-5.1 -.9-1.2 -2.1-3.9 -.4-5.1 -2.6-2.5 -5.2-2 -5.1 .1 -2.4-.7 -2.1-5.1 -.6-1 -1 1 -2.2 5.1 -2 .8 -.7-.8 -4.4-3.5 -5.1-1.4 -.3-.2 -.6-5.2 -4.3-3.4 -1.1-1.7 1.1-4.2 .8-.9 4.2-5.1 0-5.1 -5-5 -.4-.1 -2.8-5.2 -1.9-3.1 -5.1 .4 -1.9-2.4 -2-5.1 -.2-5.1 -1.1-1.1 -5.1 .6 -.8 .5 -4.4 2 -5.1 .4 -2.3 2.7 1 5.1 1 5.1 .3 5.1 0 .1 .4 5.1 .7 5.1 -1.1 2.2 -2.8-2.2 -2.3-1.5 -3.3-3.6 -1.9-3.1 -5.1-1.7 -5.1 1.9 -2 2.9 -2.3 5.1 2.9 5.1 0 5.1 -1.9 5.1 -1.1 5.2 -.8 1.3 -5.1 1.7 -1.7 2.1 -3.3 5.1 -.1 .3 -5.2 3.5 -3.8 1.3 -1.3 .8 -5.2 .4 -.6-1.2 .6-1.9 2.4-3.2 -2.4-2.5 -2.2-2.6 -2.9-2.7 -3.5-2.4 3.5-4.1 .5-1.1 -.5-1.5 -1.2-3.6 -3-5.1 -.9-1.5 -1.4-3.6 -1.8-5.1 -2-3.3 -3.7-1.8 -1.4-.8 -5.1 .4 -.5 .4 -4.7 2.7 0-2.7 -.1-5.2 0-5.1 0-5.1 0-5.1 .1-5.1 0-2.7 5.2-.1 5.1 .1 5.1-1.6 .3-.8 2.8-5.1 2.1-2.6 4.8 2.6 .3 .3 2.4 4.8 .2 5.1 -.1 5.1 .9 5.1 1.7 2.8 3.7 2.3 1.5 2.5 1.5 2.6 3.6 4.9 2.4-4.9 -2.4-3.6 -2.7-1.5 -.8-5.1 -.2-5.1 .5-5.1 -1.9-3.4 -1-1.7 -4.2-4.4 -3.7-.7 -.1-5.2 .7-5.1 2.8-5.1 .3-.8 2.1-4.3 2.9-5.1 .2-.2 5.1-4.9 5.2 0 5.1 .2 5.1 1.6 4.7 3.3 .5 1 5.1 1 3.2-2 1.9-1.4 3.4-3.7 1.8-1.6 2.8-3.6 .3-5.1 -2.1-5.1 -1-2.6 -2.2-2.5 -3-2.3 -3.2-2.8 3.2-3.5 5.2 .8 5.1 .7 2.9-3.1 -2.9-3.2 -5.1-.7 -1-1.2 -1.9-5.2 -1.1-5.1 -.1-5.1 4.1-3 2.1-2.1 -2.1-2.2 -4.2-2.9 -1-2.1 -1.5-3 .6-5.2 .9-.3 2.7-4.8 2.5-3.5 3.5 3.5 1.6 2.1 2.3-2.1 -1.2-5.1 -1.1-.4 -1.2-4.7 1.2-2.1 5.1 .1 1.4-3.1 3.8-3.4 3 3.4 .7 5.1 1.4 2 5.2-1.3 1.7-.7 3.4-1.7 3.1-3.4 -.3-5.1 2.3-3.4 5.2-1.6 5.1 1.2 5.1 .8 5.2 1.5 1.1-3.7 .4-5.1 2.1-5.1 1.5-2.3 1.6 2.3 3.5 1.8 3.1-1.8 -3.1-4.5 -.9-.6 .9-2.1 5.2-2.4 .3-.6 -.3-.4 -5.2 .3 -5.1-.2 -5.1-1.1 -3.2-3.7 -2-1.2 -3.9-3.9 -1.2-2.2 -2.2-3 1.5-5.1 .7-.8 5.1-4.1 .4-.2 4.8-2.2 5.1-.7 5.1 .3 5.2 1.3 3 1.3 2.1 .7 4.5-.7 .7-.4 2.4-4.7 -2.4-2.2 -2.1-2.9 -1.3-5.1 3.4-4.2 5.1-.8 2.6-.2 -2.6-1.4 -2.2-3.7 -2.9-1.5 -2.3-3.6 -1.6-5.1 2-5.1 -.6-5.1 2.5-.1 5.1 0 5.1 0 5.2 0 5.1-.1 5.1 0 5.2 0 5.1-.1 5.1 0 5.2 0 5.1 .1 5.2 .1 5.1 0 2.9 .1 -2.4 5.1 -.5 1.3 -.9 3.8 -1 5.1 -3.2 3 -5.2 1.2 -.9 .9 -.6 5.1 -1.8 5.2 3.3 3.4 1 1.7 2.7 5.1 -.8 5.1 -2.9 5.1 -.1 0 -.6 5.1 .7 2.1 1.3 3.1 3.9 3 2.9 2.1 2.2 1.2 1.4-1.2 3.7-4.9 .3-.2 4.9-3.8 5.1-.3 1.4-1.1 -1.4-2.6 -5.1 .1 -1-2.6 -1-5.1 2-1.9 2 1.9 3.1 3.6 4.6-3.6 .5-1 1.4-4.1 3.8-4.6 .4-.5 -.4-.4 -5.2-3.5 -1.3-1.2 1.3-2.2 1.5-3 3.7-1.8 5.1 .4 5.1-.2 5.2-.3 3.6-3.2 1.5-.6 0 .6 0 5.1 .1 5.2 0 5.1 0 5.1 0 5.1 0 5.1 0 5.1 0 5.2 0 5.1 0 5.1 0 5.1 0 5.1 0 5.1 .1 5.1 0 5.2 .1 5.1 -.1 5.1 -.1 5.1 0 5.1 0 5.1 -.1 5.1 -.6 .1 -4.5 .5 -2.3-.5 -2.9-.6 -5.1-.4 -5.1-3.7 -5.2 3.6 -5.1 .7 -5.1-.1 -5.2 .2 -5.1-.2 -1.5 .5 -3.6 4.8 -1.1 .3 -4.1 .3 -5.1 4.7 -.1 .1 -1.6 5.1 -1.4 5.1 -2.1 1.9 -2.8 3.2 -1.9 5.2 -.4 .6 -3.6 4.5 -1.5 3.7 -.2 1.4 .2 5.1 5.1 4 2.2 1.1 2.9 1.8 5.2 0 5.1 .6 4.8 2.7 -4.8 3.1 -5.1 .9 -5.2 .7 -.3 .4 -4.8 4.7 -.4 .5 -1 5.1 1.4 2.4 2.3 2.7 -.6 5.1 3.4 2.1 4.5 3 .7 1.2 5.1 .5 2.4-1.7 2.8-.5 1.9 .5 -.9 5.1 -1 2.7 -.9 2.5 .9 0 1.6 0 3.5-1.8 2.6-3.4 2.5-2.2 1.2-2.9 4-3.7 .8-1.4 .1-5.1 -.9-2.9 -1.1-2.2 1.1-1.2 3.3-3.9 1.8-2.1 3.6-3.1 1.5-2.9 .8-2.2 -.8-2.5 -5.1 2.5 -5.1-1.5 -5.2-.8 -4.2-2.8 4.2-2.5 5.2 .5 5.1-1.3 3-1.8 2.1-3.8 .4-1.3 -.4-.9 -2.1-4.2 1.8-5.1 .3-.9 .8 .9 4.4 2.2 2.8-2.2 2.3-2.1 3.7 2.1 1.4 .4 1-.4 4.2-2.4 5.1-1.5 .1 3.9 0 5.1 0 5.1 0 5.1 0 5.1 0 5.1 0 5.1 0 5.2 0 5.1 0 5.1 0 5.1 0 5.1 0 5.1 0 5.2 0 5.1 0 5.1 0 5.1 0 5.1 0 5.1 0 5.1 0 5.2 0 5.1 -.1 5.1 0 3.4 -3.2 1.7 -1.9 4 -1 1.1 -4.2 2 -1.5-2 -3.6-2.1 -1.9 2.1 1.2 5.1 -1.2 5.2 .7 5.1 1.2 1 .8-1 4.3-4.8 .4-.3 3.5-5.2 1.3-3.5 1.7 3.5 3.4 1.8 0 3.4 .1 5.1 -.1 5.1 .1 5.1 .1 5.1 0 5.1 0 5.2 -.1 5.1 0 5.1 0 5.1 .1 5.1 0 5.1 -.1 5.1 0 5.2 0 5.1 .1 5.1 -.1 5.1 0 5.1 0 5.1 .1 5.2 0 5.1 0 5.1 -.1 5.1 0 5.1 .1 5.1 0 5.1 0 5.2 .1 5.1 .1 5.1 0 5.1 0 5.1 0 5.1 0 5.2 0 5.1 0 5.1 0 5.1 -.1 5.1 0 5.1 -.1 5.2 -.1 5.1 0 5.1 0 5.1 0 5.1 0 5.1 0 5.1 0 5.2 0 5.1 0 5.1 0 5.1 0 5.1 0 5.1 -.1 5.2 0 2 -.7-2 -4.4-5.1 -.1-.1 .1-.4 .7-4.7 -.7-.5 -5.2 .2 -5.1-2.8 -4.8-2 -.3-.3 -.5 .3 -3.9 5.1 -.1 5.1 -.7 .8 -3.6 4.4 -1.5 1.1 -5.1 3.8 -.1 .2 -2.4 5.1 -2.7 .5 -5.1 .9 -2.5 3.7 -2.6 2.6 -3.4 2.5zM243.6 775.5l-.6-.3 -5.1-4.6 -.2-.2 -4.3-5.1 -.6-1.7 -.3 1.7 -.5 5.1 -.7 5.1 1.5 .4 5.1 1.7 5.1-1.9zM284.1 776l-.6-.5 .6-.4 .5 .4zM260.9 790.8l-2.5-2.3 -3.1 2.3 3.1 2.8zM284.1 793.2l-.6-2.4 .6-.1 .7 .1zM171.1 823.9l-.6-2.4 .6-1.3 2.7 1.3zM183.9 913.6l1.2-5.1 .7-5.1 -1-5.1 1.7-3.3 2.6-1.8 2.4-5.2 .2-.1 5.1-.2 5.1-3 1.6-1.8 .6-5.1 3-2.2 2-2.9 1.5-5.1 1.6-3.5 1.1-1.6 -.8-5.2 -.3-.9 -1.9-4.2 1.9-4.3 5.2-.5 .8-.3 1.4-5.1 -2.2-4.4 -2-.7 -3.2-1.2 -1.3 1.2 -3.8 2 -2.3 3.1 2.3 3.9 3.7 1.2 -3.7 1.1 -5.2 .6 -5.1 .6 -4.7-2.3 -.4-.4 -5.2-.5 -.5 .9 -4.6 4.1 -1 1 -.1 5.1 -1.5 5.2 -2.5 2.7 -5.2 .4 -3 2 -2.1 1.6 -2.5 3.5 -2.6 3.7 -1 1.4 1 3.7 .4 1.4 .9 5.1 0 5.2 1 5.1 1.4 5.1 1.4 1.7 3.8 3.4 1.3 1 4.6 4.1 .6 .2 5.1 2.5zM119.8 919l-.3-.3 .3-.9 .3 .9zM279 920.7l-3.7-2 3.7-2.9 1.3 2.9zM173 949.4l3.3-1.5 4.1-3.6 1-1.2 2-3.9 1.2-5.1 1.9-3.2 .9-1.9 -.9-4.6 -.6-.6 -4.5-1.9 -.7 1.9 -4.4 3.9 -5.2 .7 -3.6 .6 -1.3 5.1 -.2 .2 -5.1 3.7 -2.3 1.2 -2.9 4.7 -5.1 .1 -.7 .3 .7 .2 5.1 .8 5.2 3.8 .3 .3 4.8 2.8 5.1-1.1zM155.7 959.7l0-.1 0 .1 0 .3zM296.8 980.1l.1-5.1 -2.5-3.5 -2.6 3.5 -2.5 2.7 -4.5 2.4 4.5 2.5 5.1-.7zM315.5 980.1l-.6-.4 -4.5-4.7 -.6-.3 -.3 .3 .3 .3 4.9 4.8 .2 .5zM235 1021l-1.2-5.1 -1-1 -5.2 .4 -5.1-1.3 -2.8-3.2 .1-5.1 -.5-5.1 3.2-2.2 .9-2.9 -.9-1.4 -2.3 1.4 -2.8 3.8 -.4 1.3 -4.8 2.5 -4.7-2.5 -.4-.4 -5.2-.6 -5.1 .6 -5.1-3.4 -.3-1.3 -2.7-5.2 -2.2-.6 -2.3 .6 -2.8 1.1 -4.6-1.1 -.5-.1 -.3 .1 .3 1.6 .3 3.6 -.2 5.1 5 1.8 5.1-.6 5.2-.6 5.1 1.7 2.3 2.8 2.8 .9 2.1-.9 3.1-4.4 1.6 4.4 1.8 5.1 1.7 1.7 5.2 1.9 1.9 1.5 3.2 2.8 1.8 2.3 3.3 2.6 5.2 .7zM106.2 1015.9l3.3-3.7 1.1-1.4 -1.1-1.3 -3.1-3.8 -1-5.1 -1-1.8 -5.2-2.3 -.7 4.1 -1.5 5.1 -.3 5.1 2.5 1.8 4 3.3 1.2 1.8zM167.2 1072.2l-1.2-4.3 -2.5 4.3 2.5 1.2zM284.2 1097.8l2.5-5.1 -1-5.2 .1-5.1 .9-5.1 1-5.1 -3.6-3.2 -5.1-.1 -2.2 3.3 0 5.1 2.2 4.7 1 .4 -1 .5 -5.1 .9 -2 3.7 -.1 5.2 2.1 1.5 5.1 1.5 4.7 2.1 .4 .1zM109.5 1104l-5.1-1.1 -.1 0 -2.3-5.1 -2.8-1.7 -.4 1.7 -2.1 5.1 -2.6 1.5 -3.7-1.5 -1.5-.9 -2.5-4.2 -1.7-5.1 -.9-3.7 -.8-1.5 -.8-5.1 .4-5.1 1.2-1.1 5.1-1.1 5.2-.9 5.1 1.1 5.2 0 3.9 2 1.2 .7 3.9 4.4 .5 5.1 .4 5.2 .3 5.1 -3.6 5.1zM255 1087.5l-1.7-3.1 -1.4 3.1 1.4 1.1zM286 1143.8l.9-5.1 2.4-1.5 .7-3.6 -.7-1.7 -4.1-3.4 -.1-5.1 -1-1.3 -5.1-2.3 -2.6 3.6 -2.5 4.3 -.5 .8 .5 1 3.5 4.1 1.6 4.3 1.2 .8 -1.2 .4 -5.1 4.3 -.3 .4 .3 5 5.1-2.8 5.1-.7zM192 1169.4l3.4-5.1 -.3-5.1 -3.4-3.8 -1.9-1.4 -3.3-4.9 -.2-.2 -2.5-5.1 2.7-2 1.7-3.1 3.5-4.9 5.1 .8 1-1 -1-2.4 -5.1 2 -.4 .4 -4.8 2.5 -5.1 .6 -1.3 2 -1.6 5.1 .6 5.1 .7 5.1 1.6 1.7 1.9 3.5 3.2 4 1.2 1.1 2.8 5.1 1.2 3.3zM165 1164.3l1-3.9 .4-1.2 4-5.2 -2.3-5.1 -2.1-1.3 -5.1-.9 -.4 2.2 -2.8 5.1 -2 1.3 -3.9 3.9 3.2 5.1 .7 .2 5.2 2.1zM269.3 1195l-.6-1.7 -.7 1.7 .7 1.6zM267.1 1205.2l-3.5-2.8 -1.5 2.8 1.5 4.3zM83.8 1219.9l-5.1-3.7 -.4-.8 .4-.3 5.1-1 3.2 1.3zM145.4 1252l-1.1-.8 .6-5.1 .5-.7 5.2 .6 .1 .1 -.1 .1 -3.9 5zM253.3 1251.2l.7-5.1 -.7-1.1 -5.1-2.7 -2.7 3.8 2.5 5.1 .2 .3 5.1-.2zM109.5 1271.9l-.2-.2 .2-.4 .2 .4zM94.1 1302.1l-5.2-3.9 -.7-.9 -1.8-5.1 -2.5-5.1 -.1-.2 -1.3-5 -.6-5.1 1.9-2.4 5.1 2 .5 .4 4.6 5.1 .1 .6 .5 4.6 2 5.1 2.5 5.1zM243.1 1287.1l-.1-.1 0 .1 0 .1zM171.1 1295.9l-5.1-3.2 -.6-.5 .6-1 5.1-3.3 2 4.3zM166 1348.4l-5.1-5 -.2-.1 -5-.8 -3.3-4.3 -1.8-4.9 -.1-.2 -3.7-5.1 -1.4-3.1 -1-2 -2.5-5.2 -1.6-3.5 -.9-1.6 .9-1.6 2.4-3.5 2.3-5.1 .4-.4 4.9 .4 .3 0 5.1 3 5.2 1.5 2.4 .6 2.6 5.1 .1 2.4 .1 2.7 -.1 .1 -2.1 5.1 .6 5.1 1.5 4.2 .4 .9 -.2 5.1 1.2 5.1zM114.6 1326.2l-1.2-3.3 1.2-1.8 4.1 1.8zM124.9 1337.9l-2.3-4.8 -2.8-3.1 -3.8-2 3.8-4.4 1.7-.7 3.4-.4 .5 .4 .7 5.1 1.1 5.1zM94.1 1358.7l-5.2 0 -5.1 0 -5.1 0 -5.2 .1 -5.1 0 -5.1-.1 -5.2 .1 -.1-.1 .1-5.1 0-.6 2.7-4.6 2.5-4.5 2.4-.6 2.7-.5 5.1 .5 .1 0 5 5.1 .1 .7 4.3 4.5 .8 1.4 .2-1.4 2.7-5.2 2.2-.3 .6 .3 4.6 4.2 .5 1 3.2 5.1zM145.4 1358.7l-5.1 0 -5.1 .1 -5.2-.1 -1.2 0 -1.4-5.1 .3-5.2 -2.8-4.6 -.7-.5 .7-3.9 5.1 3.8 .1 .1 5.1 1.5 2.6 3.6 2.5 3 1.8 2.2 3.3 4.4 .6 .7z"/>
<path fill="#80ff00" d="M248.2 767l-5.2 1.3 -4.1-3 -1-1.1 -3-4.1 -1.6-5.1 -.5-.9 -5.2 .6 -5.1-.7 -4.9-4.1 -.2-1.4 -1.3-3.7 1.3-1.9 2.4-3.2 2.7-4.3 5.1-.8 5.2 1.7 1.2-1.7 3.9-.1 5.1 0 5.2 0 5.1-.1 5.1 0 5.2 0 5.1 .1 5.2 .1 .9 0 -.9 2.5 -.9 2.6 -3.8 5.1 -.5 .5 -4.5 4.6 -.6 .6 -5.2 3.3 -.6 1.2 -1.6 5.1 -2.9 2.6 -3.1 2.6zM227.6 773.1l-5.1 1.5 -4.5-4.2 .1-5.1 4.4-3.2 5.1 1 1.9 2.2 .4 5.1zM201.9 993.6l-5.1 1.7 -3.1-5 -1.2-5.1 -.8-2.6 -5.2-1.7 -5.1 .2 -1.9-1 1.9-2.7 2.8-2.4 -2.8-1.2 -1.3 1.2 -3.8 3.2 -3.4-3.2 -1.8-3 -.5-2.1 -1.6-5.1 2.1-2.9 3.4-2.2 1.8-1.2 5.1-2.6 2.5-1.4 2.6-2 5.2-2.9 5.1 3.6 3.9 1.3 1.2 .9 .6-.9 1.7-5.1 -.8-5.1 -1.5-1.6 -5.1-.9 -5.1 .1 -2.6-2.7 2.4-5.1 .2-1.6 .4-3.5 1.4-5.2 1.1-5.1 2.2-1.8 1.3-3.3 3.8-4.6 .9-.5 4.3-4.2 5.1-.6 1.1-.3 -1.1-.6 -5.1-.4 -3.5-4.1 1.2-5.1 2.3-2.7 1.9-2.5 2.1-5.1 .7-5.1 .4-.5 5.2-3.6 .6-1 4.5-1.5 2.1-3.6 -.5-5.1 .5-5.2 1.8-5.1 1.2-2 1.4-3.1 -.1-5.1 -1.3-2.2 -1.7-2.9 -1.1-5.1 -2.3-2.7 -1.6-2.5 -3-5.1 -.5-1.9 -1.1-3.2 -1.5-5.1 -.9-5.1 -1.3-5.1 -.4-.5 -5.1-.1 -1.5 .6 -3.7 2.5 -5.1 .2 -5.1-2.1 -.5-.6 -4.7-2.7 -2.4-2.4 -2.7-5 -.1-.2 .1-.2 1.3-4.9 3.8-3.5 3.5-1.6 1.7-.8 5.1-.8 5.1 .4 3.1 1.2 2.1 .7 5.1 2.1 4.5 2.3 .7 1.4 5.1-.4 5.1 1.6 5.2 1.5 5.1-.9 5.1-1.9 4 3.8 1.2 .7 4.4 4.5 .7 .4 5.1 1.8 4.3 2.9 .9 1 2.5 4.1 -1 5.1 -1.5 1.9 -3 3.2 -2.2 2.9 -4.2 2.2 4.2 2.8 5.2 .1 5.1-2.4 5.2-.2 .5-.3 1.2-5.1 3.4-3.3 5.1 .8 5.2 0 2.8 2.5 2.3 2 4.3-2 .8-1.4 1.8-3.7 3.4-2.8 2.5 2.8 2.6 2 2.3-2 2.8-2.5 5.2 .3 5.1-1.6 0 3.8 0 5.1 0 5.1 .1 5.1 .1 5.2 0 5.1 -.1 5.1 0 5.1 -.1 4 -5.1 .7 -5.2-.4 -2.8 .8 -2.3 .7 -5.1 .4 -5.2 1.3 -5.1 .7 -5.1 1 -5.2-.3 -5.1-1.4 -5.1-1.9 -5.2 1.1 -5.1 2.4 -2.7 1.1 -2.5 1.3 -2.2 3.9 -.5 5.1 -1.1 5.1 .9 5.1 -2.2 3.5 -5.1 .9 -5.2 .7 -5.1 0 -.1 0 -5 3.4 -5.2 1.1 -.6 .6 .6 .7 2.6 4.5 1.2 5.1 1.4 1 5.1 3.6 5.1-2.5 .6 3 -.6 1.5 -5.1-.8 -1.5 4.4 1.5 1.8 1.8 3.3 .3 5.1 3 4 .9 1.1 .3 5.2 -1.2 3 -1.2 2.1 1.2 4.9 .1 .2 -.1 .2 -1.8 4.9 1.8 .9 4.1 4.2 1.1 2.2 1.8 2.9 1.4 5.2 .6 5.1 1.3 3.7 .2 1.4 3 5.1 -3.2 1.5 -2.8-1.5 -2.3-.7 -1.3 .7 -3.9 2.6 -3.1 2.5 -2 1.2 -5.1 1.4 -5.2-.5 -1.4-2.1 -3.7-3.5 -3.9-1.6 -1.2-.7 -2.5-4.4 -2.7-4.6 -5.1 3 -1.6 1.6 -2 5.1 3.6 1.7 5.1 .4 5.2-.4 1.2 3.4 -1.2 1.4 -3.8 3.7 -1.4 .9 -5.1-.6 -2 4.8zM325.2 793.6l-5.1 0 -5.2-1.5 -4.4-1.3 -.7-3.3 -.7-1.8 -1.4-5.1 2.1-1.2 5.1-2.1 5.2 1.8 5.1-.1 0 1.6 .1 5.1 -.1 5.1zM299.5 809.2l-4.4-3 4.4-2.3 2.5 2.3zM155.7 874.8l-5-2.1 2.8-5.1 2.2-.5 .5 .5 .8 5.1zM314.9 915.4l-4.3-1.8 .2-5.1 4.1-2.4 5.2-1.9 5.1 2.2 0 2.1 0 1.5 -5.1 2.2 -1.4 1.4zM155.7 931.7l-5.1 2.1 -5.2-4 -.4-.8 -1.3-5.2 1.3-5.1 -1.4-5.1 1.8-2.7 5.2 .9 5.1-2.6 5.2 2.3 3.8 2.1 -3.8 1.5 -3 3.6 3 5 .1 .1 -.1 .2 -2 5zM176.3 924.5l-5.2 1.1 -3.6-1.8 -1.5-1.5 -3.4-3.6 3.4-4.7 5.1 .4 5.2 1.5 3.4 2.8 -2.7 5.1zM309.8 921.5l-.8-2.8 .8-3.6 .9 3.6zM320.1 968.8l-5.2-1 -5.1-2 -1.6-1 -3.5-2.4 -3.9 2.4 -1.3 .8 -1.2-.8 -3.9-2.5 -1.9-2.6 -3.2-2.5 -2.1-2.7 2.1-4.4 .2-.7 3.2-5.1 1.7-3.5 1.1-1.6 1.2-5.1 2.8-2 5.2-2.5 5.1 .3 5.1 .4 5.2 2.6 1.2 1.2 -1.2 2.5 -.7 2.6 -1.7 5.1 2.4 4.1 5.1 .7 0 .3 0 5.1 0 4.6 -.3 .6 -.5 5.1zM124.9 971.5l-5.1-1.5 -.1-.1 -4.3-5.1 -.8-1 -4.1-4.1 -1-.7 -5.1-3.5 -.7-1 .7-.7 2.2-4.4 -1.9-5.1 1.3-5.1 3.5-2.6 5.1 .9 1.2 1.7 3.8 5.1 .2 .1 5.1 4.3 1.2-4.4 3.9-3.5 4.8-1.6 .4-.1 .1 .1 1.8 5.1 2.2 5.1 1 1.3 3 3.8 -3 2.6 -1.7 2.6 .2 5.1 -3.6 2.1 -5.2 1.9 -3.5 1.1zM248.2 946.9l-3-2.6 3-1.1 .6 1.1zM83.8 1003.7l-.5-3.1 -3.6-5.1 -1-1.3 -5.2-3.4 -.7-.5 -4.4-3.3 -5.1 .5 -5.2-.5 0-1.8 0-5.1 0-5.1 0-1.8 5.2-1.1 5.1 1.5 2.5 1.4 2.6 3 2.2-3 0-5.1 1.6-5.1 1.4-2.7 2.4 2.7 2.7 5.1 -.1 5.1 -1.1 5.1 -3.9 4.3 -.7 .8 .7 1 5.1-.1 2 4.2 3.1 3.9 .8 1.3 -.8 2.1 -4.4 3zM279 981.7l-1.2-1.6 -3.9-.7 -4.5-4.4 -.1-5.1 .9-5.1 3.7-3.2 5.1-1.2 5.1 .3 4.6 4.1 .6 2.3 1.9 2.8 -1.9 2.3 -.7 2.8 -4.5 4.2 -4.5 .9zM194.9 969.9l-3.2-3 -4.1 3 4.1 2.4zM222.5 1116.1l-5.1 .1 -3.8-3.1 -1.4-.3 -4-4.8 -1.1-1.6 -3.4-3.5 3.4-4.9 .1-.2 1.1-5.1 -1.2-2.6 -2-2.6 -1.8-5.1 3.8-2.9 .9-2.2 4.2-4.6 1.8-.5 3.4-5.1 0-.1 -.8-5 .8-1.2 3.4-3.9 1.7-1.1 4.9-4.1 .2-.4 4.3-4.7 -1.4-5.1 2.3-1.8 4.8 1.8 .3 .6 0-.6 .4-5.1 4.4-5.1 .3-.4 1.3-4.7 -1.3-2.3 -2.2-2.9 -.6-5.1 -.5-5.1 3.3-4.6 1.1-.5 3.7-5.1 .4-1 4.3-4.1 -.1-5.2 .9-.8 5.1-.7 5.2-3.2 5.1 .5 5.2 1 5.1-.1 4.7 3.3 .4 .3 5.2-.1 .5-.2 4.6-1.8 5.1 1.1 3.3 .7 1.9 1 5.1 3.1 3.9 1.1 1.2 4 5.2-1 2.7 2.1 -2.7 1.1 -5.2-1 -4.9 5 -.2 .2 -5.1 3.5 -1.3 1.4 -.7 5.1 -.3 5.1 -1 5.2 -1.9 3.2 -.7 1.9 -2.1 5.1 -.2 5.1 2 5.1 1 5.1 -5.1 2.5 -5.1 1.4 -5.2 1.2 -2.6-5.1 -2.5-2.9 -5.1 2.8 -1.2 .1 -3.3 5.2 -.7 2.1 -1.2 3 -3.9 3.4 -3.5 1.7 -1.7 1.8 -2.5 3.3 -2.6 1.3 -2.7-1.3 -2.4-1.1 -5.2 .2 -.7 .9 -4.4 3.3 -4.6 1.8 -.5 .2 -5.2 3 -.8 1.9 -.8 5.1 -.6 5.2 1.2 5.1 1 1.9 3.7 3.2 -3.7 3.5 -1.4 1.6 -.7 5.1zM94.1 1021.4l-.3-.4 .3-.4 .3 .4zM217.4 1036.9l-.3-.5 .3-.6 1.4 .6zM289.3 1252.8l-2-1.6 -3.2-4.8 -.1-.3 -2.6-5.1 -1-5.1 -1.4-3.5 -5.1-1.6 -.1 0 -4.8-5.1 4.9-1.3 3.9 1.3 1.2 .8 .1-.8 -.1-.2 -3.5-4.9 -.2-5.2 2.8-5.1 .9-1.9 1-3.2 .7-5.1 .5-5.1 2.8-5.1 -.2-5.2 -1-5.1 1.3-3.1 .9-2 4.3-5 0-.1 5.1-4.4 .3-.7 3-5.1 1.8-3.6 .7-1.6 -.7-1.3 -2-3.8 .3-5.1 1.3-5.1 -1.2-5.1 -1.3-5.1 .4-5.1 -2.6-2.5 -2.1-2.7 -2.1-5.1 -.6-5.1 4.8-5 .4-.1 4.7-4.6 1.6-.5 3.6-4.2 4.3 4.2 -1.8 5.1 2.6 5.1 2.6 5.1 2.5 2.9 3.5-2.9 0-5.1 -3.5-4.8 -.5-.3 .5-2.3 .3-2.8 -.3-3.4 -5.1 2.6 -4.3-4.3 2.7-5.2 -.3-5.1 -2.1-5.1 -1.1-2.7 -3-2.4 -.8-5.1 3.2-5.1 .6-1.7 5.1-2.2 1-1.2 1.2-5.2 2.9-3.2 2.7-1.9 2.5-3.7 5.1-.2 .1 3.9 0 5.1 0 5.2 0 5.1 -.1 5.1 0 5.1 .1 5.1 0 5.1 0 5.1 -.1 5.2 0 5.1 .1 5.1 -.1 5.1 0 5.1 0 5.1 .1 5.2 0 5.1 0 5.1 0 5.1 -.1 5.1 .1 5.1 0 5.1 0 5.2 .1 5.1 .1 5.1 .1 5.1 -.1 5.1 0 5.1 .1 5.2 -.1 5.1 0 5.1 0 5.1 -.1 5.1 0 5.1 -.1 5.2 0 5.1 -.1 5.1 0 1.6 -5.1 1.9 -5.2-3.2 -5.1 4.1 -3.3 .7 -1.8 .3 -5.2 .9 -5.1 2.3 -4.1 1.6 -.5 5.1 1.9 5.1zM99.2 1084.1l-1-1.7 1-.3 1 .3zM186.5 1124.3l-5.1 2.4 -5.1-.8 -.2-2.5 -1.2-5.2 -1.7-5.1 -2.1-1.2 -5.1-2.6 -5.1-.9 -5.2 3.2 -5.1-1.1 -5.2 1.8 -5.1 .1 -5.1-.2 -5.2-3.5 -.5-.7 -2.4-5.1 -.7-5.1 1.7-5.1 1.9-2.3 5.2-2.2 3.5-.7 1.6-.7 5.1 .2 4.9-4.6 .3-1.1 5.1-2.3 5.2 .7 5.1 .4 5.1 2 1.3 .3 3.9 1.6 2.8 3.5 2.3 3.3 5.1-.2 5.2 .6 5.1 1 1.4 .5 2.5 5.1 .2 5.1 -.6 5.1 .1 5.1 1.5 2.7 1.3 2.4 -1.3 1.6 -5.1 1.6 -3.5-3.2 -1.6-1.8 -5.2-1.2 -.5 3 .5 1.9 .9 3.3zM94.1 1101.7l-5.2-3.9 -1.8-5.1 1.8-4 .9-1.2 4.3-4.5 4.8 4.5 -.8 5.2 -1.4 5.1zM184.2 1097.8l-2.8-3.8 -3 3.8 3 4.8zM227.6 1286.9l-5.1-3.7 -1.1-1.3 -4-3.8 -1.6-1.3 -3.6-1.8 -2.7-3.3 -2.2-5.1 -.2-.4 -4-4.7 -1.2-2.2 -2.1-2.9 -.9-5.2 -2.1-2.9 -4.1-2.2 -1-3 -1.4-2.1 -3.8-1.5 -4.8-3.6 .6-5.1 -.3-5.1 .1-5.1 2.5-5.2 1.9-2.5 5.2-1.2 3.6-1.4 -.3-5.1 1.3-5.1 .5-.9 2.8-4.2 2.3-.5 3.6-4.6 1.6-4 .3-1.2 -.3-.8 -2.6-4.3 -2.6-3.1 -1.7-2 -.1-5.1 .1-5.1 .1-5.1 1.6-4.7 .5-.5 4.7-4.1 1.6-1 1.1-5.1 -.8-5.1 2.8-5.1 .4-.3 2.2-4.8 3-3 5.1 .3 4.3 2.7 -4.3 4.3 -2.9 .8 2.9 .2 .4-.2 4.7-4.7 5.2 1.8 5.1-1.3 5.1 .5 2.8-1.4 2.4-.9 3.1-4.2 1.7-5.2 -.6-5.1 -2.2-5.1 -2-1.7 -2.7-3.4 .5-5.1 2.2-1.1 5.1 .9 1.8 .2 3.3 .4 5.2 .9 5.1 2.2 5.2 1.5 .1 .1 -.1 .6 -1.4 4.5 -2.4 5.1 .7 5.1 -2.1 4.8 -.3 .4 -4.8 2 -5.2 2.2 -1.9 .9 -2.2 5.1 1.9 5.1 2.2 2.4 2.2 2.7 1.1 5.1 1.9 2.9 1.6 2.2 3.3 5.2 -4.7 5.1 -.2 .2 -3.9 4.9 1.8 5.1 0 5.1 -2.8 5.1 -.3 1.1 -5.1 3.8 -1.5 .3 -3.6 1.4 -1.6 3.7 -1.9 5.1 -1.1 5.1 3.8 5.1 .8 1.5 5.1 3.4 .3 .2 2.9 5.2 -1.5 5.1 .2 5.1 -1.9 2.8 -2.6-2.8 -2.5-1.4 -.8 1.4 -4.4 4.6 -1.5 .5 -3.6 2.8 -2-2.8 -3.1-2.2 -2.4 2.2 2.4 1.7 4.1 3.4 1 2.3 .8 2.8 1.9 5.1 1.7 5.2 -1.3 5.1 .7 5.1 .7 5.1 .3 5.1 -4.8 3.9 -5.1 0 -2.5 1.2zM187.3 1108l-.8-1 -5.1 .7 0 .3 0 1.2 5.1 2.3zM279 1108.1l-.8-.1 .8-.1 .1 .1zM212.2 1125.1l-.7-1.7 .1-5.2 .6-3.2 2.5 3.2 -.7 5.2zM166 1136l-1.4-2.4 1.4-3.2 5.1 3.2zM155.7 1151.1l-3.5-2.2 -1.3-5.1 2.1-5.1 2.7-2.7 2.9 2.7 -.1 5.1 -1 5.1zM160.9 1188.2l-3.5-3.5 -1.7-1.3 -3.8-3.8 -1.3-4.1 -.2-1 .2-1 5.1-2.6 5.2 1.9 3.6-3.4 1.5-1.1 5.1-2.1 5.2 2.8 .4 .4 -.4 4.4 -.1 .7 -3.5 5.1 -1.6 1.9 -5.1 1.6 -1.7 1.6zM181.4 1242l-.7-1 .7-3.2 1.1 3.2zM258.4 1298.2l-5.1-.7 -.2-.2 .2-.8 .8-4.3 -.1-5.1 .7-5.2 -.6-5.1 -.8-1 -2.9-4.1 2.8-5.1 .1-.3 2.4-4.8 2.7-2.1 5.2-.3 5.1-1.8 5.2 1.4 4 2.8 .4 5.1 .7 .5 5.1 3.5 1.1 1.1 2.8 5.1 -3.3 5.1 -.6 .5 -3.5 4.7 -1.6 1.3 -4 3.8 -1.1 1.7 -5.2 1.2 -5.1 1.4 -2 .8zM248.2 1277.2l-1.4-.4 1.4-.5 1.4 .5zM155.7 1332.9l-2.9-4.9 -2.2-5.1 -3.5-5.2 1.5-5.1 2-2.3 3.7 2.3 1.4 1.6 1.9 3.5 1.6 5.2 .5 5.1zM160.9 1333.8l-2.3-.7 2.3-.5 0 .5z"/>
<path fill="#99ff00" d="M243 765.7l-.5-.4 -4.6-4.7 -.3-.5 -2.4-5.1 -2.4-3.8 -5.2 2.2 -5.1-.7 -3.3-2.8 -1-5.1 4.3-5 2-.1 3.1-.6 .8 .6 4.4 2.3 4.1 2.8 1 .8 1.1-.8 4-4.5 5.1-.6 -3.4-5.1 3.5 0 5.1-.1 5.1 0 5.2 0 5.1 .1 .5 0 -.5 1.1 -2.6 4 -2.5 2.5 -5.2 1.4 -5.1-1 -1.7 2.2 1.7 3.6 .8 1.5 -.4 5.1 -.4 .9 -.8 4.2 -4.3 4.1 -4.1 1.1zM227.6 770.6l-5.1 1.9 -2.3-2.1 .4-5.1 1.9-1.4 3.5 1.4 1.6 4 .2 1.1zM201.9 801.2l-5.1 .4 -1.2-.5 -3.9-1 -5.2-3.3 -.8-.8 -3-5.2 1.6-5.1 2.2-2 5.2-2.5 3-.6 2.1-.4 3.4 .4 1.7 .2 5.2 1.7 5.1 3 .4 .2 3.1 5.1 -3.5 5.1 0 .1 -5.1 3.1 -5 2zM237.9 833.2l-2.5-1.4 -2.6-4.7 -.2-.5 -5-3.7 -1.3-1.4 -3.6-5.1 -.2-.2 -2.6-4.9 -1.1-5.1 -1.4-4.7 -.2-.4 .2-.5 1.8-4.6 3.3-2.9 5.1 0 5.2 1.5 5.1 1.4 5.1-.7 2.2 .7 3 1.9 5.1 2.1 3.4 1.1 1.7 .3 4.7 4.8 -.7 5.1 -4 4 -5.1 .3 -5.1 .2 -.8 .6 -3.9 5.1 -.5 1.9 -1.5 3.2 -1 5.2zM304.7 848.9l-5.2 0 -5.1-.6 -5.1-1 -.3-.2 -4.9-4.5 -.5-.6 -3-5.1 1-5.1 2.3-5.2 .2-.3 5.2-3 4.3 3.3 .8 1.2 5.1 0 5.2-1 5.1 1.6 4.1 3.4 1 2 1.4-2 3.8-2 5-3.2 .1 0 .1 5.2 0 5.1 -.1 5.1 0 1.3 -5.1 .6 -4.3-1.9 -.9-1.8 -.4 1.8 -4.7 4.8 -.6 .3zM237.9 857.8l-.4-.5 -1.7-5.1 1.7-5.1 .4-1 1.7 1 1.2 5.1 -1.6 5.1zM237.9 878.5l-2.4-.7 -2.7-3.7 -1.2-1.4 1.2-4.1 .3-1 4.8-4 1.2-1.1 3.9-4.8 4.7 4.8 .5 .4 1.7 4.7 -.7 5.1 -1 2.1 -5.2-.3 -3.7 3.3zM176.3 920.1l-5.2 2.2 -3.5-3.6 3.5-2 5.2 1.4 .7 .6zM232.8 976.9l-3.3-1.9 -1.9-.7 -5.1-3.2 -1.5-1.2 -3.5-5.1 -.1-.7 -3.6-4.4 .7-5.2 -2.3-4.3 -.2-.8 .2-.7 2.8-4.4 1.2-5.1 -1.7-5.1 .6-5.1 2-5.2 .3-.1 5.1-4.7 1.7-.3 3.4-.6 .5 .6 4.7 5.1 0 .2 -5.2 3.2 -2.4 1.8 -2.5 5.1 1 5.1 3.6 5.1 .3 1.8 1.2 3.3 3.8 5.1 .2 .1 .1-.1 5-1.2 2.1 1.2 2.1 5.2 .3 5.1 -1.5 5.1 -3 4.1 -1.7 1zM304.7 955.3l-5.2 2.3 -5.1-.7 -2.9-2.4 1-5.1 1.9-3.3 1.1-1.8 3.6-5.1 .4-.8 5.2-2.4 5.1 2.7 .4 .5 .9 5.1 -1.3 4.5 -.1 .6 -4.1 5.1zM284.1 978.1l-5.1 1.2 -5.1-1.7 -2.7-2.6 -1-5.1 2.1-5.1 1.6-1.4 5.1-2.1 5.1 .5 3.4 3 1.3 5.1 -1.3 5.1zM196.8 991.7l-.9-1.4 -.3-5.1 1.2-2.9 5.1 1.6 .9 1.3 -.9 2.3 -2 2.8zM253.3 1049l-.6-2.4 -4.5-1.2 -5.2-2.9 -.7-1 -.1-5.1 .8-1 5.2-3.4 4-.7 -4-2.5 -1.1-2.6 -3.2-5.2 -.6-5.1 1.1-5.1 3.8-3 3.5-2.1 1.6-1.9 5.1-2.7 .6-.5 3.4-5.1 1.2-.8 5.1-1.6 5.2 .5 5.1-.7 4.4 2.6 .7 .4 5.2 1.2 5.1 1.7 1 1.8 4.1 4.5 .2 .6 -.2 .3 -1.9 4.8 1.2 5.1 -.4 5.1 -1.7 5.2 -2.3 4.6 -.3 .5 -3.2 5.1 -1.6 4.7 -.4 .4 -4.8 2.2 -5.1-1 -5.1 .6 -5.2-1.3 -5.1 3.2 -5.2 1.1 -2.4 .3zM258.4 1051.8l-.1-.1 .1-.1 .1 .1zM253.3 1058.1l-1.8-1.2 1.8-3.5 2.2 3.5zM232.8 1068l-.9-.9 .9-.5 .5 .5zM217.4 1092.3l-5.2-1.2 -3-3.6 -1.1-5.1 2.1-5.1 2-2.3 5.2-1.4 5.1 2.7 .6 1 .6 5.1 -1.2 3.7 -.4 1.4zM94.1 1098.7l-1.2-.9 -3.1-5.1 3.8-5.2 .5-.5 .5 .5 1.7 5.2 -1.6 5.1zM171.1 1103.9l-5.1-1 -.1 0 -5-3.8 -2.7-1.3 -2.5-1.9 -3.2-3.2 3.2-4.2 .9-1 4.3-2.3 5.1-.4 3.5 2.7 1.6 4.6 .2 .6 .1 5.1 .6 5.1zM145.4 1109.6l-5.1 1.2 -5.1-.4 -3.3-2.4 -1.9-2.3 -1.4-2.8 -.7-5.1 2.1-4.8 .3-.3 4.9-3 5.1-1.1 5.1 .7 4.7 3.4 .5 2 3.1 3.1 -1.8 5.1 -1.3 1 -2.7 4.1zM304.7 1121.2l-5.2 .4 -3.4-3.4 -1.7-1.1 -2.5-4 .6-5.1 1.9-2 5.1-2.2 5.2 1.2 2.8 3 1 5.1 -1.9 5.1zM237.9 1143.1l-1.9-4.4 1.9-.6 1.6 .6zM155.7 1144.1l-.1-.3 .1-.4 .1 .4zM232.8 1144.9l-.2-1.1 .2-.8 3.4 .8zM217.4 1233.2l-4.9-2.4 -.3-.1 -5.1-4.4 -5.2 3 -1 1.5 -4.1 4.3 -5.1-2.6 -2.3-1.7 -2.9-2.9 -.9-2.2 .9-5 .3-.1 4.9-1 4.9 1 .2 0 .2 0 4.9-1.4 3-3.8 -1.7-5.1 -.3-5.1 .2-5.1 4-4.5 .7-.6 3-5.1 1.4-4.4 .1-.8 -.1-1.5 -.8-3.6 -1.4-5.1 -1.9-5.1 -1-2.3 -1.2-2.8 1.2-4 .3-1.1 4.8-4.6 3.2-.6 2-.4 2.4 .4 2.7 1.7 5.1-.9 .7-.8 4.5-4.9 .3-.2 4.8-5 .1-.1 5-4.2 5.2 2.7 5.1 1.3 .2 .2 2.7 5.1 1.3 5.1 .9 2.9 1.5 2.3 -1.5 1 -5.1 .8 -5.1 1.4 -1.1 1.9 -4.1 4.7 -.1 .4 -1.4 5.1 -3.6 3.3 -.8 1.8 -3.7 5.1 3.2 5.2 1.3 3.6 .2 1.5 -.2 .6 -1.6 4.5 -1 5.1 2.6 2.2 1.5 2.9 .1 5.1 -1.6 2.8 -3.7 2.4 -1.4 .9 -5.2 3.1 -.4 1.1 -4.7 4.5 -2 .6zM309.8 1226.7l-5.1 2.8 -5.2 .1 -5.1-1.5 -5.1 .9 -2-3.3 .5-5.1 1.5-2.6 .9-2.6 .3-5.1 -.3-5.1 -.9-2 -1.7-3.1 .6-5.1 1.1-2.1 .9-3 .6-5.2 1-5.1 1.3-5.1 1.3-1.3 1.8-3.8 2.8-5.1 .5-.9 2.3-4.2 2.9-4.9 .7-.3 4.4-1.7 2.1 1.7 3 3.4 5.2-1.2 5.1-1.4 .1 4.4 0 5.1 .1 5.1 .1 5.1 0 5.1 0 5.1 0 5.2 0 5.1 -.1 5.1 0 5.1 0 5.1 -.1 5.1 -.1 4 -3.5 1.2 -1.6 1.5 -5.2 .8 -2.8 2.8zM171.1 1175.5l-5.1 1.6 -2.2-2.6 2.2-2.1 5.1 .9 .6 1.2zM237.9 1277l-.6-.2 -4.5-.6 -5.2-.6 -5.1-3.9 -5.1-1.2 -3.3-3.9 -1.9-1.9 -2-3.2 -3.1-3.5 -1.3-1.6 -1-5.2 -2.9-4.6 -.2-.5 -.2-5.1 -2.9-5.1 3.3-3 1.7 3 3.5 4.3 1.2 .8 3.9 1 5.2 2.9 2.8 1.2 2.3 .4 5.1 2.1 3.5 2.6 1.7 1 2.8 4.2 1.7 5.1 .6 2.7 1.3 2.4 1.4 5.1 -2.5 5.1zM263.6 1287.2l-.2-.1 -.9-5.2 -.1-5.1 1.1-5.1 .1-5.1 5.1-1.4 .9 1.4 .3 5.1 4 2.2 3.9 2.9 -1 5.1 -2.9 2.8 -5.2 1.7 -4.2 .7z"/>
<path fill="#b3ff00" d="M227.6 752.2l-5.1-.9 -1.6-1.4 -1.2-5.1 2.8-3.2 5.1-.5 4.8 3.7 -.9 5.1zM248.2 762.5l-5.2 1.3 -3.5-3.7 -1.6-3.3 -.8-1.8 -.4-5.1 1.2-.6 5.1-4.2 5.2 .7 3.6 4.1 .1 5.1 -1.3 5.1zM222.5 770.4l-.1 0 .1-.5 .1 .5zM207.1 797.7l-5.2 2.1 -5.1 .3 -5.1-1.3 -4.3-2.8 -.9-1.1 -2.4-4.1 1.8-5.1 .6-.6 5.2-2.6 5.1-.9 5.1 .6 5.2 1.6 3.3 1.9 1.8 4.4 .5 .7 -.5 .7 -2.2 4.5zM232.8 817.3l-1.3-.9 -3.9-2.5 -2.3-2.6 1.5-5.1 -.4-5.1 1.2-.9 2.7 .9 2.5 .8 5.1 1 3.9 3.3 -.6 5.1 -3.3 2.9 -3.6 2.2zM258.4 813.4l-5.1 .2 -3.9-2.3 .2-5.1 3.7-3.5 5.1 .7 2.8 2.8 -.7 5.1zM304.7 842.3l-.5-.3 .3-5.1 .2-.1 .1 .1 .4 5.1zM304.7 951.1l-5.2 2.1 -3-3.8 2.2-5.1 .8-1.2 5.2-1.4 2.2 2.6 -.7 5.1zM232.8 972.5l-5.2-1.6 -1.5-1 -3.6-3.2 -1.6-1.9 -.1-5.1 1.7-2.2 5.1 .3 5.2 1.3 1.2 .6 3.9 5.1 -1.5 5.1zM284.1 977.1l-5.1 1.3 -5.1-2.6 -.9-.8 -1.8-5.1 2.7-4.7 .3-.4 4.8-2.6 5.1 .7 2.1 1.9 1.7 5.1 -1.5 5.1zM284.1 1037.5l-5.1 .6 -4.6-1.7 -.5-.3 -5.2-1 -5.1 .8 -.9-4.6 -4.3-1.7 -5.1-1.1 -2.8-2.3 -2.3-1.9 -2.2-3.3 -.9-5.1 2.9-5.1 .2-.1 5.1-3.4 5.1-.8 5.2 1.6 2.1 2.7 2.2 5.1 .7 5.1 .1 .5 2.9-.5 2.3-.2 3.5-4.9 1.6-1.5 3.4-3.6 -1.4-5.1 3.1-1.3 1.5 1.3 3.7 1.9 2.6 3.2 2.5 4.1 .4 1 .3 5.1 -.7 1.7 -2.4 3.5 -2.7 4.1 -.9 1 -3.2 5.1zM258.4 1041.8l-5.1 2.5 -5.1-1.1 -2.5-1.7 -.4-5.1 2.9-2.2 5.1-.7 5.1 .8 5 2.1 -4.6 5.1zM217.4 1089.5l-5.2-1.3 -.5-.7 -1.3-5.1 1.8-4.8 .4-.3 4.8-1.3 1.9 1.3 1.7 5.1 -1.7 5.1zM94.1 1093.7l-.7-1 .7-1 .3 1zM140.3 1109.3l-5.1-.6 -.9-.7 -4-5.1 -.3-.8 -.6-4.3 .6-1.5 2.7-3.6 2.5-1.6 5.1-1.1 5.1 1.4 1.9 1.3 1.9 5.1 -.2 5.1 -3.6 4.2 -1.7 .9zM304.7 1117l-5.2 .9 -5.1-3.5 -.8-1.3 .8-2.9 1.1-2.2 4-2.4 5.2 1.9 .4 .5 1.7 5.1zM222.5 1227.8l-5.1 1.9 -5.2-2 -2.1-2 -1.2-5.1 -.3-5.2 -1.5-2.5 -1.6-2.6 -.7-5.1 .9-5.1 1.4-1.6 3.9-3.5 1.2-1.8 1.9-3.3 .3-5.2 .1-5.1 2.9-4.8 0-.3 .8-5.1 4.3-4.3 .5-.8 2.6-5.1 2-1.6 3-3.6 2.2-2.4 4.1-2.7 1-1 5.1-1.6 3.1 2.6 2.1 2.5 4.6 2.6 -4.6 1.8 -1.4 3.4 -3.6 5.1 -.2 .2 -1.5 4.9 -3.4 5.1 -.2 .2 -2.3 4.9 -2.8 3.5 -1.3 1.6 -3.9 5.1 0 .1 -2.6 5.1 1.8 5.1 .8 5.1 -.7 5.1 -.8 5.1 .5 5.2 -1.9 5.1zM304.7 1221.5l-1.6-.9 -2.6-5.2 -1-.8 -3.3-4.3 -1-5.1 -.8-3.1 -.8-2 -.7-5.1 1.2-5.1 .3-1.8 .5-3.4 1.4-5.1 .8-5.1 2.4-4.7 .2-.4 2.1-5.1 2.9-4.5 1.5-.6 3.6-1.7 1.6 1.7 3.5 5.1 .7 0 4.5-.4 5.1-1.1 0 1.5 .1 5.1 .1 5.1 0 5.1 0 5.1 0 5.2 0 5.1 -.1 5.1 0 5.1 0 5.1 -.1 3.4 -5.1 1.2 -3.2 .5 -2 .4 -5.1 3.2 -4 1.6zM237.9 1273.5l-5.1 1.3 -5.2-2.6 -.6-.5 -4.5-4.5 -.9-.6 -3.9-5.1 -.3-2.3 -2-2.8 -1.2-5.2 3.2-1.3 5.1-1 3.2 2.3 1.9 .8 4.9 4.4 .3 .3 3.3 4.8 1.2 5.1 .6 2.5 .9 2.6z"/>
<path fill="#ccff00" d="M227.6 750.9l-5.1-1 -1.2-5.1 1.2-1.3 5.1-.8 2.8 2.1 -1.1 5.1zM248.2 760.8l-5.2 1.2 -1.8-1.9 -2.1-5.1 .3-5.1 3.6-3.1 5.2 .9 1.9 2.2 .4 5.1 -1.7 5.1zM207.1 796.4l-5.2 2.1 -5.1 .3 -5.1-1.2 -2.4-1.6 -2.8-3.4 -1-1.8 1-2.9 1.5-2.2 3.7-1.9 5.1-.7 5.1 .4 5.2 1.5 1.2 .7 2.2 5.1 -2.8 5.2zM258.4 811.6l-5.1 .1 -.7-.4 -.5-5.1 1.2-1.1 5.1 .3 .8 .8 -.5 5.1zM284.1 976.1l-5.1 1.4 -4.3-2.5 -.8-1.2 -1.7-3.9 1.7-2.9 1.9-2.2 3.2-1.8 5.1 1 .9 .8 2 5.1 -1.7 5.1zM258.4 1027l-2.8-.8 -2.3-.8 -5.1-4.1 -.2-.3 -1-5.1 1.2-2.1 3.2-3 1.9-1.3 5.1-.3 2.6 1.6 2.6 2.9 1.3 2.2 .7 5.1 -2 3.1 -3 2.1zM289.3 1021.6l-1.9-.6 1.9-.8 .3 .8zM253.3 1041.7l-1.2-.2 -3.9-5.1 5.1-.4 1.1 .4 -.7 5.1zM217.4 1085.6l-3.7-3.2 3.7-2.7 1.1 2.7zM145.4 1104.9l-5.1 2.6 -5.1-1.4 -2.5-3.2 -.9-5.1 3.3-5.1 .1-.1 5.1-1.2 3.7 1.3 1.4 1.2 2 3.9 -.3 5.1zM304.7 1113.9l-5.2 1.2 -2.9-2 1.8-5.1 1.1-.6 1.7 .6 3.5 3.9 .4 1.2zM217.4 1227.8l-4-2.1 -1.2-2 -1.2-3.1 0-5.2 -3.3-5.1 -.6-3 -.5-2.1 .5-1.7 .8-3.4 4.3-4.1 2.9-1 1.6-5.1 -.3-5.2 .8-5.1 .2-.3 1.3-4.8 1.8-5.1 2-2 1.9-3.1 3.2-4.3 .8-.8 4.4-5.1 .1-.1 5-3.5 5.1 3.1 .5 .4 .5 5.2 -1 1.4 -1.2 3.7 -1.8 5.1 -2.1 3.1 -1.3 2 -2.5 5.1 -1.3 1.7 -2.7 3.4 -2.5 3.3 -2.1 1.9 -3 3.6 -2.7 1.5 2.7 1.7 2.3 3.4 1.1 5.1 -.8 5.1 -1.8 5.1 .7 5.2 -1.5 4.2 -.5 .9zM309.8 1214.5l-5.1-.9 -3.7-3.3 -1.5-4.1 -.3-1 -1.6-5.1 -.8-5.1 .2-5.1 1.2-5.2 1.3-3.9 .3-1.2 .4-5.1 1.7-5.1 2.5-5.1 .3-.4 5.1-1.2 1.2 1.6 3.2 5.1 .7 3.1 5.2 1.4 2.7-4.5 2.4-1.5 0 1.5 .1 5.1 0 5.1 0 5.1 0 5.2 0 5.1 -.1 5.1 0 5.1 0 1 -5.1 1.9 -5.2 .8 -1.2 1.4zM232.8 1273.3l-2.8-1.6 -2.4-1.1 -4-4 -1.1-1.4 -3.3-3.7 -.7-5.1 4-5.1 5.1 2 3.5 3.1 1.7 1.9 2.2 3.2 1.1 5.1 .2 5.1z"/>
<path fill="#e5ff00" d="M227.6 747.6l-2.8-2.8 2.8-.5 .7 .5zM243 760.2l0-.1 -1.8-5.1 .1-5.1 1.7-1.5 5.2 1.2 .2 .3 .6 5.1 -.8 2.3 -5.1 2.8zM201.9 797.1l-5.1 .3 -5.1-1.1 -.6-.3 -4-5.2 3.5-5.1 1.1-.6 5.1-.5 5.1 .3 3.1 .8 2.1 1.9 1.4 3.2 -1.4 2.6 -2.3 2.6zM284.1 975.1l-5.1 1.5 -2.7-1.6 -2.4-3.6 -.7-1.5 .7-1.1 3.5-4 1.6-.9 3.9 .9 1.2 .6 2 4.5 -1.9 5.1zM258.4 1024.1l-5.1-1.6 -1.8-1.5 -1.8-5.1 3.6-3.3 5.1-.1 3.2 3.4 .7 5.1zM140.3 1105.1l-5.1-2.1 -.1-.1 -.1-5.1 .2-.3 5.1-4.6 5.1 4.6 .2 .3 -.2 2.4 -.5 2.7zM222.5 1190.9l-1.7-1 -2.2-5.2 .1-5.1 1.3-5.1 2.5-4.7 .4-.4 2.9-5.1 1.8-2.4 2.4-2.7 2.8-3.1 3.2-2.1 1.9-1.3 2 1.3 1.9 5.2 -1.4 5.1 -1.8 5.1 -.7 1 -2.7 4.1 -2.4 4.9 -.2 .2 -3.9 5.1 -1.1 1.5 -4.3 3.7zM309.8 1209.1l-5.1 .1 -2.5-4 -1.4-5.1 -.7-5.1 -.4-5.1 1.3-5.2 1.1-5.1 .6-5.1 1.4-5.1 .6-1.1 5.1-1.2 1.6 2.3 1.2 5.1 1 5.1 1.3 2.9 4.7 2.2 .5 1.6 5.1 2.8 0 .8 0 1.3 -5.1 .4 -5.2 1.7 -.3 1.7 -.2 5.1 -1.2 5.1zM217.4 1226l-.6-.3 -3.2-5.1 0-5.2 -1.4-1.4 -2.5-3.7 -1.2-5.1 1.2-5.1 2.5-2.4 5.2-1.4 5.1 3.5 .2 .3 1.6 5.1 -1.1 5.1 -.7 1.8 -1.8 3.3 .5 5.2 -3.2 5.1zM232.8 1271.8l-.2-.1 -5-2.4 -2.7-2.7 -2.4-3.1 -1.8-2 -.7-5.1 2.5-3.1 5.1 1.3 2 1.8 3.2 3.5 1.1 1.6 1 5.1 -2 5.1z"/>
<path fill="#ffff00" d="M196.8 796.1l-.8-.1 -4.3-2.8 -1.8-2.4 1.8-2.6 5.1 .2 5.1 2.1 .5 .3 -.5 1.2 -2.3 4zM279 975.7l-1.2-.7 -3-5.1 4.2-5.1 5.1 2.6 1.1 2.5 -1.1 3 -2.8 2.1zM258.4 1021.1l-.2-.1 .2-.5 .1 .5zM140.3 1101l-.8-3.2 .8-.7 .8 .7zM222.5 1187.4l-1.6-2.7 -.7-5.1 1-5.1 1.3-2.3 2.5-2.8 2.2-5.1 .4-.5 4.1-4.6 1.1-1.2 5.1-2.5 1.9 3.7 -.7 5.1 -1.2 3.2 -1.5 1.9 -2.5 5.1 -1.1 2.2 -2.4 2.9 -2.8 4.4 -1.1 .7zM309.8 1203.1l-5.1 1.1 -1.3-4.1 -.8-5.1 -.2-5.1 1.1-5.2 .9-5.1 .3-1.6 4.5-3.5 .6-.3 .1 .3 .6 5.1 1.7 5.1 .7 5.2 -.8 5.1 -.9 5.1zM217.4 1221.4l-.6-.8 -.3-5.2 -4.3-4.2 -.6-.9 -1.3-5.1 1.2-5.1 .7-.7 5.2-.6 1.8 1.3 3.3 4.6 .1 .5 -.1 .7 -2.2 4.4 -2.2 5.1 -.2 5.2zM232.8 1268.9l-5.2-1 -1.3-1.3 -3.8-4.8 -.3-.3 -.6-5.1 .9-1.1 5.1 .5 .6 .6 4.5 5.1 .1 .1 .9 5z"/>
<path fill="#fff000" d="M284.1 970.5l-5.1 3.2 -1.8-3.8 1.8-2.2 5.1 1.7 .3 .5zM227.6 1180.5l-5.1 2.3 -.8-3.2 .8-5 0-.1 4.6-5.1 .5-1.4 3.7-3.7 1.5-2.2 3.6 2.2 -2.9 5.1 -.7 3 -1.1 2.1 -3.5 5.1zM309.8 1192.4l-2-2.5 2-.9 .3 .9zM217.4 1206.2l-5.2-.6 -.1-.4 .1-.4 5.2 0 .2 .4zM227.6 1266.6l-2.3-5.1 2.3-2.7 2.1 2.7 -1.4 5.1z"/>
</g>
<rect x="68.4" y="744.8" width="242.2" height="598.8" fill="none" stroke="#9a9a9a" stroke-width="1"/>
<path d="M73.0 744.8v-7.5M73.0 1343.6v7.8M130.1 744.8v-7.5M130.1 1343.6v7.8M187.1 744.8v-7.5M187.1 1343.6v7.8M244.2 744.8v-7.5M244.2 1343.6v7.8M301.3 744.8v-7.5M301.3 1343.6v7.8M68.4 750.3h-7.6M310.6 750.3h7.6M68.4 807.1h-7.6M310.6 807.1h7.6M68.4 864.0h-7.6M310.6 864.0h7.6M68.4 920.8h-7.6M310.6 920.8h7.6M68.4 977.7h-7.6M310.6 977.7h7.6M68.4 1034.5h-7.6M310.6 1034.5h7.6M68.4 1091.3h-7.6M310.6 1091.3h7.6M68.4 1148.2h-7.6M310.6 1148.2h7.6M68.4 1205.0h-7.6M310.6 1205.0h7.6M68.4 1261.9h-7.6M310.6 1261.9h7.6M68.4 1318.7h-7.6M310.6 1318.7h7.6" stroke="#9a9a9a" stroke-width="1" fill="none"/>
<text x="58.8" y="755.4" text-anchor="end">4381000</text>
<text x="58.8" y="812.2" text-anchor="end">4380000</text>
<text x="58.8" y="869.1" text-anchor="end">4379000</text>
<text x="58.8" y="925.9" text-anchor="end">4378000</text>
<text x="58.8" y="982.8" text-anchor="end">4377000</text>
<text x="58.8" y="1039.6" text-anchor="end">4376000</text>
<text x="58.8" y="1096.4" text-anchor="end">4375000</text>
<text x="58.8" y="1153.3" text-anchor="end">4374000</text>
<text x="58.8" y="1210.1" text-anchor="end">4373000</text>
<text x="58.8" y="1267.0" text-anchor="end">4372000</text>
<text x="58.8" y="1323.8" text-anchor="end">4371000</text>
<text x="73.0" y="1365.8" text-anchor="middle">638000</text>
<text x="130.1" y="1365.8" text-anchor="middle">639000</text>
<text x="187.1" y="1365.8" text-anchor="middle">640000</text>
<text x="244.2" y="1365.8" text-anchor="middle">641000</text>
<text x="301.3" y="1365.8" text-anchor="middle">642000</text>
<g transform="translate(0,734)">
<text x="371.2" y="43.6" text-anchor="middle" class="sf" style="font-size:19px">N</text>
<path d="M371.6 47L363.3 82.3L371.6 76.8z" fill="#fff" stroke="#000" stroke-width="1.6" stroke-linejoin="miter"/>
<path d="M371.6 45.3L380.4 83.2L371.6 76.8z" fill="#000" stroke="#000" stroke-width=".6"/>
<rect x="357.8" y="110.70" width="24.9" height="7.88" fill="#ff0000"/>
<rect x="357.8" y="118.53" width="24.9" height="7.88" fill="#ff0a00"/>
<rect x="357.8" y="126.35" width="24.9" height="7.88" fill="#ff1400"/>
<rect x="357.8" y="134.18" width="24.9" height="7.88" fill="#ff1f00"/>
<rect x="357.8" y="142.01" width="24.9" height="7.88" fill="#ff2900"/>
<rect x="357.8" y="149.84" width="24.9" height="7.88" fill="#ff3300"/>
<rect x="357.8" y="157.66" width="24.9" height="7.88" fill="#ff3d00"/>
<rect x="357.8" y="165.49" width="24.9" height="7.88" fill="#ff4700"/>
<rect x="357.8" y="173.32" width="24.9" height="7.88" fill="#ff5200"/>
<rect x="357.8" y="181.14" width="24.9" height="7.88" fill="#ff5c00"/>
<rect x="357.8" y="188.97" width="24.9" height="7.88" fill="#ff6600"/>
<rect x="357.8" y="196.80" width="24.9" height="7.88" fill="#ff7500"/>
<rect x="357.8" y="204.62" width="24.9" height="7.88" fill="#ff8500"/>
<rect x="357.8" y="212.45" width="24.9" height="7.88" fill="#ff9400"/>
<rect x="357.8" y="220.28" width="24.9" height="7.88" fill="#ffa300"/>
<rect x="357.8" y="228.11" width="24.9" height="7.88" fill="#ffb300"/>
<rect x="357.8" y="235.93" width="24.9" height="7.88" fill="#ffc200"/>
<rect x="357.8" y="243.76" width="24.9" height="7.88" fill="#ffd100"/>
<rect x="357.8" y="251.59" width="24.9" height="7.88" fill="#ffe000"/>
<rect x="357.8" y="259.41" width="24.9" height="7.88" fill="#fff000"/>
<rect x="357.8" y="267.24" width="24.9" height="7.88" fill="#ffff00"/>
<rect x="357.8" y="275.07" width="24.9" height="7.88" fill="#e5ff00"/>
<rect x="357.8" y="282.89" width="24.9" height="7.88" fill="#ccff00"/>
<rect x="357.8" y="290.72" width="24.9" height="7.88" fill="#b3ff00"/>
<rect x="357.8" y="298.55" width="24.9" height="7.88" fill="#99ff00"/>
<rect x="357.8" y="306.38" width="24.9" height="7.88" fill="#80ff00"/>
<rect x="357.8" y="314.20" width="24.9" height="7.88" fill="#66ff00"/>
<rect x="357.8" y="322.03" width="24.9" height="7.88" fill="#4dff00"/>
<rect x="357.8" y="329.86" width="24.9" height="7.88" fill="#33ff00"/>
<rect x="357.8" y="337.68" width="24.9" height="7.88" fill="#19ff00"/>
<rect x="357.8" y="345.51" width="24.9" height="7.88" fill="#00ff00"/>
<rect x="357.8" y="353.34" width="24.9" height="7.88" fill="#00e51a"/>
<rect x="357.8" y="361.16" width="24.9" height="7.88" fill="#00cc33"/>
<rect x="357.8" y="368.99" width="24.9" height="7.88" fill="#00b34c"/>
<rect x="357.8" y="376.82" width="24.9" height="7.88" fill="#009966"/>
<rect x="357.8" y="384.64" width="24.9" height="7.88" fill="#007f80"/>
<rect x="357.8" y="392.47" width="24.9" height="7.88" fill="#006699"/>
<rect x="357.8" y="400.30" width="24.9" height="7.88" fill="#004cb2"/>
<rect x="357.8" y="408.13" width="24.9" height="7.88" fill="#0033cc"/>
<rect x="357.8" y="415.95" width="24.9" height="7.88" fill="#0019e6"/>
<rect x="357.8" y="423.78" width="24.9" height="7.88" fill="#0000ff"/>
<rect x="357.8" y="431.61" width="24.9" height="7.88" fill="#0f0aff"/>
<rect x="357.8" y="439.43" width="24.9" height="7.88" fill="#1f14ff"/>
<rect x="357.8" y="447.26" width="24.9" height="7.88" fill="#2e1fff"/>
<rect x="357.8" y="455.09" width="24.9" height="7.88" fill="#3d29ff"/>
<rect x="357.8" y="462.91" width="24.9" height="7.88" fill="#4c33ff"/>
<rect x="357.8" y="470.74" width="24.9" height="7.88" fill="#5c3dff"/>
<rect x="357.8" y="478.57" width="24.9" height="7.88" fill="#6b47ff"/>
<rect x="357.8" y="486.40" width="24.9" height="7.88" fill="#7a52ff"/>
<rect x="357.8" y="494.22" width="24.9" height="7.88" fill="#8a5cff"/>
<rect x="357.8" y="502.05" width="24.9" height="7.88" fill="#9966ff"/>
<path d="M357.8 118.53h24.9M357.8 126.35h24.9M357.8 134.18h24.9M357.8 142.01h24.9M357.8 149.84h24.9M357.8 157.66h24.9M357.8 165.49h24.9M357.8 173.32h24.9M357.8 181.14h24.9M357.8 188.97h24.9M357.8 196.80h24.9M357.8 204.62h24.9M357.8 212.45h24.9M357.8 220.28h24.9M357.8 228.11h24.9M357.8 235.93h24.9M357.8 243.76h24.9M357.8 251.59h24.9M357.8 259.41h24.9M357.8 267.24h24.9M357.8 275.07h24.9M357.8 282.89h24.9M357.8 290.72h24.9M357.8 298.55h24.9M357.8 306.38h24.9M357.8 314.20h24.9M357.8 322.03h24.9M357.8 329.86h24.9M357.8 337.68h24.9M357.8 345.51h24.9M357.8 353.34h24.9M357.8 361.16h24.9M357.8 368.99h24.9M357.8 376.82h24.9M357.8 384.64h24.9M357.8 392.47h24.9M357.8 400.30h24.9M357.8 408.13h24.9M357.8 415.95h24.9M357.8 423.78h24.9M357.8 431.61h24.9M357.8 439.43h24.9M357.8 447.26h24.9M357.8 455.09h24.9M357.8 462.91h24.9M357.8 470.74h24.9M357.8 478.57h24.9M357.8 486.40h24.9M357.8 494.22h24.9M357.8 502.05h24.9" stroke="#000" stroke-opacity=".55" stroke-width=".7" fill="none"/>
<rect x="357.8" y="110.7" width="24.9" height="399.18" fill="none" stroke="#888" stroke-opacity=".6" stroke-width=".7"/>
<text x="386" y="123.3">310</text>
<text x="386" y="139.0">308</text>
<text x="386" y="154.7">306</text>
<text x="386" y="170.3">304</text>
<text x="386" y="186.0">302</text>
<text x="386" y="201.7">300</text>
<text x="386" y="217.3">298</text>
<text x="386" y="233.0">296</text>
<text x="386" y="248.7">294</text>
<text x="386" y="264.3">292</text>
<text x="386" y="280.0">290</text>
<text x="386" y="295.7">288</text>
<text x="386" y="311.3">286</text>
<text x="386" y="327.0">284</text>
<text x="386" y="342.7">282</text>
<text x="386" y="358.3">280</text>
<text x="386" y="374.0">278</text>
<text x="386" y="389.7">276</text>
<text x="386" y="405.3">274</text>
<text x="386" y="421.0">272</text>
<text x="386" y="436.7">270</text>
<text x="386" y="452.3">268</text>
<text x="386" y="468.0">266</text>
<text x="386" y="483.7">264</text>
<text x="386" y="499.3">262</text>
<text x="386" y="515.0">260</text>
<text x="364" y="566" style="font-size:14px">T (K)</text>
</g>
<g transform="translate(0,734)">
<text x="190.5" y="657.4" text-anchor="middle" style="font-size:16.8px;white-space:pre" xml:space="preserve">WGS 84  UTM 48N</text>
<rect x="69.9" y="669.3" width="226.8" height="9.7" fill="#fff" stroke="#9a9a9a" stroke-width="1"/>
<rect x="69.9" y="669.3" width="56.7" height="9.7" fill="#000"/>
<rect x="183.3" y="669.3" width="56.7" height="9.7" fill="#000"/>
<text x="69.9" y="692" text-anchor="middle">0</text>
<text x="126.6" y="692" text-anchor="middle">1000</text>
<text x="183.3" y="692" text-anchor="middle">2000</text>
<text x="240.0" y="692" text-anchor="middle">3000</text>
<text x="296.7" y="692" text-anchor="middle">4000</text>
<text x="316.7" y="679.4" style="font-size:15.2px">Meters</text>
<text x="215.2" y="730.3" text-anchor="middle" class="sf" style="font-size:27px;letter-spacing:.9px">(c)</text>
</g>
<!-- panel d -->
<clipPath id="clipd"><rect x="673.4" y="745.0" width="242.7" height="598.7"/></clipPath>
<g clip-path="url(#clipd)" stroke="#000" stroke-width=".45" stroke-opacity="0.6" stroke-linejoin="round" fill-rule="evenodd">
<rect x="673.4" y="745.0" width="242.7" height="598.7" fill="#9966ff" stroke="none"/>
<path fill="#8a5cff" d="M930.1 1359.4l-5.1 0 -5.1 0 -5.2 0 -5.1 0 -5.1 0 -5.2 0 -5.1 0 -5.2-.1 -5.1 0 -5.1 0 -5.2 .1 -5.1 0 -5.1 .1 -5.2 0 -5.1 0 -5.1 0 -5.2-.1 -5.1 0 -5.1 0 -5.2 0 -5.1 0 -5.1 .1 -5.2 0 -5.1 0 -5.1 .1 -5.2 0 -5.1-.1 -5.1 0 -5.2 0 -5.1 0 -5.1 0 -5.2 0 -5.1 0 -5.1-.1 -5.2 0 -5.1 .1 -5.2 0 -5.1 0 -5.1 .1 -5.2 0 -5.1-.1 -5.1 0 -5.2 0 -5.1 .1 -5.1-.1 -5.2 0 -5.1 0 -5.1 0 -5.2 0 -5.1 0 -5.1 0 -5.2 .1 -.7-.7 .1-5.1 0-5.2 0-5.1 0-5.1 0-5.1 .1-5.1 0-5.1 0-5.2 -.1-5.1 0-5.1 0-5.1 0-5.1 .1-5.1 0-5.1 0-5.2 .1-5.1 0-5.1 0-5.1 -.1-5.1 0-5.1 -.1-5.2 0-5.1 0-5.1 0-5.1 .1-5.1 0-5.1 0-5.1 0-5.2 0-5.1 0-5.1 0-5.1 -.1-5.1 0-5.1 0-5.2 .1-5.1 0-5.1 0-5.1 0-5.1 0-5.1 0-5.2 0-5.1 0-5.1 0-5.1 .1-5.1 0-5.1 -.1-5.1 0-5.2 -.1-5.1 0-5.1 0-5.1 0-5.1 0-5.1 0-5.2 .1-5.1 0-5.1 0-5.1 0-5.1 0-5.1 0-5.1 -.1-5.2 0-5.1 0-5.1 0-5.1 0-5.1 -.1-5.1 0-5.2 0-5.1 0-5.1 .1-5.1 0-5.1 0-5.1 0-5.2 0-5.1 0-5.1 0-5.1 0-5.1 0-5.1 0-5.1 0-5.2 0-5.1 0-5.1 0-5.1 0-5.1 0-5.1 0-5.2 0-5.1 0-5.1 0-5.1 .1-5.1 0-5.1 0-5.1 0-5.2 0-5.1 0-5.1 0-5.1 0-5.1 0-5.1 0-5.2 0-5.1 0-5.1 0-5.1 0-5.1 0-5.1 .1-5.2 -.1-5.1 0-5.1 0-5.1 .1-5.1 0-5.1 .1-5.1 0-5.2 .1-5.1 0-5.1 0-5.1 0-5.1 .1-5.1 0-5.2 0-5.1 0-5.1 0-5.1 -.1-5.1 0-5.1 .2-.3 5.2 0 5.1 0 5.1 0 5.2 .1 5.1 0 5.1 .1 5.2 0 5.1 0 5.1 0 5.2 0 5.1 0 5.1 0 5.2 0 5.1-.1 5.1 0 5.2 0 5.1 0 5.2 0 5.1 0 5.1 .1 5.2 0 5.1 0 5.1 0 5.2 0 5.1 0 5.1 0 5.2 0 5.1-.1 5.1 0 5.2 0 5.1 0 5.1 0 5.2 0 5.1-.1 5.1 0 5.2 .1 5.1 0 5.1 0 5.2 0 5.1 0 5.1 0 5.2 0 5.1 0 5.1 0 5.2 0 5.1 .1 5.2 0 5.1 0 5.1 0 5.2 0 5.1 0 5.1 .1 .1 5.1 0 5.1 0 5.1 .1 5.1 0 5.1 0 5.2 0 5.1 .1 5.1 0 5.1 0 5.1 0 5.1 .1 5.2 0 5.1 0 5.1 -.1 5.1 .1 5.1 0 5.1 0 5.1 0 5.2 0 5.1 0 5.1 0 5.1 .1 5.1 0 5.1 0 5.2 0 5.1 0 5.1 0 5.1 .1 5.1 -.1 5.1 0 5.2 .1 5.1 0 5.1 .1 5.1 0 5.1 0 5.1 0 5.1 0 5.2 0 5.1 0 5.1 -.1 5.1 0 5.1 -.1 5.1 0 5.2 -.1 5.1 0 5.1 0 5.1 .1 5.1 0 5.1 0 5.1 .1 5.2 .1 5.1 0 5.1 0 5.1 .1 5.1 0 5.1 0 5.2 0 5.1 -.1 5.1 0 5.1 0 5.1 0 5.1 -.1 5.2 0 5.1 .1 5.1 -.1 5.1 0 5.1 0 5.1 0 5.1 0 5.2 0 5.1 0 5.1 .1 5.1 0 5.1 0 5.1 0 5.2 0 5.1 0 5.1 0 5.1 .1 5.1 0 5.1 0 5.1 0 5.2 -.1 5.1 0 5.1 .1 5.1 0 5.1 -.1 5.1 0 5.2 0 5.1 0 5.1 0 5.1 0 5.1 0 5.1 0 5.2 0 5.1 0 5.1 0 5.1 0 5.1 .1 5.1 0 5.1 0 5.2 0 5.1 0 5.1 0 5.1 0 5.1 0 5.1 0 5.2 0 5.1 0 5.1 0 5.1 0 5.1 -.1 5.1 0 5.1 -.1 5.2 0 5.1 0 5.1 0 5.1 -.1 5.1 0 5.1 .1 5.2 0 5.1zM719.7 770.6l1.6-5.1 -.5-5.2 -1.1-5.1 -.1-.1 -5.1-2.8 -5 2.9 -.2 .2 -1.9 4.9 1.4 5.2 .5 .5 5.2 4.3 4.5 .3 .6 0z"/>
<path fill="#7a52ff" d="M930.1 1359.3l-5.1 0 -5.1 0 -5.2 0 -5.1 0 -5.1 0 -5.2 0 -5.1 0 -5.2-.1 -5.1 0 -5.1 0 -5.2 .1 -5.1 .1 -5.1 0 -5.2 0 -5.1 0 -5.1 0 -5.2 0 -5.1-.1 -5.1 0 -5.2 0 -5.1 0 -5.1 .1 -5.2 0 -5.1 .1 -5.1 0 -5.2 0 -5.1-.1 -5.1 0 -5.2 0 -5.1 0 -5.1 0 -5.2 0 -5.1 0 -5.1-.1 -5.2 0 -5.1 .1 -5.2 0 -5.1 .1 -5.1 0 -5.2 0 -5.1 0 -5.1-.1 -5.2 .1 -5.1 0 -5.1-.1 -5.2 0 -5.1 0 -5.1 0 -5.2 0 -5.1 0 -5.1 0 -5.2 .1 -.6-.6 .1-5.1 0-5.2 0-5.1 0-5.1 0-5.1 .1-5.1 0-5.1 0-5.2 -.1-5.1 0-5.1 0-5.1 0-5.1 0-5.1 .1-5.1 0-5.2 .1-5.1 0-5.1 0-5.1 -.1-5.1 0-5.1 -.1-5.2 0-5.1 0-5.1 0-5.1 0-5.1 .1-5.1 0-5.1 0-5.2 -.1-5.1 .1-5.1 -.1-5.1 0-5.1 0-5.1 0-5.2 .1-5.1 0-5.1 0-5.1 0-5.1 0-5.1 0-5.2 0-5.1 0-5.1 0-5.1 .1-5.1 0-5.1 -.1-5.1 0-5.2 -.1-5.1 0-5.1 0-5.1 0-5.1 0-5.1 0-5.2 .1-5.1 0-5.1 0-5.1 0-5.1 0-5.1 -.1-5.1 0-5.2 0-5.1 0-5.1 0-5.1 0-5.1 -.1-5.1 0-5.2 0-5.1 0-5.1 .1-5.1 0-5.1 0-5.1 0-5.2 0-5.1 0-5.1 0-5.1 0-5.1 0-5.1 0-5.1 0-5.2 -.1-5.1 .1-5.1 0-5.1 0-5.1 0-5.1 0-5.2 0-5.1 -.1-5.1 .1-5.1 .1-5.1 0-5.1 0-5.1 0-5.2 0-5.1 0-5.1 0-5.1 0-5.1 0-5.1 0-5.2 0-5.1 0-5.1 0-5.1 0-5.1 0-5.1 0-5.2 0-5.1 0-5.1 0-5.1 0-5.1 .1-5.1 .1-5.1 0-5.2 .1-5.1 0-5.1 0-5.1 0-5.1 .1-5.1 0-5.2 0-5.1 0-5.1 0-5.1 -.1-5.1 0-5.1 .1-.2 5.2 0 5.1 0 5.1 0 5.2 .1 5.1 0 5.1 .1 2.7 0 -1.5 5.1 -1.2 2.7 -.5 2.4 -.8 5.1 -2.7 5.1 -1.1 1 -3.2 4.1 -1 5.2 4.2 4.9 .5 .2 4.6 1.2 5.2 0 5.1 2.9 1.1 1 4 2.9 5.2 1.2 4.8 1 .3 .1 .4-.1 4.7-.9 3.8-4.2 1.4-2.1 1.9-3 1.4-5.1 -1-5.2 -.6-5.1 -.3-5.1 0-5.1 -.4-5.1 0-5.1 4.1-.1 5.1 0 5.2 0 5.1 0 5.2 0 5.1 0 5.1 .1 .3 0 2.6 5.1 2.3 1.2 5.1 .8 5.1 0 5.2 1.2 1.5 1.9 -1.5 4.8 -.3 .3 .3 .1 5.1 2 5.1 1.1 5.2-.7 5.1-1.6 4.5-.9 -4.5-3.6 -1.3-1.5 -3.2-5.1 0-5.1 4.5-.1 5.1 0 5.2 0 5.1 0 5.1 0 5.2 0 5.1-.1 5.1 0 5.2 .1 5.1 0 5.1 0 5.2 0 5.1 0 5.1 0 5.2 0 5.1 0 5.1 0 5.2 0 5.1 .1 .5 0 -.5 .1 -5.1 2.7 -4.7 2.3 -.5 .2 -5.1 3.8 -1.1 1.1 -2.1 5.1 3.2 2 5.1 2.6 1.8 .5 3.4 1.2 5.1 1.3 5.2 2.5 1.2 .1 3.9 .3 .4-.3 3.1-5.1 .6-5.1 -2.7-5.1 -.3-5.1 4-3.4 4.2 3.4 1 .5 5.1 4.6 .1 0 5 2.4 0 2.7 .1 5.1 0 5.1 0 5.2 .1 5.1 0 5.1 0 5.1 0 5.1 0 5.1 .1 5.2 0 5.1 0 5.1 -.1 5.1 .1 5.1 0 5.1 0 5.1 0 5.2 0 5.1 0 5.1 .1 5.1 0 5.1 0 5.1 0 5.2 0 5.1 0 5.1 0 5.1 .1 5.1 0 5.1 -.1 5.2 .1 5.1 0 5.1 .1 5.1 0 5.1 0 5.1 0 5.1 0 5.2 0 5.1 0 5.1 -.1 5.1 0 5.1 -.1 5.1 0 5.2 -.1 5.1 0 5.1 0 5.1 .1 5.1 0 5.1 0 5.1 .1 5.2 .1 5.1 0 5.1 .1 5.1 0 5.1 0 5.1 0 5.2 0 5.1 0 5.1 -.1 5.1 0 5.1 0 5.1 -.1 5.2 .1 5.1 0 5.1 0 5.1 -.1 5.1 0 5.1 0 5.1 0 5.2 0 5.1 0 5.1 .1 5.1 0 5.1 0 5.1 0 5.2 0 5.1 0 5.1 .1 5.1 0 5.1 0 5.1 0 5.1 0 5.2 -.1 5.1 .1 5.1 0 5.1 0 5.1 -.1 5.1 0 5.2 0 5.1 0 5.1 0 5.1 0 5.1 0 5.1 0 5.2 0 5.1 0 5.1 0 5.1 .1 5.1 0 5.1 0 5.1 0 5.2 0 5.1 0 5.1 0 5.1 0 5.1 0 5.1 0 5.2 0 5.1 0 5.1 0 5.1 0 5.1 0 5.1 -.1 5.1 0 5.2 -.1 5.1 0 5.1 0 5.1 -.1 5.1 0 5.1 .1 5.2 0 5.1zM856.3 755.2l1.9-1.2 2.5-3.9 -2.5-1.4 -5.1-.8 -5.1 1.8 -.6 .4 .6 3.5 1.3 1.6 3.8 .8z"/>
<path fill="#6b47ff" d="M930.1 1359.2l-5.1 0 -5.1 0 -5.2 0 -5.1 0 -5.1 0 -5.2 0 -5.1 0 -5.2 0 -5.1-.1 -5.1 .1 -5.2 0 -5.1 .1 -5.1 0 -5.2 0 -5.1 0 -5.1 0 -5.2 0 -5.1-.1 -5.1 0 -5.2 0 -5.1 0 -5.1 .1 -5.2 0 -5.1 .1 -5.1 0 -5.2 0 -5.1-.1 -5.1 0 -5.2 0 -5.1 0 -5.1 0 -5.2 0 -5.1 0 -5.1-.1 -5.2 .1 -5.1 0 -5.2 .1 -5.1 0 -5.1 0 -5.2 0 -5.1 0 -5.1-.1 -5.2 .1 -5.1 0 -5.1 0 -5.2-.1 -5.1 0 -5.1 0 -5.2 0 -5.1 0 -5.1 0 -5.2 .1 -.5-.5 .1-5.1 0-5.2 0-5.1 0-5.1 0-5.1 .1-5.1 0-5.1 -.1-5.2 0-5.1 0-5.1 0-5.1 0-5.1 0-5.1 .1-5.1 0-5.2 .1-5.1 0-5.1 0-5.1 -.1-5.1 0-5.1 -.1-5.2 0-5.1 0-5.1 0-5.1 0-5.1 .1-5.1 0-5.1 -.1-5.2 0-5.1 0-5.1 0-5.1 0-5.1 0-5.1 0-5.2 .1-5.1 0-5.1 0-5.1 -.1-5.1 .1-5.1 0-5.2 0-5.1 0-5.1 0-5.1 .1-5.1 0-5.1 -.1-5.1 0-5.2 -.1-5.1 0-5.1 0-5.1 -.1-5.1 .1-5.1 0-5.2 0-5.1 .1-5.1 0-5.1 0-5.1 0-5.1 -.1-5.1 0-5.2 0-5.1 0-5.1 0-5.1 0-5.1 -.1-5.1 0-5.2 0-5.1 0-5.1 0-5.1 .1-5.1 0-5.1 0-5.2 0-5.1 0-5.1 0-5.1 0-5.1 0-5.1 0-5.1 0-5.2 -.1-5.1 0-5.1 .1-5.1 0-5.1 0-5.1 0-5.2 0-5.1 -.1-5.1 .1-5.1 .1-5.1 0-5.1 0-5.1 0-5.2 0-5.1 0-5.1 0-5.1 0-5.1 0-5.1 -.1-5.2 .1-5.1 0-5.1 0-5.1 0-5.1 0-5.1 0-5.2 0-5.1 0-5.1 0-5.1 0-5.1 .1-5.1 .1-5.1 0-5.2 .1-5.1 0-5.1 0-5.1 0-2.2 1.4 2.2 3.8 1.9 5.1 .3 4.4-2.2 .7-.5 5.2-.1 1.4 .6 3.7 1.2 5.1 2.4 2.2 1.5 3 2.4 3.5 2.7 1.6 1.3 5.1 1.4 5.2-.2 5.1-.1 5.1-1.2 1.9-1.2 3.3-2.7 2-2.4 3.1-4.2 .8-.9 4.3-4.6 .7-.5 4.5-3 5.1-1.7 1.8-.4 3.4-1.1 5.1-1.2 5.1-.8 5.2-.7 5.1 .5 5.1 1.4 5.2-1.8 2.4-1.5 2.7-1 5.1-.5 5.2-.5 5.1-1.4 5.1-1.5 .5-.2 4.7-1.6 5.1-2.7 1.7-.8 .9-5.1 2-5.1 .5-1.1 3.3-4 1.9 0 5.1-.1 5.1 0 5.2 0 4.7 .1 -4.7 3.6 -1.8 1.5 -3.4 2.4 -2.4 2.7 -2.7 2.8 -2.4 2.3 1.5 5.1 .9 1.5 2.3 3.6 2.8 2.8 3.2 2.4 2 1.5 5.1 2.8 1.5 .8 3.6 1.9 5.2 0 1.3-1.9 2.7-5.1 1.1-1.4 2.9-3.8 2.2-1.7 5.2-.9 5.1 1.4 2.8 1.2 2.3 1.4 4.8 3.8 .4 .3 5.1 2.5 5.2 .6 5.1 .1 5.1-.3 5.2-2.3 1-.9 4.1-3.5 5.1 .2 0 3.3 .1 5.1 0 5.1 0 5.1 0 5.1 .1 5.1 0 5.2 0 5.1 0 5.1 -.1 5.1 .1 5.1 0 5.1 0 5.1 0 5.2 .1 5.1 -.1 5.1 .1 5.1 0 5.1 0 5.1 0 5.2 0 5.1 0 5.1 .1 5.1 0 5.1 0 5.1 0 5.2 0 5.1 0 5.1 .1 5.1 0 5.1 0 5.1 0 5.1 0 5.2 0 5.1 0 5.1 -.1 5.1 0 5.1 0 5.1 -.1 5.2 0 5.1 -.1 5.1 0 5.1 .1 5.1 0 5.1 .1 5.1 0 5.2 .1 5.1 0 5.1 .1 5.1 0 5.1 0 5.1 0 5.2 0 5.1 0 5.1 -.1 5.1 0 5.1 0 5.1 0 5.2 0 5.1 0 5.1 0 5.1 -.1 5.1 0 5.1 0 5.1 0 5.2 0 5.1 0 5.1 .1 5.1 0 5.1 .1 5.1 -.1 5.2 0 5.1 .1 5.1 0 5.1 0 5.1 0 5.1 0 5.1 0 5.2 0 5.1 0 5.1 0 5.1 0 5.1 0 5.1 0 5.2 -.1 5.1 0 5.1 0 5.1 0 5.1 0 5.1 0 5.2 0 5.1 0 5.1 0 5.1 .1 5.1 0 5.1 0 5.1 0 5.2 0 5.1 0 5.1 0 5.1 0 5.1 0 5.1 0 5.2 .1 5.1 0 5.1 -.1 5.1 0 5.1 0 5.1 -.1 5.1 0 5.2 -.1 5.1 0 5.1 0 5.1 -.1 5.1 0 5.1 .1 5.2 0 5.1zM673.4 755.3l-.1-.1 .1-.1 .1 .1z"/>
<path fill="#5c3dff" d="M930.1 1359.1l-5.1 0 -5.1 0 -5.2 0 -5.1 0 -5.1 0 -5.2 0 -5.1 0 -5.2 0 -5.1-.1 -5.1 .1 -5.2 0 -5.1 .1 -5.1 0 -5.2 0 -5.1 0 -5.1 0 -5.2 0 -5.1-.1 -5.1 0 -5.2 0 -5.1 .1 -5.1 0 -5.2 0 -5.1 .1 -5.1 0 -5.2 0 -5.1-.1 -5.1 0 -5.2 0 -5.1 0 -5.1 0 -5.2 0 -5.1 0 -5.1-.1 -5.2 .1 -5.1 0 -5.2 .1 -5.1 0 -5.1 0 -5.2 0 -5.1 0 -5.1 0 -5.2 0 -5.1 0 -5.1 0 -5.2-.1 -5.1 0 -5.1 0 -5.2 0 -5.1 0 -5.1 0 -5.2 .1 -.4-.4 0-5.1 .1-5.2 0-5.1 0-5.1 0-5.1 0-5.1 .1-5.1 -.1-5.2 0-5.1 0-5.1 0-5.1 0-5.1 0-5.1 .1-5.1 0-5.2 .1-5.1 0-5.1 0-5.1 -.1-5.1 -.1-5.1 0-5.2 -.1-5.1 .1-5.1 0-5.1 0-5.1 0-5.1 0-5.1 0-5.2 0-5.1 0-5.1 0-5.1 0-5.1 0-5.1 0-5.2 .1-5.1 0-5.1 0-5.1 -.1-5.1 .1-5.1 0-5.2 0-5.1 0-5.1 0-5.1 .1-5.1 0-5.1 -.1-5.1 0-5.2 -.1-5.1 0-5.1 -.1-5.1 0-5.1 .1-5.1 0-5.2 0-5.1 .1-5.1 0-5.1 0-5.1 0-5.1 -.1-5.1 0-5.2 0-5.1 0-5.1 0-5.1 0-5.1 -.1-5.1 0-5.2 0-5.1 0-5.1 0-5.1 .1-5.1 0-5.1 0-5.2 0-5.1 0-5.1 -.1-5.1 .1-5.1 0-5.1 0-5.1 -.1-5.2 0-5.1 0-5.1 .1-5.1 0-5.1 0-5.1 0-5.2 -.1-5.1 0-5.1 .1-5.1 0-5.1 .1-5.1 0-5.1 0-5.2 0-5.1 0-5.1 0-5.1 0-5.1 0-5.1 -.1-5.2 .1-5.1 0-5.1 0-5.1 0-5.1 0-5.1 0-5.2 0-5.1 0-5.1 0-5.1 0-5.1 .1-5.1 .1-5.1 0-5.2 0-.3 5.2-3.1 5.1-.9 3.1-.8 2-.6 5.2-2.3 5.1-.2 5.1 2.4 .9 .7 4.3 4.4 .9 .7 4.1 5.2 .1 0 5.1 2.4 5.2-1.3 2.4-1.1 2.7-1 5.1-2.4 3.1-1.8 2.1-1.2 4.8-3.9 .3-.3 4.6-4.8 .5-.7 4.6-4.4 .6-.5 5.1-2.9 4.9-1.7 .3-.1 5.1-.5 5.1 .4 1.2 .2 4 1 5.1 1.2 5.1 .6 5.2-1.4 1.5-1.4 3.6-3.6 2.1-1.5 3-1.2 5.2-.8 5.1-.9 5.1-1.5 2.7-.8 2.5-.6 5.1-.6 2.7 1.2 2.4 1.5 4.5 3.7 .7 .3 5.1 3.5 1.4 1.3 3.7 3.9 1.3 1.2 3.9 3.2 3.4 1.9 1.7 .6 5.1 .6 5.2 .4 2.1-1.6 3-4 .4-1.1 3.9-5.1 .8-1.3 5.2-3 5.1 .7 4.1 3.6 1 1 5.2 3.3 5.1 .4 5.2-.1 3.5 .5 1.6 .4 5.1 4.6 .1 .1 5.1 4.5 4.5 .6 .6 .1 1.2-.1 3.9-.3 0 .3 .1 5.1 0 5.2 0 5.1 0 5.1 0 5.1 0 5.1 0 5.1 0 5.1 0 5.2 .1 5.1 0 5.1 0 5.1 0 5.1 0 5.1 0 5.2 0 5.1 0 5.1 .1 5.1 0 5.1 0 5.1 0 5.2 0 5.1 0 5.1 .1 5.1 .1 5.1 0 5.1 -.1 5.1 0 5.2 0 5.1 0 5.1 0 5.1 -.1 5.1 0 5.1 -.1 5.2 0 5.1 -.1 5.1 0 5.1 .1 5.1 0 5.1 .1 5.1 0 5.2 .1 5.1 .1 5.1 0 5.1 0 5.1 0 5.1 0 5.2 0 5.1 0 5.1 -.1 5.1 0 5.1 0 5.1 0 5.2 0 5.1 0 5.1 0 5.1 -.1 5.1 0 5.1 0 5.1 0 5.2 0 5.1 0 5.1 .1 5.1 0 5.1 .1 5.1 0 5.2 0 5.1 0 5.1 0 5.1 0 5.1 0 5.1 0 5.1 0 5.2 0 5.1 0 5.1 0 5.1 0 5.1 0 5.1 0 5.2 0 5.1 -.1 5.1 0 5.1 0 5.1 0 5.1 0 5.2 .1 5.1 0 5.1 0 5.1 0 5.1 0 5.1 0 5.1 0 5.2 0 5.1 0 5.1 0 5.1 0 5.1 0 5.1 .1 5.2 0 5.1 0 5.1 0 5.1 -.1 5.1 0 5.1 -.1 5.1 0 5.2 -.1 5.1 0 5.1 0 5.1 0 5.1 0 5.1 0 5.2 0 5.1zM890.8 867.8l1.1-5.1 -2.9-4.3 -1-.9 -4.1-2.4 -5.1 1.5 -1 .9 -3.1 5.2 3.2 5.1 .9 .4 5.1 1.2 5.1-.4zM844.5 878l-1.7-1.8 -3.6 1.8 3.6 3.2z"/>
<path fill="#4c33ff" d="M930.1 1359l-5.1 0 -5.1 0 -5.2 0 -5.1 0 -5.1 0 -5.2 0 -5.1 0 -5.2 0 -5.1 0 -5.1 0 -5.2 0 -5.1 .1 -5.1 0 -5.2 0 -5.1 0 -5.1 0 -5.2 0 -5.1 0 -5.1-.1 -5.2 0 -5.1 .1 -5.1 0 -5.2 .1 -5.1 0 -5.1 0 -5.2 0 -5.1 0 -5.1-.1 -5.2 0 -5.1 0 -5.1 0 -5.2 0 -5.1 0 -5.1 0 -5.2 0 -5.1 0 -5.2 .1 -5.1 0 -5.1 0 -5.2 0 -5.1 0 -5.1 0 -5.2 0 -5.1 0 -5.1 0 -5.2-.1 -5.1 0 -5.1 0 -5.2 0 -5.1 0 -5.1 0 -5.2 .1 -.3-.3 0-5.1 .1-5.2 0-5.1 0-5.1 0-5.1 0-5.1 .1-5.1 -.1-5.2 0-5.1 0-5.1 0-5.1 0-5.1 0-5.1 .1-5.1 0-5.2 .1-5.1 0-5.1 0-5.1 -.1-5.1 -.1-5.1 -.1-5.2 0-5.1 0-5.1 .1-5.1 0-5.1 0-5.1 0-5.1 0-5.2 0-5.1 0-5.1 0-5.1 0-5.1 0-5.1 0-5.2 .1-5.1 0-5.1 0-5.1 -.1-5.1 0-5.1 .1-5.2 0-5.1 0-5.1 0-5.1 0-5.1 .1-5.1 -.1-5.1 0-5.2 -.1-5.1 -.1-5.1 0-5.1 0-5.1 .1-5.1 0-5.2 0-5.1 0-5.1 .1-5.1 0-5.1 -.1-5.1 0-5.1 0-5.2 0-5.1 0-5.1 0-5.1 0-5.1 -.1-5.1 0-5.2 0-5.1 0-5.1 0-5.1 .1-5.1 0-5.1 0-5.2 0-5.1 -.1-5.1 0-5.1 0-5.1 .1-5.1 0-5.1 -.1-5.2 0-5.1 0-5.1 .1-5.1 0-5.1 0-5.1 0-5.2 -.1-5.1 0-5.1 .1-5.1 0-5.1 .1-5.1 0-5.1 0-5.2 0-5.1 0-5.1 0-5.1 0-5.1 -.1-5.1 0-5.2 0-5.1 .1-5.1 0-5.1 0-5.1 0-5.1 0-5.2 0-5.1 0-5.1 0-5.1 0-5.1 .1-5.1 0-1.6 5.2-2.1 2.3-1.4 2.8-1.6 5.1-.7 5.2-1.4 2.1-1.5 3-1.2 2.8 1.2 2.3 1.4 2.7 3.8 2.5 4.6 .3 .5 4.8 4.7 1.5 .4 3.6 .8 3.7-.8 1.5-.4 5.1-3 1.6-1.7 3.5-2.8 3.1-2.3 2.1-1.3 5.1-2.5 3-1.4 2.1-1.4 5.2-3.3 .8-.4 4.3-2.8 5.2-1 5.1 .5 5.1 .2 5.2-.5 5.1-1.1 3.1-.4 2-.3 5.2-.5 5.1-2.9 1.5-1.4 3.6-3.7 3.1-1.4 2.1-.7 5.1-.4 5.1 0 5.2 .2 5.1 .5 1.2 .4 3.9 1.2 5.2 2.7 1.3 1.2 3.8 2.8 2.5 2.3 2.6 1.9 5.1 3.2 .1 .1 5.1 1.1 5.1 .5 5.2 .5 5.1 .1 2.8-2.3 -.7-5.1 1.4-5.1 1.6-1.9 5.2-.5 2.9 2.4 2.2 4.9 .6 .2 4.5 1.1 5.2 1.3 5.1 2.6 .2 .1 -.2 3.4 0 1.7 -1.8 5.2 0 5.1 1.8 2 1.7 3.1 1.3 5.1 -.4 5.1 .5 5.1 -3.1 2.9 -3.4 2.2 -1.7 .5 -5.2 3.3 -2 1.4 -3.1 1.6 -4.1 3.5 -1 1.2 -3 3.9 -2.2 3.4 -2.1 1.7 -3 3 -5.1 1.8 -5.2-.3 -4.9 .6 -.2 0 -5.1 1.9 -4.1 3.2 -1.1 1.2 -3.5 4 -1.6 1.5 -3.4 3.6 -1.7 2 -1.6 3.1 -1.2 5.1 1.2 5.1 1.6 1.8 4.7 3.3 .4 .2 5.1 .8 5.2-.1 3.9-.9 1.2-.8 2.4-4.3 2.5-5.1 .2-.2 5.2-2.2 5.1-.8 5.1 .4 5.2 1.5 3.1 1.3 2 1 5.1 1.6 5.2-.5 1.9-2.1 3.2-3.9 .7-1.2 2.9-5.1 -.1-5.1 -1.8-5.2 -1.1-5.1 .7-5.1 2.2-5.1 1.7-4.6 .4-.5 -.4-1.8 -.7-3.3 -2.5-5.2 3.2-3.4 1.8-1.7 3.3-.9 5.1-2.5 5.2-1 5.1 4.3 .1 .1 5 4.9 0 .2 .1 5.2 0 5.1 0 5.1 0 5.1 0 5.1 0 5.1 0 5.2 0 5.1 0 5.1 .1 5.1 0 5.1 0 5.1 0 5.2 0 5.1 0 5.1 .1 5.1 .1 5.1 0 5.1 0 5.1 0 5.2 -.1 5.1 0 5.1 0 5.1 -.1 5.1 0 5.1 -.1 5.2 0 5.1 -.1 5.1 .1 5.1 0 5.1 0 5.1 .1 5.1 0 5.2 .1 5.1 .1 5.1 0 5.1 0 5.1 0 5.1 .1 5.2 -.1 5.1 0 5.1 -.1 5.1 0 5.1 0 5.1 0 5.2 0 5.1 0 5.1 0 5.1 0 5.1 -.1 5.1 0 5.1 0 5.2 0 5.1 0 5.1 .1 5.1 .1 5.1 0 5.1 0 5.2 0 5.1 0 5.1 0 5.1 0 5.1 0 5.1 0 5.1 0 5.2 0 5.1 0 5.1 0 5.1 0 5.1 0 5.1 0 5.2 0 5.1 0 5.1 -.1 5.1 .1 5.1 0 5.1 0 5.2 0 5.1 0 5.1 0 5.1 0 5.1 0 5.1 0 5.1 0 5.2 0 5.1 0 5.1 0 5.1 .1 5.1 0 5.1 0 5.2 0 5.1 0 5.1 0 5.1 -.1 5.1 0 5.1 -.1 5.1 0 5.2 -.1 5.1 0 5.1 0 5.1 0 5.1 0 5.1 0 5.2 0 5.1zM915.1 980.3l3.9-5.1 -4.1-5.1 -.2-.1 -5.1-1 -1.5 1.1 -1.9 5.1 1.5 5.1 1.9 1.5 5.1-1.3z"/>
<path fill="#3d29ff" d="M930.1 1359l-5.1-.1 -5.1 0 -5.2 0 -5.1 0 -5.1 0 -5.2 0 -5.1 0 -5.2 0 -2.1 0 -3-2 -2.8 2 -2.3 0 -5.2 0 -5.1 .1 -5.1 0 -5.2 0 -5.1 .1 -5.1 0 -5.2-.1 -5.1 0 -5.1-.1 -5.2 0 -5.1 .1 -5.1 0 -5.2 .1 -5.1 0 -5.1 0 -5.2 0 -5.1 0 -5.1-.1 -5.2 0 -5.1 0 -5.1 0 -5.2 .1 -5.1-.1 -5.1 0 -5.2 0 -5.1 .1 -5.2 0 -5.1 0 -5.1 0 -5.2 0 -5.1 0 -5.1 0 -5.2 0 -5.1 0 -5.1 0 -5.2-.1 -5.1 0 -5.1 0 -5.2 0 -5.1 0 -5.1 0 -5.2 .1 -.2-.2 0-5.1 0-5.2 0-5.1 .1-5.1 0-5.1 0-5.1 0-5.1 0-5.2 0-5.1 0-5.1 0-5.1 0-5.1 0-5.1 0-5.1 .1-5.2 0-2.5 2.8-2.6 .3-5.1 -2.1-5.1 -1-2.2 0-2.9 -.1-5.1 -.1-5.2 0-5.1 0-5.1 .1-5.1 0-5.1 0-5.1 0-5.1 0-5.2 0-5.1 0-5.1 0-5.1 0-5.1 0-5.1 0-5.2 .1-5.1 0-5.1 -.1-5.1 0-5.1 0-5.1 .1-5.2 0-5.1 0-5.1 0-5.1 0-3.9 1.4-1.2 -.2-5.1 -1.2-2.1 0-3 -.1-5.2 0-5.1 -.1-5.1 0-5.1 0-5.1 .1-5.1 0-5.2 0-5.1 0-5.1 0-5.1 0-5.1 0-5.1 0-5.1 0-5.2 -.1-5.1 .1-5.1 0-5.1 -.1-5.1 0-5.1 -.1-5.2 0-5.1 .1-5.1 0-5.1 .1-5.1 0-5.1 0-5.2 0-5.1 -.1-5.1 0-5.1 0-5.1 .1-5.1 -.1-5.1 0-5.2 0-5.1 0-5.1 0-5.1 .1-5.1 0-5.1 0-5.2 -.1-5.1 0-5.1 0-5.1 .1-5.1 .1-5.1 0-5.1 0-5.2 0-5.1 0-5.1 0-5.1 0-5.1 -.1-5.1 0-5.2 0-5.1 .1-5.1 0-5.1 0-5.1 0-5.1 0-5.2 0-5.1 0-5.1 0-5.1 0-5.1 0-.9 5.2 .1 5.1-.6 1.8 1.4 1.8 5.1 1.3 5.1 .2 .7 5.2 3.1 5.1-.6 3.7-3.2 1.4-1 5.2-1.4 5.1-.1 5.1 .1 5.2 .4 5.1 .1 2.3-3.2 2.8-4.2 .5-.9 3.9-5.1 .8-.6 5.1-2.1 5.1-1.3 2.9-1.1 2.3-.9 5.1-1.6 5.2 0 5.1-.1 5.1-1.5 2.3-1.1 2.9-1.3 5.1-2.3 5.1-1.1 5.2-.2 .6-.2 4.5-1.4 5.1-2.6 3.6-1.1 1.6-.9 5.1 .1 2.5 .8 2.6 .8 5.2 1.1 5.1 0 5.1-.9 5.2-.4 5.1 1.3 3.8 3.2 1.3 2 5.2 3 .9 .1 4.2 .9 5.1 .7 5.2 .9 5.1 .8 5.1-.1 5.2-1.1 5.1 .4 .6 2.7 -.6 1.2 -1.3 3.9 0 5.1 1.3 4 .6 1.1 2.4 5.1 -.8 5.1 -2.2 2.7 -2.4 2.4 -2.7 2 -4.5 3.2 -.7 .6 -5.1 2 -5.1-.7 -5.2 1.2 -1.6 2 -3.5 3.6 -3 1.5 -2.1 .7 -5.2-.6 -5.1 2.1 -2.1 2.9 -2.5 5.1 -.5 .7 -3.3 4.4 -1.9 2.8 -.8 2.4 -1.3 5.1 -1 5.1 -.8 5.1 .5 5.1 3.4 5.1 .1 0 5.1 4.1 4.1 1.1 1 .2 5.1 .3 5.2 .5 5.1 .4 5.1-.9 1.1-.5 4.1-4.1 1-1.1 4.1-3.8 5.1-.6 5.2 1.9 4.4 2.5 .7 .5 5.1 2.5 3.5 2.2 1.7 1.1 5.1 1.9 5.2-1.2 2.5-1.8 1.8-5.2 .4-5.1 .4-1.1 3.3-4 1.8-.9 5.2-1.9 4.3-2.3 .8-.7 5.1-2.9 0 3.6 .1 5.1 0 5.1 0 5.1 0 5.2 0 5.1 0 5.1 .1 5.1 .1 5.1 0 5.1 0 5.1 0 5.2 -.1 5.1 0 5.1 0 5.1 -.1 5.1 0 5.1 -.1 5.2 0 .1 -1.3-.1 -3.8-.4 -5.1-.1 -5.2 .4 -1 .1 -4.1 .2 -5.1 .9 -5.2 2.7 -1.6 1.3 1.2 5.1 .4 .8 .9 4.3 .8 5.1 1.6 5.1 1.9 2.5 5.1 1.2 5.1-1.5 5.2-1.2 5-1 .1 0 5.1-.5 0 .5 .1 5.1 0 5.2 .1 5.1 .1 5.1 0 5.1 0 5.1 .1 5.1 0 5.2 0 5.1 -.1 5.1 0 5.1 -.1 5.1 0 5.1 0 5.2 0 5.1 0 5.1 0 5.1 0 5.1 -.1 5.1 0 5.1 0 5.2 0 5.1 .1 5.1 0 5.1 .1 5.1 0 5.1 0 5.2 0 5.1 0 5.1 0 5.1 0 5.1 0 5.1 0 5.1 0 5.2 0 5.1 0 5.1 0 5.1 0 5.1 0 5.1 0 5.2 0 5.1 0 5.1 0 5.1 0 5.1 0 5.1 0 5.2 0 5.1 0 5.1 0 5.1 0 5.1 0 5.1 0 5.1 0 5.2 0 5.1 0 5.1 .1 5.1 0 5.1 0 5.1 0 5.2 0 5.1 0 5.1 0 5.1 -.1 5.1 0 5.1 0 5.1 -.1 5.2 0 5.1 -.1 5.1 0 5.1 0 5.1 0 5.1 0 5.2 0 5.1zM692.3 847.3l1.6-4.8 .1-.3 -.1-.5 -2-4.6 -3.1-3 -3.7-2.1 -1.4-1.3 -1.1 1.3 -2.1 5.1 -.6 5.1 .7 5.1 3.1 3.7 5.1 1.2zM914.7 858.1l-2.4-.6 -2.7-3 -.3-2.1 .3-.4 5.1 .3 .4 .1 1.7 5.1zM824.3 959.9l3.1-3.6 .7-1.6 -.7-3.1 -.4-2 -4.7-5.1 -.1 0 -5-1.5 -5.2 1 -.8 .5 -.8 5.1 1.6 4.5 .3 .6 3.7 5.2 1.2 .9 5.1 .2zM700.2 1190.1l1.3-5.2 -.2-5.1 -.6-5.1 -1.5-5.1 -.1-.1 -5.2-3.7 -2.3-1.3 -2.8-1.5 -2.7-3.6 -2.1-5.2 -.3-.5 -3.3-4.6 -1.9-2.2 -5.1-2.2 -5.1 .6 -.8 3.8 .8 3.5 .3 1.6 4 5.2 .8 .9 4.4 4.2 .7 .9 2.8 4.2 2.4 4.8 .2 .3 2.4 5.1 2.5 5 .2 .1 4.4 5.2 .5 .6 5.2 .8zM726.1 1225.9l.1-5.1 -1.5-2.5 -2.1-2.7 -3-2.5 -5.1-1.9 -2.9 4.4 1.3 5.2 1.6 2.2 2 2.9 3.1 3.1 5.1 .5zM735.9 1266.8l2.2-5.1 -.7-5.1 -.9-5.2 -1.5-4.6 -.6-.5 -4.5-2.7 -.9 2.7 -.2 5.1 -2.4 5.2 -1.7 1.8 -1.2 3.3 1.2 4.3 .8 .8 4.4 1.6 5.1-1zM726 1302.6l2.9-5.1 1-2 5.1-1.7 2.1-1.4 3-3.2 5.2-1.2 5.1 1.6 3.2-2.3 -2.1-5.2 -1.1-1.1 -5.1-1 -5.2 1.3 -5.1 .7 -.2 .1 -4.9 4.5 -1.1 .7 -4.1 1.8 -3.3-1.8 -1.8-.6 -5.1-1.7 -1.5 2.3 -.7 5.1 1.6 5.1 .6 .5 3.5 4.6 1.6 1.3 5.1 0zM771.1 1323.1l-.1-.5 -5-4.7 .1-5.1 -.3-.4 -.8 .4 .8 5.1 0 .3 4.5 4.9 .7 .1z"/>
<path fill="#2e1fff" d="M868.5 1358.9l-5.1 0 -5.2 0 -5.1 .1 -5.1 0 -5.2-.1 -5.1 0 -1.1 0 -4-2.9 -5.2-.7 -3.7 3.6 -1.4 0 -5.1 0 -5.2 .1 -5.1 0 -5.1 .1 -5.2-.1 -5.1 0 -5.1-.1 -5.2 0 -5.1 0 -5.1 .1 -5.2 0 -5.1-.1 -5.1 0 -5.2 0 -5.1 .1 -5.2 0 -5.1 0 -5.1 0 -5.2 0 -5.1 0 -5.1 0 -5.2 0 -5.1 0 -5.1 0 -5.2-.1 -5.1 0 -5.1 0 -5.2 0 -5.1 0 -5.1 0 -5.2 .1 -.1-.1 0-5.1 0-5.2 0-5.1 .1-5.1 0-5.1 0-5.1 0-4.3 1.6-.8 -1.6-.6 0-4.6 0-5.1 -.1-5.1 0-5.1 .1-5.1 0-5.1 0-4.6 5.2 3 2 1.6 .7 5.1 -.4 5.1 .8 5.1 1.4 5.1 .6 1.8 5.1-.7 5.2-.5 3.5-.6 1.6-.3 5.1-.1 .3 .4 4 5.1 .9 1.3 5.1 2.9 4.4-4.2 .7-1 1.6-4.1 2.8-5.1 .8-.7 1.1 .7 4 1.3 5 3.8 .1 .2 5.1 4.9 .1 .1 3.6 5.1 1.5 1.2 5.1-.8 .6-.4 3.2-5.2 -3.8-4.9 -5.1-.1 -.1-.1 -.8-5.1 .9-.9 5.1-1.4 2.8-2.8 2.4-3.9 5.1 2.8 .5 1.1 -.1 5.1 -.4 3.5 -1.8 1.6 1.8 .6 2.8 4.5 2.4 2.1 1.7 3.1 3.4 4.9 .1 .2 5 3.1 3.9 2 1.3 1 3.4 4.1 .8 5.1 .9 2.3 2.3 2.8 2.8 3.2 2.6-3.2 2.1-5.1 -.1-5.1 -3.4-5.1 -1.2-1.3 -1.9-3.8 0-5.1 1.9-3.7 5.2 1.4 5.1-.3 2.7-2.6 2.4-3.3 1 3.3 1.3 5.2 2.9 1.6 2 3.5 3.1 2.2 3.7 2.9 1.4 1.2 3-1.2 2.2-2.7 1.1-2.4 4-4 .7-1.1 1-5.2 -.9-5.1 -.8-1.9 -1.6-3.2 -3.5-3.9 -2.7-1.2 -2.5-1 -5.1 .6 -5.1-1.1 -5.2-.2 -1.7 1.7 -3.4 5.1 -5.1-3.2 -5.2 0 -4 3.2 -1.1 1.6 -5.1-1.5 -.2-.1 -4-5.1 -1-1.8 -1.5-3.3 -1.7-5.1 -1.1-5.1 -.8-1.1 -2.3-4.1 -2.8-4 -1-1.1 -4.2-4.3 -.8-.8 -2.9-5.1 -1.4-2.9 -.5-2.2 -.5-5.1 .9-5.2 .1 0 4.9-5.1 .2-5.1 -2-5.1 -2.4-5.1 -.7-1 -5.2-.6 -3.7 1.6 -1.4 .5 -.3-.5 -.9-5.1 .2-5.1 -1.3-5.2 -2.7-5.1 -.1-.3 -5.2-3.6 -5.1-.6 -.6-.6 -3.5-5.1 -1-1.9 -1.1-3.2 1.1-2.5 4-2.6 1.1-.6 2.3-4.6 .9-5.1 -1.1-5.1 -2.1-3.8 -1.3-1.3 -3.7-5.1 -.1-.2 -4-4.9 -.8-5.2 -.4-1.7 -.6-3.4 -4-5.1 -.5-.3 -5.1-2.5 -5.2-1.9 -1.2-.4 -3.9-1.3 -5.1-.5 -5.2-2.9 -.7-.4 -4.4-1.8 -2.7-3.3 -2.4-4 -.7-1.1 -3.8-5.2 -.7-.6 0-4.5 -.1-5.1 0-5.1 0-5.1 0-5.1 .1-5.2 0-5.1 0-5.1 0-2 .3-3.1 -.1-5.1 -.2-1.3 0-3.8 0-5.1 0-5.2 -.1-5.1 0-5.1 .1-5.1 -.1-5.1 0-5.1 -.1-5.2 0-5.1 .1-5.1 0-5.1 .1-5.1 0-5.1 0-5.2 0-5.1 -.1-5.1 0-5.1 0-5.1 0-5.1 0-5.1 0-5.2 0-5.1 0-5.1 0-5.1 .1-5.1 0-5.1 0-5.2 -.1-5.1 0-5.1 0-5.1 .1-5.1 0-1.4 5.2 .3 5.1 .6 1.5 .5 3.6 1.2 1.8-1.2 3.4-3.6 .6-1.5 3-5.1 1.5-1.9 5.1-1.1 3.6-2.2 -1.4-5.1 -2.2-4.1 -1.1-1 -2.9-5.1 -.5-5.1 1.7-5.1 2.8-5 .1-.2 2.8-5.1 2.3-3.6 1-1.5 2.1-5.1 1.3-5.1 .7-2 2.1-3.1 3-3.4 5.2 .6 5.1 1.6 5.1 .1 5.2-2.6 1.5-1.5 3.2-5.1 .4-.9 3.7-4.2 1.4-1.2 2.7-3.9 2.5-3 1.5-2.1 3.6-2.9 5.2-1.8 1.3-.4 3.8-.9 5.1-2 4.3-2.2 .9-.5 5.1-2.5 5.1-1.7 1.3-.5 3.9-.7 5.1-2.1 5.1-1.6 5.2-.3 5.1 1.9 3.4 2.8 1.3 5.2 .4 5.1 0 .2 5.2 2.4 5.1 .7 .1 1.8 -.1 .3 -5.1 2.7 -1 2.1 -2.3 5.1 3.3 3.7 2.7 1.4 2.4 .5 5.1 .1 1.5-.6 3.7-1.9 2-3.2 2-5.1 1.1-4.7 .1-.4 -.1-.7 -2.2-4.4 -2.9-.4 -5.1-4.7 .1-5.2 2.8-5.1 2.2-1.4 5.1 1.1 .4 .3 3.8 5.1 .9 4.4 2.5 .8 2.7 .5 5.1 .7 5.1 1.3 5.2 1.9 1.8 .7 3.3 2.7 3.8 2.4 1.3 1.1 1.9 4 1.8 5.1 -2.7 5.1 -1 .7 -5.1-.1 -1.1-.6 -4-3 -5.2 .4 -3 2.6 -2.1 1.5 -5 3.6 -.1 .1 -5.2 3 -4 2.1 -1.1 .4 -5.1 2.6 -3 2.1 -2.2 1.7 -2.9 3.4 -2.1 5.1 -.1 .4 -1.5 4.7 -1.2 5.1 -.3 5.2 -.2 5.1 -.8 5.1 -1.1 4.1 -.5 1 -2.5 5.1 -.4 5.1 3.4 4.5 .5 .7 4.6 3 3.1 2.1 2 .9 5.2 .7 5.1-.9 5.1-.6 5.2 .4 5.1 .8 5.1 .5 5.2-.2 5.1-.4 5.1 1.8 4 2.1 1.2 .2 5.1 .2 5.1 .6 5.2 .3 5.1-1 .6-.3 4.6-1.9 5.1-2.2 2.9-1 2.2-1.6 5.2-1.8 5.1 2.1 1.1 1.3 4 2.1 .1 3 0 5.1 .1 5.1 0 5.1 0 5.1 0 5.2 0 5.1 -.1 5.1 0 5.1 -.1 5.1 0 1.6 -5.1-1.1 -3.3-.5 -1.8-.3 -5.2 .1 -2.6 .2 -2.5 .3 -5.1 .6 -5.2 .9 -5.1 .3 -5.2 1.5 -.4 1.5 .4 .7 1.6 4.5 .9 5.1 .1 5.1 2.1 5.1 .5 .8 1.6 4.3 1.3 5.1 2.2 3.8 .9 1.3 4.3 3.9 5.1 .6 5.1-1.7 5.2-.7 5.1 .3 5.1 .9 0 1.9 .1 5.1 .1 5.1 0 5.1 0 5.1 .1 5.1 0 5.2 0 5.1 -.1 5.1 0 5.1 -.1 5.1 0 5.1 0 5.2 0 5.1 0 5.1 0 5.1 0 5.1 -.1 5.1 0 5.1 0 5.2 0 5.1 .1 5.1 0 5.1 .1 5.1 0 5.1 0 5.2 0 5.1 0 5.1 0 5.1 0 5.1 0 5.1 0 5.1 0 5.2 0 5.1 0 5.1 0 5.1 0 5.1 0 5.1 0 5.2 0 5.1 0 5.1 0 5.1 0 5.1 0 5.1 0 5.2 0 5.1 0 5.1 0 5.1 0 5.1 0 5.1 .1 5.1 -.1 5.2 0 5.1 0 5.1 .1 5.1 0 5.1 0 5.1 0 5.2 0 5.1 0 5.1 0 5.1 0 5.1 -.1 5.1 0 5.1 -.1 5.2 0 5.1 -.1 5.1 0 2.7 -5.1-.7 -5.1 .8 -3.5 2.3 -1.7 1 -5.1 2.9 -5.1 .8 -2.7 .4 -2.5 .6 -5.1-.1 -1.7-.5 -3.5-.6 -5.1-.5 -5.1 .3 -5.2 .3 -2.7 .5 -1.7 5.1 1.7 5.2 1.2 5.1zM771.8 893.4l-.2-5.2 -.6-1.6 -5.2-3.2 -1-.3 -4.1-.5 -3.7 .5 -1.4 .6 -1.8 4.5 1.8 3.5 2.7 1.7 2.4 .9 5.1 1.9 5.2-.1zM679.1 924l-.6-.6 -.6 .6 .6 1.9zM879.5 944.5l4.4-3.6 .6-1.5 -.4-5.1 -.2-.3 -3.5-4.8 -1.6-1 -5.2 0 -1 1 -4.1 3.2 -1.9 1.9 -3.2 3.3 -2.4 1.8 .1 5.1 2.3 1.3 5.1 1.4 5.1-.5 5.2-2zM826.6 970.1l.8-.2 5.2-3.7 1.1-1.2 2.8-5.1 -.3-5.2 -2.4-5.1 -1.2-1.2 -3.4-3.9 -1.8-1.3 -5.1-3.3 -1.4-.5 -3.7-1.3 -5.2-.3 -5.1 1 -1.9 .6 -3.2 3.3 -1.4 1.8 1.4 3.6 .3 1.5 3 5.1 1.8 3.9 .5 1.3 3.4 5.1 1.2 1.2 5.2 3.4 1.8 .5 3.3 1zM903 1072.4l1.5-1.2 3.3-3.9 1.8-2.5 1.6-2.6 .9-5.1 -2.5-4 -1.3-1.2 -3.8-2 -5.2-.9 -4.3 2.9 -.8 1.2 -2.1 4 -2.1 5.1 -1 3.5 -.4 1.6 .4 1.4 1.4 3.7 3.8 3 5.1 .1zM683.7 1293.8l-5.2 .5 -3.4-1.9 -1.7-2.5 -2-2.6 1-5.2 -.5-5.1 -1.3-5.1 -2-5.1 -.3-.5 -2.5-4.6 -2.7-4 0-1.1 -.1-5.2 0-5.1 0-5.1 .1-5.1 0-5.1 0-5.1 0-5.1 0-5.2 0-5.1 0-5.1 0-5.1 0-5.1 0-5.1 0-5.2 0-3.1 5.2 .2 1.1-2.2 -1.1-4.5 -.2-.6 -4-5.1 -1-1.1 0-4 0-5.1 0-1.9 1.4 1.9 3.8 2 2.7 3.1 2.4 2.6 2 2.5 3.1 4.9 .1 .2 2.4 5.1 1.9 5.1 .8 2 1.2 3.2 2.6 5.1 1.3 1.1 2.5 4 .6 5.1 -1.7 5.1 -1.4 1.8 -4.6 3.3 -.5 .8 -5.2 3.2 -5.1-3.8 -5.1 .1 -3 4.9 -.6 5.1 1 5.1 2.2 5.1 .4 .6 4.5 4.5 .6 .7 5.1 .6 3.8-1.3 1.4-.3 5.1-4.7 .1-.1 5-4.9 .3-.2 4.9-4.8 1.7-.3 3.4-.6 .8 .6 4.3 3.5 1.6 1.6 3.6 5.1 0 .1 3.2 5 .4 5.1 -.7 5.1 -1.4 5.2 -.4 5.1 .3 5.1 1.3 5.1 -2.7 1.4 -5.2 1.8 -.8 1.9 -1.6 5.1 -1.7 5.2 -1 2 -5.1-.5 -2.5-1.5 -2.7-1.2 -5.1-.1 -.9 1.3 -2 5.1zM719.6 1277.3l-.3-.3 .3-.9 1.2 .9zM680.1 1328.2l-1.6-4 -5.1 1.7 -2 2.3 2 1.4 5.1 2z"/>
<path fill="#1f14ff" d="M801.8 801.5l-5.2 3.1 -4.6-3.3 -.5-.2 -4.7-4.9 4.7-5 .2-.2 4.9-1.8 5.2 .3 2.5 1.5 1.5 5.2 -4 5.1zM837.7 795.3l-5.1 .3 -2.1-4.6 2.1-2.8 5.1 .9 1.5 1.9zM904.5 1335.7l-5.2 1.4 -5.1 0 -5.2-.4 -5.1-.1 -5.1 .5 -5.2-.5 -5.1-1.7 -3.6-1.6 -1.5-.9 -5.2 .5 -3.1-4.7 -2-.9 -5.1-1.7 -2.9 2.6 -1.2 5.1 -1.1 1.4 -5.1 1.9 -5.1-1.8 -1.6-1.5 -.8-5.1 .7-5.1 -.8-5.2 -1.8-5.1 -.9-1.6 -1.4-3.5 -3.7-4.9 -.2-.2 -4.9-4.4 -1.7-.7 -3.5-1.5 -5.1-1 -5.1-1.5 -1.4-1.1 -3.8-2.8 -4.6-2.3 -.5-.3 -.6 .3 -4.5 4.6 -.5 .5 -4.7 3.1 -5.1-1.5 -1.6-1.6 -2.8-5.1 -.7-1.3 -2.2-3.9 -1.7-5.1 -.5-5.1 -.2-5.1 -.6-2.1 -1-3 -2.5-5.1 -1.6-2.5 -2-2.7 -3.1-4 -.7-1.1 -1.7-5.1 -.1-5.1 -1.6-5.1 -1.1-2 -2.4-3.1 -2.7-4 -1-1.1 -4.2-4.9 -.1-.3 -2.7-5.1 -1.6-5.1 -.7-3 -.7-2.1 -3.1-5.1 -1.3-2.8 -1.3-2.3 -.9-5.2 .1-5.1 -.3-5.1 -1.6-5.1 -1.2-2.5 -1.3-2.6 -1.8-5.1 -.4-5.2 -1.6-4.8 -.1-.3 -5-4 -1.1-1.1 -4.1-2.4 -3.7-2.7 -1.4-1.2 -5.1-3.7 -.5-.2 -4.7-4.1 -2.3-1 -2.8-1.6 -5.1-.1 -5.2 .8 -5.1-3.6 -.5-.6 -2.6-5.2 -2-3.5 -1.7-1.6 -3.5-3.4 0-1.7 0-5.1 0-5.1 0-5.1 5.2 3 1.6-3 1.1-5.2 .3-5.1 .1-5.1 .7-5.1 1.3-1.9 5.1 1.2 .9 .7 4.3 2.9 5.1-1.6 5.1-1.3 5.2 .8 1.9-.8 3.2-2.6 .6-2.5 0-5.1 -.6-3.2 -.6-1.9 -2.4-5.2 -1.9-5.1 -.2-.4 -5.2-3.3 -4.2-1.4 -.9-.3 -5.1 .2 -.1 .1 -.9 5.1 -2.6 5.1 -1.6 .7 -.8-.7 -4.3-2.9 -4.4-2.2 -.6-5.1 -.1-.4 -3-4.7 -2.2-2.8 0-2.3 0-5.1 -.1-5.2 0-5.1 0-5.1 .1-5.1 0-3.3 2.3-1.8 2.4-5.1 -.2-5.2 -2.3-5.1 -2.2-1.7 0-3.4 0-5.1 0-5.1 0-5.1 0-5.1 0-5.2 0-5.1 0-5.1 0-5.1 0-1.9 5.2 .8 5.1-.2 5.1 .3 5.2-2.1 4.2-2 .9-1.2 1.3-3.9 .3-5.2 -.2-5.1 -.5-5.1 .5-5.1 1.2-5.1 2.5-3.3 5.2 .1 5.1 2.5 4.5-4.4 -1-5.1 -2.3-5.2 -1.2-1.9 -1.6-3.2 -1.7-5.1 -1.1-5.1 -.7-2.6 -.7-2.5 -.2-5.1 .9-2.9 .8-2.3 3.8-5.1 .5-.6 3-4.5 2.1-5.1 5.2-4.2 5.1-.1 5.1 .5 5.2 .6 4-1.9 1.1-.6 5.1-4.3 4.8 4.9 .4 1.7 1.2 3.4 2.6 5.1 1.3 1.5 5.2-.6 1-.9 4.1-3.4 1.3-1.7 3.8-3.4 1.6-1.7 2.3-5.1 -1.6-5.2 -1.7-5.1 -.6-1.1 -4.4-4 -.7-1.1 -3.3-4 3.3-2.3 2.7-2.8 2.4-1 5.2-2.1 5.1-1.2 5.1 2.1 1.8 2.2 3.4 1.3 5.1 .9 5.1 .1 3.7 2.8 1.5 1.9 .9 3.2 3 5.1 1.2 1.4 3.7 3.7 1.4 1.7 4.5 3.5 .1 5.1 -3 5.1 -1.6 3.2 -.8 1.9 -1.5 5.1 .4 5.1 1.8 5.2 .1 1.7 .2 3.4 -.2 .4 -3.4 4.7 -1.7 1.7 -5 3.4 -.1 .5 -1.4 4.6 1.4 2.2 .9 2.9 3.1 5.2 1.1 1.9 3.5 3.2 1.6 1 5.2 3 1.9 1.1 3.2 1.4 5.1 1.6 5.2 0 5.1-1.7 4.9-1.3 .2-.1 5.2-.1 .7 .2 4.4 .8 5.1 1.7 5.2 2.5 .1 .1 5 3.8 1.9 1.3 1.3 5.1 -3.2 5.1 0 .1 -3.8 5.1 -1.3 1.3 -5.2 3.8 -5.1 3 -4.2 2.1 -.9 3.7 -.8 1.4 -4.4 3.6 -4.9-3.6 -.2-.1 -5.1-3.5 -2.4-1.5 -2.8-1.2 -5.1-2.4 -4.4-1.5 -.7-.4 -5.2-1.4 -5.1-.8 -5.1-1.6 -3.2-.9 -2-.6 -1.8 .6 -3.3 1.3 -5.1 3.7 -.1 .1 -5.1 2.4 -5.1 .8 -2.9-3.2 -2.2-.8 -2.9-4.3 -1.5-5.2 .1-5.1 2.6-5.1 1.7-2 5.1-3 .2-.1 2.2-5.1 1.5-5.1 .7-5.1 0-5.2 .5-5 0-.1 .2-5.1 -.2-.3 -1.9-4.8 -3.2-4.2 -5.1-.6 -5.2 3.2 -3.7 1.6 -1.4 .3 -5.1 .6 -5.2 3.5 -.2 .7 -1.2 5.1 -1.8 5.1 .1 5.2 2.5 5.1 .6 3.1 .5 2 -.5 1.3 -1.3 3.8 -3.8 4.1 -4.4 1 -.8 .2 -5.1 .9 -3.4 4 3.4 5.1 0 .1 5.1 1.6 4.9 3.5 .3 .5 1.1 4.6 0 5.1 1.3 5.1 2.5 5.1 .2 .5 4 4.6 1.2 2.1 5.1 1.7 5.1-1.6 3.2-2.2 2-1.7 5.1-1 5.1 2.7 0 .1 5.2 3 4.4 2.1 .7 .2 5.1 .9 4.3 4 .9 .6 3.9 4.5 1.2 1.1 3.8 4 1.3 3.7 .8 1.4 .1 5.1 .9 5.1 2.2 5.2 1.2 1.3 2.3-1.3 2.8-3.6 .5-1.6 1.8-5.1 2.8-3.3 1.4-1.8 3.8-3.4 1.2-1.7 3.9-4.2 .8-.9 4.3-4.5 .9-.6 4.3-4.6 .7-.5 1.9-5.2 2.5-1.4 5.1-.2 5.2 .6 3.1 1 2 1.8 2 3.4 .7 5.1 2.4 4.3 1-4.3 1.9-5.1 2.3-1.4 5.1-1.7 2.8 3.1 1.7 5.1 -1 5.1 -2.2 5.1 3.8 5 .1 .1 2 5.1 2.8 5.1 .3 .3 4.9 4.9 .2 .1 5.2 4.7 1 .3 4.1 2 3.7-2 1.4-.6 5.2-.8 5.1 .4 5.1 .3 0 .7 .1 5.1 0 5.1 0 5.1 .1 5.1 0 5.2 0 5.1 -.1 5.1 0 5.1 -.1 5.1 0 5.1 0 .2 -.7-.2 -4.4-.6 -5.1-1.1 -5.2-2.1 -2.6-1.3 -2.5-1.3 -5-3.8 -.1-.6 -5.2-2.9 -4.2 3.5 -.9 .5 -5.2 3.8 -2.4 .8 -2.7 1.4 -5.1 2.8 -1.2 .9 .3 5.2 .9 2.2 1.2 2.9 -.4 5.1 -.1 5.1 3.3 5.1 1.1 1.3 5.1 3.5 .5 .3 4.1 5.1 .6 3.6 .2 1.6 -.2 .8 -1 4.3 -2.5 5.1 -1.7 4.5 -.3 .6 .3 .1 5.2 .1 5.1 .8 5.2 2.6 3.8 1.5 1.3 .9 1.5-.9 3.6-2.5 2.7-2.6 2.5-1.8 5.1 .2 5.1 1 0 .6 .1 5.1 0 5.1 0 5.2 0 5.1 0 5.1 0 5.1 0 5.1 .1 5.1 0 5.1 -.1 5.2 0 5.1 0 5.1 0 5.1 0 5.1 0 5.1 0 5.2 0 5.1 0 5.1 0 5.1 0 5.1 0 5.1 0 5.2 0 5.1 0 5.1 0 5.1 0 5.1 .1 5.1 0 5.1 0 5.2 -.1 5.1 .1 5.1 0 5.1 0 5.1 0 5.1 0 5.2 0 5.1 0 5.1 0 5.1 0 5.1 -.1 5.1 0 5.1 -.1 4.6 -5.1 .3 -1.5 .3 -3.6 1 -5.2 2.3 -4.2 1.8 -.9 1.2 -1.6 3.9zM930.1 940.8l-5.1-.8 -5.1-.5 -5.2 .3 -5.1 .7 -5.1-.5 -1.3-.6 -3.9-4.2 -.5-.9 -.1-5.1 .6-4.2 .1-1 -.1-1.4 -.5-3.7 -.2-5.1 .7-.6 2.3-4.5 2.9-1.9 5.1-2.6 2.3-.6 2.8-.9 5.2-.2 2.8 1.1 2.3 .9 5.1 2.7 0 1.5 .1 5.1 0 5.1 0 5.1 0 5.2 0 5.1 -.1 5.1zM668.3 920.6l-5.2 2 0-3.7 0-5.1 0-5.1 0-.2 .9 .2 4.3 1.4 4.9 3.7 -2.9 5.1zM679.5 985.4l1.1-5.1 .2-5.1 .2-5.1 0-5.1 -1.3-5.1 -1.2-1.7 -5.1-.2 -5.1 1.3 -1.5 .6 -3.4 5.1 3 5.1 1.9 2.3 2 2.8 2.5 5.1 .3 5.1 .3 1.2 5.1 2.1zM679.8 1031.5l-1.3-3 -1.9 3 1.9 2.1zM914.7 1091.2l-5.1-2.9 -.7-.6 -2.7-5.1 1.6-5.1 1.8-2.4 2.2-2.7 2.9-3.8 1.3-1.3 3.9-5 .6-.1 4.5-1.2 1.5 1.2 3.6 3.9 0 1.2 0 .9 -2.4 4.2 -2.7 2.1 -2.7 3 -2.4 5 -.1 .1 -1.6 5.1zM715.8 1098l3.8-4.1 .6-1 -.6-2.6 -.8-2.6 -4.3-4.4 -1.8-.7 -3.4-1.2 -2.6 1.2 -2.5 2.7 -1.1 2.4 -1.9 5.2 .2 5.1 2.8 4.8 5.1-1.5 5.2-2.7zM912.8 1190.1l-2.6-5.2 -.6-.5 -.3 .5 -.9 5.2 1.2 2.4zM699.1 1280.5l-5.2-2.1 -2.3-1.4 -2.8-2 -5.1-.6 -3.8 2.6 -1.4 1.5 -.4-1.5 -1.9-5.1 -2.6-5.1 4.9-2.5 4.1-2.6 1.1-.9 1.7-4.2 1.5-5.2 1.9-2.1 3.1-3 2-2.1 3.8-3 1.4-1 5.1-.4 .9 1.4 .7 5.1 -.4 5.1 -1.2 3.6 -.6 1.6 -.4 5.1 .5 5.1 -.4 5.1 -1.2 5.1zM745.3 1358.9l-5.2 0 -5.1 0 -5.1 0 -5.2 0 -5.1 0 -5.1 0 -5.2 0 -5.1 .1 -5.1-.1 -3.9 0 0-5.1 .9-5.2 3-2.5 5.1 1.7 1.7 .8 3.4 2 5.2-.9 1.1-1.1 1.9-5.1 -1.6-5.1 -1.4-3.6 -.4-1.5 -.1-5.1 .5-5.1 0-.1 1.6-5.1 3.5-2.7 2.7 2.7 2.4 1.5 2.5 3.7 2.7 3.6 1.7 1.5 3.4 3.4 4.3 1.7 .8 .7 3.9 4.4 .9 5.1 .4 5 0 .1 .1 5.2 0 5.1zM812 1358.9l-5.1 0 -5.1 .1 -5.2-.1 -5.1 0 -3 0 1.6-5.1 .9-5.2 .5-1.3 3.1-3.8 2-1.9 5.2-1.8 5.1 .5 5.1 3.1 .2 .1 2.5 5.1 .4 5.2 -.7 5.1zM765.8 1358.9l-2.8-5.1 -1.9-5.2 4.7-4.9 3 4.9 .2 5.2 -2.8 5.1z"/>
<path fill="#0f0aff" d="M796.6 797.6l-2.6-1.4 2.6-2.6 4.2 2.6zM796.6 865.5l-5.1 1.5 -4.2-4.3 -.9-1.2 -3.1-4 -2.1-.5 -5.1-.7 -5.1-.4 -4.4-3.5 .5-5.1 2.8-5.1 1.1-1.1 3.8-4 1.3-2.2 2.1-2.9 -.7-5.2 -1.4-4.5 -.2-.6 -4.9-5.1 .7-5.1 4.4-2.7 5.1 2.2 .8 .5 4.4 4.6 1.6 .5 3.5 1.2 5.1 2.8 1.1 1.1 4.1 4 1 1.1 3.4 5.2 .6 5.1 -1.7 5.1 -2 5.1 -1.3 2.9 -1.3 2.2 -1.7 5.1 -.1 5.2zM740.1 890.5l-5.1-.4 -3.2-1.9 -1.9-.5 -4.9 .5 -.3 .7 -5.1 1.3 -5.1-1.9 -.1-.1 -5.1-4.1 -.6-1 -.8-5.1 1.4-3.8 2.8-1.3 2.4-2 1.6-3.1 -1.3-5.1 4.8-5 .1-.2 1-5.1 4-4.1 5.2-.9 0-.1 5.1-4.8 .8-.3 4.3-2.4 1.5 2.4 1.2 5.1 .3 5.1 -.1 5.1 .3 5.2 .6 5.1 -1 5.1 2.3 5.1 .1 .6 .5 4.5 -.5 1 -3.8 4.1zM853.1 931.2l-5.1 .7 -5.2-.7 -5.1 .1 -5.1 1.5 -5.2-.3 -5.1-2.5 -1.8-.8 -3.3-2.9 -4.7-2.3 -.5-.2 -5.1-2.4 -5-2.5 -.1 0 -5.2-2.1 -5.1-.9 -4.4-2.1 -.7-1.5 -.6-3.6 .6-2 1.8-3.1 .5-5.1 -1.4-5.1 4.2-4.8 5.1 .1 4.3 4.7 -1.1 5.1 2 3.7 2.3 1.4 2.8 1.2 5.1 2.5 3.5 1.4 1.7 .5 5.1 .5 5.1 .7 5.2 1.2 5.1-1.5 3.1-1.4 2-.7 5.2-.5 4.9 1.2 .2 0 5.1 2.7 3.1 2.4 2.1 4.7 .2 .4 -.2 1 -1 4.1 -4.2 4.9 -.4 .3zM724.7 909.3l-5.1 2.1 -.7-2.7 .4-5.1 .3-1.2 1.5-3.9 3.6-4.8 5.2 .4 5.1 1.7 2.9 2.7 2.2 5.1 -5.1 1.8 -5.1 1.3 -4.3 2zM919.9 929.2l-5.2 1.2 -5.1 .2 -1.7-1.4 -3.4-4.6 -.2-.6 -2.1-5.1 .6-5.1 1.7-2.1 4.1-3 1-.6 5.1-.5 5.2 .2 2 .9 3.1 2.8 3.1 2.3 1 5.1 -3 5.1 -1.1 1.2 -5 4zM889 1329.4l-5.1 1.6 -5.1 .7 -5.2-.4 -5.1-3 -.1-.1 -5-4.6 -.6-.5 -4.6-3.4 -4.7-1.8 -.4-.1 -5.1-.4 -5.2-.4 -5.1-1.4 -2.5-2.8 -2.6-3.1 -1.1-2 -4-5.1 -.1-.1 -4.9-5 -.2-.2 -5.1-3.9 -2.3-1 -2.9-1.3 -5.1-1.5 -4.9-2.3 -.2-.2 -5.2-2.8 -3.1-2.2 -2-1.2 -5.1-2.5 -5.2 2.2 -5.1-1.3 -1.2-2.3 -1.9-5.1 -1.6-5.1 -.4-1.3 -1.1-3.8 -2.2-5.1 -1.9-3.2 -1.3-2 -3.8-2.1 -2.7-3 -2.2-5.1 1-5.1 -1.1-5.1 -.1-.2 -2.3-4.9 -2.9-4.2 -.7-.9 -4-5.2 -.4-.4 -3.1-4.7 -2-5.1 -.1-.3 -1.2-4.8 -1.8-5.1 -2.1-3.6 -.8-1.5 -1.3-5.2 .1-5.1 1-5.1 -.5-5.1 1.5-3.4 .3-1.7 3.6-5.1 .4-5.2 -3.3-5.1 -1-1.9 -1.7-3.2 -3.4-3 -5.2-1.6 -5.1 .1 -2.7-.6 -2.4-.6 -5.2-3.6 -1.1-.9 -1.5-5.1 .6-5.1 0-5.2 1.6-5.1 .4-.5 3-4.6 2.2-2 5.1-2.7 1.7-.4 3.4-1.2 3-3.9 1.6-5.1 .6-1.1 4.5 1.1 .6 0 .2 0 2.4-5.2 -2.6-1.8 -3.1-3.3 -2-2.8 -5.2 .9 -5.1-2.2 -1.3-1 -3.8-2.9 -2.1-2.2 -1.8-5.1 -.5-5.1 -.8-3.1 -.4-2 -1.4-5.2 -1.8-5.1 -1.5-4.1 -.5-1 -4.6-4.2 -1.6-.9 -3.6-3 -2.5-2.1 -1.3-5.1 3.8-4.5 .5-.7 1.1-5.1 -1.6-1.3 -5.1 1.1 -.1 .2 -.4 5.1 -4.6 1 -1.2-1 -4-2.4 -3.5-2.7 -1.6-2.1 -1.8-3 1.3-5.1 .5-.7 5.1-2.1 1.8-2.3 2.2-5.1 1.2-3.3 .6-1.9 2.7-5.1 1.8-3.6 5.1-1.1 4.2-.4 -3.3-5.1 -.9-1.1 -5.1-2.9 -.2-1.1 0-5.1 .2-1 1.2-4.1 2.4-5.2 1.5-1.1 3.1-4 2.1-1.6 3.6-3.5 1.5-1.6 2.6-3.5 -1.1-5.1 -1.5-.4 -5.1-2.4 -1.8-2.3 -2-5.2 1.1-5.1 2.3-5.1 .4-1 5.1-1.3 3.2 2.3 1.9 1.4 4 3.7 1.1 5.1 .1 .6 3.3 4.6 1.8 2.4 5.1-.4 5.2-.6 5.1 2.5 1.4 1.2 3.6 5.1 .1 .1 3 5 2.2 2.9 1.5 2.2 2.9 5.1 .7 1.7 2.4 3.5 2.8 5 0 .1 5.1 3.7 4.7 1.4 .4 .2 5.2 .2 1.5-.4 3.6-1.7 5.1-2.1 5.2 .6 5.1 2.5 1.1 .7 4 2.3 3.5 2.8 1.7 2.3 1.8 2.8 1.4 5.1 1.3 5.1 .6 4 .2 1.2 .2 5.1 .1 5.1 4.6 3.1 5.2-.5 5.1-1.4 2.6-1.2 2.5-1.8 3-3.3 2.2-3.3 1.1-1.8 3-5.2 1-1.5 3.6-3.6 1.5-2.7 5.2-2 5.1 1.5 5.1 .7 5.2-1.2 3.9-1.4 1.2-.4 1.4 .4 3.7 1.3 5.2 2.9 1.3 .9 3.8 2.8 1.6 2.3 3.5 2.8 2.6 2.4 2.6 1.6 4.4 3.5 .7 .7 3.7 4.4 1.2 5.1 -.9 5.1 -2.6 5.1 -1.4 2.4 -1.3 2.8 -1.9 5.1 -1.9 2.9 -1.4 2.2 -3.8 3.6 -3 1.5 -2.1 1 -5.1 1.8 -4.2 2.3 -1 .9 -4.8 4.2 -.3 1.2 -1.5 4 1.5 2.3 1.5 2.8 1 5.1 .5 5.1 1.5 5.1 .6 2.6 .9 2.5 1.2 5.1 1.8 5.2 1.3 4 .5 1.1 -.5 4.7 0 .4 -1.1 5.1 -.1 5.1 1.2 2.2 5.1 1.3 3.2-3.5 1.9-1.4 5.2-1.3 4.4 2.7 .7 .4 4.4 4.7 .7 5.2 .1 .4 3.9 4.7 1.2 1.1 5.1 .5 5.2 .8 5.1 .9 5.1-.8 0 2.6 0 5.1 .1 5.1 0 5.1 0 5.1 0 5.2 -.1 5.1 0 5.1 .1 5.1 0 5.1 -.1 5.1 0 4.4 -2.8-4.4 -2.3-2 -2.5-3.1 -.2-5.1 2.7-3.5 1.3-1.6 .5-5.1 -1.8-.9 -5.1-3 -2.1-1.2 -3.1-1.8 -3.9-3.4 -1.2-3.2 -.8-1.9 -1.4-5.1 -2.9-4.8 -5.2 .5 -2.8 4.3 -1.4 5.1 .1 5.1 2.9 5.2 1.2 4.5 .2 .6 .3 5.1 1 5.1 .9 5.1 -.3 5.1 -1.9 5.2 -.2 .3 -3.6 4.8 -1.5 2.6 -1.2 2.5 .1 5.1 .1 5.1 -3.9 5.1 -.3 .7 -1.3 4.5 1.3 3.4 .8 1.7 4.4 4.7 2.9-4.7 2.2-1.9 5.2-3.2 5.1-1 .2 1 .9 5.1 .4 5.1 3.6 5 .1 .1 5.1 4.2 5.1 .3 5.1-3.3 0 3.9 .1 5.1 0 5.1 0 5.2 0 5.1 0 5.1 0 5.1 0 5.1 0 5.1 0 5.2 0 5.1 0 5.1 0 5.1 0 5.1 -.1 5.1 0 1.4 -5.1 .6 -5.1 .9 -5.2 .3 -5.1-.3 -5.1 1.8 -.7 .4 -4.5 2.7 -5 2.5 -.1 .1 -3.3 5zM776.1 932.2l-4.1-3 -1-.7 -3-4.5 .1-5.1 2.9-4 1.6-1.1 3.5-2.7 5.1 1.5 4.5 1.2 .3 5.1 -.5 5.1 -4.3 4.9 -.3 .3zM883.9 970l-3.9-5 3.9-4.1 1.8 4.1zM693.9 1110.9l-5.1 1.3 -3.6-4 1-5.1 1.7-5.1 -4.2-3.3 -1.2-1.8 -.8-5.2 2-1.5 1.9 1.5 3.2 4.1 .3 1.1 .4 5.1 4.4 4.1 .5 1 1.1 5.1zM914.7 1213.3l-1.7-2.8 1.7-1.2 2.2 1.2zM735 1354.5l-.7-.7 -2.5-5.2 -1.9-2.9 -.7-2.2 -.9-5.1 -1.7-5.1 3.3-.5 .5 .5 4.6 5 .1 .1 2.6 5.1 1.6 5.1 -2.3 5.2z"/>
<path fill="#0000ff" d="M776.1 818.5l-1.8-1.9 1.8-4.1 4.3 4.1zM786.4 853.1l-5.2-.7 -5.1-1.7 -3.3-3.4 1.6-5.1 1.7-1.8 4.4-3.3 .7-1 5.2-4.1 .1 0 4.2-5.2 .8-.1 .2 .1 4.9 4.3 .7 .9 1.1 5.1 .2 5.1 -1.5 5.1 -.5 .7 -5.1 4.1 -1.6 .3zM735 865.9l-5.1-2.8 -.1-.4 .1-.7 .4-4.5 1.4-5.1 3-5.1 .3-.3 1.8 .3 2.8 5.1 -1.2 5.1 -1.7 5.2zM740.1 886l-5.1-2.6 -.4-.3 .4-2.3 .7-2.8 4.4-1.8 1.5 1.8 1.3 5.1zM796.6 896l-5.1-1.8 -.5-.8 .5-.6 5.1-1.2 1.6 1.8zM776.1 929.7l-.7-.5 -4.4-2.8 -1.6-2.4 .1-5.1 1.5-2.1 4.6-3 .5-.4 .8 .4 4.3 2.8 2.1 2.3 -.3 5.1 -1.8 2 -4.3 3.2zM827.4 921.8l-5.1-.1 -3.9-2.8 -.1-5.1 4-1.6 5.1 .7 2.1 .9 1.8 5.1zM853.1 924.3l-5.1 .7 -3.3-1 -1.9-.5 -4.6-4.6 1.6-5.1 3-2 5.2-1.6 5.1 1.1 3.4 2.5 1.2 5.1 -4.2 5.1zM909.6 924.9l-.8-.9 -3.8-5.1 1-5.1 3.6-3.1 4.8 3.1 .3 2.8 .7 2.3 -.7 .9 -3.5 4.2zM704.2 930.1l-1.4-.9 -3.7-3.1 -1.2-2.1 1.2-3 2.1-2.1 3-1.9 2.3 1.9 2.8 4.4 .5 .7 -.5 1.1 -3.2 4.1zM878.8 1325l-5.2-.3 -2.7-1.6 -2.4-1.6 -3.7-3.6 -1.4-1.1 -5.2-3.9 -.2-.1 -4.9-3.5 -5.1 .1 -5.2 .2 -3.2-1.9 -1.9-1.2 -3.4-3.9 -1.7-1.7 -3.5-3.4 -1.7-1.4 -4.2-3.7 -.9-.8 -5.1-3 -3.7-1.3 -1.5-.6 -5.1-2.2 -4.3-2.4 -.8-.4 -5.2-2.4 -3.7-2.3 -1.4-.9 -5.1-4.1 -.2-.1 -5-3.2 -2.3-1.9 -2.8-4.8 -.1-.3 -1.6-5.1 -2.5-5.2 -.9-1 -5.2-1.3 -4.7-2.8 -.4-.2 -2.8-4.9 2.5-5.1 .3-1 4.5-4.1 -1.9-5.1 2.5-1.9 2 1.9 3.2 2.4 3.2-2.4 1.3-5.1 -.4-5.2 -2.6-5.1 -1.5-.9 -5.2-1.1 -4.8-3.1 -.3-.2 -.2 .2 .2 .3 3.2 4.8 -1 5.1 -1 5.2 -1.2 1.8 -1.1-1.8 -4-2.9 -2-2.3 -3.2-2.8 -1.9-2.3 -2.8-5.1 -.4-1.4 -.6-3.7 -.7-5.1 -2-5.1 .3-5.2 2.6-5.1 -4.5-5.1 -.3-.1 -2.9-5 1.2-5.1 1.7-2.1 5.2-2.5 1.1-.5 .9-5.2 -.7-5.1 -1.3-4.1 -.4-1 -4.3-5.1 -.5-.2 -5.1-4.7 -.2-.2 -3-5.1 1-5.1 2.2-4.8 .1-.4 1.7-5.1 .2-5.1 -1.3-5.1 4.3-5.1 .1-.1 5.2-4.8 .4-.2 .4-5.2 -.8-1.7 -3.1-3.4 -2.1-.6 -5.1-2.8 -1.5-1.7 -2.5-5.1 -1-5.1 -.1-1.3 -2.9-3.8 -2.3-3.6 -1.8-1.5 -3.3-1.5 -3.3-3.7 -1.8-2.1 -1.6-3 -.9-5.1 1.4-5.1 1.1-1.6 2.4-3.5 2.7-4.6 .4-.5 -.4-5.2 -4.8-5.1 -.3-.3 -3.4-4.8 -1.8-1.8 -4.1-3.3 -1-.7 -5.1-.5 -5.2-.8 -4.5-3.1 -.6-2.5 -.3-2.6 .3-1 3-4.2 2.1-1.2 5.2 0 3-3.9 .5-5.1 -1.5-5.1 -2-4.5 -.6-.6 -1.9-5.1 1.3-5.1 1.2-1.7 1.5-3.5 3.6-4.3 1.2-.8 3.9-2.8 4.5-2.3 .7-.8 5.1-2.6 5.1-.6 5.2-.4 5.1 1 3.8 3.4 1.3 .9 3.6 4.2 1.6 2.1 2 3 2.4 5.2 .7 1.9 2 3.2 2.5 5.1 .7 3.8 .6 1.3 -.6 2 -.4 3.1 -.6 5.1 .6 5.1 .4 1.9 3.6 3.3 1.5 4.3 5.1-2.6 5.2 .3 4 3.1 -1 5.1 2.1 3.2 3.1 1.9 2 .2 5.2 0 5.1 .8 5.1 2.3 5.2 1.6 5.1-.3 5.1-.4 5.2-.8 5.1-1.4 5.1-1.9 .2-.1 5-3.8 1-1.3 3.8-5.1 .3-.5 3.8-4.6 1.3-1.4 5.2-2.8 5.1-.5 5.1 .4 5.2 .1 5.1 .1 5.1 .7 5.2 1.5 3.3 1.9 1.8 .8 5.1 3 2 1.3 3.2 2.1 3.2 3 1.9 4.6 .2 .5 -.2 .7 -1 4.4 -2.7 5.1 -1.4 3.2 -.7 2 -2 5.1 -2.5 3.4 -2 1.7 -3.1 1.8 -5.1 1.8 -3.4 1.5 -1.8 1 -5.1 3.5 -1.1 .6 -4 3 -5.1 2.1 -.1 .1 -4.8 5.1 1.3 5.1 2.2 5.1 1.3 2.1 3.6 3 1.6 1.2 2.9 3.9 2 5.1 .2 2.3 .2 2.8 .1 5.2 .6 5.1 1.1 5.1 .2 5.1 -.1 5.1 1.5 5.1 1.5 1.5 5.2 3.5 1.3 .2 3.8 .8 .1-.8 .8-5.2 4.2-4.3 3.7-.8 1.5-.5 .9 .5 4.2 2.6 2.4 2.5 .2 5.2 -2.6 3.6 -2.8 1.5 -2.3 2.1 -5.2 2.1 -.4 .9 .4 1.7 .7 3.4 2.1 5.1 .1 5.1 -2.4 5.1 -.5 1.6 -2.4 3.6 2.4 4.6 .3 .5 1.8 5.1 2.3 5.1 .8 1.5 1.7 3.6 .2 5.1 -1.9 3.7 -.8 1.5 -4.4 4.4 -.5 .7 -2.6 5.1 -1 5.1 -1 2.3 -1.6 2.8 -3.5 3.8 -1.6 1.3 -2.4 5.2 2.5 5.1 1.5 3 1 2.1 1.9 5.1 2.2 3.2 5.1 1.2 1.8-4.4 3.4-2.7 1.7-2.4 3.4-3.6 3.7-1.5 1.5-1.3 1.3 1.3 2.1 5.1 .3 5.1 0 5.1 -1.5 5.1 -2.2 3.2 -.3 1.9 -2.1 5.2 -.2 5.1 1.7 5.1 .9 2 5.1 2.8 5.1-.1 5.2-.3 4.4 .7 .7 .3 5.1 3.3 0 1.5 0 5.1 0 5.2 .1 5.1 0 5.1 -.1 5.1 0 1.4 -5.1 .5 -5.1 1 -5.2-.9 -5.1-2 -5.1 5.1 0 .1 -2.9 5 -2.3 1.7 -5.1 2.3 -3.8 1.1 -1.4 .7 -5.1 4.1 -.4 .4zM796.6 999l-5.1-1.5 -3.5-1.8 -1.6-.8 -5.2 .3 -5.1-.3 -.8-4.4 .4-5.1 0-5.1 -2.7-5.1 3.1-1.8 5.1-1.9 5.2 .2 5.1 2.6 1.3 .9 3.8 4.9 .2 .2 2.1 5.1 1.2 5.1 -.6 5.2zM751.3 1011l4.3-2.7 5.1-2.3 .2-.1 -.2-1.9 -5.1-2.4 -4 4.3 -1.2 2.8 -5.1 1.9 -.2 .4 .2 1.5 5.1-1.1zM858.5 1251.4l-.3-.2 -3.6-4.9 -1.5-1.3 -4.5-3.8 -.6-1.1 -1.9 1.1 -1.4 5.1 2.2 5.1 1.1 1.4 5.1 3.1 5.1-3.7z"/>
<path fill="#0019e6" d="M786.4 849.2l-5.2-.6 -2.5-1.3 .7-5.1 1.8-1.4 5.2-1.6 5.1 1.8 .9 1.2 -.9 4.4 -.2 .7zM853.1 919.8l-5.1 1.4 -3.6-2.3 .6-5.1 3-1.4 5.1 1.4 .8 5.1zM909.6 921.7l-2.3-2.8 1.5-5.1 .8-.7 1 .7 1.6 5.1zM776.1 928l-5.1-3.7 -.2-.3 0-5.1 .2-.1 5.1-3.8 4.7 3.9 -.1 5.1zM704.2 926.3l-2.6-2.3 2.6-2.6 2.1 2.6zM894.2 1310l-5.2-.7 -2.1-1.6 -3-2.7 -5.1-2.3 -5.2 1.4 -5.1 1.9 -5.1 .4 -5.2-2.7 -1.4-1.1 -3.7-2.6 -5.1-2.3 -1.2-.2 -4-.5 -5.1-1.1 -5.1-3.4 -.1-.1 -5.1-4.1 -1.4-1 -3.7-2.6 -5.1-1.3 -5-1.3 -.2 0 -5.1-2.8 -4.3-2.3 -.8-.6 -5.2-2.8 -2.9-1.7 -2.2-1.5 -5.1-3.6 -3.9-5.1 -1.3-2.4 -1.2-2.7 -1.3-5.2 -1.9-5.1 0-5.1 1.3-5.1 .4-5.1 .1-5.1 .7-5.1 1.9-4.8 .1-.4 .7-5.1 -.8-5.1 -5.1-3.4 -3.6-1.7 -1.5-.9 -5.2-3 -1.4-1.2 -3.7-4.5 -.6-.6 -3.3-5.2 -1.2-1.4 -2.4-3.7 -2.3-5.1 -.5-.9 -5.1-1 -5.2-3.1 0-.1 0-.3 3.1-4.8 2.1-1.1 4.7 1.1 .4 .5 .3-.5 2.1-5.1 -1.2-5.2 .5-5.1 3.5-4.4 .5-.7 4.6-4.8 2.4-.3 -2.1-5.1 4.8-2.1 .8-3 4.4-3.7 5.1-.3 3 4 1.7 5.1 .4 .9 4.7 4.2 .5 .2 .2-.2 3.2-5.1 1.7-4 .5-1.1 1.6-5.1 1.4-5.2 0-5.1 0-5.1 -1.9-5.1 -1.6-1.3 -3.1-3.8 -2-1.4 -5.2-1.9 -5.1 .4 -3.7 2.9 -1.4 1.1 -3.7 4 -1.5 1.3 -5.1 3.6 -.3 .2 -3.8 5.1 4.1 5 .1 .1 3.5 5.2 1.1 5.1 -4.7 5.1 -5.1 4 -5.2 .5 -5.1-.9 -4.6-3.6 -.6-.5 -3.6-4.6 -.4-5.1 1.3-5.2 2.7-3.8 2-1.3 .7-5.1 -2.3-5.1 2.9-5.1 1.9-1.8 5.1-2.7 2.7-.6 .2-5.2 -1.5-5.1 -1.4-2.2 -4.2-2.9 -.9-.1 -.6 .1 -4.6 1 -1.4-1 -3.7-2.7 -1.4-2.4 -1.7-5.1 -.5-5.1 -.3-5.1 -1-5.2 -.2-.5 -5.2-2.5 -3.1-2.1 -1.6-5.1 2.6-5.1 2.1-2.3 3.3-2.8 .5-5.1 -3.7-5.2 -.1 0 -3.2-5.1 -1.9-4.4 -.7-.7 -4.4-3.6 -1.6-1.5 -3.5-5.1 -.1-.2 -3.1-4.9 -.4-5.2 -.2-5.1 -.3-5.1 -1.1-4.5 -.2-.6 -2.8-5.1 -1-5.1 .8-5.1 3.1-5.2 .1-.1 5.1-4.1 2.4-.9 2.8-1.5 5.1-2.7 4.3-.9 .8-.2 5.2-.4 1.8 .6 3.3 .7 5.1 3.4 .9 1 4 5.1 .3 .6 2.4 4.6 2.1 5.1 .6 1.9 1.7 3.2 .9 5.1 -.9 5.1 -1.1 5.1 -.4 5.1 -.2 3 -.1 2.2 -1.8 5.1 -3.2 3.2 -2.5 1.9 -.5 5.1 1.5 5.1 .2 5.1 1.3 1.6 1.7-1.6 3.4-2.9 4-2.2 1.2-.7 5.1 .1 1.6 .6 3.5 2.6 5.2 2.2 5.1-1 5.1-1.7 5.2-.8 5.1 .6 5.1 1.1 5.2 0 5.1-.5 5.1-.1 5.2 .3 5.1-.2 5.1-1.3 2.4-1.2 2.8-1.6 3-3.5 2.1-2.6 2-2.5 3.1-3.6 2.1-1.5 3.1-2.2 5.1-1.4 5.1-.4 5.2-.3 5.1-.1 5.1 .8 5.2 1.7 3.4 1.9 1.7 .9 5.1 3.2 1.5 1 3.2 5.1 -.6 5.1 -1.8 5.1 -1.4 5.2 -.9 1.8 -1.2 3.3 -3.9 3.6 -5.1 1.4 -.7 .1 -4.5 1.7 -5.1 3 -.8 .4 -4.3 2.4 -5.2 .9 -5.1-1.5 -4.6-1.8 -.5-.2 -5.2-.3 -1.1 .5 -3.5 5.1 1.4 5.1 3.2 4.7 .4 .5 3.7 5.1 1.1 2.2 1.2 2.9 1.6 5.1 2 5.1 .3 1.9 1.2 3.2 2.2 5.1 1.7 3 1 2.2 1.9 5.1 1.7 5.1 .6 3 .3 2.1 -.3 5.1 0 .1 -1.7 5 -2.2 5.2 -1.3 5 0 .1 5 5.1 .1 5.1 .1 .3 1.8 4.8 3.3 3 4.7 2.1 .4 .6 .1-.6 .7-5.1 3.1-5.1 1.3-2.7 2 2.7 3.1 .2 4.8 4.9 .3 2.6 .3 2.5 -.3 .5 -4.4 4.6 -.7 .9 -5.1 .2 -1.9 4.1 1.9 2.2 2.3 2.9 2.8 3.8 .8 1.3 2.5 5.1 1.8 4.2 .6 .9 .9 5.1 -1.5 2.8 -.4 2.4 -4.7 4.9 -.9 .2 -4.2 3.5 -2.2 1.6 -2.5 5.1 -.5 .4 -5.1 2.4 -1.9 2.3 -3.2 3.6 -.9 1.5 -.6 5.2 1.5 .3 5.1 3.9 .7 .9 3.2 5.1 .6 5.1 -.3 5.1 -3.6 5.1 -.6 .8 -5.1 1 -2.2-1.8 -3-.7 -4.7-4.4 -.4-.7 -3.1-4.4 -1.5-5.1 -.5-1.8 -4.6-3.3 -.6-.7 -5.1-2 -1.8 2.7 -3.3 2.5 -1.2 2.6 .3 5.1 .9 1.2 1.8 3.9 2.8 5.1 .5 .7 2.8 4.4 2.3 3.5 1.3 1.7 3.9 5 .1 .1 5 4 5.1-.9 3.3-3.1 1.9-2.2 2.5-2.9 2.6-4 5.1-1 5.2 .2 5.1 .3 .4-.7 1.7-5.1 3-2.2 1-2.9 3.9-5.1 .3-.2 3.5-4.9 1.6-1.7 5.2-1.1 1.5 2.8 .2 5.1 -1.7 4.1 -.3 1 -.8 5.1 -2.7 5.1 -1.4 2 -1.5 3.2 -.3 5.1 1.3 5.1 .3 5.1 .1 5.1 .1 2.1 .6 3 .9 5.2 -.1 5.1 -.9 5.1 -.5 2.4 -.5 2.7 -2 5.1zM786.4 975.8l-5.2 .4 -.9-1 .9-.4 5.2 .3 .1 .1zM894.2 1127.9l-5.2-.5 -3.5-3.8 .4-5.2 3.1-3.1 5.2-1.2 5.1 3.9 .4 .4 -.4 5.1 0 .1zM873.6 1135.6l-5.1-1.4 -4.2-.4 4.2-1 5.1-1.9 3.4 2.9zM771 1243.2l-5.2 2.8 -5.1-3.4 -.8-1.4 .8-1.5 5.1-2 5.2 1.4 3.8 2.1z"/>
<path fill="#0033cc" d="M776.1 926.5l-3.4-2.5 .1-5.1 3.3-2.4 2.9 2.4 0 5.1zM735 1025.8l-5.1-.6 -3.7-4 -1.5-4.4 -.4-.7 -.7-5.1 -4-3.2 -2.2-1.9 -2.9-2.7 -1.9-2.4 -2.4-5.1 -.9-3.1 -.6-2.1 -.9-5.1 -.6-5.1 -1.4-5.1 -1.6-4 -.6-1.1 -1.2-5.1 1.1-5.1 .7-1.2 3.2-4 1.9-1.5 5.2-2.1 3.1-1.5 2-1.1 5.1-1.8 5.2-.2 5.1 1.3 2.7 1.8 2.4 1.8 2.8 3.3 2.4 4.1 .5 1.1 2.3 5.1 1.6 5.1 .6 5.1 -.7 5.1 -.8 5.1 -.5 5.1 -.9 5.2 -2.1 3.7 -1 1.4 -4.2 3.5 -1.6 1.6 1.4 5.1 .2 .9 1.9 4.2 -1.9 5.1zM817.2 1117l-5.2 .7 -3.1-4.4 -1-5.1 .7-5.1 -1.7-2.4 -4.6-2.7 -.5-.3 -5.2-2.3 -3.9-2.5 -1.2-.7 -5.1-3.7 -1-.8 -2.8-5.1 -.5-5.1 -.5-5.1 -.4-.5 -3.2-4.6 -1.9-1.1 -5.1-1.7 -5.2-.3 -5.1 1.1 -5.1 .7 -1.3 1.3 -3.9 2.4 -2.7 2.7 -2.4 1.7 -5.2 1.7 -3.9-3.4 -1.2-2.2 -1.1-2.9 -.8-5.1 .1-5.1 -.1-5.2 -1.2-5.1 -1.6-5.1 4.7-3.6 .7-1.5 4.4-3.2 1-1.9 4.2-4.6 .5-.5 4.6-4.6 1.5-.6 3.7-2.2 4.3 2.2 .8 1 3 4.2 2.1 4 5.2-.5 5.1-2 2-1.5 3.1-2 5.2-2 5.1-.2 5.1 0 5.2-.4 4.8-.6 .3 0 1.5 0 3.6 .1 5.2 1.1 5.1 1.7 5.1 1.1 5.2-.8 2.7-3.2 2.4-2.5 1.4-2.6 3.1-5.1 .6-.8 4.6-4.3 .6-.4 5.1-3 5.1-1.3 4.4-.4 .8-.1 5.1-.1 1.1 .2 4 .8 5.2 2.1 3.9 2.2 1.2 1 3.7 4.1 .6 5.1 -.5 5.1 .1 5.2 -3 5.1 -.9 .8 -5.1 2.8 -5.2 .5 -5.1 .6 -1.3 .4 -3.8 1.8 -5.2 .3 -5.1-1.3 -2.8-.8 -2.3-.6 -5.2-1.4 -5.1-.8 -2.9 2.8 -1.8 5.1 -.4 5.1 .6 5.1 2.3 5.2 2.2 2 2.5 3.1 2.2 5.1 .2 5.1 .2 4.2 .3 .9 2.8 5.1 1.4 5.1 .7 2.1 1.3 3.1 2.2 5.1 .9 5.1 -4.4 3.9 -1.6 1.2 -3.6 2.2 -5.1 1 -5.1-1 -3.9-2.2 -1.3-.6 -1.5 .6 -3.6 2.2 -1.2 2.9zM750.4 1111.3l-.9-3.1 -4.2-1.4 -2.7-3.7 2.7-3.8 1.8-1.3 3.3-1.9 5.2 .2 2.4 1.7 1.8 5.1 -4.2 3.9 -4.2 1.2zM755.6 1134l-5.2 2.3 -5.1-1.3 -1.5-1.2 -3.7-3.3 -1.4-1.8 -1-5.1 2.1-5.2 .3-.4 5.2-4.2 5.1-.4 5.2 1.6 3.3 3.4 1.5 5.2 -.4 5.1 -4.2 5.1zM894.2 1126.8l-5.2-1.1 -1.9-2.1 0-5.2 1.9-1.9 5.2-1.5 4.2 3.4 -.4 5.2zM868.5 1295.9l-5.1 .5 -5.2-1.4 -5.1 .2 -5.1 0 -4.8-2.8 -.4-.2 -5-4.9 -.1-1.2 -3.1-4 -2-5 -.1-.1 -5.1-.6 -5.1 .4 -1.1 .2 -4 .6 -3.1-.6 -2.1-.4 -5.1-3.3 -1.9-1.4 -3.2-4.8 -.4-.3 -4.8-4.6 -4.9-.5 -.2 0 -4.7-5.1 -.4-2.9 -.9-2.3 -2.6-5.1 -1.1-5.1 -.4-5.1 -.1-5.1 0-5.1 .3-5.1 1-5.2 1.8-5.1 1.6-5.1 -4.8-3.6 -1.8-1.5 -3.3-3.2 -2.4-1.9 -1.3-5.1 1.5-5.2 -2.9-.9 -5.2-1.6 -2.8-2.6 -2.3-3.3 -1.5-1.8 -.6-5.1 1.4-5.1 -3.2-5.1 -1.2-2.2 -1.5-3 .8-5.1 .7-.9 3.5-4.2 1.6-1.7 5.1-1.2 4.7 2.9 .5 .3 4.2 4.8 .8 5.1 .1 .5 1.3-.5 3.8-1.2 5.2-1.8 5.1-1.7 .5-.4 4.2-5.1 .4-1.1 2.5-4 2.5-5.1 .2-.5 1.6-4.6 2.3-5.1 1.2-2.2 5.1-.7 1.3 2.9 1.3 5.1 1.4 5.1 1.2 1.7 5.1 3.2 5.1-2.4 5-2.5 .2-.1 4.9-5 .2-.2 1.3-4.9 3.8-4.1 5.2-.2 4 4.3 1 5.1 -1.6 5.1 -3.4 4.8 -.7 .3 .7 .7 3.9 4.4 1.2 .9 5.1 3.6 .8 .6 4.4 2.9 2.6 2.2 2.5 2.8 1.8 2.4 3.3 3.5 1.4 1.6 3.8 3.9 .9 1.2 2.6 5.1 1.3 5.1 .3 .3 2.9 4.8 -.4 5.2 -2.5 2.6 -5.1 .9 -3.2 1.6 -2 1.7 -5.1 2.1 -5.1-2.1 -5.2 2.1 -1.5 1.3 -2.9 5.1 -.7 1.6 -5.1 .8 -5.2-.3 -5.1 1.7 -1.9 1.3 -3.2 3.5 -.3 1.6 -.9 5.2 -2.6 5.1 -1.4 1.7 -5.1 1.9 -3.6-3.6 -1.5-4.3 -.7-.8 -3.3-5.2 -1.2-1.1 -4.3-4 -.8-.4 -5.1-1.9 -3.3 2.3 .9 5.1 1.5 5.2 .9 4.6 .3 .5 1.1 5.1 2.2 5.1 1.5 1.8 5.1 2.9 5.2-.7 5.1-.2 1.9 1.3 3.2 .8 4.2 4.3 1 .8 4 4.3 1.1 2 2.5 3.2 2.6 3.7 1.2 1.4 3.5 5.1 .5 2.3 2.5 2.8 2.6 1.3 5.1-1.1 .4-.2 4.8-3.5 3.9-1.6 1.2-1.5 1.9-3.6 3.2-2.6 5.2-2.1 3-.4 2.1-.7 2.5-4.5 2.6-4 .4-1.1 1.7-5.1 3.1-3.8 1.2-1.3 3.9-5 5 5 -1.1 5.1 -1 5.1 -2.9 4.1 -.7 1 -3.1 5.2 -.9 5.1 2.4 5.1 0 5.1 -2.5 5.1 -.3 .8 -4.4 4.3 -.8 2 -5.1 2.3 -5.1-.7 -2.9 1.6 -2.3 4.3 -.2 .8zM883.9 1151.6l-5.1-1.9 -.6-.6 .6-2.4 1.1-2.7 4-1.6 1.6 1.6 .8 5.1zM863.4 1244.3l-5.2-1.1 -2.1-2 -2.9-5.1 -.1-3.8 -.1-1.3 .1-.2 3.1-4.9 2-1.4 5.2 .5 1.1 .9 4 3.9 .8 1.2 .8 5.1 -1.6 3.5 -.9 1.6zM765.8 1241.7l-.9-.5 .9-.4 .8 .4z"/>
<path fill="#004cb2" d="M776.1 925.1l-1.4-1.1 0-5.1 1.4-1 1.2 1 0 5.1zM735 1024.5l-5.1-.8 -2.3-2.5 -2-5.1 .3-5.1 -1.2-3.7 -1.8-1.4 -3.3-1.4 -3.9-3.7 -1.2-1.7 -1.9-3.4 -1.7-5.2 -1-5.1 -.6-4 -.1-1.1 -1.6-5.1 -2.1-5.1 -1-5.1 1.5-5.1 3.3-4 2.4-1.2 2.8-1.2 5.1-2.4 3.6-1.5 1.5-.6 5.2-.2 2.9 .8 2.2 .6 5.1 3.7 .7 .8 3.2 5.2 1.3 2.7 1 2.4 1.8 5.1 .5 5.1 -.7 5.1 -.9 5.1 -.9 5.1 -.8 3.1 -.7 2.1 -3.9 5.1 -.6 .5 -4.8 4.6 3.3 5.1 1.5 4.9 .1 .2 -.1 .3 -1.4 4.8zM878.8 1033.7l-5.2 .3 -5.1-1.4 -5.1-.2 -5.2 .2 -5.1-1 -.4-.1 -4.7-2.2 -3.3-2.9 0-5.2 1.3-5.1 2-3.6 .4-1.5 4.7-4.6 .9-.5 4.2-2.3 5.2-.6 5.1 .8 4.9 2.1 .2 .2 5.2 3.1 2.2 1.8 2 5.1 .9 1.8 .8 3.3 1.4 5.2 -2.2 3.3 -1.5 1.8zM837.7 1103.6l-5.1-.4 -.2-.1 -5-2.4 -3.1-2.7 -2-3.4 -5.1-.3 -5.2 .7 -5.1-1.5 -1.3-.6 -3.8-3.6 -3.3-1.6 -1.9-.3 -5.1-1.8 -2.5-3 -.4-5.1 2.9-4.8 .4-.3 1.9-5.1 -2.3-3.3 -1.5-1.8 -3.3-5.1 -.3-.4 -.7 .4 -4.5 1.4 -5.1 1.5 -5.1-.5 -5.2-1.5 -2.6-.9 -2.5-1.8 -1.3 1.8 -3.8 2.3 -1.2 2.8 -4 4.1 -.8 1 -4.3 4.2 -2.6 .9 -2.6 1.1 -1.2-1.1 -3.3-5.1 -.6-4.6 -.1-.5 .1-1.6 .1-3.5 .2-5.2 .2-5.1 .8-5.1 3.8-4.7 .3-.4 2.8-5.1 2.1-2.4 2.7-2.7 2.4-2.4 5.2-1.8 3.8 4.2 1.2 5.1 .1 2.4 1 2.7 4.1 1.4 4.5-1.4 .7-.3 5.1-1.3 5.1-1.7 1.8-1.8 3.4-2.9 3.5-2.2 1.6-.5 5.1-1.3 5.2-1 5.1-.7 5.1 .4 5.2 1.9 2.1 1.2 3 2.6 2.9 2.5 2 5.1 .2 1.7 .6 3.4 0 5.1 -.4 5.1 0 5.2 5 1.6 3.6 3.5 1.5 1.4 2.7 3.7 .3 5.1 -1.7 5.1 2 5.1 .9 5.1 .9 5.2 0 .9 .3 4.2 -.3 .6 -4.1 4.5zM755.6 1104.3l-5.2 1.9 -5.1-2.4 -.5-.7 .5-.8 5.1-3.6 5.2 2.3 1.2 2.1zM817.2 1112.2l-5.2-1.3 -1.5-2.7 1.5-2.8 5.2-1.9 2.9 4.7zM750.4 1134.3l-1.6-.5 -3.5-.6 -4.7-4.5 -.5-2 -.8-3.1 .8-2 1.3-3.2 3.9-3.4 5.1-.5 5.2 2.3 1.5 1.6 2.1 5.2 -.7 5.1 -2.9 3.5 -4.2 1.6zM894.2 1125.7l-5.2-1.7 -.4-.4 -.3-5.2 .7-.7 5.2-1.7 3 2.4 -.5 5.2zM842.8 1134.7l-.6-.9 -2.7-5.1 2.4-5.1 .9-1 5.2-.3 1.2 1.3 2.1 5.1 -3.3 5 -.8 .1zM765.8 1161.9l-5.1-1.1 -1.1-1.4 -3.6-5.2 .4-5.1 4.3-4.6 3.9-.5 1.2-.3 .6 .3 4.6 3.2 1.6 1.9 .7 5.1 -2.3 3.6 -1.9 1.6zM827.4 1223.4l-5.1 1.6 -2.9-4.2 -.8-5.2 -.3-5.1 -1.1-1.8 -5.2-1.8 -3.4-1.5 -1.7-.6 -5.1-2.7 -4.8-1.8 -.4-.3 -2 .3 -3.1 1.7 -5.1-1.1 -.9-.6 -4.3-1.4 -3.8-3.7 1.1-5.1 2.7-3.8 1.6-1.4 .1-5.1 -.9-5.1 -.8-3.2 -5.1-.8 -.4 4 -4.7 4.4 -5.2-1.2 -2.8-3.2 .9-5.1 1.9-2 5.2-1.2 5.1 2.3 3.1-4.2 2-1.5 3-3.6 2.2-1.3 5.1-3 1.4-.9 3.7-2.3 3-2.8 2.2-2.3 5.1-1.6 5.1 0 5.2 .3 5.1 .1 5.1-1.2 .9-.4 4.3-3.4 5.1-.7 5.1 2.4 1.7 1.7 3.5 2.1 3.7 3 1.4 1 5.1 3.7 .7 .4 4.5 4.5 .6 .7 4.5 5 .1 .1 5 4.1 1 1 3 5.1 -.9 5.1 -3.1 2.7 -3.2 2.4 3 5.2 -2.6 5.1 -2.3 1.2 -2.1-1.2 -3-4.2 -5.2 .7 -5.1 2.7 -1.9 .8 -3.2 1.7 -5.2 1.7 -4.5 1.7 -.6 .3 -5.1 2.4 -4.4 2.4 .6 5.1 1.1 5.1 -.8 5.2zM883.9 1190.3l-5.1 .8 -4.6-1 2-5.2 2.6-2.9 4.9 2.9 .2 .6 .3 4.6zM796.6 1258.9l-5.1-1 -1.2-1.3 -2.4-5.2 -1.4-5.1 -.1-.2 -2.9-4.9 -1-5.1 -.3-5.1 -.1-5.1 .5-5.1 1.3-5.2 2.5-4.6 .7-.5 4.4-4.7 2.9 4.7 1.6 5.1 .6 4.1 .5 1.1 .4 5.1 -.9 3.9 0 1.2 0 1.7 .8 3.4 4.3 5.1 .1 .2 3.3 4.9 1.5 5.1 -4.8 2.6 -1.4 2.6zM863.4 1241.6l-2.4-.4 -2.8-.6 -2.9-4.5 .4-5.1 2.5-3 5.2-.1 3.1 3.1 .8 5.1 -3.4 5.1zM848 1292.8l-.7-.4 -4.5-1.9 -3.2-3.2 -.5-5.2 -.3-5.1 -1.1-.3 -5.1-4.1 -1.2-.7 -4-2 -5.1-1.5 -5.1 1.4 -5.2-1.7 -1-1.3 -1.5-5.1 -2-5.1 -.3-5.2 4.8-2.6 1-2.5 4.2-2.4 5.1-1.1 5.1 2.5 1 1 4.2 3.4 1.6 1.7 3.3 5.2 .2 .3 4.3 4.8 .8 1.2 3.3 3.9 1.1 5.1 .8 1.9 5.1 2.4 5.1-2.1 4.3-2.2 .9-.7 5.1-2.7 1.8-1.7 3.3-4.4 .7-.7 4.5-3.3 5.1-.9 2.7-.9 2-5.2 .4-.6 1.5-4.5 1.7-5.1 2-2.4 2.5-2.7 2.6-3.3 3.3 3.3 -.4 5.1 -1.3 5.1 -1.6 2.4 -2 2.7 -3.1 4.4 -1.8 .8 .6 5.1 1.2 3.1 1 2 -.4 5.1 -.6 1.3 -2.6 3.8 -2.6 2.5 -5.1 1.4 -5.1-.4 -5.2 .3 -3.7 1.3 -1.4 1.6 -5.1 2.5 -5.2 1 0 .1 -5.1 4.7 -2.7 .4z"/>
<path fill="#006699" d="M735 1002.9l-5.1 2.2 -5.2-1.1 -5.1-2.6 -.7-.6 -3.8-5.1 -.6-1.4 -1.5-3.8 -1.2-5.1 -.8-5.1 -1.6-5.1 -.1-.1 -1.9-5 -.8-5.1 1.8-5.1 .9-1.1 5.2-2.9 2.5-1.2 2.6-1.2 5.1-2.3 5.2-.2 5.1 1.4 3.2 2.3 1.9 1.9 2.2 3.3 2.3 5.1 .7 1.9 1.1 3.2 .5 5.1 -.7 5.1 -.9 4.3 -.2 .8 -1 5.1 -1.9 5.2 -2.1 2.6 -2.9 2.5zM878.8 1032.3l-5.2 .2 -2.4-1 -2.7-2.3 -4.4-2.8 -.7-.5 -5.2-.2 -5.1-2.9 -1.2-1.6 -2-5.1 1.3-5.1 1.9-1.8 5.1-3.2 1.2-.1 4-.7 2.3 .7 2.8 .8 5.1 4.3 .1 0 2.5 5.1 2.6 1 3.4 4.1 1.7 3.8 .5 1.4 -.5 .7 -3.8 4.4zM735 1023.2l-5.1-1 -.9-1 -2.4-5.1 .8-5.1 2.5-4.4 5.1 1 2.3 3.4 1.9 5.1 -2 5.1zM745.3 1069.8l-5.2 1.6 -3-4.1 -1.1-5.1 0-5.1 .2-5.2 .4-5.1 1.6-5.1 1.9-2.3 1.4-2.8 3.7-5.1 .1-.1 4.9-5 .2-.2 5.2-1.1 1.1 1.3 2.2 5.1 .6 5.1 .2 5.1 -.1 5.1 -1.3 5.1 -2.7 3.1 -.7 2.1 -2.6 5.1 -1.9 1.9 -2.6 3.2zM837.7 1098.3l-5.1 2.4 -3.8-2.7 -1.4-2.5 -1.8-2.6 -2.7-5.2 -.6-.8 -5.1-.3 -5.2-.4 -2.6-3.6 -.4-5.1 -1-5.1 -1.1-2.4 -1.3-2.7 -3.8-3.3 -2.1-1.8 -3.1-1.9 -2.7-3.2 -2.4-4.4 -.7-.8 -4-5.1 -.1-5.1 .7-5.1 2.1-5.1 2-1.7 5.1-2.9 1.7-.5 3.5-1 5.1-.7 5.1 .5 2.5 1.2 2.7 1.5 3.8 3.6 1.3 2.7 1.5 2.4 1 5.1 -.2 5.1 -1.7 5.1 -.6 1.3 -2.8 3.9 -2.3 3.9 -1.2 1.2 1.2 2 5.1-.5 2.5-1.5 2.6-1.4 5.2 .7 .7 .7 4.4 4.2 .7 .9 .3 5.1 -1 2.3 -1.4 2.8 1.2 5.1 .2 1.8 .4 3.3 1.2 5.2 -1.3 5.1zM781.2 1053.4l-5.1 2.7 -5.1-.2 -5.2-2.9 -1.3-1.1 -1.2-5.1 2.5-3.5 1.5-1.6 3.7-2 5.1-.7 5.1 1.3 3.7 1.4 1.1 5.1 -2.7 5.1zM796.6 1083.3l-1.3-.7 -1.9-5.1 3.2-2.6 3.3 2.6 -2 5.1zM750.4 1103.9l-1.6-.8 1.6-1.2 2 1.2zM817.2 1108.6l-1.2-.4 1.2-.5 .3 .5zM755.6 1130.5l-5.2 2.5 -5.1-1 -3.5-3.3 -1.2-5.1 2.2-5.2 2.5-2.1 5.1-.7 4.9 2.8 .3 .4 2.5 4.8 -1 5.1zM894.2 1124.6l-2.9-1 -1.3-5.2 4.2-1.4 1.8 1.4 -.6 5.2zM848 1131.1l-5.2 0 -1.5-2.4 1.5-2.8 5.2-.4 1.6 3.2zM765.8 1159l-5.1-.5 -3.6-4.3 .3-5.1 3.3-3.4 5.1-.8 4.7 4.2 .3 5.1zM812 1200.4l-.4-.1 -4.7-1.1 -4.8-4 -.3-.6 -4-4.5 -1.2-1.8 -3.7-3.4 -1.4-1.5 -1.4-3.6 -1.3-5.1 -.7-5.1 .9-5.1 2.5-3 2.3-2.1 2.8-1.8 4.1-3.4 1.1-1 5.1-1.9 5.1 .3 5.2-.2 5.1-1.1 4-1.2 1.1-.4 5.2-2.7 5.1-1.2 5.1 1.6 4.1 2.7 1.1 .6 5.1 3.6 1.2 .9 3.9 4.5 .7 .7 3.1 5.1 1.4 2.7 3.1 2.4 2 1.8 2.7 3.3 -2.7 4.2 -.6 .9 -4.5 3.4 -2.1 1.7 -3.1 1.8 -5.1 2.5 -2 .9 -3.1 1.3 -5.2 1.6 -5.1 1.5 -2.6 .7 -2.5 .7 -5.2 .2 -5.1 .3 -5.1 2.7 -4.7 1.2zM771 1175.9l-5-1.2 5-2.8 1.2 2.8zM786.4 1198.1l-5.2-1.6 -1.4-1.3 1.4-3.2 2.8-1.9 2.4-2.1 3.6 2.1 1.4 5.1zM868.5 1190.8l-.5-.7 .5-.5 .4 .5zM796.6 1256.2l-5.1-1.5 -1.9-3.3 -1.1-5.1 -2.1-3.2 -1.2-1.9 -1.6-5.1 -.5-5.1 -.1-5.1 .6-5.1 1.7-5.2 1.1-2.1 4.8-3 .3-.3 .2 .3 2.9 5.1 1.1 5.2 .1 5.1 -.3 5.1 -.3 5.1 1.4 2 2.9 3.1 1.6 5.1 -.4 5.1zM822.3 1221.5l-.5-.7 -.6-5.2 1.1-2.7 5.1 2.6 .1 .1 -.1 .3 -2.8 4.9zM863.4 1238l-5.2-.7 -.7-1.2 .7-5.1 .1 0 5.1-.4 .4 .4 .9 5.1zM894.2 1254.1l-3.4-2.7 .8-5.1 1.7-5.1 .9-1 3.8-4.1 1.3-1.6 1.6 1.6 .3 5.1 -1.5 5.1 -.4 .6 -3.2 4.5zM853.1 1290.3l-5.1 1.1 -5.2-2.7 -1.4-1.4 -.5-5.2 1.9-5.1 -5.1-1.6 -3.9-3.5 -1.2-.9 -4.9-4.2 -.3-.2 -5.1-2.8 -2.5-2.1 -2.5-5.1 -.1-.7 -2.5-4.5 2.5-3.9 .9-1.2 4.2-1.7 3 1.7 2.1 .8 4.8 4.3 .4 .4 3.8 4.8 1.3 1.5 3.2 3.6 1.9 2.8 1.9 2.3 1.2 5.1 -2.6 5.1 4.7 .1 5.1 1.1 3.1-1.2 2-.9 5.2-2.7 2.6-1.5 2.5-1.4 3.8-3.7 1.3-1.7 2.7-3.4 2.5-1.8 5.1-1.3 5.1-1.4 2.6 4.5 2.1 5.1 -.4 5.1 -4.3 5 -.4 .1 -4.7 2 -5.1-.5 -5.2 .3 -5.1 1.8 -4 1.5 -1.1 .7 -5.2 .9 -1.8 3.6z"/>
<path fill="#007f80" d="M729.9 1002.1l-5.2-.7 -1.1-.6 -4-2.8 -1.8-2.3 -2.6-5.2 -.7-2 -.8-3.1 -1-5.1 -1.4-5.1 -2-4.7 -.1-.4 -.5-5.1 .6-1.6 2.3-3.5 2.9-1.8 5.1-2.2 2.3-1.2 2.8-1.3 5.2-.4 5.1 1.5 .3 .2 4.8 4.6 .4 .6 2.5 5.1 1.7 5.1 .5 5.1 -.7 5.1 -1.2 5.1 -1.2 5.1 -2 4.5 -.4 .7 -4.7 4.1 -2.4 1zM735 1021.9l-2.8-.7 -2.3-.7 -2.3-4.4 1.3-5.1 1-1.6 5.1 0 1.1 1.6 2 5.1 -2.4 5.1zM863.4 1022.5l-5.2-.6 -.9-.7 -4.2-4.2 -.5-.9 .5-1.7 .7-3.4 4.4-3.3 5.2-.7 5.1 2.1 2.4 1.9 .9 5.1 -3.3 4.7 -1.2 .4zM878.8 1030.8l-5.2 0 -4.8-4.4 .5-5.2 4.3-2.5 5.2 1.2 1.1 1.3 2.9 5.2zM745.3 1068l-5.2 1.4 -1.5-2.1 -1.6-5.1 -.2-5.1 .2-5.2 .7-5.1 2.4-5.1 2.6-5.1 2.6-3.6 1.6-1.5 3.5-3.6 5.2 .2 1.7 3.4 .9 5.1 .1 5.1 -.5 5.1 -2.2 4.4 -.2 .7 -1.6 5.2 -3.4 4.9 -.1 .2 -4.3 5.1zM812 1058.6l-5.1 1.6 -5.1-1.1 -2.7-2 -2.5-1.8 -2.5-3.4 -2.2-5.1 -.4-2.1 -1-3 .3-5.1 .7-1.4 1.8-3.7 3.3-2.3 5.2-1.9 5.1-.9 5.1 .8 5.2 3.3 1 1 2.9 5.1 .9 5.1 -.3 5.1 -2.3 5.1 -2.2 2.6 -3.6 2.6zM776.1 1052.8l-5.1 0 -1.4-.9 -1.7-5.1 3.1-3.2 5.1-.9 4.2 4.1 -2.7 5.1zM832.6 1098.2l-.4-.2 -3.1-5.1 .4-5.2 -2.1-3.2 -1.2-1.9 -2.3-5.1 -1.6-2.8 -1.8-2.3 1.8-3.1 .3-2 4.8-4.1 5.2 0 4.1 4.1 .4 5.1 -2.9 5.1 -.2 5.1 .3 5.1 1.7 5.2 -2.9 5.1zM755.6 1128.8l-5.2 3.1 -5.1-1.1 -2.2-2.1 -1.4-5.1 2.5-5.2 1.1-.9 5.1-.9 3.1 1.8 2.1 2.5 1.4 2.7 -1.4 5.1zM894.2 1122.7l-1.4-4.3 1.4-.4 .6 .4zM765.8 1157.8l-5.1-.6 -2.5-3 .3-5.1 2.2-2.3 5.1-.8 3.5 3.1 .3 5.1zM812 1195.5l-.9-.3 -4.2-.9 -3.8-4.2 -.9-5.2 -.2-5.1 -.2-2.9 -4.2-2.2 -1-1.3 -.8-3.8 .8-2.5 2.8-2.6 2.4-1.2 4.4-3.9 .7-.4 5.1-.4 5.2-1.6 4.3-2.8 .8-.3 5.1-2.5 5.2-1.9 1.9-.4 3.2-.9 3.6 .9 1.5 .3 5.2 2.6 2.9 2.2 2.2 2.2 2.7 3 2 5.1 .4 3.7 .5 1.4 1.2 5.1 -1.5 5.1 -.2 .2 -5.1 3.8 -1.7 1.1 -3.4 1.7 -5.2 1.9 -5.1 1 -5 .6 -.1 0 -.2 0 -5-.5 -5.1 .3 -.4 .2 -4.7 3.7 -4.5 1.4zM786.4 1195.7l-1.7-.5 1.7-1.2 .8 1.2zM796.6 1254.4l-5.1-2.7 -.2-.3 -.8-5.1 -.8-5.1 -3.3-.9 -1.8-4.2 -.7-5.1 0-5.1 .6-5.1 1.9-4.7 .7-.5 4.4-2.8 1.7 2.8 1.4 5.2 .2 5.1 -.4 5.1 -.9 5.1 3.1 4.3 .8 .8 2.3 5.1 -.6 5.1zM899.3 1244.1l-4-2.9 4-4.9 .9 4.9zM894.2 1252.3l-1.1-.9 -.4-5.1 1.5-4.3 3.5 4.3 -2.9 5.1zM842.8 1274.8l-5.1-.7 -2.4-2.2 -2.7-2.1 -3.6-3 -1.6-1.3 -4.5-3.8 -.6-.7 -3.7-4.4 -1.1-5.2 4.8-5 5.1 1.7 3.7 3.3 1.5 1.7 2.8 3.5 2.3 2.8 2.1 2.3 3 4.5 .5 .6 1.3 5.1zM883.9 1277.1l-.7-.1 -4.4-.3 -5.2 0 -4.2-4.8 4.2-4.1 .5-1 4.3-5.1 .4-.3 5.1-1.7 5.1 0 1.2 2 2.4 5.1 -.5 5.1 -3.1 3.5 -4.9 1.6zM868.5 1278.7l-5.1 1 -3.2-2.7 3.2-1.7 5.1-2.1 4.6 3.8zM853.1 1288.6l-5.1 1.7 -4.9-3 -.3-3.6 -.1-1.6 .1-.3 5.2-3.4 5.1 1.5 3.6 2.2 -2.2 5.2z"/>
<path fill="#009966" d="M735 997l-5.1 2.1 -5.2-.7 -3.6-2.7 -1.5-1.7 -1.8-3.5 -1.9-5.1 -1.4-5.1 0-.1 -1.3-5 -1.8-5.1 -.1-5.1 3.2-4.3 1.5-.8 3.6-1.4 5.1-2.7 5.2-.7 5.1 1.9 3.1 2.9 2 2.7 1.2 2.4 1.6 5.1 .6 5.1 -.8 5.1 -1.2 5.1 -1.4 5 0 .1 -3.5 5.2zM868.5 1016.7l-5.1 3.2 -5.2-.5 -3.2-3.3 1.1-5.1 2.1-1.6 5.2-.8 4.6 2.4 .5 2.8 .4 2.3zM735 1020.2l-5.1-1.5 -1.4-2.6 1.4-3.9 5.1-.8 2.1 4.7zM878.8 1029.1l-5.2 .1 -3-2.8 3-4.2 5.2 .3 2.5 3.9zM740.1 1067.4l0-.1 -2-5.1 -.4-5.1 .2-5.2 .8-5.1 1.4-2.9 1-2.2 2.7-5.1 1.5-2 3.2-3.1 1.9-1.9 5.2 1.7 0 .2 1.3 5.1 .1 5.1 -1.1 5.1 -.3 .7 -1.2 4.4 -1.7 5.2 -2.3 3.3 -1.4 1.8 -3.7 4.2 -4.9 .9zM812 1055l-5.1 1.5 -5.1-.7 -4.8-3.9 -.4-.5 -2.5-4.6 -1.1-5.1 .3-5.1 3.2-5.1 .1-.1 5.2-2.2 5.1-.9 5.1 .9 3.3 2.3 1.9 2.2 1.7 2.9 1.1 5.1 -.7 5.1 -2.1 3.7 -1.3 1.4zM832.6 1077l-5.2 0 -3.9-4.6 .9-5.1 3-2.7 5.2 0 2.7 2.7 .4 5.1zM832.6 1093.6l-.5-.7 .5-1.2 .4 1.2zM750.4 1130.8l-5.1-1.2 -1-.9 -1.6-5.1 2.6-4.7 1.3-.5 3.8-.7 1.2 .7 4 4.7 .2 .5 -.2 1 -1.7 4.1zM765.8 1156.6l-5.1-.6 -1.4-1.8 .3-5.1 1.1-1.1 5.1-.9 2.3 2 .2 5.1zM817.2 1190.9l-5.2 2.7 -5.1-1.9 -1.5-1.6 -1.6-5.2 -.5-5.1 -.3-5.1 3.2-5.1 .7-.7 5.1-4.2 1.2-.2 4-2.9 2.5-2.2 2.6-2 4.6-3.2 .5-.2 5.2-2.2 5.1-1.2 5.1 .7 5.1 2.9 .1 .1 5 5.1 .1 .2 2.3 4.9 .1 5.1 -1.3 5.1 -1.1 1.7 -2.6 3.4 -2.5 2 -5.2 2.5 -5.1 .6 -5.1-.4 -4 .4 -1.2 .2 -5.1 3.6 -4.1 1.4zM791.5 1237.3l-5.1 .4 -.7-1.6 -.9-5.1 -.1-5.1 .8-5.1 .9-2.3 4.5-2.9 .6-.4 .2 .4 1.8 5.2 .3 5.1 -.5 5.1 -1.4 5.1zM796.6 1252.6l-2.1-1.2 -1.5-5.1 3.6-3.2 1.7 3.2 -.7 5.1zM894.2 1248.6l-.4-2.3 .4-1.2 1 1.2zM842.8 1272.6l-5.1 .2 -1-.9 -4.1-3.2 -2.3-1.9 -2.9-2.5 -3.2-2.6 -1.9-2.2 -2.5-2.9 -.9-5.2 3.4-3.6 5.1 1.4 2.5 2.2 2.7 2.9 1.8 2.3 3.3 4 1 1.1 3.3 5.1 .8 3.4 .5 1.7zM889 1274l-5.1 1.9 -5.1-.4 -5.2-2 -1.4-1.6 1.4-1.4 1.8-3.7 3.4-3.9 2.7-1.2 2.4-.8 4 .8 1.1 .4 2.5 4.7 -.6 5.1zM848 1289.1l-3-1.8 -.5-5.2 3.5-2.4 5.1 1.9 .9 .5 -.9 3.1 -.6 2.1z"/>
<path fill="#00b34c" d="M729.9 996.3l-3.2-.6 -2-.7 -3.9-4.5 -1.2-1.9 -1.1-3.2 -1.3-5.1 -1.7-5.1 -1-2.3 -.9-2.8 .3-5.1 .6-.7 5.1-2.8 2.4-1.6 2.7-1.4 5.2-.9 5.1 1.9 .4 .4 3.9 5.1 .8 1.7 1.1 3.4 .5 5.1 -.7 5.1 -.9 3.4 -.7 1.7 -2.4 5.1 -2 2.9 -3.6 2.3zM863.4 1017.8l-5.2-.7 -.9-1 .9-4.8 .3-.3 4.9-.7 1.4 .7 1 5.1zM735 1018.1l-5.1-1.3 -.4-.7 .4-1 5.1-1.3 1 2.3zM878.8 1027.5l-5.2 0 -1.2-1.1 1.2-1.8 5.2 .2 1 1.6zM745.3 1064.9l-5.2-.1 -1-2.6 -.6-5.1 .2-5.2 1.1-5.1 .3-.7 2-4.4 2.8-5.1 .4-.5 4.9-4.6 .2-.3 .7 .3 4.4 5.1 .1 .5 0 4.6 0 .2 -.9 4.9 -1.2 5.1 -2 5.2 -1.1 1.6 -2.8 3.5zM812 1052.1l-5.1 1.8 -5.1-.8 -1.4-1.2 -3.8-4.3 -.4-.8 -1.2-5.1 .6-5.1 1-1.6 4.2-3.5 1-.4 5.1-.9 5.1 1 .4 .3 4.2 5.1 .6 1.7 .7 3.4 -.7 4.2 -.3 .9 -4.6 5.1zM832.6 1075l-5.2 0 -2.2-2.6 .9-5.1 1.3-1.2 5.2-.1 1.3 1.3 .4 5.1zM750.4 1129.8l-4.2-1.1 -.9-.7 -1.5-4.4 1.5-2.8 5.1-1.7 3.9 4.5 -2.1 5.1zM765.8 1155.5l-5.1-.8 -.4-.5 .4-5.1 5.1-.9 1.1 .9 .2 5.1zM812 1191.9l-3.8-1.8 -1.3-1.6 -1.4-3.6 -.9-5.1 -.1-5.1 2.4-3.3 .9-1.8 4.2-4 5.2-1 1.3-.1 3.8-3.3 1.3-1.8 3.8-3 4.6-2.2 .6-.2 5.1-1.4 5.1 .7 1.7 .9 3.5 2.2 2.9 3 2 5.1 -.1 5.1 -2.2 5.1 -2.6 3 -3.6 2.1 -1.6 .9 -5.1 .9 -5.1-.9 -5.2 2.7 -1.7 1.5 -3.4 2.5 -5.1 2.1 -2 .6zM791.5 1233.4l-5.1 .9 -.7-3.3 -.1-5.1 .8-4.7 .4-.4 4.7-2.6 .9 2.6 .4 5.1 -.6 5.1zM796.6 1248l-.5-1.7 .5-.5 .3 .5zM837.7 1271.3l-5.1-3.8 -.9-.7 -4.3-3.6 -1.8-1.5 -3.3-3.7 -1.2-1.4 -.9-5.2 2.1-2.1 5.1 .9 1.4 1.2 3.8 4.2 .8 1 4.1 5.1 .2 .3 3 4.8zM889 1272.6l-5.1 2.2 -5.1-.5 -4.1-2.4 2-5.1 2.1-2.4 5.1-2.3 5.1 2.1 1.4 2.6 -.8 5.1zM848 1288l-1.2-.7 -.5-5.2 1.7-1.1 2.9 1.1 -1.2 5.2z"/>
<path fill="#00cc33" d="M729.9 991.7l-3.3-1.2 -1.9-1.2 -2.1-3.9 -2.6-5.1 -.4-.8 -1-4.3 -1.3-5.1 2.3-4.5 .4-.6 4.7-3.2 5.2-1.7 5.1 2.7 1.7 2.2 2.4 5.1 .7 5.1 -1.4 5.1 -2.2 5.1 -1.2 2.6 -3.1 2.5zM745.3 1063.3l-5.2-1.1 -.7-5.1 .2-5.2 .5-2.6 .8-2.5 2.2-5.1 2.2-3.9 1.5-1.2 3.6-3.4 3.2 3.4 .7 5.1 -.6 5.1 -1.1 5.1 -2.2 5.1 0 .1 -4.1 5.1zM812 1048.8l-5.1 2.3 -5.1-1.3 -2.6-3 -1.8-5.1 1.5-5.1 2.9-2.4 5.1-1.4 5.1 1.7 1.7 2.1 1.5 5.1 -1.4 5.1zM832.6 1073l-5.2 0 -.4-.6 .4-2.7 5.2-1.5 .4 4.2zM750.4 1128.7l-.1 0 -5-3.9 -.4-1.2 .4-.8 5.1-1.8 2.2 2.6 -2.2 5.1zM765.8 1154.3l-.2-.1 .2-1.5 .1 1.5zM812 1190.2l-.3-.1 -4.6-5.2 -.2-.9 -.9-4.2 0-5.1 .9-1.3 1.9-3.8 3.2-3.1 5.2-1.2 5.1-.6 .7-.2 3.8-5.1 .6-.5 5.2-2.7 5.1-1.6 5.1 .7 5.2 3.3 .7 .8 2.3 5.1 -.4 5.1 -2.6 4.5 -.6 .6 -4.6 3.2 -5.1 .8 -5.1-.9 -2 2 -3.2 2 -3.4 3.1 -1.7 1.2 -5.1 2.7 -4.9 1.3zM791.5 1228.3l-3.7-2.4 3.7-3.3 .3 3.3zM832.6 1266.2l-5.2-4.1 -.5-.4 -4.5-5.1 -.1-.3 -.7-4.9 .7-.7 5.1 .6 .2 .1 4.5 5.2 .5 .4 3.5 4.7zM837.7 1269.4l-4.1-2.6 4.1-2.8 1.8 2.8zM883.9 1273.7l-5.1-.6 -2.1-1.2 1.3-5.1 .8-.9 5.1-2.1 5.1 2.5 .3 .5 -.3 1.6 -1.3 3.5z"/>
<path fill="#00e51a" d="M729.9 981.4l-1.5-1.1 -3.7-3.7 -.5-1.4 -.9-5.1 1.4-2.4 2.8-2.7 2.4-.9 1.8 .9 3.3 2.4 1.2 2.7 .3 5.1 -1.5 4.8 -1.1 .3zM745.3 1061.6l-5-4.5 .3-5.2 1.5-5.1 2-5.1 1.2-2.1 3.6-3 1.5-1.4 1.3 1.4 1.3 5.1 -.3 5.1 -1 5.1 -1.3 3 -1.7 2.2zM806.9 1047.3l-2-.5 -3.1-2.7 -.7-2.4 .7-2 5.1-3 5.1 4.6 .1 .4 -.1 .4 -3.9 4.7zM750.4 1124.7l-1.7-1.1 1.7-.6 .5 .6zM817.2 1188l-5.2 1 -3.8-4.1 -1.1-5.1 0-5.1 2.7-5.1 2.2-2.1 5.2-1.6 5.1-.2 3.9-1.2 1.2-1.7 3.3-3.4 1.9-1.1 5.1-1.5 5.1 .6 3.1 2 2.1 2.7 1.1 2.4 -.7 5.1 -.4 .8 -4.3 4.3 -.9 .7 -5.1 1 -5.1-1.3 -4.5 4.7 -.7 .4 -5.1 4.7 -.1 0zM827.4 1260.1l-2.9-3.5 2.9-3.2 2.8 3.2zM832.6 1264.4l-3.7-2.7 3.7-2.9 2.1 2.9zM837.7 1267.5l-1.1-.7 1.1-.8 .5 .8zM883.9 1272.5l-5.1-.6 0-.1 1.6-5 3.5-1.4 2.8 1.4 -1.4 5.1z"/>
<path fill="#00ff00" d="M745.3 1059.4l-2.6-2.3 -.4-5.2 1-5.1 1.8-5.1 .2-.4 5.1-3.6 1.4 4 -.1 5.1 -.9 5.1 -.4 .8 -3.3 4.4zM842.8 1172.4l-5.1 1.4 -5.1-2.1 -4.8-2.1 1.9-5.1 2.9-3 4-2.1 1.1-.3 3.7 .3 1.4 .2 3.8 4.9 -1 5.1zM817.2 1187.3l-5.2 .5 -2.7-2.9 -1.7-5.1 .1-5.1 3.1-5.1 1.2-1.2 5.2-1.9 5.1 .2 5.1 2.9 0 .2 2.9 4.9 -2.9 3 -.5 2.1 -4.6 4.5 -1.3 .6zM827.4 1257.6l-.8-1 .8-1 .8 1zM832.6 1262.7l-1.3-1 1.3-1 .7 1z"/>
<path fill="#19ff00" d="M745.3 1057.2l-.2-.1 -1.2-5.2 .6-5.1 .8-2.3 4.8-2.8 .3-.2 .1 .2 .2 5.1 -.3 1.7 -2.2 3.4 -2.8 5.2zM837.7 1170.5l-2.2-.9 -.1-5.1 2.3-1 5.1 .4 .5 .6 -.5 3.6 -.8 1.5zM817.2 1186.5l-5.2 .2 -1.6-1.8 -2.2-5.1 .1-5.1 3.5-5.1 .2-.3 5.2-2.1 5.1 .5 3.3 1.9 1.8 4.8 .2 .3 -.2 .2 -1.1 4.9 -4 3.8 -2.6 1.3z"/>
<path fill="#33ff00" d="M817.2 1185.7l-5.2-.2 -.5-.6 -2.7-5.1 .1-5.1 3.1-4.5 1.1-.6 4.1-1.8 5.1 .9 1.6 .9 2.9 5.1 -1.2 5.1 -3.3 3.2 -3.8 1.9z"/>
<path fill="#4dff00" d="M817.2 1185l-.5-.1 -4.7-.4 -2.7-4.7 .1-5.1 2.6-3.7 2.5-1.4 2.7-1.2 4.8 1.2 .3 .1 3.8 5 -1.2 5.1 -2.6 2.5 -5.1 2.6z"/>
<path fill="#66ff00" d="M822.3 1181.7l-5.1 2.5 -5.2-.7 -2.1-3.7 .1-5.1 2-2.9 4-2.2 1.2-.5 2.1 .5 3 1 3.1 4.1 -1.2 5.1z"/>
<path fill="#80ff00" d="M822.3 1181l-5.1 2.4 -5.2-.9 -1.5-2.7 .1-5.1 1.4-2 5.2-2.9 5.1 1.7 2.4 3.2 -1.1 5.1z"/>
<path fill="#99ff00" d="M822.3 1180.4l-5.1 2.2 -5.2-1.1 -1-1.7 .2-5.1 .8-1.2 5.2-2.7 5.1 1.6 1.7 2.3 -1.1 5.1z"/>
<path fill="#b3ff00" d="M817.2 1181.8l-5.2-1.2 -.4-.8 .2-5.1 .2-.4 5.2-2.5 5.1 1.5 1 1.4 -1 4.8 -.2 .3z"/>
<path fill="#ccff00" d="M817.2 1181.1l-4.5-1.3 .5-5.1 4-1.9 5.1 1.4 .4 .5 -.4 1.6 -2.1 3.5z"/>
<path fill="#e5ff00" d="M817.2 1180.3l-1.7-.5 -.2-5.1 1.9-.9 3.3 .9 -2.2 5.1z"/>
</g>
<rect x="673.4" y="745.0" width="242.7" height="598.7" fill="none" stroke="#9a9a9a" stroke-width="1"/>
<path d="M678.4 745.0v-7.5M678.4 1343.7v7.8M735.4 745.0v-7.5M735.4 1343.7v7.8M792.5 745.0v-7.5M792.5 1343.7v7.8M849.5 745.0v-7.5M849.5 1343.7v7.8M906.6 745.0v-7.5M906.6 1343.7v7.8M673.4 750.4h-7.6M916.1 750.4h7.6M673.4 807.2h-7.6M916.1 807.2h7.6M673.4 864.1h-7.6M916.1 864.1h7.6M673.4 920.9h-7.6M916.1 920.9h7.6M673.4 977.8h-7.6M916.1 977.8h7.6M673.4 1034.6h-7.6M916.1 1034.6h7.6M673.4 1091.4h-7.6M916.1 1091.4h7.6M673.4 1148.3h-7.6M916.1 1148.3h7.6M673.4 1205.1h-7.6M916.1 1205.1h7.6M673.4 1262.0h-7.6M916.1 1262.0h7.6M673.4 1318.8h-7.6M916.1 1318.8h7.6" stroke="#9a9a9a" stroke-width="1" fill="none"/>
<text x="663.8" y="755.5" text-anchor="end">4381000</text>
<text x="663.8" y="812.3" text-anchor="end">4380000</text>
<text x="663.8" y="869.2" text-anchor="end">4379000</text>
<text x="663.8" y="926.0" text-anchor="end">4378000</text>
<text x="663.8" y="982.9" text-anchor="end">4377000</text>
<text x="663.8" y="1039.7" text-anchor="end">4376000</text>
<text x="663.8" y="1096.5" text-anchor="end">4375000</text>
<text x="663.8" y="1153.4" text-anchor="end">4374000</text>
<text x="663.8" y="1210.2" text-anchor="end">4373000</text>
<text x="663.8" y="1267.1" text-anchor="end">4372000</text>
<text x="663.8" y="1323.9" text-anchor="end">4371000</text>
<text x="678.4" y="1365.9" text-anchor="middle">638000</text>
<text x="735.4" y="1365.9" text-anchor="middle">639000</text>
<text x="792.5" y="1365.9" text-anchor="middle">640000</text>
<text x="849.5" y="1365.9" text-anchor="middle">641000</text>
<text x="906.6" y="1365.9" text-anchor="middle">642000</text>
<g transform="translate(605.4,733.9)">
<text x="371.2" y="43.6" text-anchor="middle" class="sf" style="font-size:19px">N</text>
<path d="M371.6 47L363.3 82.3L371.6 76.8z" fill="#fff" stroke="#000" stroke-width="1.6" stroke-linejoin="miter"/>
<path d="M371.6 45.3L380.4 83.2L371.6 76.8z" fill="#000" stroke="#000" stroke-width=".6"/>
<rect x="357.8" y="110.70" width="24.9" height="7.88" fill="#ff0000"/>
<rect x="357.8" y="118.53" width="24.9" height="7.88" fill="#ff0a00"/>
<rect x="357.8" y="126.35" width="24.9" height="7.88" fill="#ff1400"/>
<rect x="357.8" y="134.18" width="24.9" height="7.88" fill="#ff1f00"/>
<rect x="357.8" y="142.01" width="24.9" height="7.88" fill="#ff2900"/>
<rect x="357.8" y="149.84" width="24.9" height="7.88" fill="#ff3300"/>
<rect x="357.8" y="157.66" width="24.9" height="7.88" fill="#ff3d00"/>
<rect x="357.8" y="165.49" width="24.9" height="7.88" fill="#ff4700"/>
<rect x="357.8" y="173.32" width="24.9" height="7.88" fill="#ff5200"/>
<rect x="357.8" y="181.14" width="24.9" height="7.88" fill="#ff5c00"/>
<rect x="357.8" y="188.97" width="24.9" height="7.88" fill="#ff6600"/>
<rect x="357.8" y="196.80" width="24.9" height="7.88" fill="#ff7500"/>
<rect x="357.8" y="204.62" width="24.9" height="7.88" fill="#ff8500"/>
<rect x="357.8" y="212.45" width="24.9" height="7.88" fill="#ff9400"/>
<rect x="357.8" y="220.28" width="24.9" height="7.88" fill="#ffa300"/>
<rect x="357.8" y="228.11" width="24.9" height="7.88" fill="#ffb300"/>
<rect x="357.8" y="235.93" width="24.9" height="7.88" fill="#ffc200"/>
<rect x="357.8" y="243.76" width="24.9" height="7.88" fill="#ffd100"/>
<rect x="357.8" y="251.59" width="24.9" height="7.88" fill="#ffe000"/>
<rect x="357.8" y="259.41" width="24.9" height="7.88" fill="#fff000"/>
<rect x="357.8" y="267.24" width="24.9" height="7.88" fill="#ffff00"/>
<rect x="357.8" y="275.07" width="24.9" height="7.88" fill="#e5ff00"/>
<rect x="357.8" y="282.89" width="24.9" height="7.88" fill="#ccff00"/>
<rect x="357.8" y="290.72" width="24.9" height="7.88" fill="#b3ff00"/>
<rect x="357.8" y="298.55" width="24.9" height="7.88" fill="#99ff00"/>
<rect x="357.8" y="306.38" width="24.9" height="7.88" fill="#80ff00"/>
<rect x="357.8" y="314.20" width="24.9" height="7.88" fill="#66ff00"/>
<rect x="357.8" y="322.03" width="24.9" height="7.88" fill="#4dff00"/>
<rect x="357.8" y="329.86" width="24.9" height="7.88" fill="#33ff00"/>
<rect x="357.8" y="337.68" width="24.9" height="7.88" fill="#19ff00"/>
<rect x="357.8" y="345.51" width="24.9" height="7.88" fill="#00ff00"/>
<rect x="357.8" y="353.34" width="24.9" height="7.88" fill="#00e51a"/>
<rect x="357.8" y="361.16" width="24.9" height="7.88" fill="#00cc33"/>
<rect x="357.8" y="368.99" width="24.9" height="7.88" fill="#00b34c"/>
<rect x="357.8" y="376.82" width="24.9" height="7.88" fill="#009966"/>
<rect x="357.8" y="384.64" width="24.9" height="7.88" fill="#007f80"/>
<rect x="357.8" y="392.47" width="24.9" height="7.88" fill="#006699"/>
<rect x="357.8" y="400.30" width="24.9" height="7.88" fill="#004cb2"/>
<rect x="357.8" y="408.13" width="24.9" height="7.88" fill="#0033cc"/>
<rect x="357.8" y="415.95" width="24.9" height="7.88" fill="#0019e6"/>
<rect x="357.8" y="423.78" width="24.9" height="7.88" fill="#0000ff"/>
<rect x="357.8" y="431.61" width="24.9" height="7.88" fill="#0f0aff"/>
<rect x="357.8" y="439.43" width="24.9" height="7.88" fill="#1f14ff"/>
<rect x="357.8" y="447.26" width="24.9" height="7.88" fill="#2e1fff"/>
<rect x="357.8" y="455.09" width="24.9" height="7.88" fill="#3d29ff"/>
<rect x="357.8" y="462.91" width="24.9" height="7.88" fill="#4c33ff"/>
<rect x="357.8" y="470.74" width="24.9" height="7.88" fill="#5c3dff"/>
<rect x="357.8" y="478.57" width="24.9" height="7.88" fill="#6b47ff"/>
<rect x="357.8" y="486.40" width="24.9" height="7.88" fill="#7a52ff"/>
<rect x="357.8" y="494.22" width="24.9" height="7.88" fill="#8a5cff"/>
<rect x="357.8" y="502.05" width="24.9" height="7.88" fill="#9966ff"/>
<path d="M357.8 118.53h24.9M357.8 126.35h24.9M357.8 134.18h24.9M357.8 142.01h24.9M357.8 149.84h24.9M357.8 157.66h24.9M357.8 165.49h24.9M357.8 173.32h24.9M357.8 181.14h24.9M357.8 188.97h24.9M357.8 196.80h24.9M357.8 204.62h24.9M357.8 212.45h24.9M357.8 220.28h24.9M357.8 228.11h24.9M357.8 235.93h24.9M357.8 243.76h24.9M357.8 251.59h24.9M357.8 259.41h24.9M357.8 267.24h24.9M357.8 275.07h24.9M357.8 282.89h24.9M357.8 290.72h24.9M357.8 298.55h24.9M357.8 306.38h24.9M357.8 314.20h24.9M357.8 322.03h24.9M357.8 329.86h24.9M357.8 337.68h24.9M357.8 345.51h24.9M357.8 353.34h24.9M357.8 361.16h24.9M357.8 368.99h24.9M357.8 376.82h24.9M357.8 384.64h24.9M357.8 392.47h24.9M357.8 400.30h24.9M357.8 408.13h24.9M357.8 415.95h24.9M357.8 423.78h24.9M357.8 431.61h24.9M357.8 439.43h24.9M357.8 447.26h24.9M357.8 455.09h24.9M357.8 462.91h24.9M357.8 470.74h24.9M357.8 478.57h24.9M357.8 486.40h24.9M357.8 494.22h24.9M357.8 502.05h24.9" stroke="#000" stroke-opacity=".55" stroke-width=".7" fill="none"/>
<rect x="357.8" y="110.7" width="24.9" height="399.18" fill="none" stroke="#888" stroke-opacity=".6" stroke-width=".7"/>
<text x="386" y="123.3">310</text>
<text x="386" y="139.0">308</text>
<text x="386" y="154.7">306</text>
<text x="386" y="170.3">304</text>
<text x="386" y="186.0">302</text>
<text x="386" y="201.7">300</text>
<text x="386" y="217.3">298</text>
<text x="386" y="233.0">296</text>
<text x="386" y="248.7">294</text>
<text x="386" y="264.3">292</text>
<text x="386" y="280.0">290</text>
<text x="386" y="295.7">288</text>
<text x="386" y="311.3">286</text>
<text x="386" y="327.0">284</text>
<text x="386" y="342.7">282</text>
<text x="386" y="358.3">280</text>
<text x="386" y="374.0">278</text>
<text x="386" y="389.7">276</text>
<text x="386" y="405.3">274</text>
<text x="386" y="421.0">272</text>
<text x="386" y="436.7">270</text>
<text x="386" y="452.3">268</text>
<text x="386" y="468.0">266</text>
<text x="386" y="483.7">264</text>
<text x="386" y="499.3">262</text>
<text x="386" y="515.0">260</text>
<text x="364" y="566" style="font-size:14px">T (K)</text>
</g>
<g transform="translate(605.3,734)">
<text x="190.5" y="657.4" text-anchor="middle" style="font-size:16.8px;white-space:pre" xml:space="preserve">WGS 84  UTM 48N</text>
<rect x="69.9" y="669.3" width="226.8" height="9.7" fill="#fff" stroke="#9a9a9a" stroke-width="1"/>
<rect x="69.9" y="669.3" width="56.7" height="9.7" fill="#000"/>
<rect x="183.3" y="669.3" width="56.7" height="9.7" fill="#000"/>
<text x="69.9" y="692" text-anchor="middle">0</text>
<text x="126.6" y="692" text-anchor="middle">1000</text>
<text x="183.3" y="692" text-anchor="middle">2000</text>
<text x="240.0" y="692" text-anchor="middle">3000</text>
<text x="296.7" y="692" text-anchor="middle">4000</text>
<text x="316.7" y="679.4" style="font-size:15.2px">Meters</text>
<text x="215.2" y="730.3" text-anchor="middle" class="sf" style="font-size:27px;letter-spacing:.9px">(d)</text>
</g>
<g fill="none" stroke="#e8141c" stroke-width="1.3" stroke-linecap="round"><path d="M68.6 137v14" stroke-width="1.6"/><path d="M676 132q-3.4 12 0 24"/><path d="M912.6 498q4.6 1 3 13q-.6 9-2.6 11"/><path d="M840 609.2h13"/><path d="M310.4 1236v12" stroke-width="1.6"/><path d="M175 745.2h3M781 745.2h3"/><path d="M916 1236v12" stroke-width="1.6"/></g>
</svg></body></html>
